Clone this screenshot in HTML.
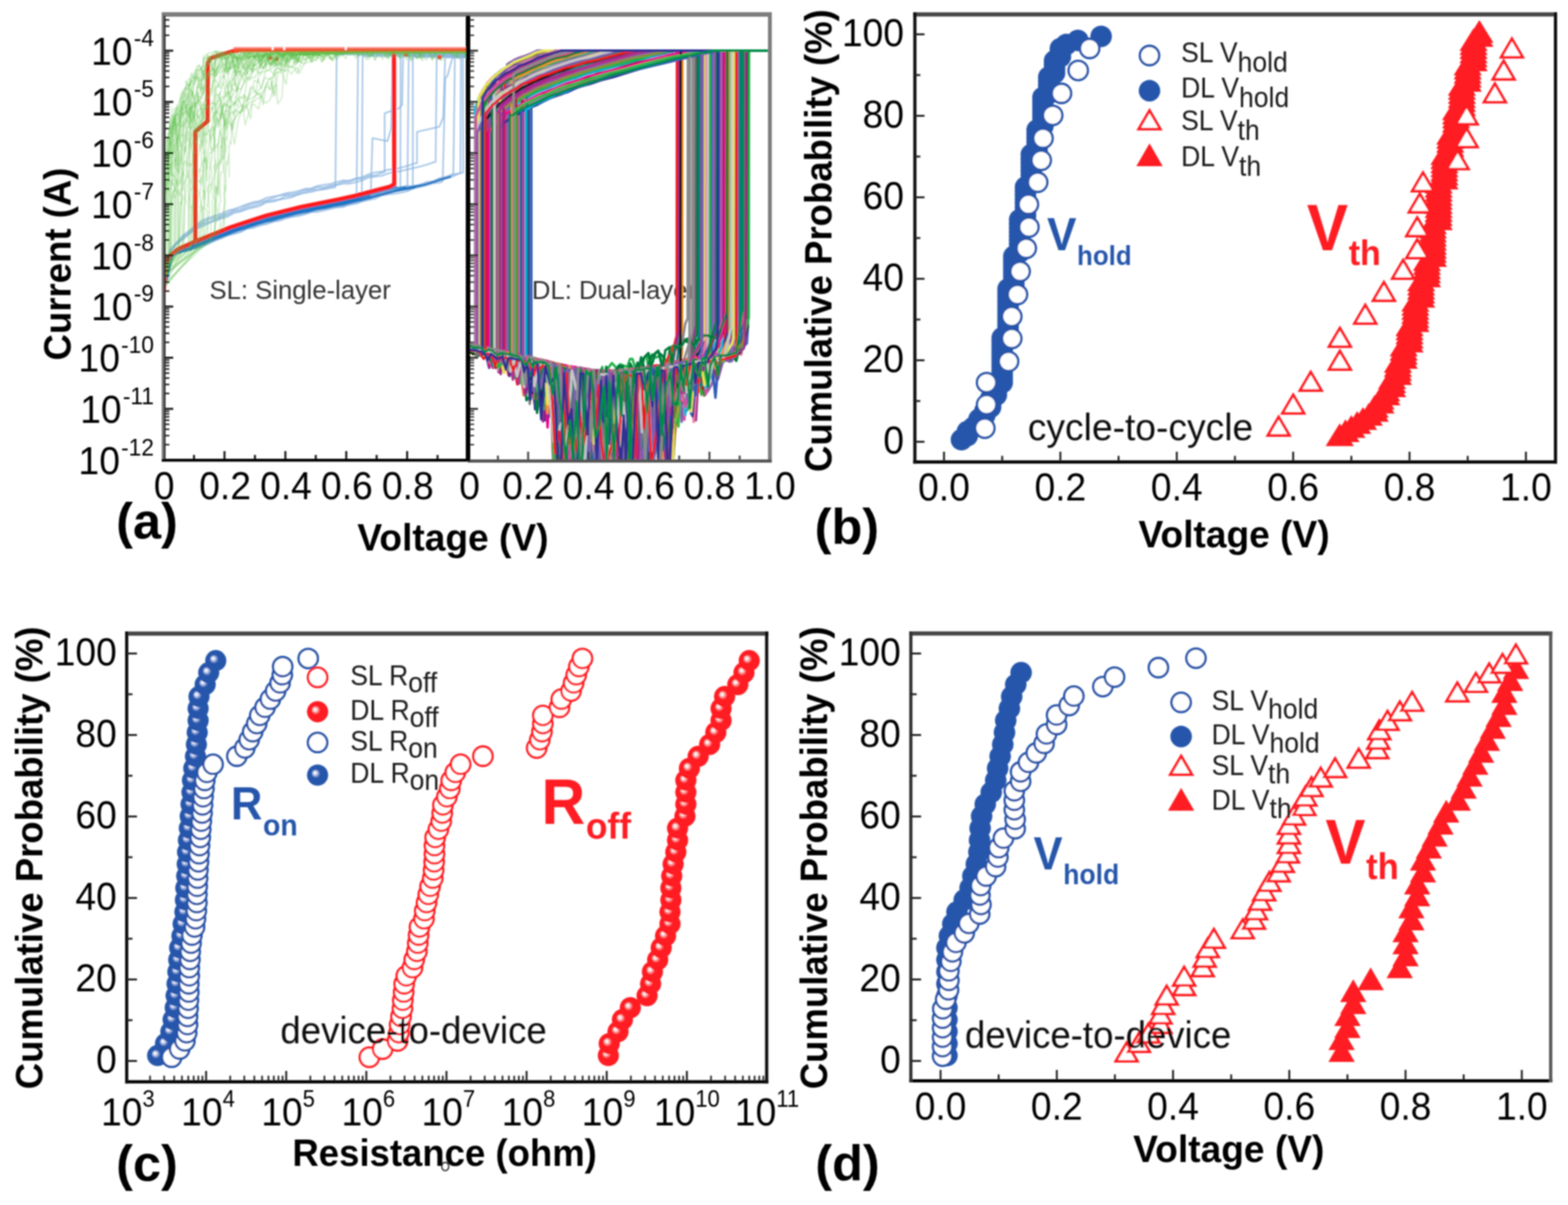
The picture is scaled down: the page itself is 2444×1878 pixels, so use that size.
<!DOCTYPE html>
<html lang="en"><head><meta charset="utf-8"><title>Figure: SL vs DL switching statistics</title>
<style>
html,body{margin:0;padding:0;background:#fff;}
body{width:2444px;height:1878px;overflow:hidden;}
svg{display:block;font-family:"Liberation Sans", Arial, sans-serif;}
</style></head><body>
<svg xmlns="http://www.w3.org/2000/svg" width="2444" height="1878" viewBox="0 0 2444 1878">
<defs>
<radialGradient id="gr" cx="0.5" cy="0.5" r="0.5" fx="0.36" fy="0.38">
<stop offset="0" stop-color="#fff"/><stop offset="0.14" stop-color="#ffe4e4"/><stop offset="0.42" stop-color="#ff1e24"/><stop offset="1" stop-color="#ff1e24"/></radialGradient>
<radialGradient id="gb" cx="0.5" cy="0.5" r="0.5" fx="0.36" fy="0.38">
<stop offset="0" stop-color="#fff"/><stop offset="0.14" stop-color="#e0e4fa"/><stop offset="0.42" stop-color="#2756ab"/><stop offset="1" stop-color="#2756ab"/></radialGradient>
<filter id="soft" x="-2%" y="-2%" width="104%" height="104%"><feGaussianBlur stdDeviation="0.9"/></filter>
</defs>
<rect width="2444" height="1878" fill="#fff"/>
<g filter="url(#soft)">
<g id="panel-a">
<text font-size="41.4" text-anchor="start" fill="#333" transform="translate(326.5 466) scale(0.967 1)">SL: Single-layer</text>
<text font-size="41.4" text-anchor="start" fill="#333" transform="translate(829 466) scale(0.967 1)">DL: Dual-layer</text>
<clipPath id="clipSL"><rect x="255" y="26" width="474" height="691"/></clipPath>
<clipPath id="clipDL"><rect x="730" y="26" width="470" height="692"/></clipPath>
<g clip-path="url(#clipSL)">
<path d="M255,452.9 L265,393.3 L275,380.8 L285,373.4 L295,364.5 L305,356.9 L315,353.1 L325,348.1 L335,343.9 L345,340.8 L355,337.5 L365,331.9 L375,329.8 L385,326 L395,323.4 L405,321 L415,315.4 L425,314.5 L435,311.2 L445,309.4 L455,307.4 L465,302.7 L475,300.7 L485,299.3 L495,296.2 L505,295.1 L515,293.3 L522.7,292 L524.8,84.7 L728,84.7" fill="none" stroke="#8db6e0" stroke-width="2.6" stroke-opacity="0.75" stroke-linejoin="round"/>
<path d="M255,455 L265,397.2 L275,390.8 L285,386 L295,382.2 L305,380.6 L315,375.1 L325,370.6 L335,367.1 L345,362.5 L355,361 L365,357.3 L375,352.5 L385,351.2 L395,347.5 L405,343.1 L415,338.9 L425,338.6 L435,335.4 L445,331.8 L455,331.6 L465,327.2 L475,324.5 L485,323.4 L495,322.4 L505,318.3 L515,317 L525,314.9 L535,314.5 L545,312.5 L555,308.6 L555.7,308.5 L558.1,85 L728,85" fill="none" stroke="#8db6e0" stroke-width="2.6" stroke-opacity="0.75" stroke-linejoin="round"/>
<path d="M255,454.5 L265,398.5 L275,389.5 L285,387.2 L295,381 L305,377.7 L315,375.7 L325,370.7 L335,365.8 L345,364 L355,358.3 L365,355.3 L375,351.5 L385,349 L395,345.5 L405,343.9 L415,338.4 L425,335.5 L435,333.7 L445,330.7 L455,329.8 L465,326 L475,323.4 L485,321.7 L495,319.6 L505,318.2 L515,316.6 L525,313.7 L535,311.9 L545,310.8 L555,308.7 L564,305.5 L565.2,87.5 L728,87.5" fill="none" stroke="#8db6e0" stroke-width="2.6" stroke-opacity="0.75" stroke-linejoin="round"/>
<path d="M255,456.8 L265,400.4 L275,393 L285,389.7 L295,387.7 L305,387.5 L315,384.8 L325,379.9 L335,374.3 L345,371.6 L355,366.7 L365,364.2 L375,361.4 L385,356.4 L395,353.1 L405,349.8 L415,349.1 L425,345.4 L435,344.2 L445,340.6 L455,338 L465,335.4 L475,333.2 L485,330.5 L495,327.9 L505,325.6 L515,323.7 L525,323.4 L535,321.2 L545,319 L555,315.4 L565,312.8 L575,310.2 L577.6,310.4 L580.6,215.2 L603.8,220.1 L609.8,200.9 L612.1,85.1 L728,85.1" fill="none" stroke="#8db6e0" stroke-width="2.6" stroke-opacity="0.75" stroke-linejoin="round"/>
<path d="M255,453.7 L265,392.1 L275,378 L285,369.5 L295,362.2 L305,352.7 L315,347.7 L325,342 L335,339.7 L345,336 L355,331.9 L365,327.3 L375,325.7 L385,320.2 L395,317.7 L405,314.5 L415,312.2 L425,308.6 L435,304.9 L445,303.4 L455,302.8 L465,300.2 L475,295.9 L485,295.3 L495,291.8 L505,292 L515,289.6 L525,287.6 L535,283.1 L545,283.4 L555,278.9 L565,278.4 L575,274.1 L585,273.4 L595,269.5 L599.6,268.3 L599.6,176.4 L620.8,169 L626.8,164 L628.3,86.2 L728,86.2" fill="none" stroke="#8db6e0" stroke-width="2.6" stroke-opacity="0.75" stroke-linejoin="round"/>
<path d="M255,454.8 L265,399.6 L275,391.1 L285,388.4 L295,384.2 L305,383.9 L315,380.7 L325,374.6 L335,370.8 L345,368.5 L355,362.3 L365,359.9 L375,355.3 L385,352.1 L395,350.3 L405,347.4 L415,343.3 L425,340 L435,337.7 L445,334.6 L455,332.4 L465,330.7 L475,329.1 L485,326.7 L495,325.7 L505,323.8 L515,322.1 L525,319 L535,317.4 L545,315.7 L555,311.4 L565,309.1 L575,307.3 L585,304 L595,302.5 L605,298.6 L615,296.9 L624,294.8 L624.4,85.4 L728,85.4" fill="none" stroke="#8db6e0" stroke-width="2.6" stroke-opacity="0.75" stroke-linejoin="round"/>
<path d="M255,455.4 L265,397.7 L275,392.6 L285,387.4 L295,382.5 L305,380.3 L315,375 L325,372 L335,368.8 L345,363.6 L355,360.4 L365,357.2 L375,352.8 L385,350.3 L395,348.3 L405,344.5 L415,340.5 L425,337.9 L435,334.9 L445,332.3 L455,330.6 L465,328.8 L475,327.2 L485,325.2 L495,323 L505,319.7 L515,317.4 L525,314.4 L535,314.1 L545,312.1 L555,309.9 L565,307.7 L575,302.7 L585,301.7 L595,297.8 L605,296.9 L615,295.2 L625,292.4 L635,289.4 L637.1,85.5 L728,85.5" fill="none" stroke="#8db6e0" stroke-width="2.6" stroke-opacity="0.75" stroke-linejoin="round"/>
<path d="M255,455.8 L265,400.4 L275,393.5 L285,387.9 L295,386.6 L305,384.1 L315,378.6 L325,374.7 L335,372.1 L345,366.7 L355,363.5 L365,361.6 L375,358 L385,352.5 L395,351.2 L405,346.4 L415,343.4 L425,342.7 L435,340 L445,337.8 L455,333.7 L465,330.4 L475,328.2 L485,327 L495,325.7 L505,322.8 L515,322.3 L525,318.5 L535,317.4 L545,314.6 L555,312.8 L565,309 L575,308.3 L585,304.1 L595,303.4 L605,299.8 L615,297.9 L625,295.8 L635,292 L643.5,291 L643.4,88.9 L728,88.9" fill="none" stroke="#8db6e0" stroke-width="2.6" stroke-opacity="0.75" stroke-linejoin="round"/>
<path d="M255,452.2 L265,391.5 L275,380.1 L285,371.6 L295,363.2 L305,355.6 L315,349.9 L325,346.3 L335,342.9 L345,338.2 L355,334.5 L365,329.3 L375,328.7 L385,323.3 L395,321.4 L405,317.7 L415,314.1 L425,312 L435,310.8 L445,305.7 L455,305.2 L465,303.4 L475,299.1 L485,296.8 L495,295.7 L505,294.1 L515,290.7 L525,288.6 L535,286.2 L545,286.2 L555,283.8 L565,281.1 L575,276.6 L585,275.2 L595,274 L605,270.2 L615,268.3 L625,266.6 L635,263.9 L645,261.7 L655,259.4 L665,256.8 L675,253.3 L679,252.2 L680.7,87.5 L728,87.5" fill="none" stroke="#8db6e0" stroke-width="2.6" stroke-opacity="0.75" stroke-linejoin="round"/>
<path d="M255,456.3 L265,398.1 L275,393.4 L285,387.1 L295,383.2 L305,381.8 L315,378.9 L325,373.3 L335,369.5 L345,364.7 L355,360.5 L365,357.8 L375,354.6 L385,350.9 L395,348 L405,345.3 L415,340.8 L425,338.7 L435,338 L445,335.1 L455,331.9 L465,329.4 L475,328 L485,324.4 L495,322 L505,321 L515,319.2 L525,316.7 L535,314.8 L545,313.5 L555,310.2 L565,308.9 L575,305.9 L585,303.9 L595,300.1 L605,298.2 L615,295.3 L625,292.1 L635,289.9 L645,290.3 L655,288 L665,283.8 L675,282.6 L685,278 L695,275.7 L705,273 L706.6,271.2 L709,89.1 L728,89.1" fill="none" stroke="#8db6e0" stroke-width="2.6" stroke-opacity="0.75" stroke-linejoin="round"/>
<path d="M255,456.7 L265,400.4 L275,393.7 L285,389.4 L295,385.3 L305,383.8 L315,380.5 L325,374.1 L335,372.6 L345,367.4 L355,363.7 L365,360.9 L375,357.4 L385,354.6 L395,351.3 L405,347.2 L415,344.3 L425,340.7 L435,339 L445,337.3 L455,332.2 L465,332.2 L475,330.1 L485,327.5 L495,326.1 L505,321.9 L515,319.8 L525,317.4 L535,315.2 L545,313.2 L555,311.7 L565,311 L575,306.2 L585,304.4 L595,302.6 L605,298.2 L615,297.9 L625,293.3 L635,293.7 L645,291.2 L655,287.6 L665,285.5 L675,282.6 L685,278.3 L695,275.7 L705,271.7 L715,270.5 L717.6,268.7 L718.4,87 L728,87" fill="none" stroke="#8db6e0" stroke-width="2.6" stroke-opacity="0.75" stroke-linejoin="round"/>
<path d="M255,456.7 L265,399.9 L275,392 L285,390.7 L295,386.2 L305,382.7 L315,382.3 L325,376.2 L335,372.8 L345,367.9 L355,364.5 L365,361.6 L375,357 L385,353.6 L395,352.3 L405,347.6 L415,345.9 L425,343.9 L435,339.2 L445,337.6 L455,336.3 L465,331.8 L475,330.4 L485,328.2 L495,326.8 L505,323.2 L515,322.9 L525,321.2 L535,319 L545,316.2 L555,314.7 L565,312.3 L575,308.9 L585,306.6 L595,302.6 L605,301.5 L615,297.4 L625,294.8 L635,295.4 L645,292.5 L655,289 L665,287.6 L675,285 L685,281.6 L695,277.7 L705,275.3 L715,270.8 L722,268.7 L721.5,86.7 L728,86.7" fill="none" stroke="#8db6e0" stroke-width="2.6" stroke-opacity="0.75" stroke-linejoin="round"/>
<path d="M255,451.8 L265,389.2 L275,378.5 L285,367.1 L295,359.6 L305,351.1 L315,343.6 L325,339.6 L335,336.5 L345,333 L355,328.3 L365,325.7 L375,322 L385,318.2 L395,315.1 L405,313.2 L415,308.3 L425,306.5 L435,304.8 L445,301.4 L455,299.9 L465,297.8 L475,294.4 L485,293.5 L495,289.8 L505,288.1 L515,286.8 L525,283.7 L535,281.3 L545,281.2 L555,278 L565,276 L575,271.5 L585,268.8 L595,267.4 L605,264.6 L615,263.4 L625,261.2 L635,258.6 L645,255 L650,254.4 L650,205.4 L684.8,197.6 L690.8,183 L693.8,89.4 L728,89.4" fill="none" stroke="#8db6e0" stroke-width="2.6" stroke-opacity="0.75" stroke-linejoin="round"/>
<path d="M255,456.6 L265,399.9 L275,394.4 L285,390 L295,389 L305,387 L315,383.3 L325,379.9 L335,375.4 L345,370.7 L355,366.9 L365,364.4 L375,361.4 L385,356.4 L395,355.1 L405,351.8 L415,349.1 L425,346 L435,342.1 L445,339.3 L455,337.8 L465,336.8 L475,334.1 L485,330.8 L495,330.2 L505,328 L515,325.8 L525,322.9 L535,322.6 L545,318.9 L555,317.4 L565,313.9 L575,311.5 L585,309.6 L595,304.9 L605,303 L615,301.9 L625,300.2 L635,298 L645,293.6 L655,291.5 L665,289.1 L675,285.7 L685,284.8 L690,282.5 L694,122.1 L697.6,117.8 L703.6,95.4 L706,89.1 L728,89.1" fill="none" stroke="#8db6e0" stroke-width="2.6" stroke-opacity="0.75" stroke-linejoin="round"/>
<path d="M255,454.9 L269,396 L283,390.2 L297,384.4 L311,379.3 L325,372.7 L339,366.6 L353,362.5 L367,356.8 L381,352.6 L395,347.6 L409,342.8 L423,340.2 L437,335.2 L451,332.2 L465,328 L479,326.2 L493,323.3 L507,320.9 L521,317.7 L535,315 L549,311.6 L563,308.6 L577,304.2" fill="none" stroke="#1f75c4" stroke-width="2.6" stroke-opacity="0.8" stroke-linejoin="round"/>
<path d="M255,455 L269,394.8 L283,387.3 L297,382.7 L311,375.7 L325,371.4 L339,364.1 L353,360.4 L367,354.8 L381,350.2 L395,344.8 L409,340.4 L423,337.2 L437,334.2 L451,329 L465,326.7 L479,322.9 L493,321 L507,317.6 L521,315.5 L535,311.4 L549,309.6 L563,305.5 L577,300.9" fill="none" stroke="#1f75c4" stroke-width="2.6" stroke-opacity="0.8" stroke-linejoin="round"/>
<path d="M255,455.3 L269,396 L283,386.9 L297,382.3 L311,375.4 L325,371.2 L339,364.9 L353,359.2 L367,354.2 L381,348.9 L395,344.6 L409,341.3 L423,337.1 L437,333.4 L451,330.3 L465,327.3 L479,323.9 L493,321 L507,318.1 L521,315 L535,312.7 L549,309.7 L563,305.3 L577,301.1 L591,297.8" fill="none" stroke="#1f75c4" stroke-width="2.6" stroke-opacity="0.8" stroke-linejoin="round"/>
<path d="M255,454.5 L269,394.9 L283,386.5 L297,382.4 L311,376.1 L325,369.8 L339,365.4 L353,359.8 L367,353 L381,348.7 L395,345.6 L409,340.6 L423,335.5 L437,333.2 L451,329.2 L465,325.7 L479,322.5 L493,319.1 L507,316.7 L521,314.3 L535,312.3 L549,309.3 L563,305.5 L577,301.2 L591,297.7 L605,293.9 L619,290" fill="none" stroke="#1f75c4" stroke-width="2.6" stroke-opacity="0.8" stroke-linejoin="round"/>
<path d="M255,456.2 L269,396.9 L283,391 L297,387.9 L311,381 L325,376.5 L339,370.3 L353,364.6 L367,359.7 L381,355.7 L395,350 L409,347.2 L423,343.4 L437,339 L451,335 L465,332.4 L479,328.8 L493,325.2 L507,323 L521,319.7 L535,316.6 L549,314 L563,311.2 L577,307.6 L591,304.3 L605,300.2 L619,297.2 L633,293.8 L647,291.4 L661,288.4 L675,283.5 L689,279.8 L703,275.5" fill="none" stroke="#1f75c4" stroke-width="2.6" stroke-opacity="0.8" stroke-linejoin="round"/>
<path d="M255,455.2 L269,396.2 L283,388.6 L297,384.1 L311,378.4 L325,373.7 L339,367.3 L353,360.9 L367,355.9 L381,351.5 L395,348.2 L409,342.6 L423,338 L437,335.3 L451,332.4 L465,329.2 L479,325.6 L493,323.3 L507,318.9 L521,318 L535,314.9 L549,311.8 L563,307.1 L577,303 L591,299.6 L605,295.6 L619,292.9 L633,291.2" fill="none" stroke="#1f75c4" stroke-width="2.6" stroke-opacity="0.8" stroke-linejoin="round"/>
<path d="M255,455.3 L269,398.9 L283,392.4 L297,389.4 L311,382.2 L325,377.6 L339,370.6 L353,366.6 L367,360 L381,356.5 L395,350.8 L409,346.2 L423,344.3 L437,339.3 L451,335.8 L465,333 L479,330.3 L493,326.5 L507,324.8 L521,321.2 L535,319.3 L549,315.6 L563,312 L577,308.8 L591,304.7 L605,300.9 L619,297.6 L633,295.1 L647,292.4" fill="none" stroke="#1f75c4" stroke-width="2.6" stroke-opacity="0.8" stroke-linejoin="round"/>
<path d="M255,455.5 L269,396.9 L283,392.9 L297,388.1 L311,382.9 L325,377 L339,370.3 L353,365.7 L367,361 L381,355.9 L395,351.8 L409,347.3 L423,342.1 L437,338.9 L451,336.5 L465,331.7 L479,328.8 L493,325.4 L507,323.9 L521,320.5 L535,317.4 L549,313.8 L563,312 L577,307.9 L591,303.5 L605,300.7 L619,295.9 L633,293 L647,289.8 L661,288 L675,283.7 L689,278.8 L703,275.4" fill="none" stroke="#1f75c4" stroke-width="2.6" stroke-opacity="0.8" stroke-linejoin="round"/>
<path d="M255,456.2 L269,397.7 L283,390.9 L297,385.1 L311,379.7 L325,374.5 L339,368.1 L353,362.6 L367,358.7 L381,352.5 L395,348.8 L409,345.2 L423,339.7 L437,337.7 L451,333.4 L465,329.6 L479,327.5 L493,323.6 L507,322.1 L521,318.9 L535,314.8 L549,311.7 L563,309.2" fill="none" stroke="#1f75c4" stroke-width="2.6" stroke-opacity="0.8" stroke-linejoin="round"/>
<path d="M255,454.5 L269,395.6 L283,389.5 L297,385.1 L311,377.7 L325,371.9 L339,366.2 L353,362.3 L367,357.3 L381,351.6 L395,348 L409,342 L423,339.4 L437,335.2 L451,331.6 L465,328.2 L479,325.1 L493,322 L507,320 L521,317.3 L535,313.3 L549,311.6 L563,307.7 L577,303" fill="none" stroke="#1f75c4" stroke-width="2.6" stroke-opacity="0.8" stroke-linejoin="round"/>
<path d="M255,455.8 L269,398.9 L283,392.2 L297,388.7 L311,383.2 L325,376.9 L339,371.5 L353,366 L367,359.9 L381,356.2 L395,350.5 L409,346.6 L423,343.7 L437,340.2 L451,335.7 L465,331.5 L479,330.2 L493,326.5 L507,322.8 L521,320.7 L535,318.8 L549,314.7 L563,312.3 L577,307 L591,303.7 L605,299.6 L619,297.2 L633,293.3 L647,291.5 L661,288 L675,284.2 L689,279.2 L703,275.1" fill="none" stroke="#1f75c4" stroke-width="2.6" stroke-opacity="0.8" stroke-linejoin="round"/>
<path d="M255,455.9 L269,395.8 L283,386.6 L297,381.3 L311,375.7 L325,370.6 L339,363.4 L353,359 L367,352.9 L381,349.3 L395,345.1 L409,339.6 L423,336.3 L437,333.1 L451,328.7 L465,324.9 L479,322.9 L493,319 L507,316.7 L521,314.3 L535,310.8 L549,307.8 L563,304.7 L577,301.2 L591,297.1 L605,294.5" fill="none" stroke="#1f75c4" stroke-width="2.6" stroke-opacity="0.8" stroke-linejoin="round"/>
<path d="M255,456.5 L258,413 L263.7,399.3 L277.4,388.3 L290,382.7 L304.5,376.2 L304.5,205 L323.5,189 L324,98 L328,91 L345,85 L362,80 L375,78" fill="none" stroke="#ff1e1e" stroke-width="6.5" stroke-linejoin="round"/>
<path d="M364,75.5 L728,75.5" fill="none" stroke="#ff8f8f" stroke-width="5" stroke-opacity="0.85" stroke-linejoin="round"/>
<path d="M364,78.5 L728,78.5" fill="none" stroke="#f0562f" stroke-width="5.5" stroke-linejoin="round"/>
<path d="M614,80 L614.5,287 L607.8,291 L550,306 L524.5,311.5 L469.6,322.5 L414.7,336.2 L359.8,354 L304.5,376.2" fill="none" stroke="#ff1e1e" stroke-width="6.5" stroke-linejoin="round"/>
<circle cx="421" cy="90" r="3.5" fill="#ff3a30"/>
<circle cx="431" cy="92" r="3.5" fill="#ff3a30"/>
<circle cx="633" cy="85" r="3.5" fill="#ff3a30"/>
<circle cx="685" cy="89" r="3.5" fill="#ff3a30"/>
<path d="M728,79.7 L724.8,81 L719.5,78.6 L712.6,88.1 L708.7,78.8 L702.2,83 L697.6,81.7 L690.7,79.3 L683.3,78.6 L679.9,80.3 L672.7,82.2 L667.9,79.3 L661.9,78.7 L655.9,78.9 L651.2,81.3 L647.2,81.8 L643.2,79.1 L636.9,80 L633.4,83.2 L627.1,81.9 L620.3,81.6 L616.9,79.1 L612.4,89.5 L607,81 L600.1,79.7 L596.8,80 L590.5,82.3 L584.6,93.2 L580.6,78.9 L575.1,80.8 L568.3,82.4 L560.5,88.4 L555.1,79.9 L551.2,83.6 L545.2,78.7 L541.3,82.1 L538.2,83.3 L531.7,82.8 L526.5,81.6 L521.1,79.5 L513.7,84.2 L510.1,84 L505.3,81.4 L502.2,79.4 L495.4,81.2 L488.5,80.5 L481.6,80.1 L475.3,82.2 L471.6,79.4 L464.8,83.1 L459.9,84.9 L453.6,90.5 L446.2,83.1 L442.2,83.6 L437.4,85.1 L430.5,79.3 L424.3,83.4 L417.1,84.6 L413.6,79.7 L406.3,95.4 L398.5,81.3 L391.2,113.6 L387.5,88.9 L381.1,92.7 L375,94.7 L371.7,86 L367.9,119.7 L362.8,89.6 L356.1,115.2 L348.6,82.2 L343.7,87.5 L338,92.1 L332.9,112.6 L327.1,91.2 L322.3,85.3 L320.3,85.9 L316.6,88.9 L317,96.6 L315.4,111.2 L310.2,101 L307.2,105.7 L305.7,108.5 L302.5,129.3 L299,149.3 L296.2,122.6 L294,123.6 L289.8,137.5 L290.9,177.3 L288.3,148.7 L284.5,142.6 L280.7,152.9 L281,176.7 L277.5,167.3 L275.4,168.3 L276.8,178.2 L273.2,179.3 L270.5,202.8 L270.1,185.6 L267.7,215.7 L265.3,200.9 L264.2,195.1 L263.7,200 L264.2,211.8 L261.3,242.5 L261.8,214.8 L259.2,220.3 L260.4,224.7 L258.8,244.6 L259.9,235.6 L258.2,242.2 L256.8,251.9 L256.7,250.7 L257.1,259.1 L256.1,265.8 L256.5,268.6 L255.7,273.5 L255.6,279.1 L258.1,281.4 L256.6,292.4 L258.4,293.8 L254.6,297.8 L256.7,303.6 L256,428 L256,422.9" fill="none" stroke="#5cbf4a" stroke-width="1.7" stroke-opacity="0.33" stroke-linejoin="round"/>
<path d="M728,93.7 L723.3,79.7 L718.6,81.7 L714.5,81.8 L707.1,83.4 L703.6,81.2 L697.5,82.2 L690,82.9 L684.6,79.3 L678.3,79.2 L673.7,79.7 L668.9,83.1 L661.7,82.1 L657.4,80.9 L650.9,91.1 L645.2,79.9 L638.6,81.7 L634.6,85.1 L630.3,82 L622.7,80.5 L616.2,81 L610.4,81.7 L607.1,85.1 L601.1,80.2 L594.3,78.8 L589.4,81.8 L585.6,79.7 L580,80.1 L572.3,80.7 L565.5,78.9 L558.1,83 L554.2,79.1 L550.8,81.7 L546.5,79.4 L541.5,78.7 L538,83.7 L531.9,81 L524.2,83 L520.2,83.3 L514.5,81.1 L509.3,84.2 L502.4,81.9 L498,86 L494.2,81.6 L490.2,85.7 L484.2,80.5 L477.5,79.2 L470.8,82 L464.5,86.7 L456.7,82.6 L449.6,80.7 L444.4,86.6 L438.2,81.8 L430.9,102.4 L423.6,86.9 L420.2,92.8 L415.2,82.7 L409.8,89.6 L406.2,101.2 L402.3,82.9 L394.8,82.7 L388.8,83.9 L385,83.1 L379,94.8 L371,88.6 L365.5,86.2 L359.4,109.5 L353.7,88.5 L347.8,120.3 L344.4,82.4 L338.2,88.1 L331.6,101.6 L328.3,89.1 L320.6,89.5 L316.8,91.3 L316.6,93.3 L317.2,103.7 L314.1,104.2 L307.8,102.5 L305.4,124.6 L300.6,118.7 L299.4,125.5 L296.9,128.1 L294.3,133.8 L289.3,125.4 L290.6,134.5 L285.4,140.3 L284.4,154.4 L282.1,145.7 L282.1,153.6 L280.6,154.5 L277,167.6 L276.3,169 L272.3,209.9 L270.2,182.4 L269.1,178.5 L265.6,182.3 L264.4,203.8 L265.1,205.7 L264.8,202.4 L262.2,210.7 L262.3,215.2 L263,214.3 L260.7,219.2 L259.2,243.7 L259.2,243.9 L261.4,234.6 L258,280 L257.5,242.7 L257.4,259.8 L256.1,271.7 L256.8,272.7 L258.4,263.9 L257.7,282.6 L257.9,277 L258.3,281.2 L257.5,285.3 L258.1,288.8 L256.5,303.3 L258.2,305.9 L257.5,422.3 L256,434.4" fill="none" stroke="#5cbf4a" stroke-width="1.7" stroke-opacity="0.33" stroke-linejoin="round"/>
<path d="M728,80.3 L723.6,80.8 L717.3,79.4 L710.1,88.2 L702.1,80.3 L695.7,83 L688.7,87.7 L681.7,78.8 L677,82 L669.7,83.3 L662.2,79 L656.1,81.2 L651.6,79 L645.2,81.2 L639.5,79.2 L633.8,93.1 L626,82.7 L620,79 L615.1,83.2 L607.7,83.1 L600,80.2 L593.5,78.7 L590,83.3 L584.9,79.7 L580.2,86.8 L576,79 L570.6,82.4 L567.4,79.2 L563.9,82.7 L556.7,82.9 L548.9,80.7 L542.3,79.1 L537.6,82.3 L534.3,79.1 L527.9,84.4 L523.5,84.1 L517.9,82.8 L510.3,83.7 L505.7,79 L500.1,84.9 L494.6,85.6 L487.2,80.3 L480.4,83.7 L472.6,79.7 L464.9,90.5 L457,86.6 L451.8,82.4 L446.9,83.6 L443.8,81.5 L438.9,85.5 L432.7,83.7 L425.5,84.7 L419.1,82 L413.3,97.1 L409.5,80.1 L404.8,92 L400.1,101.4 L394.3,103.2 L389.5,82.5 L383.8,81.2 L378.5,88.5 L372,101.7 L367.6,118.5 L364.2,86.3 L358.7,86.4 L351,91.4 L347.5,91 L342.5,87.4 L335.9,79.1 L328,87.8 L324.9,100.7 L321.9,89.9 L317.5,90.1 L318.9,92.8 L315.6,104.5 L311.8,110.5 L308.8,108.9 L304.3,109 L301.3,117.1 L298,113.9 L296.8,122 L293.3,160.5 L293.6,130.6 L290.6,133.8 L287.1,141.8 L284.2,154.5 L283.4,162.7 L282.5,151.3 L278.6,174.2 L278.7,180.7 L274.5,210.6 L272.3,168.6 L270,193.9 L270.3,198.1 L265.8,184.3 L264.4,208.8 L265.6,227.2 L265.2,225.4 L263.3,208.3 L261.8,206.9 L261,220.2 L262.4,218.4 L262.5,219.4 L262.3,250.2 L261.8,242.4 L259.5,245.8 L260.3,258.8 L259.4,264.6 L257.3,274.8 L257.8,262.5 L258.8,265.1 L259.9,282 L257,281.2 L259.1,288.3 L259.3,283.4 L259.1,304.1 L257.6,295.9 L255.6,312.5 L256,446.7 L256,438.7" fill="none" stroke="#5cbf4a" stroke-width="1.7" stroke-opacity="0.33" stroke-linejoin="round"/>
<path d="M728,80.1 L721.4,79.1 L713.6,80.1 L706.1,82.1 L701.3,83.4 L697.1,79.1 L694,81.7 L689.6,82.5 L682.8,81.6 L677.8,80.2 L670.6,83 L664,81.7 L657.8,83.2 L650.3,79.6 L643.2,80.4 L639.9,81.8 L636.1,83.3 L628.6,80.6 L623.5,82.9 L618.8,82.3 L614.1,79.2 L609.8,78.5 L602,90 L596.6,79.5 L589.4,80.9 L584.7,78.8 L579.3,80.7 L572.2,83.5 L568.9,80.4 L561.1,80.2 L558,81.3 L551.6,83.6 L545.9,78.8 L540.7,79.2 L537.5,83 L533.9,81.8 L526.8,79.7 L521.9,83.7 L514.6,79.7 L508.3,80.1 L502.7,79 L496.7,81.5 L491,80.5 L483.1,90.1 L478,86.7 L472.7,87.1 L465.8,79.3 L458.4,84 L454.4,81.4 L450,95.9 L446.4,85.2 L440.5,88.1 L435.7,84.3 L427.9,78.8 L423.7,80.3 L415.7,87 L411.9,86.3 L404.6,92 L398.6,78.7 L394.5,89.4 L387.3,105.1 L382.5,86.2 L377.5,80.9 L373.1,90.8 L366.9,89 L358.9,85.8 L351.6,87.7 L346.1,87.3 L339.2,93.2 L333,86.2 L327.7,95.3 L324.9,85.8 L324.5,90.2 L319.8,94.4 L320.2,98.7 L317.7,123.2 L312.7,105.2 L309.1,109.4 L306.8,111.6 L302.1,116.7 L301.5,125.6 L298.2,126.1 L295.8,132.1 L293.7,134.8 L290.2,139.1 L290,140 L287.3,149.8 L284.8,178.8 L283.3,162.8 L280.4,176.7 L277.1,167.9 L276.3,163.2 L273.3,173.7 L272.4,182.3 L269.4,194 L266.1,206.3 L265.1,192.7 L267.1,207.8 L266.2,206.6 L264.5,248 L264.1,213.7 L264.6,237.5 L263.2,251.8 L264.1,232.6 L261.4,278.2 L263,238.7 L260.4,260.9 L262.5,251.3 L259.7,254.8 L261.8,264.5 L260.1,269.1 L259.6,272.8 L258.2,278.4 L259.4,283.4 L258.9,288.8 L258.8,299.3 L259.3,299.1 L256.8,302.3 L256,436.6 L256,432.8" fill="none" stroke="#5cbf4a" stroke-width="1.7" stroke-opacity="0.33" stroke-linejoin="round"/>
<path d="M728,88.4 L721.1,78.7 L715.8,80.4 L712.3,80.9 L707.6,79.5 L704,82.7 L697.7,78.8 L693.2,79 L689.9,92.6 L682.1,92.3 L676.4,80.9 L669.1,82.1 L662.6,81.3 L656.2,83.3 L649.4,91.8 L644.7,79 L638.3,80.5 L630.5,82.3 L626.1,81.3 L618.7,78.6 L613.6,80.1 L609.4,78.9 L604.2,82.5 L600.8,81 L597.7,81.9 L589.9,80.5 L583.8,78.5 L577.4,79.1 L573.2,80.4 L569,81.4 L563.8,79.1 L559.4,81.3 L552.4,82.3 L546.5,83.6 L541.5,81.5 L536.1,80.1 L532.4,80.2 L528.3,82.7 L522.3,79.3 L515.2,84.4 L510.7,83.2 L506,79.4 L498.2,82.3 L494.6,85.9 L489.6,80.8 L483.4,83.7 L478.2,86.8 L473.9,82.1 L467.4,86.1 L461.7,100 L454.3,86.4 L447.1,84.3 L439.3,82.8 L435.5,82.8 L430.4,83 L425.7,88.6 L420.9,105.7 L416,84.1 L412.2,101 L408.8,89.2 L405.2,80.1 L398.1,88.7 L390.8,85.6 L386.6,81.5 L383.2,82.5 L379.3,89.9 L374.8,85.5 L368.9,91.2 L363.1,83.6 L358.9,86.3 L355.4,90.5 L351.9,85.3 L344.8,83.4 L339.2,80.1 L332.8,81 L323.4,83.3 L322.8,88.8 L323.2,94.2 L321.2,108.4 L316.1,111 L311,114.7 L310.2,119.7 L306.2,122.3 L303,119.8 L298.7,118.7 L298.2,126.4 L296,128.1 L293.9,139.7 L288.9,137.5 L287.3,142.7 L286.9,146.2 L284.7,173.3 L281.1,162.6 L281.7,173.5 L276.3,177.6 L274.9,169 L272.5,196.2 L271.2,178.1 L269.2,187.2 L265.4,198.5 L266.8,194.2 L265.6,206.9 L265.8,208 L263.8,204.1 L265,218.7 L265.4,221.5 L263.2,228.7 L263.9,239.8 L261.6,234.8 L259.7,255 L262.8,283.6 L260.3,250.1 L261.7,259.8 L259.7,259.2 L261.3,268.5 L258.1,280.8 L258.8,276.1 L259.6,288 L260.3,287.3 L258.2,294.3 L260.2,301 L260.2,301.3 L257.5,411.2 L256,443.1" fill="none" stroke="#5cbf4a" stroke-width="1.7" stroke-opacity="0.33" stroke-linejoin="round"/>
<path d="M728,82.3 L724.8,85.1 L721.6,81.2 L718.1,81.8 L711.3,79.4 L706,81.4 L700.5,80.4 L694,80.6 L688.6,80.7 L682.7,79.3 L675,81.6 L670,80.3 L664.1,80.3 L656.3,80.8 L649.7,82.5 L641.8,79.9 L634,82.9 L626.9,80.2 L621.3,82.6 L617.5,81.6 L611.3,79.8 L605.3,80.5 L600.3,81.5 L593.1,79.9 L587.8,83 L581.7,79.7 L577,78.6 L570.9,83.1 L564.6,82.9 L558.2,80.3 L554.5,82.1 L548.3,78.8 L542.1,82.7 L535.2,79.3 L530.5,79.7 L525.9,79.1 L520.8,89.6 L513.9,91.7 L509.6,87 L502,81.8 L497.2,83.2 L490.2,79.2 L485.4,86.7 L480.2,78.9 L476.7,95 L468.9,84 L463.3,83.6 L456.3,90.3 L451.6,81.2 L444.5,82.6 L436.8,79.8 L433.7,82.4 L427.6,99.6 L421.8,101.4 L414.1,79.1 L408.3,87.9 L403.6,85.3 L398.9,84.7 L391.7,98.9 L385.2,108.4 L379.4,79.1 L372.8,87.6 L369.5,80.6 L366.3,119.2 L360.3,80.4 L354,90.3 L349.6,90.7 L346.3,91.9 L341.1,88.7 L337.6,81.4 L333.7,120.2 L328.9,94.2 L328.2,95.4 L324,92.1 L324.9,102.7 L318.8,103.6 L318.3,106.7 L314.1,120.6 L310.6,136.6 L308.1,115.2 L301.7,120.5 L302.8,124.2 L298.9,129.1 L294.8,135.1 L293.4,145.4 L292,154.7 L290,158 L286,157.6 L284,157.5 L283.9,162 L281.3,183.5 L280.1,177.3 L275.3,228.2 L274.2,180.5 L269.9,188.9 L269.1,245.8 L266.9,196.4 L269.6,199.7 L268.2,234.8 L267.1,220.9 L265.9,215.2 L264.3,226.1 L266.7,224.5 L265.3,229.4 L262.5,240.4 L262.3,242.5 L262.6,245.2 L262.1,253.3 L263,271.5 L263.5,259.7 L261.9,268.8 L263.4,287.8 L262.8,280.3 L260.2,286.1 L261.5,298.1 L262.8,293.1 L259.3,298.7 L259.9,303.4 L258,409.9 L256,437.9" fill="none" stroke="#5cbf4a" stroke-width="1.7" stroke-opacity="0.33" stroke-linejoin="round"/>
<path d="M728,80.4 L724.4,79.5 L719.1,78.7 L713.2,80.8 L709,82.1 L701.2,83 L694.6,81.7 L689.3,79.8 L685.1,79.3 L679,83 L674.5,78.6 L669.3,80.2 L665.3,81.8 L660.5,81.5 L653.4,80.8 L648,80 L641.5,79.3 L636.7,82.8 L632.6,82.6 L626.5,83 L619.2,79 L614,83.4 L609.8,81.8 L605.6,91.9 L602,80.5 L598.2,80.3 L594.8,83.3 L589.9,79.1 L586.2,82.1 L583.1,81.3 L578.2,82.8 L573.5,80.4 L567.6,83.1 L563.5,82 L557.2,83.5 L551.1,80 L545.9,80.8 L539.4,79 L532,82.5 L524.8,84.5 L518,94.6 L510.8,84.3 L504.5,94 L499.8,84.4 L493.2,84.5 L489.1,82.3 L481.2,82.6 L474.7,80.8 L467.7,82.8 L462,84.5 L454.7,79.5 L447.6,86.2 L442.2,80.9 L436,102.2 L430.7,88.2 L426.8,98.8 L421.3,84.5 L414.5,84.7 L408.2,87.1 L401,79.9 L396.8,78.7 L392.1,78.8 L387.6,88.7 L382.8,79.9 L378.7,80.1 L372.6,84.5 L365.7,113.9 L359.9,79.2 L356,110.3 L350.3,91.8 L344.9,80.2 L337.5,111.3 L334.3,85 L330.7,85.2 L328.1,89.5 L325.1,92.8 L323.3,98.2 L319.7,102.2 L318.8,121.3 L313.2,105.8 L309.8,112.8 L307.1,115.4 L305.9,126.4 L300.1,132 L300.9,129.9 L296.4,143.5 L295.3,163 L292.7,150.8 L291.6,145.9 L287.5,168.3 L286.8,158.7 L283.8,157.8 L281.2,198.3 L281,178.1 L277.4,180.7 L276.1,178 L273.6,181 L271.1,206.9 L269.5,195.1 L267.5,212.9 L267.9,206.7 L269.3,209.9 L266.4,214.8 L265,264.3 L264.4,221.7 L264.6,242 L263.9,270.6 L263.1,241.3 L263.8,251.5 L263.6,251.6 L262.9,251.1 L264,262.3 L263.1,266.7 L263.9,283.1 L263.5,276.5 L260.3,288.5 L261.4,286.6 L263.3,293.9 L261.7,296.1 L261.4,306.2 L261.4,409.1 L256,431.9" fill="none" stroke="#5cbf4a" stroke-width="1.7" stroke-opacity="0.33" stroke-linejoin="round"/>
<path d="M728,79.7 L721.4,79 L713.9,79.7 L706.2,79.8 L701.5,81.1 L697,81.1 L692,78.5 L688,82.7 L684.5,78.8 L676.8,82.3 L670.1,79.1 L666.9,79.6 L662.1,83.3 L655.9,92.5 L651,82.3 L643,80.3 L639.8,82.5 L634.2,80.4 L627.5,82.6 L620.1,80.2 L614.3,83.2 L606.7,81.8 L599.2,80.8 L594.6,82.7 L589.2,80.4 L581.8,83.1 L575.7,88.5 L571.6,79.4 L568.2,78.6 L563,80.2 L559.6,82.7 L553,82.5 L545.6,81 L538.1,79.7 L531.8,82.8 L524.9,81.3 L518.1,78.6 L510.4,83.5 L503.8,81.8 L498.9,80.1 L491.4,84.2 L485.8,80.9 L480,84.2 L472.7,84.6 L465,78.7 L461.4,96.4 L455.5,87 L449,100.2 L443.9,83.5 L438.4,103.2 L433.5,85.8 L429.3,96.3 L421.5,79.5 L416.8,95 L409.6,107 L404.2,80.4 L400.3,79.7 L394.6,82.3 L386.7,82.7 L379.6,109 L375.6,97.6 L372.6,93 L365.4,84.7 L358.3,103 L353,81.3 L345.7,85.3 L341.2,91 L336.9,79.6 L332.1,91.3 L331.8,91.6 L330.2,93.5 L327.4,97.9 L322.7,102.5 L320.4,106.2 L316.5,123.6 L313.3,126.5 L309,124.9 L305.5,118.6 L303.2,132.2 L302,128.2 L300.5,152.2 L297.7,138.5 L296,141 L293.9,151 L288.8,201.5 L289.3,162 L285.5,156.6 L283.8,174.3 L282.3,193.5 L276.8,177.1 L277.8,180.3 L272.9,196.9 L269.9,182.1 L268.7,196.9 L269.5,197.5 L270,209.8 L270.9,220.3 L268.4,219.5 L267.1,229.1 L265.9,245.4 L266.1,237 L267,243.8 L267,262 L263.9,254.6 L266.3,265.3 L262.9,272.7 L263.1,271.4 L263.3,267.4 L262.5,274.1 L263,283 L263.2,283 L263.4,287.1 L262,293.6 L264.6,302 L263.7,306.3 L262.3,400.1 L256,428" fill="none" stroke="#5cbf4a" stroke-width="1.7" stroke-opacity="0.33" stroke-linejoin="round"/>
<path d="M728,83.4 L720.8,81.8 L714.3,81.5 L711.2,82.7 L706.9,79.1 L701.8,82.3 L694.6,81.4 L686.9,80.4 L681.8,85.5 L674.1,82.1 L670.9,79.2 L664.4,94.2 L657.7,82.9 L649.8,80.2 L645.3,83.1 L641,81.4 L636.8,80.2 L630.3,79.2 L622.6,83 L617.1,79.8 L611.9,84.8 L604.6,83 L601.4,79.7 L597.5,81.7 L591.1,78.5 L587,83.2 L580.7,81.5 L574.2,93.2 L570.3,79.7 L564.7,83.5 L557.5,79.4 L551.9,81.2 L545.8,81.9 L537.9,80.5 L533,84.2 L528.1,78.8 L523.4,81.6 L518.1,82.9 L514.1,82.1 L506.8,79.7 L500.9,79.2 L496.5,79.3 L490.8,85.7 L487.1,80.1 L484.1,84.6 L479.3,82 L474.8,86.6 L467.2,81.5 L461.7,79.6 L454.1,85.7 L450.4,80.9 L446.4,80.6 L441.8,86.4 L438.2,84.9 L431.1,78.8 L423.2,100.5 L418.9,95.5 L412.1,86.4 L407.4,88.5 L403.9,84.5 L398.4,89.2 L390.5,80.3 L385,87.3 L380,82.5 L372.1,86.3 L364.8,82.5 L359.8,98.2 L354,114.6 L350.2,80.3 L345.5,82.1 L341.4,79.9 L336.7,86.3 L333.9,88.5 L334.5,92.4 L333.7,110.9 L327.7,101 L322.2,131.9 L319.2,109.6 L315.2,112.8 L311.2,125.5 L310.1,120.4 L307.7,130.5 L304,155.7 L302.9,151.7 L298.2,141.7 L299.5,143.5 L297.1,149.2 L294.8,184.6 L289.1,163.2 L289.3,165.7 L284.8,184.5 L284.9,175.3 L280.9,179.3 L280.6,179.8 L277.6,193.9 L273.2,190.4 L273.5,195 L273.4,258.8 L270.6,208.5 L270.6,207.2 L270.5,230.8 L269.3,222.5 L271.8,229.9 L270.7,231.6 L267.8,245.8 L268.7,274.4 L266.2,264.6 L266.1,254.6 L269.1,254 L265.7,274.5 L265.8,268 L264.5,272 L264.5,280.1 L266.3,284.7 L264.3,302.9 L265.8,304 L264.5,304 L266,307.7 L263.8,394.7 L256,424.2" fill="none" stroke="#5cbf4a" stroke-width="1.7" stroke-opacity="0.33" stroke-linejoin="round"/>
<path d="M728,81.1 L721.2,83.2 L715.3,81.9 L709.5,79 L706,78.8 L702.8,81 L699.6,80.8 L694.1,81.5 L687.5,78.9 L679.7,81.1 L675.1,81.2 L667.2,80.3 L661.5,81.6 L655,82.3 L651.8,80.8 L646.9,79.1 L639.8,83.4 L635,82.4 L630.4,80.6 L627.2,81.7 L622.3,81.2 L614.5,82.3 L608.1,79 L600.3,82.8 L595,78.9 L588.3,81.6 L581,80.9 L576.6,80.5 L573.1,79.3 L565.7,83.1 L560.1,81.3 L555.1,91.2 L549.3,82.5 L542.5,81.8 L538.1,82 L532.2,88.2 L527,79.4 L520.1,85 L514.7,80.2 L506.7,83.1 L502.6,80.3 L496.8,78.9 L490,84.6 L485.4,79.1 L481.8,86.5 L478,80 L473.8,85.6 L466.8,85.7 L462,85.7 L457.6,91.9 L452.3,87 L448.4,84 L444.5,84.8 L441.4,85.9 L438.4,88.1 L434.9,81.5 L427.4,83.2 L420.1,87.1 L416.9,87.1 L410.3,79.9 L404.3,80.6 L399.4,83.2 L394.3,88.7 L387.3,88.2 L380,92 L376.7,90.3 L373.6,104.8 L369.6,89.1 L362.2,89.9 L355.6,91.9 L350.9,113.2 L345.3,86.2 L339.7,87.9 L337.6,87.6 L335.7,92.4 L333.8,98.5 L328.3,110.9 L324.8,118 L323.4,123.5 L318.2,122.5 L316.4,112.1 L313.1,143 L311.1,127 L307.9,138.7 L303.7,166 L299.8,149.2 L299.8,150.8 L295,199.3 L296.4,163.9 L290.7,162.8 L290.6,165.4 L288.5,168 L283.4,171.5 L281.4,176.1 L281.4,181.4 L278.1,197 L274.9,194.6 L275.2,198.1 L272.8,207.3 L275.1,223.2 L274.4,218.9 L271.7,236.5 L272.6,224.6 L272.7,223.9 L268.8,235.8 L270.7,238 L269.5,250.2 L267.5,258.2 L268.4,288.9 L268.4,268.7 L267.5,271.4 L269.3,284.7 L266.5,280 L266.8,280.2 L266.4,289.6 L267.9,300.1 L268.7,305.1 L268.1,306.7 L266,318.6 L265.3,393.4 L256,423.6" fill="none" stroke="#5cbf4a" stroke-width="1.7" stroke-opacity="0.33" stroke-linejoin="round"/>
<path d="M728,79.6 L722.2,81.2 L715,81.3 L707.2,81.2 L702.5,80.9 L695,83.2 L688.2,78.5 L680.8,81.8 L675,83.4 L669.7,83.2 L664.8,81.2 L659.3,79.5 L651.9,79.2 L644.7,81.4 L639.6,80.6 L635.5,78.8 L632.1,82 L624.2,82.3 L620.8,83 L615.5,81.3 L611.6,83.1 L604.5,78.9 L597.2,80 L591.8,80.3 L586.5,81.7 L581.4,81.1 L575.9,78.8 L571.9,80.9 L566.2,81 L561,81.9 L554.3,82.3 L551,79.8 L547.9,81.9 L541.1,84.1 L536.7,79.3 L530.6,79.8 L525.5,83.3 L520.2,79.5 L515.1,82.1 L509.1,82 L505.4,80.3 L500.9,81.7 L496.3,81.1 L492,85.2 L484.5,79.2 L480.9,80.7 L473.5,86.9 L470.4,83.3 L465.4,79 L460.4,78.8 L455,82.6 L447.3,81.6 L442.5,81 L436.5,81.1 L428.8,83.8 L421.3,84.3 L414.9,93 L408.6,99.3 L401.1,87.4 L397.1,88.2 L389.7,82.8 L381.8,84 L376.8,90 L371.3,101.6 L364.3,81.7 L358.8,83.4 L353.6,92.1 L349.2,87.5 L344.4,86.7 L344.9,89.6 L340.2,101.1 L337.7,119.4 L335.2,109.4 L331.2,104.2 L328.8,118.3 L321.3,114.4 L318.8,114.5 L317,124.2 L313.8,122.6 L313.3,140 L307.8,133.8 L308,158.9 L304.8,167.8 L300.7,142.4 L297.4,154.2 L298.2,188.6 L293.9,169.6 L292.9,159.4 L290.1,175.2 L284.1,179.4 L281.4,189 L281.2,199 L279.7,211.3 L276.7,219.2 L279.1,201 L275,217.6 L277.8,231.4 L275.3,235 L276.7,221 L272.9,250.7 L274.3,266.6 L273.1,235.6 L273.5,244.3 L271.2,251 L270.1,258.3 L273.5,263.2 L272.3,282.2 L269.3,271.2 L272.5,275.6 L269.2,281.8 L269.3,284.9 L271.7,294.2 L270.1,300.9 L269.4,303.1 L268.4,308.7 L266.7,395.5 L256,420.1" fill="none" stroke="#5cbf4a" stroke-width="1.7" stroke-opacity="0.33" stroke-linejoin="round"/>
<path d="M728,81.9 L725,80.9 L721,80 L716.2,82.9 L711.6,82.9 L704.3,82.6 L697.3,81.1 L690.1,79 L683.9,81.5 L676.5,79.8 L669.6,82.4 L666.5,83.4 L662.4,79.7 L655.9,81.3 L652.8,82.3 L649.4,79.2 L645.8,79.9 L642.4,94.4 L635,82.6 L631,80.2 L626.9,81.2 L621.4,83.2 L615.1,82.1 L611.2,79.2 L605.6,79.7 L601,81.1 L598,82.3 L591.2,79 L587.3,80.2 L581.1,82.2 L577.8,82 L571.1,79.1 L566.7,80.8 L563.1,78.7 L555.4,81.1 L551.4,79.8 L543.7,79.8 L539.4,91.1 L531.4,82.4 L526.5,78.6 L520,80.8 L515.8,80.5 L509.6,81.9 L504.5,82.3 L496.6,80.2 L492.3,85.3 L489.2,83.6 L486,97.6 L479,83.4 L475.8,91.2 L469.5,91.9 L464.3,96.4 L460.1,79.9 L456.4,84.7 L449,102.2 L441.2,90.9 L437.8,86.7 L433.2,81.9 L426.3,81.8 L423.1,88 L419,84.4 L413.1,83.4 L405.4,105.3 L402,86 L397.7,89.3 L393.2,79.5 L390.2,82.8 L384.2,89.6 L376.3,90.4 L369.5,90 L363.5,84.7 L357.8,85.2 L352.7,99 L348.7,83.1 L345.5,93 L345.8,93.1 L339.9,105.1 L339,105.6 L334.5,113.8 L329,116.1 L326.2,111.6 L320.5,123.9 L317.5,126.1 L317.7,142.5 L314.6,130.4 L312.4,171.1 L308.5,146.8 L307.2,157.4 L302.2,167.5 L301.3,164 L299.9,168.4 L294.6,179.8 L291.1,174.4 L288.7,172 L286.5,175.3 L286.1,212.1 L282.8,210.6 L280.1,185.6 L280.3,199.6 L278.3,249.4 L278.2,259.4 L278.5,269.2 L278,211.6 L275.4,227.8 L275.2,238.3 L275.3,239.5 L274.8,252.3 L273.8,245.9 L272.6,251.9 L273.7,255.2 L271.2,260.1 L271,266.4 L273.5,283.9 L270.4,287.2 L272.4,291.6 L272.5,298.5 L272.9,294.2 L270.6,298.2 L270.5,304.2 L271.2,318.5 L270.5,395.8 L256,437.6" fill="none" stroke="#5cbf4a" stroke-width="1.7" stroke-opacity="0.33" stroke-linejoin="round"/>
<path d="M728,82.4 L722,81.7 L714.8,79.8 L710.4,80 L704.6,78.8 L701.5,81.3 L693.9,81.5 L690.5,82.2 L683.7,79 L679.5,82.5 L672.8,82.4 L667.6,82.8 L660.6,80.4 L653.2,82.8 L649.5,83.5 L642.1,79.7 L635.9,80 L630.8,81.3 L623.1,81.4 L617.5,79.2 L611,81.9 L606.4,80.7 L598.7,81.8 L591.6,78.8 L585.9,82.6 L577.9,83.2 L571.8,79.2 L568.4,81.6 L560.7,81.3 L555,80 L547.3,82.1 L543.9,80.3 L539.3,84.1 L535.3,84.4 L527.7,81.3 L520.1,80.8 L512.8,79.7 L507.8,80.7 L500.5,89 L494.7,82.4 L489.4,84.4 L483.4,84 L480.3,85.4 L475.1,86.5 L469.8,83 L466.5,81.9 L461.1,78.8 L455.3,85.1 L447.9,97.4 L443.2,86 L436.1,93.1 L430.4,88 L422.5,81.8 L415.6,84 L410.6,88.5 L407.5,83.4 L402.4,94.5 L394.5,88.6 L387.1,90 L382.1,82.3 L375.3,89.3 L368.1,90.8 L360.4,88.2 L354.2,79.6 L351.4,86.4 L347.9,87.9 L346.5,94.1 L343.1,103.8 L341.6,110.6 L335,118.7 L333.5,107.6 L326.2,110.6 L323.8,116.1 L320.5,121.6 L318.6,134.7 L317.1,143.7 L315.2,152.8 L309.4,150.9 L307,143.8 L303.8,149.4 L303,205.5 L300,157.8 L297,184.2 L296.1,165.9 L292.8,173.6 L290.8,186.3 L286.4,198.1 L285.9,192.7 L280.7,199.7 L280,194.6 L278.8,210.2 L281.2,228.2 L280.6,208.5 L276.8,216.3 L277,221.1 L278.9,270.1 L278,238.9 L275.3,247.2 L274.3,251.2 L274.3,249.4 L274.8,254.2 L274.5,264.5 L276.1,264.1 L275.2,272.9 L274.1,307.1 L273,285.2 L273.3,293.8 L271.8,294.6 L271.2,308.9 L272.8,304.7 L274.4,310.6 L274.4,395.7 L256,437.5" fill="none" stroke="#5cbf4a" stroke-width="1.7" stroke-opacity="0.33" stroke-linejoin="round"/>
<path d="M728,83.3 L724.6,78.6 L717.3,82.3 L711.1,82 L706.7,79.5 L702.1,82.8 L696.6,83 L690.2,79.7 L686.5,81.7 L679.3,81.2 L675.6,80.2 L668.3,78.6 L660.4,81.1 L656.9,82.3 L650,83.4 L643,81.8 L636.9,78.8 L633.1,78.9 L629.7,81.7 L626.5,83.5 L622.3,79.9 L618.5,79.4 L613.4,82.4 L609.9,82.2 L602.4,80.8 L597.9,79.1 L590.3,79.2 L584.5,78.7 L580,78.9 L576.4,88.8 L572.3,80 L567.5,82.2 L561,79.1 L555,83 L550.4,81.5 L546.7,86.4 L538.9,80.3 L531.5,83.4 L524.7,80.9 L517.7,91.5 L512,83.7 L504.5,84.4 L496.8,80.9 L492,79.8 L485.2,79.9 L479.3,80.2 L475.3,86.1 L470.7,79.8 L466.1,96.4 L462,87.1 L455.1,81.9 L449.4,81.4 L446.3,81.9 L438.5,87.9 L435.1,88 L427.3,79.6 L421.5,84.5 L416.5,83.9 L409.1,92.8 L402.3,88.1 L394.7,104.3 L388,82.4 L380.8,81.7 L373.6,81.5 L366.7,84.6 L360.6,83.2 L353.7,84.7 L353.4,92 L351.7,112 L349.4,97.6 L346.4,101.3 L338.8,104.4 L334.3,125.8 L333.8,111.6 L329.9,140.9 L325,136.3 L322.6,139.7 L320.9,132.5 L317.3,147.7 L316.1,135.7 L309.8,145.9 L308.9,156.3 L304.7,168.7 L303.7,159.8 L301.6,161.9 L297.7,169.2 L294.7,167.1 L292,178.7 L290.6,193 L285.5,189.2 L284,193.1 L284,216.4 L284.4,195.7 L283.9,208 L281.4,217.9 L282.4,246 L281.3,256.2 L279.7,234.2 L279,240 L278.7,258 L277.8,247.6 L276.4,254.4 L276.3,258.6 L278.5,273.3 L277.4,277.7 L275.4,289.9 L275.1,279.8 L274.1,285.1 L274.2,292.1 L274,294.4 L276.3,299.7 L273.9,305.6 L273.3,314.4 L272.4,390 L256,427.8" fill="none" stroke="#5cbf4a" stroke-width="1.7" stroke-opacity="0.33" stroke-linejoin="round"/>
<path d="M728,81.8 L723.4,80 L718.8,80.6 L710.9,79.5 L704.1,83 L700.6,81.7 L697.1,83 L693.7,83 L685.8,80.8 L678.8,81.2 L674.3,94.1 L669.9,80.6 L666,80.5 L660.5,79.9 L655.1,79.9 L650.2,82.2 L645,78.9 L640.5,83.4 L636.7,82 L632.1,88.1 L626.1,82.6 L621.2,82.8 L616.7,83.4 L609.1,80.6 L605,82.3 L601,78.7 L593.4,81 L587.1,81.5 L580.6,80.2 L575.5,82.5 L571.6,83.4 L567.3,80 L562.9,81 L555.1,80 L550.8,79.6 L546.9,81.3 L539.8,79.8 L534.8,79 L531.7,81.2 L528.3,88.8 L520.9,80.3 L514.1,78.7 L509.3,80.3 L502.6,83.8 L495.9,85.2 L489.8,81.3 L484.6,95.2 L477.1,85.3 L472.4,79.6 L466,81.2 L458.2,85.5 L452.4,82.9 L447.3,87.7 L440.8,80.1 L435.5,88.4 L427.9,95.1 L422.8,98.9 L414.8,88.1 L408.4,80 L404.4,86.4 L396.6,93.2 L393.2,81 L388.6,92.4 L381.4,80.5 L374.9,88.7 L371,94.8 L365.7,90.1 L359.7,84.6 L359.4,94.1 L355.5,98.3 L354.3,98.6 L348.9,101.8 L346.1,103.6 L338,108.1 L336,111.5 L331,116.8 L327.3,122.7 L326.2,135.8 L324,133 L318.9,133 L316.7,147.2 L315.6,143.3 L314,149.7 L307.9,159.7 L304.4,160 L303.5,184.1 L298.5,175 L297.5,167.1 L295.3,175.2 L292.9,190.4 L288.6,185.3 L285.5,187.3 L287.6,239.1 L286.3,206.4 L284.5,233.9 L282.5,227.7 L284.2,221.6 L284,226.4 L280.9,253.1 L280.2,264.9 L281.2,259.7 L282.2,246.3 L281.3,262.7 L279.9,256.4 L281.2,284.2 L277.8,290.5 L280.8,273.6 L279.6,282.6 L276.8,282.3 L279.7,304 L276.9,296.5 L278.3,310.8 L278.6,316.5 L278.1,313.6 L277.6,391.6 L256,429.6" fill="none" stroke="#5cbf4a" stroke-width="1.7" stroke-opacity="0.33" stroke-linejoin="round"/>
<path d="M728,83.1 L724.2,80.2 L717.8,81.5 L714.1,80 L707.8,80.3 L703.7,80.3 L697.4,81.4 L693.4,79.5 L687.9,80.7 L684,82.7 L677.2,81.5 L672.5,80.8 L668.4,80.4 L663.5,81.1 L655.8,82.1 L651,83.5 L643.1,81.4 L637.4,81.9 L629.7,82.3 L623,81.5 L618.7,80 L612.3,80.3 L607.8,83.1 L604.5,80.1 L599.9,85.5 L596.1,92.6 L592.4,79.9 L584.7,81.9 L578.2,82.1 L574.2,81.2 L571,78.7 L566.8,80.7 L563.7,83.3 L560,78.7 L555.6,82.2 L551,79.1 L547.9,81.9 L542.7,83.7 L535.9,79.7 L530.4,80.5 L522.8,82.8 L519.3,78.6 L515,81.4 L509.5,82.3 L504.7,83.5 L500.2,78.9 L493.9,80.9 L487,79.5 L480.9,85.2 L474,82.4 L468.9,82 L463.6,98.5 L457.1,82.6 L450.9,96.5 L446.9,90.8 L442.8,100.9 L438.8,83.6 L432.2,88.3 L424.8,95.1 L418.3,85.2 L415,108.1 L411.4,83.9 L404.8,102.2 L401.4,82.8 L397.4,88.4 L390.7,80.1 L387.5,81.6 L382.7,113.9 L377.2,89.9 L367.4,95.6 L367.8,89.5 L364.2,94.2 L360.4,105.3 L356.2,104.5 L351,111.9 L346.9,105.1 L342.5,109 L337.2,116.3 L334.2,120 L332.1,125.3 L332.1,140.5 L328.1,145.4 L324.4,139.2 L321.1,166.2 L316.9,160.9 L313.6,201.8 L313.9,168.1 L307.1,175.8 L304.9,222.4 L302.8,171.4 L298.3,191.1 L294.6,176.2 L294.6,183.7 L290.5,220.1 L292.7,218.9 L292.1,196.4 L289.8,209.2 L289.6,236.8 L288,230.3 L287.8,228.5 L288.2,240.5 L287.4,245.4 L287.8,255.6 L286.6,251.2 L285.7,288.6 L282.8,262.2 L282.7,262.1 L284.9,270.8 L284.2,278.6 L284.4,295.8 L284.7,292.5 L282,293.9 L280.8,302.8 L284.2,305.6 L283.6,311.8 L281.3,315.8 L278.8,383 L256,416.7" fill="none" stroke="#5cbf4a" stroke-width="1.7" stroke-opacity="0.33" stroke-linejoin="round"/>
<path d="M728,78.8 L721.2,81.2 L717.7,83.2 L709.7,82.5 L704.8,79.4 L701.4,82.4 L695.3,79.4 L689.1,81.7 L683.4,79.1 L679.4,82.4 L671.9,81.7 L665.2,82.6 L658.9,80.9 L652.4,79.9 L648.3,81.5 L642.9,79.5 L638.9,81.2 L631.5,82.6 L623.5,81.6 L616.4,83.3 L613.2,80.2 L605.7,82.1 L602,82.2 L596.2,78.9 L591.7,81 L587.1,82.9 L583.2,82.1 L579.4,82.2 L573.4,82.5 L565.4,81.6 L558.9,82.7 L554.1,81.6 L546.5,78.6 L539.8,82.1 L534.5,83.7 L530.1,78.5 L525.9,80.2 L520.5,80.7 L516.7,85.2 L510.4,80.3 L502.5,83.9 L496,86.2 L489.2,88.6 L482.4,81.3 L478.1,86.6 L470.5,83.3 L464.1,84 L460,90.1 L454.3,79.1 L450.9,87.9 L445.3,97.3 L438.7,84.9 L434.6,85.1 L426.7,80.3 L421.2,86.5 L414.5,83.8 L411.1,87.9 L404,89.5 L399.7,87.1 L393.9,87.1 L389.1,87.1 L385.7,115.5 L379.7,101.6 L373.3,117.4 L369.9,90.7 L365.1,104.4 L364.2,94.3 L359.1,98.1 L357,99.5 L351.8,105.5 L348.9,110.1 L343.2,112.1 L340.7,133.6 L336.3,124.2 L332.1,128.1 L331.7,129.4 L328.4,143.4 L323.4,155.2 L322.5,144.6 L318.2,157.9 L315.3,175.2 L311.1,155.3 L309,157.5 L307.4,182 L300.9,172.6 L300.8,176.1 L295.9,200.1 L295.9,188.5 L293.5,193.4 L290.8,198.4 L289.7,236.5 L289.7,204.1 L288.5,213 L286.9,218.7 L289.8,225.3 L286.4,237.2 L286.7,237.6 L284.4,248.3 L285.3,257.2 L286,255.1 L286.3,273.6 L286,267.5 L284.5,274.5 L282.5,274.9 L281.9,286.3 L282.6,291.2 L283.7,296.6 L283.2,297.4 L281.1,306.2 L283.6,318.7 L281,315.8 L279.9,391.9 L256,418.8" fill="none" stroke="#5cbf4a" stroke-width="1.7" stroke-opacity="0.33" stroke-linejoin="round"/>
<path d="M728,83 L721.8,79.3 L717.7,82.2 L712.9,79.9 L707.2,82.5 L703,79 L699.7,79.5 L696.2,82.1 L692.8,82.7 L688.2,82.5 L684.2,78.6 L680.3,81.9 L677,79.2 L670.1,81.4 L665.4,79 L659.1,83.3 L651.6,83.1 L644.3,83.1 L638.9,81.5 L631,81.4 L624.6,82.6 L617.2,80.9 L609.6,83 L604.7,82.3 L599.5,81.7 L592.4,88.4 L586.3,81 L579.9,79.3 L573.9,81.4 L568.9,82.9 L561.2,80.4 L556.9,83 L553.5,79.1 L548.4,80.2 L545,83.1 L539.3,81 L531.9,81.5 L525.1,92.9 L520.2,79.2 L514.9,79.1 L507.5,80.6 L503.1,84.2 L495.3,84.1 L489.7,82.4 L484.9,85.3 L480.5,85.2 L472.7,79.6 L468.1,79.4 L461,84.9 L453.2,80.9 L449.1,85.6 L444.6,81.4 L437.7,83.8 L433.4,86.3 L425.4,103.6 L419.7,79.5 L415.2,82.6 L408.7,86.4 L405.7,88.2 L398.2,87.3 L394.3,112.2 L386.3,88.1 L380.4,85.7 L375.5,90.3 L373.6,93.4 L370.3,105.8 L366.4,102.5 L361.5,107.9 L356.8,105 L349.4,120.5 L345.7,119.2 L342.6,132.3 L342.9,131.5 L340.1,135.1 L336.2,136.2 L333.4,143.2 L329.3,148.7 L323.9,152.4 L322.3,152.5 L318.9,157.4 L315,163.7 L312.8,171.3 L308.1,204.4 L303.6,183.8 L302,181.5 L299,188.7 L299,195.6 L298.1,199.4 L297.7,230.1 L293.9,205 L294.9,212.8 L294.2,236.9 L293.8,238.8 L291.4,239.6 L291.2,239.7 L293.3,259.2 L289.5,251.4 L291,252.7 L290.9,261.7 L290.6,273.6 L288.2,285 L288.9,280.3 L288.2,281.8 L286.8,285.8 L287.2,294 L288.6,300 L287.2,306.6 L287.6,314.7 L287.3,325 L286.6,384.5 L256,447.3" fill="none" stroke="#5cbf4a" stroke-width="1.7" stroke-opacity="0.33" stroke-linejoin="round"/>
<path d="M728,82.6 L721.9,78.8 L714.5,80.2 L707.1,82.2 L702.4,81.9 L695.1,79.2 L689.4,81.8 L684.2,81.4 L678.1,82.1 L673.3,80 L666,81.5 L659.6,79.4 L653.3,89.5 L649.4,91 L645.6,81.3 L637.8,78.5 L630.2,79.6 L625.7,79 L618.2,82.1 L612.7,82.5 L609.1,79.9 L602,81.7 L598.5,81.7 L591.3,80 L584.2,79.4 L581.2,82.4 L574.6,81.1 L570.9,93.2 L565.9,83.4 L559.5,78.6 L552,81.7 L546.7,80.6 L541.2,83.9 L536.4,78.9 L529.9,84.1 L524,87.5 L518.6,82.6 L515.5,79.1 L509.9,83.7 L506.9,79 L501.5,96.6 L496,80 L491.9,80.3 L486.8,82.7 L483.6,85.3 L479.9,82.2 L472.4,81.1 L469.2,80.8 L462.9,94.7 L457.7,86.8 L450.6,85.3 L446.2,95.6 L443,88 L437.5,87.3 L432.7,84.1 L428.7,81.9 L421.3,82.5 L416.3,83.2 L411.4,88.6 L406.7,87.9 L400.4,81.8 L396.8,91.4 L391.6,87.2 L387.4,91.5 L380.3,86.6 L379,104.9 L376.9,96.1 L373.9,107.1 L366.5,100.5 L363.4,103.3 L357.1,106 L353.9,135.4 L349.4,117.9 L347.7,127.1 L343.4,137.8 L338.8,132.4 L337.6,134.2 L336.3,150.3 L331.6,169.4 L327.7,170.7 L324.5,178.8 L322,156.5 L318.6,182.8 L315.3,174.1 L309.6,183.9 L305.2,167.5 L301.5,189.1 L301.2,189.1 L298.8,200.9 L296.7,197.3 L296.3,205.8 L297.8,211.6 L294.3,227 L294.4,232.3 L295.2,258 L294.5,235.4 L295.3,242.2 L291.9,244.8 L290.5,251.9 L293,278.9 L292.8,267.6 L292.1,264.9 L292.3,273 L290.7,273.9 L289.4,285.5 L288.6,295.9 L289.2,313.3 L288.3,304.5 L287.6,312 L290.1,313.1 L287.7,320.8 L285.6,378.8 L256,421.8" fill="none" stroke="#5cbf4a" stroke-width="1.7" stroke-opacity="0.33" stroke-linejoin="round"/>
<path d="M728,80.2 L723,83.3 L718.3,82 L713.9,80.1 L706.3,78.7 L702.6,83.5 L694.9,78.8 L688.1,80.9 L684.2,80.5 L679.8,80.6 L674.3,80 L670,82.6 L663.6,81.6 L659.9,79.2 L652,82.2 L646.7,80.6 L642.2,80.5 L638.3,83.1 L631.2,82.2 L626.3,78.5 L618.3,82.1 L613.7,79.2 L606.1,79.8 L601.9,79.1 L596.8,80.6 L593,79.2 L585.8,83.1 L582.2,82.9 L574.6,78.8 L569.9,78.9 L566.5,80.6 L559.7,83 L556.7,81.4 L550.4,80.3 L546.2,83.9 L539.1,80.9 L532.3,80.7 L527.8,82.4 L521.1,82.8 L515.6,83.4 L507.7,87.2 L504.3,93.7 L501.3,85.1 L496.9,86.6 L493.8,85.7 L490,86.3 L483.4,83.9 L478,80 L474.6,82.6 L468.8,78.9 L465.6,92.7 L458.5,84.8 L451.2,88.7 L445.3,100.1 L440.9,82.8 L437.3,82.5 L431.4,79 L424.9,80.3 L417.9,79.3 L410,88.2 L406.3,79.2 L401,89.1 L396.6,88.8 L392.2,88.5 L388.9,89.8 L385.3,94 L382.3,97.6 L374,111.7 L369.7,112.5 L365.5,110.6 L362.4,113 L358,128.9 L352.5,150 L348.7,128.2 L345.7,137.2 L344.8,141.3 L341.6,148.6 L337,146.4 L334,148.3 L332,157.5 L325.3,165.7 L323.4,166.8 L318.7,163.1 L316.3,220.8 L312.9,189.7 L308.4,180.5 L307.2,190.1 L306,210.3 L301.6,196.4 L302.8,201.5 L299.5,211.1 L301.8,212.9 L301.1,220.9 L297.4,227.8 L300.3,242.4 L300,256.5 L295.7,256 L298,258 L296.4,254.3 L295.5,261.7 L294.1,276 L296.4,280.3 L294.7,280.8 L293.3,286.4 L292.5,294.7 L294.6,311 L293.2,307.7 L294.8,310.2 L292.7,316.2 L293.8,327.8 L293.5,378.5 L256,419" fill="none" stroke="#5cbf4a" stroke-width="1.7" stroke-opacity="0.33" stroke-linejoin="round"/>
<path d="M728,81.8 L720.7,79.3 L715.6,92.2 L709.2,81.1 L704.3,81.8 L700.8,79.4 L693.3,79.4 L690,80.3 L686.9,81.9 L678.9,82.7 L671.4,79.4 L663.8,81.9 L656.5,87.7 L652,81.1 L647.7,81.9 L642.3,79.7 L634.9,79.5 L631.1,83 L624.8,80.7 L620.9,82 L615.6,82.4 L608.2,82.6 L604.7,82.3 L597.6,81.3 L594.1,80.7 L591,80.6 L587,82.3 L579.1,80.9 L574.5,81.4 L567.3,83 L563.8,80.9 L557.1,81.3 L549.2,81.2 L543.7,79.7 L539.7,83.6 L534.5,84.5 L527.7,84.4 L520.8,79.8 L515.6,92.6 L510.7,83.1 L506.9,82.1 L500.9,81.7 L496,83.6 L492.6,84.1 L485,79.8 L481.9,78.9 L475.8,78.7 L471.2,80.6 L463.6,85.2 L458.9,81.3 L453.2,79.3 L449.6,86.7 L445.8,91.4 L440.5,84.2 L437,90.4 L431.4,88.8 L427.4,80.4 L420.1,89.2 L416.5,80.8 L410.9,81.3 L406.2,105.1 L401.9,94.9 L398.3,90.4 L395.9,89.9 L392.7,94.3 L387.9,97.3 L384.2,100.8 L378.1,120 L370.6,105.4 L365.8,133.7 L364.4,115.6 L361,137.5 L357.1,125.9 L354.5,145.2 L351.8,145.2 L344.8,180.1 L343.1,143.7 L337.8,177.3 L334.8,161.6 L332.1,159.3 L326.4,165 L321.8,166.4 L318.7,168.9 L316.6,178.6 L310.4,207.1 L311.2,189.1 L309.2,193.8 L308.9,198.6 L308.1,209.6 L306.6,221.3 L305.2,213.4 L304,239.2 L305.1,239.5 L304.4,231.3 L301.8,239.5 L301.1,245.9 L299.5,258.5 L298.5,281 L301.6,262.9 L299.1,268.7 L299.2,286 L297.3,281.7 L297,297.8 L299.2,292.7 L297.3,301 L296.4,310.8 L296.3,324 L298.3,321.5 L297.9,327.2 L297.9,385.5 L256,423.6" fill="none" stroke="#5cbf4a" stroke-width="1.7" stroke-opacity="0.33" stroke-linejoin="round"/>
<path d="M728,80.5 L720.4,78.7 L713.8,82.9 L705.8,81 L701.8,80.4 L696.9,82.1 L690.7,83 L685.6,79.3 L679,83.3 L674.3,80 L667.8,80.1 L661.8,81 L654.1,83.4 L646.6,80.6 L642.5,80.5 L637.4,78.6 L631,81.6 L624,79.6 L617.1,82.4 L611.5,83.2 L605,81.6 L599.7,82.8 L595.2,78.6 L588.1,82.1 L581.1,80.3 L575.7,80.3 L571.4,78.9 L566,79.7 L560.7,80.5 L557,83.1 L551.7,82.7 L547.3,79.8 L542.6,79.9 L535.1,84 L528.1,79.5 L521.5,91.6 L518,94.5 L510.5,84 L503.1,80.7 L496.8,82.6 L490.9,84.8 L484.4,91.2 L480.4,83.7 L477,83.3 L471.5,81.7 L467.3,86 L461.7,85.9 L458.3,80.6 L453.7,86.3 L448.4,79.3 L445.3,87.1 L438.9,85 L432.9,79.4 L429.4,104.2 L425.8,85.8 L417.9,88 L412.7,86.4 L405.5,95.3 L400.1,93.1 L394.1,100.3 L392.2,101.9 L386,101.7 L380.2,126.4 L375.4,115.3 L370.1,142.5 L368.1,134.5 L364.8,120.3 L361.3,125 L357.7,153.6 L354,132.1 L350.6,140.8 L348.1,153.4 L344.5,157.8 L339.5,147.6 L333.4,191.3 L331.6,167.5 L326.2,167.4 L322.1,170.4 L317.4,168.8 L315.4,185.2 L313.1,195 L309.6,195.3 L310.3,197.7 L311.1,214.1 L309.7,208.9 L305.7,230.1 L306.4,221.1 L304.7,221.3 L304.2,250.5 L305.5,243.4 L305.2,247.8 L304.7,258.6 L303.4,266 L303.3,264.5 L304.1,278.8 L303.6,275.1 L302.4,289.7 L299.8,288.4 L303.1,301.9 L300.8,301.6 L299.2,327.7 L302,314.6 L300.9,319.6 L299.3,336.3 L297,385.4 L256,431.3" fill="none" stroke="#5cbf4a" stroke-width="1.7" stroke-opacity="0.33" stroke-linejoin="round"/>
<path d="M728,83 L722.4,79.5 L716.5,78.6 L712.5,90.8 L705.1,82 L699.8,83.5 L695.9,78.8 L692.3,80.9 L686.4,79.1 L682.7,83.4 L676.7,78.6 L670.2,80.9 L666.9,82.9 L662.8,82.3 L658.5,94.5 L652,80.8 L644.1,81.8 L637.6,81.5 L632.9,79.4 L625.4,90.4 L620.5,82.9 L614.9,81.6 L611.3,83.1 L606.1,82.1 L601.9,82.2 L598.3,81.8 L595.2,81.6 L589.9,81.8 L586,79.9 L579.9,80.3 L574.1,80 L569.4,79.4 L565.3,80.3 L561.5,79 L554.6,81.7 L547.7,79.8 L542.5,83.6 L537.4,78.7 L534.1,84.2 L528.9,78.5 L524.1,81.7 L519.8,82.1 L512.4,84.1 L507.9,79.6 L500.9,83.3 L493.4,86.9 L489.2,84.3 L484.9,88.3 L478.2,85.1 L471.9,84.2 L464.3,85.4 L457.8,83.1 L451.3,84 L445.7,82.3 L440.1,87.1 L436.5,94.9 L432.5,102.4 L426.8,84.2 L422,103.6 L415.4,89.2 L410.1,89.2 L409,91 L401,97.8 L400.2,97.5 L392.8,108 L386.6,103.8 L384.3,121.6 L379.1,112.9 L371.4,111.2 L369.9,149.6 L367.4,129.7 L362.5,133.4 L359.4,166.1 L357.4,143 L352.9,149.9 L350.2,150.5 L344.1,152.4 L338.3,159.5 L337,163 L333.4,160.6 L325.9,185 L322.3,180.1 L318.9,186.8 L317.3,181.6 L314.9,230.6 L313.2,212.7 L313.3,204.3 L311.8,216.4 L311.9,234.4 L312.4,224.8 L310.7,225.8 L310.6,237 L308,243.9 L307.4,250.1 L307.2,265.5 L306.3,256.1 L307.6,266.3 L307.6,275.6 L305.7,280.4 L307.3,281 L304.8,301.5 L305.2,297.3 L306.2,303.4 L303.8,313.3 L305.9,315.2 L303.1,324 L305.4,328.3 L303.3,385 L256,417" fill="none" stroke="#5cbf4a" stroke-width="1.7" stroke-opacity="0.33" stroke-linejoin="round"/>
<path d="M728,81.1 L724.2,81.3 L717.6,82 L710.8,78.6 L705.2,78.6 L700.4,82.9 L695.9,81.9 L690.6,81.5 L686.5,82.5 L678.8,79 L672.8,79.8 L669.3,82.9 L662.6,81.8 L656.2,80.4 L653.2,79.4 L647,78.7 L642.2,80.5 L636.6,82.4 L630.1,78.6 L623.2,81.1 L616.7,79.6 L608.8,78.6 L605.4,80.6 L601.5,81.5 L596.7,81.8 L592.3,83.2 L588.5,81.1 L584.7,81.2 L578.3,88 L571.9,79.1 L568.6,80.2 L562,80.2 L555.2,83.6 L547.6,83.8 L541.1,83.6 L533.2,80 L529.6,83.7 L523.7,81.3 L515.8,83.4 L511.7,83.8 L504.2,82 L496.5,81 L489.2,86.2 L483.4,86 L477.9,80.1 L474.6,84.9 L471.4,81.5 L467.9,82.9 L464.4,80.9 L458.1,99.9 L451.6,79.7 L445.3,83.7 L439.2,88.2 L436.1,88.5 L428.9,85.2 L423.1,79.8 L418,95.7 L412.7,92.1 L410.3,96.2 L404.4,106.4 L397.2,100.2 L393.1,111.4 L389.7,106.3 L384.9,115.6 L379.2,113.9 L376.4,122 L373.8,128.7 L368.3,140.6 L364,141.4 L362.8,137.7 L356.2,145.3 L354.1,155.8 L349.9,198.4 L345.5,156.8 L339.6,171.4 L336.8,182.1 L332.2,204.9 L328.5,218.6 L322.6,183.8 L321.4,192.6 L319.7,212.2 L318.4,197.3 L317.7,212.3 L317,227.2 L313.9,218.6 L314.4,236.6 L314.7,239.2 L313.8,241.5 L314.2,250.6 L312.7,267.8 L309.7,262.5 L312.2,275.2 L311.8,285.2 L308.8,281.6 L307.4,281.3 L307,285.4 L307.2,294.8 L310.3,299.6 L308,308.3 L307.6,317.4 L307,318 L307.1,334.3 L307.8,331.3 L306.7,383.1 L256,430.4" fill="none" stroke="#5cbf4a" stroke-width="1.7" stroke-opacity="0.33" stroke-linejoin="round"/>
<path d="M728,82.9 L722.4,82.1 L717.5,82 L710,79.6 L703.5,79.4 L698.5,82.4 L691.5,80.2 L687.7,83.5 L680.6,80.1 L677.4,80.2 L670.7,82.1 L663.4,78.6 L659.7,79.7 L652.5,79.8 L647.3,80.7 L642.6,81 L635.9,81.5 L628.9,80.8 L621.2,80.3 L616.5,81 L610,83.2 L604.6,87.1 L598.1,81.2 L591.5,82.4 L588.5,80.9 L582.3,79.3 L574.5,79.7 L569.6,79.6 L565.5,80 L561.2,80.5 L557.1,87.5 L549.1,82.7 L544.1,80.7 L540.8,81.8 L535.9,80.9 L529.8,84.2 L522.2,86.7 L515.9,80.8 L509.5,84.5 L504.3,80.7 L497.2,82.9 L489.2,79.9 L482.1,81.5 L477.9,83.7 L472.6,79.5 L467,80.2 L460.9,82.4 L455.1,86.6 L448.8,81.5 L444.4,86.7 L439.1,95.5 L434.8,83.5 L425.2,97 L420.2,95.3 L416.3,94.1 L412.2,107.4 L407.1,100.7 L399.2,108.1 L395.1,106.9 L390.2,125.1 L386,120.6 L380.6,126.6 L377.5,135.3 L375.5,140 L370.1,136.9 L367,143.1 L365.2,145.1 L360,152.6 L353.7,164.2 L349,187.1 L344,158.5 L341.9,197.1 L336.2,174.2 L329.5,184.6 L327.2,190.8 L326.1,187.6 L323.3,197.2 L323,204.7 L323.1,210.2 L319.5,207.2 L318.2,229 L317.5,239.9 L319.3,235.3 L319.1,253.6 L318.6,245.8 L316.6,250 L315.1,255.1 L317,263.8 L314.3,288.1 L315,274.5 L312.5,280.5 L312,313 L311.7,303.6 L312.1,300.7 L311.7,308.7 L313.5,321.7 L311.3,320.9 L312.4,327.5 L311.4,335.8 L310,379 L256,434.3" fill="none" stroke="#5cbf4a" stroke-width="1.7" stroke-opacity="0.33" stroke-linejoin="round"/>
<path d="M728,83 L724.3,79.5 L721,81 L713.1,81.9 L707.2,88.2 L700.3,80 L696.5,78.7 L692.8,83.1 L685.9,81.7 L680.7,81.3 L676.6,79.5 L672,81.1 L668.1,82.1 L660.9,82.2 L653.2,82.3 L646.3,78.8 L642,81.3 L635.2,78.5 L627.8,82.2 L624.5,80.7 L620.9,82.4 L617.4,80.8 L612,82.2 L606.8,79.6 L603.2,83.3 L597.2,79.2 L592.6,80.9 L587.7,78.9 L581.7,80.8 L577.1,81.8 L573.6,81.1 L567.3,86.9 L561.3,83.5 L555.3,80 L552.1,79.5 L547.2,79.9 L541.6,81 L536.3,82.9 L529,84.6 L522.1,84.9 L514.9,84.4 L511,82.8 L503.1,78.6 L497.1,86 L492.4,90.9 L486.1,79.3 L482.5,80.5 L479.3,82.5 L475.2,85.1 L469.9,83.7 L465.1,82.6 L459,91.7 L452.7,80.9 L445.2,80.7 L440.2,88.6 L435.7,78.7 L431.9,87.1 L428.1,92.2 L423.8,99 L417.6,97.5 L413.1,100.3 L405.8,117 L399.5,106.5 L396,110.4 L388.7,116.6 L387.8,120.4 L382.7,126.1 L381.5,129.1 L376.2,136.5 L372.9,149.7 L366,162.7 L363.1,160.8 L358.8,150.2 L355.3,157.4 L348,163 L345,185.6 L339,173.5 L334.4,175 L331.7,191.2 L326.6,211.5 L328.4,202.1 L324.7,204.1 L322.7,207.6 L321.6,215.8 L322.4,222.2 L320.6,217.2 L322.5,261.7 L322.3,282 L319.8,243.6 L317.7,249.5 L317.2,257.3 L316.2,269.8 L316.4,284.5 L317,285.4 L316.8,283.8 L316.6,293.9 L316.8,298.2 L317.1,303.2 L314.4,314.7 L313.9,330.1 L315.1,322 L314.9,330.8 L314.4,343.4 L311.5,369.7 L256,418.3" fill="none" stroke="#5cbf4a" stroke-width="1.7" stroke-opacity="0.33" stroke-linejoin="round"/>
<path d="M728,81.1 L724.3,80.3 L717.8,78.7 L710.4,78.8 L705.8,80.5 L697.9,81.4 L691,83.4 L684.6,80.1 L680.7,82.6 L675.4,82.4 L669.4,80.1 L661.7,79.8 L654.3,83.2 L650.7,82.6 L643.1,80.7 L639.6,94.4 L636,83 L632.7,79.5 L625.2,81.7 L620.8,80 L616.5,80.5 L610.4,78.8 L606.8,79.4 L599.6,80.9 L594.4,80.5 L588.6,80.7 L584.9,94.1 L579,80 L573.8,79.4 L569.3,79.8 L563.5,78.6 L560.4,79.1 L553.7,83.2 L546.1,80.4 L539.2,81.8 L534.3,79 L529.7,83 L522.2,83.9 L518.8,83.3 L514.2,81.9 L509.3,84.3 L502.2,88.5 L497.1,86 L490.2,82.5 L482.6,84.8 L477.5,83.8 L471.7,80.4 L467.5,82.6 L463,85.4 L455.6,85.2 L449.4,80.3 L444.8,80.5 L441.2,88.1 L436.9,100.1 L429.5,91.8 L424.7,100.6 L419.8,100.2 L415.8,99.6 L410.7,104.9 L403.2,108 L397,121.3 L394.6,121 L389.9,119.7 L384.2,128.2 L383.7,135.3 L380,153.6 L373.2,151.5 L370,155.2 L367.2,148.6 L363.2,201.5 L356.8,163.9 L352.3,162.7 L346.5,167 L341.1,222.9 L335.6,231 L332.1,209.2 L331.8,195.8 L328.2,206.3 L329.2,222.7 L328.5,233.4 L327.1,209.5 L325.6,223.7 L324.4,237.5 L324.9,231 L322.9,263 L320.5,247 L322.7,249.7 L321.5,261.2 L321.2,261.8 L321,282.5 L320.1,310.1 L318,300.8 L316.5,297 L319.4,297 L317.9,304.7 L319.2,313.4 L317.8,326.5 L315.7,322.5 L316.3,345 L316.6,337.4 L314.6,376.8 L256,445.9" fill="none" stroke="#5cbf4a" stroke-width="1.7" stroke-opacity="0.33" stroke-linejoin="round"/>
<path d="M728,82.4 L722.4,83.5 L719,79.5 L711.2,80 L708,82.3 L701.8,79.6 L697.5,81.7 L689.8,82.7 L684.6,82.4 L680.9,83.2 L676.3,80.1 L670.7,79.4 L666.4,79.6 L660.9,81.7 L654.5,78.6 L648,81.1 L643.6,83.1 L639.9,81.6 L636.3,80.9 L631.5,79.6 L625.5,79 L622.2,90.5 L614.5,80.3 L610.8,80 L606.1,82.3 L601.8,81 L595.3,81.8 L591.6,82.8 L587.9,81.5 L582.1,79.6 L575.8,79.7 L571.2,80 L567.9,79.8 L561.8,82.3 L554.5,79 L547.8,79 L543.6,81.3 L536.8,80.7 L531.7,84 L528.2,78.7 L524.1,82.4 L517.9,83.1 L510.5,80.6 L503.9,82 L497.1,82 L492.2,79 L486.6,96.3 L480.7,84.4 L475.8,83.8 L468,87 L460.1,85 L455.3,84 L451.5,80.1 L447.3,88 L442,91.6 L436.6,108.6 L430.6,97.8 L426.9,117.6 L421.9,109.3 L413.9,110.8 L408.3,112.6 L403.2,112.7 L401.7,128.7 L396.1,125 L393.8,140 L390.9,138.2 L384.3,159 L380.7,147.5 L373.8,153.9 L370.2,166 L365.5,158.5 L359.5,167.8 L356.3,167.8 L350.8,161.6 L343.9,178 L339,199.6 L338.7,184.6 L336.9,193.7 L334.6,205.2 L333.3,198.5 L334.3,236.6 L330.6,230.1 L329.6,238.9 L329.5,236.1 L327.5,237.7 L326.9,262.4 L326.7,277.5 L326.6,261.2 L326.9,267.9 L325.6,277.9 L326.3,280.4 L324.4,291.9 L323.9,298.8 L325.2,300.1 L324.7,309.7 L322.9,321.2 L324,319.5 L321.8,326.5 L322.7,333.2 L323.3,342.4 L321,364.2 L256,416.2" fill="none" stroke="#5cbf4a" stroke-width="1.7" stroke-opacity="0.33" stroke-linejoin="round"/>
<path d="M728,93 L723.1,82 L715.7,81 L709.8,81.8 L702,79.2 L694.8,79.5 L687,94.4 L681.2,81.9 L674.5,82.4 L670.9,80.4 L667.7,82.1 L664.6,81.8 L659,80.1 L655.8,80.9 L651.9,81 L647.3,78.8 L641.8,94 L635.6,80.7 L631.4,80.5 L626.7,80.5 L623,79.9 L618,80.1 L613.6,80.5 L607.2,78.7 L602,82.6 L594.9,79.7 L589.8,81.5 L582.1,82.5 L575.6,82.9 L571.1,80.5 L565.3,83.2 L557.6,79.7 L549.7,80.2 L544.2,82.7 L540.8,82.8 L533.9,84 L527.5,83.5 L524.3,83.3 L517.1,82.8 L513.8,80.7 L509.2,81.2 L504,82.2 L499.9,80.2 L494.6,90.1 L491.4,79.7 L487.7,85.8 L483.7,85.9 L477.9,79.8 L470.8,85.1 L464.4,78.5 L457.3,87.4 L451.3,88.3 L448,89.4 L443.3,104.7 L437.5,96.9 L429.1,101.5 L423.7,106.6 L419.6,108.3 L413.8,110.8 L407.3,138.8 L402.3,122.8 L398.8,146.1 L395.9,136.5 L391.1,134.5 L386.3,154.5 L381.2,148.7 L378.7,170.3 L372.9,155.7 L367.7,158.7 L361.9,165.9 L357.3,165.9 L350.8,195.4 L347,175.4 L340.3,189.4 L338.6,183.1 L336.7,193.2 L334.9,199.4 L335.1,209.1 L332.8,210 L334.8,216.7 L332.9,228.5 L330.3,239.3 L330.6,241.1 L331.2,243.3 L328.5,259.6 L328.7,262.1 L330.4,267.2 L329.8,291.4 L328.1,300.4 L328.7,285.5 L325.1,290.9 L324.8,298.5 L325.6,319.6 L325.3,316.4 L326.9,331.4 L325.2,329.9 L325.8,334.4 L324.7,341.2 L323.7,367.3 L256,449" fill="none" stroke="#5cbf4a" stroke-width="1.7" stroke-opacity="0.33" stroke-linejoin="round"/>
<path d="M728,79.1 L722,83.4 L714.1,83 L707.2,81.2 L701,83.5 L696.3,83 L690.7,82.1 L685.9,79.8 L682,82 L676.2,81.4 L671.1,80.6 L664.8,79.8 L658.2,79.5 L655.1,83.3 L648.5,83.3 L644,79.3 L637.6,78.9 L633.7,79.2 L627.6,79 L622.7,92.1 L619.6,80.1 L616.4,81 L611.1,80.1 L603.8,91.2 L598.4,81.5 L591,83.2 L584.3,81.9 L577.2,79.2 L571.3,79.4 L566,82.4 L560.7,80.5 L553.6,81.5 L548.9,80.6 L541.8,78.7 L534.9,83.7 L528.6,81.7 L521.6,81.1 L518.5,80.2 L513.4,83 L506.7,85.4 L502.7,82.5 L494.9,79.3 L487.9,85 L480.3,81.2 L473.2,84.9 L469.4,97.5 L462.5,91.2 L457.5,91.4 L448.7,92.3 L443.6,111.8 L436.4,100.6 L433.4,102.9 L427.8,118.5 L418,124.2 L414.3,120.5 L412.5,122.4 L408.8,132.4 L403.8,140.2 L399.6,147.6 L393.2,158.5 L390.8,185 L382.9,160.9 L380.2,167.6 L375.4,175.9 L369.5,174.2 L360.9,203.4 L356.4,172.7 L349.9,172.6 L347.3,237.2 L345.9,214.2 L342.4,203.1 L343.3,202.3 L339.1,226.7 L339.6,247.5 L340.5,220.8 L340,249.9 L338.4,263.3 L335.7,249.4 L337.5,269.4 L337,256 L333.1,259.2 L335.2,267.9 L335,270.9 L332,282.3 L332.8,299.6 L331,304.4 L332.3,305.4 L331.9,309.6 L330.4,315.9 L331.2,324.6 L331.3,330.3 L331.3,338.7 L328.9,347.7 L328.3,376.3 L256,423.3" fill="none" stroke="#5cbf4a" stroke-width="1.7" stroke-opacity="0.33" stroke-linejoin="round"/>
<path d="M728,82.6 L724.3,89.3 L717.2,83.4 L712.1,80.1 L705.6,82.2 L698.9,81.9 L693.5,81.7 L689.7,83.2 L683.7,78.7 L676.1,82.9 L672.6,92.6 L668.9,81.5 L664.7,82.4 L658.3,79 L654.9,89.6 L649.2,78.9 L645.9,79.1 L642.1,81.2 L634.8,83.3 L630.4,83.5 L624.8,78.5 L620.2,82.5 L612.9,79.5 L605.3,81.4 L601.6,79.7 L594.7,79.9 L590.6,82.7 L586.4,81.4 L582.9,81.2 L578.6,81.5 L574.2,81.2 L566.3,81.3 L559.5,82.5 L554.3,79 L547.4,81 L542.3,79.2 L537.1,79.7 L532.8,80 L526.2,79.4 L522.9,81.5 L515.6,78.8 L507.9,83.2 L503.6,79.1 L498.9,80.1 L491.9,79.4 L485.1,79.3 L478.4,80.2 L470.6,90.5 L465.5,91.7 L460.8,100.9 L454.8,106.1 L445.1,99.8 L441.6,110.1 L432.5,106.1 L427.7,109.2 L422.8,140.4 L420,138.9 L416.6,127.8 L410.3,142.8 L406.6,145.5 L403.1,148.1 L397.1,141.3 L390.6,146.4 L386.9,154.2 L380.5,158.3 L374.4,175.9 L367.4,171.1 L364.1,179.6 L358.7,166.2 L349.9,213.3 L351.5,186.1 L348.4,194.9 L346.3,203.5 L344.7,231 L343.3,228.1 L345.9,229.4 L343.5,229.7 L343.9,252.2 L340.3,254.9 L339.7,261.9 L340.8,263.2 L340.9,305.3 L340.1,270.4 L339.4,277.5 L338.8,302.2 L336.3,289.4 L335.9,324.5 L335.1,307.2 L335,311.2 L334.6,338.4 L336.5,326.1 L334.6,333.3 L334.2,341.7 L335,351 L332.9,369.4 L256,442.1" fill="none" stroke="#5cbf4a" stroke-width="1.7" stroke-opacity="0.33" stroke-linejoin="round"/>
<path d="M728,81.1 L722.2,80.2 L718.1,82.7 L713.6,79.1 L706.8,81.9 L701.7,81.9 L694.1,78.9 L687.7,83.1 L680.8,78.6 L676,91.4 L669.6,83.5 L666.2,80.4 L663,83.2 L655.5,82.3 L650.5,83 L642.5,83.4 L637.4,89.6 L632.4,80.2 L628.7,81.6 L625.4,81.5 L620.7,81.1 L615.3,79.5 L607.3,79.2 L600.5,79.6 L594.2,81 L589.4,83.2 L582.3,80.1 L574.5,79.3 L566.5,81.6 L561.7,79.3 L557,79.9 L551.2,79.9 L547.2,78.5 L539.3,82.8 L534.9,82.5 L528.4,82.4 L524.3,78.5 L520.5,82.4 L514.8,82.5 L509.7,84.6 L503.7,83.3 L498.1,80.9 L491.4,78.8 L486.5,83.4 L482,84.7 L474.3,100 L468.1,95.6 L460.6,95 L456.5,101.6 L448.7,105.5 L441.3,100 L437.8,113.3 L430.6,112.5 L426.1,150.5 L422,120.7 L416.5,128.4 L413.1,138 L407.7,152.1 L403.5,145.1 L397.3,149.5 L392.3,153 L387.3,155.9 L383.1,167.7 L376.4,163.1 L370.4,169.5 L366.2,172.7 L357.7,177.9 L352.7,202.1 L352.7,183.3 L349.8,198.7 L350.7,238 L349,214.2 L345.6,216.2 L346.6,248.2 L345,228.1 L345.7,237.2 L342.9,258.3 L340.7,248.3 L341.6,260.1 L340.7,267.4 L340.1,278.9 L339.8,282.9 L338.6,302.9 L337.4,291.9 L337.6,297.8 L338,306 L337.2,316.7 L337.3,320 L338.6,330.3 L335.5,337 L338.4,343.8 L336.2,348.7 L334.2,361.2 L256,445.8" fill="none" stroke="#5cbf4a" stroke-width="1.7" stroke-opacity="0.33" stroke-linejoin="round"/>
<path d="M728,81.4 L720.1,83.2 L713.1,79.8 L709.3,82.3 L702,83.3 L694.5,80.1 L688.7,83 L682.3,82.4 L677.6,78.8 L670.8,80.1 L664.1,81.2 L659.2,80.2 L651.8,78.9 L648.7,80.4 L642.2,79.4 L637.4,82.1 L632.1,80.1 L628.4,79.6 L624.8,84.7 L618.5,80.1 L614.9,81.5 L608.3,81 L605,81.1 L601.3,81 L597.9,81.4 L592.2,82.6 L588.2,79.3 L582.1,82.6 L574.3,87.7 L569.4,79.4 L563.6,80 L558.1,82.2 L550.5,81.7 L545,78.6 L540.9,82.6 L534.3,83 L528.7,81.4 L521.8,79.1 L516.8,81.1 L512.5,81.1 L504.9,88.6 L499,80.3 L492.6,95 L485,88.9 L478.6,91.9 L470.5,95 L463.3,114.8 L459,105.6 L449.3,102.7 L445.8,131.4 L437.6,108.4 L433.1,113 L428.7,149.4 L423.2,126.9 L420.7,138.6 L414.6,134.1 L409.7,163.4 L406.8,150.4 L400.6,154.1 L394.7,158.8 L389.4,159.5 L380.7,172.4 L374.5,173.1 L370.9,179.2 L364,187.1 L360,196.5 L356,187.5 L353.6,219.6 L353.6,212.1 L351.3,217.9 L350.5,219.5 L352.7,229 L348.8,249.3 L347.6,235.7 L347.7,243.6 L345.8,252.1 L348,256.7 L347.8,268.6 L344,268.7 L343.9,277 L342.8,287.5 L343.6,302.4 L343.4,302.9 L344.3,313.5 L342.3,315.1 L340.9,331 L343.7,340.2 L340.2,336.9 L343.8,347.3 L341.5,358.5 L339.5,367.4 L256,427.9" fill="none" stroke="#5cbf4a" stroke-width="1.7" stroke-opacity="0.33" stroke-linejoin="round"/>
<path d="M728,81.3 L722.8,79.8 L715.9,80.5 L710.6,80.9 L703,83.2 L698.8,79.4 L693.3,81.2 L688.8,81.7 L684,81.3 L677.3,81.3 L672.4,83.2 L668.4,79.3 L661,79.6 L656.6,79.2 L649,79.2 L641.1,83.1 L637.9,83.5 L632.5,88.5 L626.9,79.5 L619.8,82 L614.8,82.6 L611,78.7 L605.6,81.5 L599,85.7 L592.9,81.7 L588.9,81.1 L583.4,78.9 L577.5,78.7 L570.2,81.8 L565.3,81.5 L559.6,86.9 L552.7,80.5 L545.4,82.7 L537.7,82.6 L534.4,80.1 L528.7,82.7 L524.5,82.7 L521.4,82.3 L514.9,85.3 L509.6,83.5 L502.3,96 L497.6,89.7 L487.8,95 L483.1,96.3 L474.3,98.3 L466.8,114.5 L462.5,104.8 L454.1,115.2 L449.2,108.2 L442.2,111.6 L439.4,152.6 L432.6,162 L431,131.7 L426,136.4 L421,155.9 L412.7,160.9 L407,146.9 L403.1,170.1 L396.5,163 L391.8,162.8 L382.1,194.6 L378.4,165.9 L371,189.9 L365.4,224.8 L363.6,214.2 L361.2,192.7 L359.8,224.7 L358.5,219.7 L359.3,221.5 L356.9,227.3 L357.5,275.7 L356.9,237.4 L354.3,257.3 L352.7,251.3 L352.8,266.1 L351.6,270.3 L352.4,292.6 L351.3,299.1 L349.7,288.7 L351.5,296.4 L349.3,301.8 L351.4,315.3 L351.1,318.1 L348.4,327.6 L348,341.3 L349,340.4 L346.9,348.4 L345.9,355.3 L345.5,356.6 L256,429.6" fill="none" stroke="#5cbf4a" stroke-width="1.7" stroke-opacity="0.33" stroke-linejoin="round"/>
<path d="M263,232.4 L264.5,401.5" fill="none" stroke="#5cbf4a" stroke-width="2" stroke-opacity="0.3" stroke-linejoin="round"/>
<path d="M268,167.4 L266.8,396.3" fill="none" stroke="#5cbf4a" stroke-width="2" stroke-opacity="0.3" stroke-linejoin="round"/>
<path d="M276,192.4 L277.8,389.9" fill="none" stroke="#5cbf4a" stroke-width="2" stroke-opacity="0.3" stroke-linejoin="round"/>
<path d="M284,218.2 L283.6,385.9" fill="none" stroke="#5cbf4a" stroke-width="2" stroke-opacity="0.3" stroke-linejoin="round"/>
<path d="M296,181.6 L294.7,380.5" fill="none" stroke="#5cbf4a" stroke-width="2" stroke-opacity="0.3" stroke-linejoin="round"/>
<path d="M300,160.3 L300.9,378.7" fill="none" stroke="#5cbf4a" stroke-width="2" stroke-opacity="0.3" stroke-linejoin="round"/>
<path d="M318,229.5 L318.3,371.3" fill="none" stroke="#5cbf4a" stroke-width="2" stroke-opacity="0.3" stroke-linejoin="round"/>
<path d="M335,124.6 L335,364.5" fill="none" stroke="#5cbf4a" stroke-width="2" stroke-opacity="0.3" stroke-linejoin="round"/>
<path d="M350,214.6 L349.6,358.4" fill="none" stroke="#5cbf4a" stroke-width="2" stroke-opacity="0.3" stroke-linejoin="round"/>
<path d="M366,78 L728,78" fill="none" stroke="#f2552c" stroke-width="5.5" stroke-opacity="0.7" stroke-linejoin="round"/>
<rect x="423.5" y="72" width="3" height="6" fill="#fff"/>
<rect x="441.5" y="72" width="3" height="6" fill="#fff"/>
<rect x="537.5" y="72" width="3" height="6" fill="#fff"/>
</g>
<g clip-path="url(#clipDL)" stroke-linejoin="round" fill="none" stroke-width="3.8">
<path d="M730,540.6 L736,545.1 L741.9,543.1 L745.5,543.9 L751.7,545.6 L756.9,546.5 L762,552.9 L767.3,548.6 L772.6,554.3 L776.4,551.1 L782.2,551.8 L787.5,557.9 L793.3,566.9 L798.9,555.5 L804.9,577 L809.5,557.8 L813.8,596.8 L820,560.1 L825.3,562 L832.2,562.9 L837.3,564.1 L842.8,565.4 L846.4,566.3 L850.3,567.2 L854.9,568.3 L861.1,642.6 L867.9,603.1 L873.4,572.8 L879.8,720 L884.6,705.8 L891.3,608.3 L896.3,577 L900.6,694.3 L905.9,578.5 L911.9,625.1 L916.1,580.1 L922.7,581.2 L928.8,614.7 L935.8,720 L940.3,582.1 L947.2,582 L954.1,589.5 L960.9,581.7 L964.4,720 L971,594.8 L975.1,581.4 L981.3,591.3 L985.6,580.4 L991.7,590.8 L998.2,582.4 L1004.4,577.4 L1010.6,596.9 L1015.1,575.7 L1021.9,574.6 L1028.2,576.6 L1032.7,572.8 L1036.6,643.2 L1040.9,576.4 L1046.5,670.6 L1050.5,571.4 L1056.1,601.6 L1062.8,566.8 L1067.8,569.3 L1072.8,564.8 L1078,563.7 L1082,563 L1088.9,561.9 L1094.7,574.7 L1100.5,580 L1106.3,559.1 L1119.9,527.3 L1121.5,511.6 L1122,79 L1199,79 L1036.3,79 L1010.3,83.9 L986.4,90.9 L964.4,96.3 L944.1,100.9 L925.5,105.2 L908.4,111 L892.6,115.7 L878.1,121.6 L864.8,125.1 L852.5,130.7 L841.2,135.8 L830.8,139.8 L821.3,143.9 L812.5,149.2 L804.4,154.8 L796.9,159.9 L790.1,163.9 L783.8,169.6 L778,173 L772.7,178.9 L767.8,183.9 L763.2,190.1 L762.5,190.7 L762.5,554.7" stroke="#22b14c"/>
<path d="M730,542.3 L736.2,542.6 L739.8,543.4 L743.3,544.1 L746.9,546.1 L751.2,546.4 L755.5,546.8 L760.7,558 L766.5,549.1 L771.3,550.2 L777,560.9 L781.3,552.7 L787.4,553.7 L792.8,554.9 L798.9,557.2 L804.7,557.5 L811.1,558.9 L816.8,569.9 L822.5,602.4 L826.7,565.4 L830.5,567.6 L834.8,564.2 L841,572.8 L847.4,573.4 L852.8,578.6 L859.5,590.3 L863.6,571.1 L870.2,720 L873.8,677.4 L880.6,575.2 L885.6,703.3 L890.1,663.8 L894.3,689.5 L900.5,578.3 L904.6,579 L910.1,580.9 L915.4,687.3 L921.7,690.4 L926.3,689.9 L930.5,720 L935.9,663.2 L941.1,582.8 L946.5,582.7 L952.1,720 L958.5,591.6 L964.4,598.4 L971.2,582.2 L976.2,720 L980.6,593.1 L986.3,677.7 L991.9,697.8 L997.4,579.3 L1001.7,578.6 L1008.6,602.1 L1012.7,576.8 L1018,619.9 L1023.4,575.1 L1027.8,665 L1032.5,573.6 L1036.1,720 L1042.5,687.5 L1047.9,570.5 L1054.3,598.1 L1059.7,581.4 L1066.5,600.9 L1072.2,574.3 L1076,564.8 L1080.4,564.5 L1085.3,573.6 L1090.8,601.5 L1095.7,561.5 L1100,607 L1103.8,560.3 L1108.7,561.1 L1112.5,560.8 L1117,558.1 L1132.8,562 L1133.9,542.3 L1134.4,79 L1199,79 L1069.5,79 L1040.8,84.8 L1014.5,92.3 L990.2,96.8 L967.9,102.3 L947.4,109.6 L928.5,114.5 L911.1,120 L895.1,123.9 L880.4,129.6 L866.9,135.1 L854.5,140.3 L843,144 L832.5,148.4 L822.8,153.6 L813.9,158.3 L805.7,162 L798.1,168 L796.8,168.2 L796.8,563.2" stroke="#ed1c24"/>
<path d="M730,537.5 L734,538.6 L739.6,539.5 L746,543.9 L752.6,542.3 L758.4,545.9 L762.4,562.9 L767.3,545.5 L772.1,546.5 L776.9,547.6 L783.6,549 L790.1,550.5 L794.6,556.1 L801,552.9 L806,554.2 L811.2,555.1 L815.9,573.9 L819.9,597.1 L825.3,595.1 L829,560.4 L832.7,608.9 L838.9,561.4 L845.9,563.1 L849.5,655.1 L856.3,614.5 L862.3,567 L867.7,617.6 L872.5,569.5 L879.5,607.3 L884.4,650.9 L887.9,572.5 L894,591.6 L899.5,606.4 L906.5,655.1 L912,720 L918.2,716.4 L923.6,720 L927.7,605.9 L932.8,654.8 L936.7,660.1 L942.3,597.8 L946.3,578.9 L950.6,720 L954.4,705.1 L959.4,603.8 L964.6,600.5 L969,578.5 L973.1,578.6 L979.3,720 L983.5,720 L988.9,581.6 L993.4,720 L999.9,720 L1003.5,574.5 L1008.7,667.4 L1015.5,617.2 L1019.4,712.8 L1025.2,578.8 L1030.1,604.5 L1036.4,720 L1040.8,585.9 L1045.6,595.3 L1051.7,576.3 L1058.4,571.4 L1062.9,563.7 L1069.2,591.8 L1073.5,592.3 L1079.4,560.4 L1085.6,559.4 L1106.8,552.9 L1108.7,534.3 L1109.2,79 L1199,79 L1059,79 L1031.2,84.6 L1005.6,90.5 L982.1,97.3 L960.4,101.4 L940.5,107.7 L922.2,113.2 L905.3,117.4 L889.8,121.7 L875.5,127.2 L862.4,132.1 L850.3,137.6 L839.2,140.7 L828.9,146.3 L819.5,150.1 L810.9,154.8 L802.9,160.9 L795.6,164.6 L788.9,168.8 L782.7,173.9 L776.9,178.3 L771.7,183.7 L766.9,189.1 L762.4,192.6 L758.3,197.8 L757.4,200 L757.4,542.3" stroke="#2e3192"/>
<path d="M730,540 L734.4,544.7 L740.2,542.2 L745,543.2 L750.6,544.4 L754.6,547.6 L761.6,546.8 L767,556.4 L771.8,553.7 L775.8,556 L781,551 L787.4,552.4 L793.1,553.6 L798.4,556 L803.8,566.6 L809.8,596.8 L814.4,558.3 L818.9,577.1 L823.4,595.7 L829,575.1 L833.1,576.2 L837.6,583 L843.9,565.1 L849.5,566.4 L853.8,567.5 L859.3,601.5 L864.9,570.1 L871.6,639.7 L877.6,584.6 L881.4,574 L885.3,574.6 L889.1,575.7 L895.8,720 L899.4,660.8 L905.3,720 L911.8,591.8 L918.7,582.9 L924.8,705.7 L931.2,664.1 L938.1,631.7 L943,720 L949.8,720 L956.5,610 L962,713.8 L967,581 L971.8,580.9 L977.8,666.1 L984.3,689.2 L988.7,615.2 L995.1,656.2 L999.4,640.5 L1006.4,599.2 L1010,620.7 L1015.2,575.1 L1019.1,605.5 L1025.3,648.9 L1029.8,668.9 L1033.4,572.1 L1037.6,695.8 L1043.4,579.4 L1050.4,573.3 L1054.6,591.7 L1061.6,566.4 L1065.3,565.7 L1071.7,564.4 L1075.9,563.6 L1082.2,562.4 L1087.4,587.9 L1091.8,560.8 L1098.6,575.5 L1104.5,585.7 L1108.1,566.9 L1114.4,569.4 L1129.1,538.9 L1130.2,532.5 L1130.7,79 L1199,79 L854,79 L842.6,81.9 L832.1,85.6 L822.4,90.8 L813.5,93 L805.3,97 L797.8,101.3 L790.9,104.7 L784.5,109.2 L778.7,113.1 L773.3,118.4 L768.3,122.7 L763.8,127.7 L759.6,132.5 L755.7,136.5 L752.2,143 L748.9,147.2 L745.9,153.3 L743.1,161.5 L740.6,168.7 L740.5,167.9 L740.5,541" stroke="#00b7e0"/>
<path d="M730,539.8 L736.2,543.8 L741.7,542.3 L746.5,543.3 L750.1,548.3 L756.7,545.5 L761.9,550.9 L767.5,547.8 L774,555.1 L778.3,550.2 L782.5,552.9 L789.1,552.6 L793.5,553.5 L800.1,555 L807,557.4 L812.1,589.4 L816.2,566.6 L822.8,581.6 L829.6,561.5 L835.6,571.3 L840.7,564.1 L844.7,580.5 L848.5,566 L854.5,567.4 L858.3,568.3 L864.5,569.8 L870.5,720 L875.2,720 L879.6,686 L884.6,713.8 L888.1,720 L893.3,667.7 L897.7,714.3 L904.3,627.4 L908.2,578.1 L914.6,579.9 L918.8,579.8 L924.7,686.3 L931.5,581.5 L936.3,720 L941.6,581.3 L946.4,653.7 L952.6,716.6 L956.9,597.2 L962.1,580.9 L966.5,580.8 L971,580.7 L976.7,703.7 L981.8,604.3 L986,702 L993,580.4 L998,577.7 L1002.3,577 L1005.9,586.9 L1009.7,575.8 L1015.5,577.7 L1022.4,580.1 L1028.6,653.4 L1033.3,571.9 L1039.3,639.7 L1043.9,652.6 L1049.8,571.1 L1056.6,620.7 L1063.6,565.8 L1069.9,587.2 L1074.4,604.3 L1079.1,588 L1083.9,594.8 L1089.9,561 L1096.9,559.8 L1103.3,561.3 L1110.2,562.6 L1113.8,567.8 L1119.4,561.4 L1123.4,557 L1129.6,554.6 L1135.3,553.7 L1142,553.3 L1159.8,520.3 L1162.5,500.4 L1163,79 L1199,79 L885.8,79 L871.8,84 L859,87.3 L847.2,91.8 L836.3,95.4 L826.3,100.5 L817.1,105 L808.6,109.2 L800.9,114.1 L793.7,116.8 L787.1,122.7 L781,127.4 L775.5,131.5 L770.3,136.3 L765.6,141.4 L761.3,146.8 L757.3,152.7 L753.6,157.7 L750.2,163.8 L749.3,165.3 L749.3,550.8" stroke="#ec008c"/>
<path d="M730,538.2 L735.9,539.5 L740.8,544 L747,543.2 L753.5,544.4 L757.5,544.4 L763.8,545.5 L769.4,546.7 L773.4,547.5 L780.3,549 L787.3,550.6 L791.7,552.3 L795.2,552.3 L800.9,557.3 L806.2,554.7 L810,555.6 L814.9,563.3 L818.7,578.1 L823.5,572.9 L827.6,587.3 L834.4,589.5 L840.4,630.7 L847.1,564.1 L853.5,570.7 L859.4,594.5 L866,569.5 L871.4,720 L875.6,668.5 L879.4,571.8 L885.6,574.7 L891.8,677.3 L896.9,574.7 L901.1,575.4 L906.4,576.2 L912.9,720 L919.2,592.9 L925.5,720 L931.4,654.4 L938.2,712.1 L944.1,585.2 L949.6,709.6 L955.1,640 L960.4,644.2 L967,579.2 L972.3,579.1 L976.1,612.8 L981.2,713 L988.2,638.6 L995.1,692.3 L1000.2,720 L1003.9,575.1 L1009.4,720 L1013.3,720 L1017.2,643.8 L1022,574.3 L1026.3,592.7 L1032,570.6 L1038.8,699.5 L1042.6,656 L1047.7,567.4 L1053.4,611.8 L1057.4,570.7 L1061.5,585.5 L1066.6,588.6 L1070.1,580.2 L1076,561.8 L1082.1,578.7 L1087,605.6 L1093.3,561 L1099.1,561.7 L1102.8,557.3 L1106.5,556.7 L1112.3,555.8 L1119,554.7 L1134.1,518.9 L1135.6,509.9 L1136.1,79 L1199,79 L957.8,79 L938.1,83.3 L919.9,87.9 L903.3,93.4 L887.9,98.1 L873.8,101.2 L860.8,105.8 L848.8,109.9 L837.8,114.2 L827.7,119.6 L818.4,123.4 L809.8,129 L802,133.1 L797.5,134.9 L797.5,561.9" stroke="#f7941d"/>
<path d="M730,546.5 L734.9,544.8 L740.7,546.3 L746.3,547.4 L752.5,548.9 L756.3,549.4 L759.9,550.2 L766.7,551.7 L770.4,557.6 L774.8,553.4 L780.8,554.7 L784.9,555.6 L788.8,556.5 L793.3,557.6 L799.3,562.9 L805.6,560.5 L811.2,561.4 L818,562.9 L822.8,564 L828.7,566 L835.5,566.8 L840.3,568 L846.6,609 L853.6,571.2 L859,572.5 L862.9,720 L868.1,575.2 L873.4,691.9 L879.2,611.4 L883.3,675.4 L888.4,597.6 L895.3,680.9 L901,625.1 L907.5,610.8 L912.2,582.7 L916,583.3 L922.7,584.4 L926.9,598.8 L932.8,591.5 L936.4,720 L941.1,585.3 L946.2,616.2 L952.4,718 L958.1,720 L963.9,687.7 L970.9,584.7 L977.6,592.5 L981.6,720 L987.1,720 L993,684.9 L999.9,581.3 L1004.8,689.6 L1010.5,671.7 L1014.6,710.5 L1018.2,609.8 L1022.4,716.9 L1026.4,579.3 L1032.7,720 L1036.3,575.3 L1040.3,709.5 L1047.1,715.1 L1053.4,571.9 L1057.2,634.3 L1062.4,570.1 L1067.1,569.1 L1072.5,568 L1077.6,596.9 L1081.2,566.4 L1087.7,565.3 L1092.4,564.5 L1096,586 L1099.6,575.4 L1105.6,562.4 L1112.3,561.4 L1118.6,590.9 L1123.5,560 L1127,559 L1147.2,519.6 L1150.4,503.4 L1150.9,79 L1199,79 L923.6,79 L906.7,82.5 L891,88.4 L876.7,92.5 L863.4,96.6 L851.3,100 L840.1,104.6 L829.8,109.3 L820.3,113.6 L811.6,116.7 L803.6,121.6 L796.2,124.8 L789.4,129.9 L783.1,135.3 L777.4,139.4 L772.1,143.7 L767.3,149.5 L762.8,153.2 L758.7,158.7 L754.9,163.9 L751.4,169 L748.2,176.2 L746.4,180 L746.4,547.9" stroke="#8c8c3c"/>
<path d="M730,540.8 L735.4,541.9 L739.2,542.8 L743,543.6 L749.3,547.8 L752.9,545.7 L759,547 L763.4,551 L769.4,563.5 L774.7,550.4 L778.9,551.3 L783.9,563.3 L789.9,553.7 L794.5,554.7 L800.9,570.3 L805.7,561.3 L811.5,558.5 L816.5,601.6 L821.3,560.7 L825.8,561.6 L831.7,576.7 L838.1,572.7 L841.8,628.7 L845.5,593 L852,567.9 L857.8,569.2 L864.5,719.2 L869.5,604.9 L873.4,573 L880.3,720 L884.2,595.7 L888.9,615 L893.5,583.3 L898.7,637.8 L905.6,581.2 L912.3,597.5 L918.3,599.5 L924.6,577.3 L929.8,580.6 L935.1,591.7 L938.7,571.9 L943.2,593.2 L948.1,573.4 L953.7,565.8 L960.6,573.2 L967,567.6 L971.1,569.6 L977.5,571.9 L982.1,559.4 L985.8,559.3 L990.2,573.8 L995.8,586.9 L1001.3,561.9 L1007.9,553.5 L1011.5,581.1 L1016.2,552.3 L1022.5,557.3 L1027.3,554.9 L1032.1,562 L1036.4,562.6 L1040.1,577.1 L1045.4,555.3 L1051.8,544.9 L1058.6,541.3 L1065,530.2 L1069.9,532.5 L1076.6,526.2 L1080.3,524.3 L1086,533.7 L1092.2,529.5 L1098.5,525 L1104.7,528.8 L1113.3,525.7 L1115.7,520.4 L1116.2,79 L1199,79 L1025.4,79 L1000.3,84.2 L977.2,90.3 L955.9,96 L936.3,100.2 L918.3,106.2 L901.8,111.1 L886.5,116.1 L872.5,121.6 L859.6,126.4 L847.8,130.4 L836.9,134.9 L826.8,140.2 L817.6,143.8 L809.1,148.5 L809.1,555.4" stroke="#22b14c"/>
<path d="M730,548.1 L736.5,549.9 L741.3,545.1 L748,549.6 L752.4,552.5 L757.3,550.4 L763.4,557.2 L768.3,551 L773.7,552.3 L778.6,554 L785.5,554.7 L790.5,555.8 L795.1,556.8 L800,557.9 L805.5,559.1 L809.8,560 L816.2,561.4 L821.5,567.3 L825.7,629.5 L832.2,565 L836.7,566.1 L842.8,567.6 L849.5,569.2 L855.6,570.6 L860.1,637 L866.9,573.3 L873.4,574.9 L877.1,575.8 L881.8,646.6 L887.1,577.6 L892.7,657.6 L898,693.5 L904.6,694.8 L910.3,581.3 L914.4,582 L919.4,669.8 L923.5,705 L927.5,655.8 L933.2,675.6 L939.6,584.3 L946.6,648.5 L951.8,720 L956.9,583.9 L960.7,720 L965.5,720 L971.9,702.3 L978.6,608.6 L982.3,583.1 L986.5,588.8 L991.9,720 L997.6,580.7 L1004.1,579.6 L1009.5,578.8 L1014.7,577.9 L1020.3,577 L1026.6,576 L1033.4,574.8 L1038.4,719.7 L1042.7,600.4 L1047.6,644.4 L1053.5,593.9 L1059.5,569.6 L1064.6,568.6 L1071.1,573.6 L1075.3,582.4 L1079.3,583.9 L1085.8,564.6 L1091.2,594.4 L1095.1,579.9 L1100.8,562.2 L1105.7,564.7 L1111.4,560.5 L1117,592.1 L1123,566.4 L1129.3,561.7 L1134.7,557.7 L1140,555.7 L1155.6,514.2 L1157,508.4 L1157.5,79 L1199,79 L893.6,79 L879,82.9 L865.6,86.2 L853.3,90.3 L841.9,96 L831.5,99.1 L821.9,102.7 L813,107.3 L804.9,111.3 L797.4,115.8 L790.5,119.9 L784.2,123.3 L781.9,125.1 L781.9,552.4" stroke="#808080"/>
<path d="M730,541.9 L734.7,542.3 L740.6,544 L744.4,546.8 L748.3,549.6 L753.9,546.4 L757.7,547.3 L762.4,553.5 L768.3,561.4 L772.9,550.5 L779.6,552 L783.8,562.2 L788.9,567 L793,554.9 L798.6,556.1 L803.7,558.2 L808.1,558.2 L811.8,560.9 L817,560.4 L821.6,576.6 L825.5,563 L829.7,563 L836.1,564.5 L842.8,566.1 L849.2,567.7 L854.5,568.9 L859.1,580.5 L863.4,571.1 L867.5,596.2 L872.2,586.5 L879.1,648.3 L883.9,575.7 L888.1,576.4 L892.1,577 L896.4,711.3 L901.3,621.5 L904.8,585.9 L911.1,587.4 L915.4,651.5 L919.4,720 L925.7,628.8 L931.1,720 L934.8,583 L939.2,627 L942.9,720 L947.9,650.1 L951.6,582.6 L958.6,656.3 L963.3,720 L969.2,632.3 L974.2,657.7 L978.6,700.6 L982.5,691.3 L989.3,580.6 L994.2,672.9 L998.6,592.5 L1004.8,649.4 L1009.9,720 L1014.2,624 L1021.1,690.2 L1026.9,681.5 L1033,720 L1038,720 L1043.3,680.4 L1049.2,636.2 L1055.9,568.9 L1059.9,610.4 L1064.2,567.2 L1067.7,567.2 L1072.2,565.6 L1076.2,564.8 L1082,563.7 L1087.1,582.5 L1091.3,562.3 L1110.6,514.3 L1113.3,505.3 L1113.8,79 L1199,79 L1031.1,79 L1005.6,84.8 L982,90 L960.4,95.5 L940.4,100 L922.1,105.8 L905.3,111 L889.7,116 L875.5,120.1 L862.3,125.7 L850.3,131.7 L839.1,136.5 L828.9,140.8 L819.5,145.5 L810.9,149.8 L805.7,153.3 L805.7,558.7" stroke="#9e1f1f"/>
<path d="M730,541 L734.4,540 L739.1,541.1 L743.7,548.7 L748.3,543 L753,547.9 L758.5,545.3 L762.9,546.2 L768.5,555.5 L772.5,548.3 L778.4,549.6 L782.4,550.4 L788.9,556.6 L793.2,568.7 L797.4,553.7 L801.2,554.6 L804.7,555.3 L808.6,556.2 L814.2,571.1 L819,558.5 L823.3,559.4 L828.1,560.5 L831.7,561.3 L836.1,562.4 L842,564.1 L846.3,564.8 L851.2,566 L856.3,567.2 L860.9,568.3 L865.1,578.8 L869.2,683.1 L873.3,571.3 L877.4,697.9 L881.2,619.2 L884.9,587.3 L891.2,574.7 L897.8,720 L904.8,617.6 L910.3,589.6 L915.1,599 L920.2,579.3 L926.5,649.9 L932.5,648 L936.3,581.5 L940.7,581.1 L946.3,595.3 L951.9,720 L958.6,635 L964.3,580.2 L969.9,591.1 L975,699.8 L979.5,672 L985.7,579 L991.1,578.1 L996.1,577.3 L1001.3,679.2 L1006.6,575.6 L1011.4,690.1 L1017.9,720 L1023.4,720 L1030.1,572 L1036.8,580.8 L1040.7,602.6 L1045.8,568.7 L1051.5,567.6 L1055.4,566.8 L1059.2,572.7 L1065.1,564.9 L1069.3,564 L1074,594.9 L1077.7,562.3 L1084.6,561.2 L1089.6,588.4 L1105.8,523.5 L1107.8,510.9 L1108.3,79 L1199,79 L1065.8,79 L1037.4,85.9 L1011.3,90.9 L987.3,97.3 L965.3,103 L944.9,107.2 L926.3,113.3 L909.1,118.9 L893.2,123.7 L878.7,127.4 L865.3,133.8 L853,138.4 L841.7,143.5 L831.2,146.4 L821.6,152.8 L812.8,156 L804.7,160.3 L802.4,161.6 L802.4,564.4" stroke="#00827f"/>
<path d="M730,540.5 L733.7,540.5 L738.1,538.9 L744.9,540.4 L749,546.8 L753.2,542.3 L759.2,544.1 L764,554.2 L770.4,549.3 L775.2,551.7 L782.2,559.3 L786.5,549.4 L793.3,565.6 L799.2,552.2 L805.9,553.6 L809.4,554.4 L815.8,555.8 L821.6,557.1 L828.3,558.6 L832.8,559.6 L836.6,560.5 L841.7,561.8 L845.8,562.7 L851.5,564.1 L857.3,565.5 L863.6,567 L868.4,570.6 L872.8,719.1 L877.5,652.2 L884.3,571.6 L888.2,611 L894.6,591.7 L898.5,667.9 L902.3,589.2 L907.8,720 L913.7,576.3 L918,577 L923.7,622.3 L927.9,690 L931.9,578.9 L938,638.8 L943.7,627.1 L949.7,618.9 L953.6,579.6 L958.1,578.4 L962.2,596.3 L966.2,680.3 L971.9,665.2 L978,578 L984.6,592 L990.1,576.3 L995,644.4 L999.1,574.9 L1005.3,573.9 L1011.8,672.2 L1017.4,572 L1024.3,570.9 L1030.5,704 L1036.7,568.6 L1042.2,568.7 L1048.3,720 L1052,565.6 L1058.2,565.4 L1063.7,563.2 L1069.8,600.7 L1076.3,613 L1082.9,559.5 L1086.8,558.9 L1090.8,558.2 L1097.3,557.2 L1104.1,562.8 L1108.1,561.7 L1114.5,558.6 L1120.8,553.4 L1124.8,552.8 L1128.9,552.1 L1134.2,561.4 L1149.6,527.5 L1153.2,521.1 L1153.7,79 L1199,79 L1089.2,79 L1059,85.2 L1031.2,91 L1005.6,96.7 L982.1,102.9 L960.4,108.7 L940.5,114.4 L922.1,120.1 L905.3,124.8 L889.8,129.4 L875.5,133.8 L862.4,139.5 L850.3,143.5 L839.2,149 L828.9,154.3 L819.5,158.9 L810.9,161.9 L802.9,167.9 L795.6,172 L788.8,176.3 L782.6,182.2 L776.9,185.8 L771.7,191.2 L766.9,195.3 L763.2,200.5 L763.2,549.2" stroke="#2e5cb8"/>
<path d="M730,541.4 L734.2,549.1 L739.1,544.5 L743.7,544.4 L750,545.7 L754.6,546.7 L759.2,547.7 L763.4,548.6 L767,549.4 L771.2,550.3 L776.9,551.7 L783,552.9 L788.2,554 L793.8,558.1 L797.7,561.4 L801.8,584 L807.4,558.2 L813,569.5 L816.5,578.9 L822,561.4 L826.4,600 L833.3,568.5 L840.3,565.7 L846.5,567.2 L851.8,575.8 L855.8,589.9 L862.5,571 L869.4,720 L874.2,573.8 L879.8,720 L885.7,680.2 L892.6,577.2 L896.1,640 L902.7,648.6 L906.5,592.1 L913,581.5 L919,582.6 L925.5,683.8 L929,594.8 L934.6,583.1 L938.9,720 L943,618.4 L949.5,582.8 L953.5,582.7 L958.8,596.1 L963.2,604.5 L967.9,696.2 L974,720 L979.3,677.5 L983.1,696.1 L987.8,680.2 L994.6,720 L1001.1,591.6 L1007.8,579.4 L1014.5,592.7 L1018.6,576 L1023.6,575.2 L1030.3,720 L1036.7,661.7 L1042.5,574.2 L1049.5,609.9 L1054.9,592.2 L1059.6,568.3 L1066.5,566.9 L1071,566 L1074.5,565.3 L1081.4,564 L1086.5,563.2 L1091.7,564.5 L1096.6,565.2 L1102.7,610.5 L1109.2,599.3 L1121,558 L1122.8,543.6 L1123.3,79 L1199,79 L1062.9,79 L1034.7,85.6 L1008.9,91.2 L985.1,96.2 L963.2,101.8 L943,106.2 L924.5,111.4 L907.4,116.9 L891.7,121.4 L877.3,128.1 L864,132.2 L851.8,137.6 L840.6,141.5 L830.2,146.6 L820.7,150.9 L812,156.3 L803.9,160.6 L798.1,163.6 L798.1,555.1" stroke="#8c64b4"/>
<path d="M730,545 L734.1,545.9 L738.3,547.5 L744,548 L750,551.2 L754,550.7 L758.7,551.1 L763.5,565.4 L769,569.1 L775.8,554.8 L782.7,567 L787.8,559.1 L792.1,563.1 L798.2,559.8 L802.2,562.7 L806.7,588.7 L810.4,569.2 L815.3,615.8 L821,603.5 L827.1,579.6 L832.1,605.1 L835.7,568.8 L839.2,577.6 L844.7,572.1 L850.5,573.2 L856.3,613.7 L860.4,574.1 L865.7,575.3 L869.5,597.2 L873.7,597.1 L880.2,578.8 L886.7,579.8 L893,593.1 L899,669.3 L902.6,584.3 L906.1,582.9 L913,694.1 L919.8,639.6 L924.1,653.4 L929.5,647.2 L933.3,720 L937.1,675.4 L941.6,586.5 L946.3,586.4 L951.1,610 L956,637.1 L962.7,669.1 L966.4,711.9 L971.2,622.7 L978.1,635.3 L985.1,665.8 L989.6,584.2 L996.5,583.1 L1001,687.9 L1007.4,627.9 L1012.9,589.8 L1019.5,579.4 L1026.3,578.3 L1031.5,577.8 L1038.4,720 L1044.1,574.9 L1049.8,601.8 L1053.3,575.1 L1058.5,590.8 L1064.6,624 L1068.8,570 L1072.4,569.3 L1077.7,579.5 L1083,567.3 L1086.5,567.3 L1090.4,566.1 L1095.8,570.6 L1102.5,601.7 L1108.7,565.7 L1116.2,556.3 L1119.5,541.2 L1120,79 L1199,79 L875.7,79 L862.6,82.3 L850.5,87 L839.3,90.1 L829.1,93.4 L819.7,98.1 L811,103 L803,105.5 L795.7,109.4 L788.9,114.6 L782.7,119.2 L777,122.2 L771.8,128.2 L766.9,132.8 L762.5,136.8 L758.4,142 L754.7,148 L754.7,552.5" stroke="#e6e65a"/>
<path d="M730,540.4 L733.9,541.2 L740,542.8 L746.6,544 L752.8,545.6 L757.7,549.6 L762.9,548.1 L767.6,552 L773.7,553.9 L779.2,551 L784.8,554 L790.8,553.6 L795.6,554.6 L800.9,562.6 L806.8,557.2 L811,561.3 L817.2,559.4 L821.5,573.8 L826.8,561.5 L831.1,581.7 L837.5,584.5 L843.9,565.5 L849.8,566.9 L853.5,581.3 L857.5,568.8 L862,603.1 L865.7,720 L871.1,615.6 L876,663.1 L879.9,720 L884.2,680.2 L889.8,628.5 L894.2,578.5 L899.3,577.3 L904.4,578.1 L910.4,595.2 L915,587.2 L921.7,580.9 L926.2,581.6 L931.7,720 L935.7,653.3 L942.5,652.1 L947.4,674.9 L952.3,688.3 L957.8,592.9 L964.8,646.1 L969.5,692.2 L976.4,674.6 L980.8,656.8 L984.4,581.6 L988,594.8 L993.4,720 L998.1,578.3 L1003.3,720 L1008.7,576.6 L1012.2,669.2 L1018.1,575.1 L1021.9,691.3 L1026.9,573.7 L1032.3,667.5 L1038.5,707.1 L1045,720 L1050.1,606.9 L1056.3,651.5 L1061.9,574.2 L1065.8,635.5 L1071.9,595.2 L1078.7,563.4 L1094.7,537.8 L1096.1,529.1 L1096.6,79 L1199,79 L983,79 L961.3,85.2 L941.3,88.8 L922.9,93.9 L905.9,98.4 L890.4,103.4 L876.1,109.5 L862.9,113.7 L850.8,117.9 L839.6,122.6 L829.3,128.3 L819.9,133.1 L811.2,138.2 L803.2,141.2 L795.9,147.3 L789.1,152.5 L782.9,156.6 L777.2,162.2 L771.9,166.8 L767.1,172.4 L762.6,177.6 L758.5,183.6 L754.7,189.1 L751.3,194.6 L748.1,201.8 L747.3,201.9 L747.3,550.8" stroke="#111111"/>
<path d="M730,540.2 L734.8,543 L739.4,542.2 L743.2,543.1 L748.7,544.2 L753.4,545.2 L758.2,547.2 L764.9,564.6 L769.4,556.3 L773.3,550.3 L778.2,562.1 L783.9,554.5 L788.5,552.9 L792.7,553.8 L798.4,563.7 L803.9,556.3 L807.4,557 L811.5,557.9 L817.6,559.3 L822.3,579.4 L827.1,578.5 L831,562.2 L837.8,567.5 L842,614.8 L848.9,584 L854.9,578.2 L859.3,585.2 L862.9,609.6 L869.3,571.4 L875.6,702.5 L881.6,580.4 L886.4,720 L890.5,575.7 L894.8,576.4 L899.3,687.7 L903.9,680.7 L909.8,681.6 L913.8,584.5 L917.9,686.9 L924,720 L929.5,581.9 L933.3,649.8 L940.2,720 L944.3,707.3 L949.2,581.6 L953.6,720 L958.8,597.1 L963.5,720 L968.9,720 L974.3,669 L979.1,712.8 L985.4,604.1 L990.8,579.3 L994.9,578.6 L998.5,702.5 L1003.6,677.8 L1007.2,576.6 L1011.8,607.7 L1017.4,695.9 L1023.1,685.1 L1028.6,573.2 L1033.5,715.2 L1038.9,677.8 L1043.4,570.3 L1048.6,599.4 L1054.6,575.6 L1059.5,591.3 L1063.3,566.3 L1070,574.1 L1074.8,576.1 L1081.6,562.7 L1085.9,562 L1091.7,561.1 L1097.9,560.1 L1101.6,559.5 L1105.8,559.3 L1110,558.2 L1115.7,561.4 L1119.5,556.7 L1125.3,555.7 L1129.5,557.7 L1133.6,554.4 L1137.4,555.7 L1143.8,552.6 L1151.1,506.1 L1154.1,492 L1154.6,79 L1199,79 L1111,79 L1079.1,86.7 L1049.6,93.6 L1022.6,100 L997.7,105.5 L974.8,111.8 L953.7,117.8 L934.3,124.1 L916.5,130.4 L900.1,135.5 L885,141.6 L871.1,146.9 L858.3,151 L846.5,156.8 L835.7,160.8 L825.8,166 L816.6,171 L808.9,176.7 L808.9,557.2" stroke="#d64fa0"/>
<path d="M730,538.6 L735.8,539.8 L742.5,541.3 L749,544.4 L754.5,544.3 L760.1,545.1 L766.7,563.5 L773.4,555.4 L779.3,550 L783.9,550.2 L790.2,551.6 L793.8,556.2 L799.2,559.6 L805.8,555.1 L811.3,561 L817.1,557.5 L820.7,574 L825.4,559.4 L829.7,560.3 L836.7,563.6 L842.3,615.5 L848.6,564.9 L852.4,565.8 L857.3,568.1 L864.1,683.9 L868,686.4 L873.1,598.8 L878.1,622.9 L882.9,653.3 L887.9,573.6 L891.5,580.2 L897.4,575.2 L901.8,575.9 L906.8,580.1 L911.4,720 L918,587.7 L923.6,584.7 L930,588.6 L934.1,580.3 L941,720 L945.3,580.1 L949.2,580.9 L953.3,579.9 L958.5,579.8 L964.4,658.6 L970.1,642.2 L973.9,584.6 L978.8,599.4 L983.5,595.3 L987.8,578.1 L994.2,720 L998.5,640.5 L1004.3,575.5 L1010.3,595.3 L1014.1,647 L1020.7,720 L1025.3,601.4 L1032,571 L1037.6,569.9 L1042.1,702.5 L1047.4,715.6 L1051.1,586.8 L1055.8,595 L1062.8,564.8 L1066.4,564.1 L1070.9,639.9 L1075.9,562.2 L1079.7,613.4 L1083.3,560.8 L1088.1,560.1 L1093.3,568.4 L1099.1,585.8 L1108.3,524.2 L1112.2,517.5 L1112.7,79 L1199,79 L871,79 L858.2,83.9 L846.5,86.3 L835.7,89.9 L825.7,93.7 L816.6,98.4 L808.2,103.1 L800.4,105.9 L793.3,111.4 L786.7,114.4 L780.7,120 L775.2,124.8 L770,128.8 L765.4,134.1 L761.4,137.4 L761.4,555.1" stroke="#39b54a"/>
<path d="M730,545.1 L735.9,547 L739.7,547.2 L743.4,548 L749.6,554.7 L755.9,551.4 L761.8,553.6 L766.3,570.5 L772.8,554.3 L776.5,555.1 L783.3,558.6 L790.2,558.1 L794,559 L800.2,562.2 L804.9,575.9 L809.7,562.4 L813.7,571 L819.5,564.6 L825.7,566 L830.1,566.9 L834.1,580.1 L837.9,568.8 L843,604.8 L849,578.4 L854.2,593.6 L860.2,574.2 L865.8,604.1 L871,640.4 L874.8,720 L879.2,651.8 L883.8,607.4 L887.4,703.3 L891.2,702.3 L895.9,695.6 L900.2,626 L905.2,582.9 L909.9,583.7 L914.3,596.8 L918,585 L924.6,615.8 L930.4,588.3 L936.5,586.8 L942.2,695.4 L947.5,611.4 L953.8,586.4 L960.5,614.9 L965.6,593.5 L970.5,707.5 L974.7,586 L981.6,585.7 L988.6,604.2 L994.3,695.7 L1001.1,693.2 L1007.9,712.2 L1011.4,719.1 L1015.7,586.6 L1020.6,684.9 L1025.3,582.3 L1029.3,581 L1035.3,598.6 L1039.8,720 L1045.5,604 L1049.1,604.1 L1053.1,596.5 L1057,572.5 L1061.7,630 L1067,570.5 L1073.9,579.8 L1078.3,600.5 L1084.6,655.2 L1089.8,566.3 L1095.3,572 L1099.2,570.8 L1105.4,574.3 L1112.1,565.5 L1117.5,579.2 L1121.4,565.8 L1128,561.6 L1134.4,560.4 L1138.4,558.4 L1143.3,558.5 L1160,530.1 L1163.4,520.1 L1163.9,79 L1199,79 L966.4,79 L946,83.6 L927.3,87.4 L910,92.2 L894.1,96.6 L879.5,101.2 L866,106.3 L853.6,110.5 L842.3,114.3 L831.8,119.6 L822.2,123.2 L813.3,128 L805.1,131.5 L797.6,136.8 L790.7,141.1 L784.4,146.8 L778.5,150.9 L773.2,155 L771.7,158.1 L771.7,549" stroke="#a0288c"/>
<path d="M730,538.9 L735.3,541.5 L740,537.6 L746.8,539.1 L751.7,541.4 L756.2,542.5 L761.5,556.9 L768.3,557.1 L775,546 L781.6,546.6 L786.9,550.9 L793.3,559 L797.9,555.1 L801.8,551 L805.4,551.8 L809.3,553.4 L812.9,564.1 L818.9,554.8 L823.1,555.7 L826.8,604.2 L830.3,577.9 L834.7,558.4 L838.2,587.8 L843.5,560.5 L850,580.5 L856.2,634.7 L860.6,594.6 L866.6,569.2 L870.9,656.6 L877.7,689.2 L882.6,613.2 L888.6,570.6 L895,583.5 L898.6,597 L905.6,592.2 L910.6,675.5 L914.9,574.8 L919.9,575.6 L926.4,720 L933,720 L938.8,642.4 L944.7,707.8 L948.6,720 L952.4,593.3 L956.4,697.7 L961.8,666.5 L967.7,576.5 L971.5,635.8 L976.9,579.1 L981.2,644.7 L987.4,575 L992.9,657.7 L997.7,661.1 L1004.7,651.7 L1008.9,720 L1013.6,570.9 L1017.7,661.7 L1023.6,641.4 L1028.9,587.1 L1032.4,579.2 L1038.6,633.3 L1045.2,596.4 L1049.5,567.8 L1054.4,563.3 L1059.4,585.5 L1064.4,561.4 L1069.3,560.4 L1074.5,559.3 L1080.9,567.2 L1085.1,557.4 L1091.2,560.7 L1095.4,555.8 L1099.3,555.1 L1104.1,555 L1107.7,574.8 L1113.6,569.4 L1117.7,552.2 L1124,551.2 L1129.1,550.4 L1135.3,549.3 L1141.5,553 L1147.9,556.8 L1153.8,546.1 L1164.1,534.8 L1165.3,515.1 L1165.8,79 L1199,79 L1088.3,79 L1058.1,85.4 L1030.4,92.2 L1004.8,97.6 L981.4,103.9 L959.8,109.8 L939.9,116.3 L921.6,120.9 L904.8,127.5 L889.3,131.5 L875.1,137.4 L862,142.3 L849.9,146.8 L838.8,152.3 L828.6,156.5 L819.2,161.5 L812.1,165.9 L812.1,562.1" stroke="#2e5cb8"/>
<path d="M730,539.9 L736.9,539.5 L742.6,545.8 L748.1,541.9 L752.1,542.8 L758.1,545.9 L763.1,545.2 L766.6,545.9 L771.1,546.9 L777.3,548.2 L781.9,549.2 L787.7,556.5 L791.8,552.5 L796.7,552.5 L802.8,557.3 L808,555 L811.7,563.5 L817.1,565.8 L822.4,558.2 L826.2,572.4 L831.1,599.3 L835.1,561 L841,581.3 L847.5,584.9 L854,565.6 L860.8,567.3 L865.5,568.3 L869.8,720 L874.9,677.4 L881.3,586.3 L886.3,705.7 L892.9,573.9 L897.1,613 L904,660.7 L909.6,720 L914.4,706 L918.7,582.8 L925,592 L929.2,579.7 L936,663.9 L941.4,579.6 L947.7,700.8 L952.8,579.4 L956.4,688.6 L960.9,579.5 L965.7,594.4 L972.6,582.9 L979.4,711.5 L986,675.6 L990.2,614.6 L996.3,576.2 L1000.1,695.4 L1006,673.5 L1011.1,588 L1014.9,573.2 L1018.7,720 L1022.5,583.2 L1027.9,575.7 L1033.6,694.5 L1039.9,667.9 L1045.5,595.1 L1051.9,596.9 L1057,609.2 L1061.6,570.2 L1065.7,563.7 L1070.9,596.2 L1074.8,561.9 L1080.4,560.8 L1085.5,565.8 L1091.4,562.7 L1096.3,616.7 L1103.1,560.7 L1109.5,556.1 L1116.4,555 L1122.5,554 L1127.9,553.1 L1133.7,557.5 L1137.2,551.6 L1142.7,550.6 L1148,549.7 L1151.6,549 L1155.2,552.9 L1162.7,509.5 L1163.8,491.2 L1164.3,79 L1199,79 L842.9,79 L832.4,83 L822.7,85.7 L813.8,90.1 L805.6,94.7 L798,99.4 L791.1,103.1 L784.7,107.6 L778.9,111.7 L773.5,115.8 L768.5,119.7 L763.9,124.6 L759.7,129 L755.8,134.8 L752.3,140.6 L749,145.7 L746.7,150.6 L746.7,542.2" stroke="#ef7f9f"/>
<path d="M730,542.7 L736,545.5 L742.4,545.4 L746.8,550.8 L752.1,551.9 L758.8,553.8 L765.8,550.4 L771.8,552.9 L777.3,580.2 L783.8,554.3 L788.3,558.4 L792,556.1 L796.7,557.2 L802.7,558.5 L806.4,559.3 L811.1,568.4 L815.9,588.2 L820.5,562.5 L827.3,570.8 L830.9,564.7 L836.8,566.1 L843.7,567.8 L848.8,569 L853.5,570.1 L858.2,605.5 L862.1,720 L868,585.8 L872.8,574.8 L877.8,678.4 L883.6,585.3 L890.1,681.8 L895.2,578.9 L900.2,579.7 L906.4,720 L910,617 L914.8,582.1 L920.2,582.9 L925.8,619.1 L929.5,663.1 L934.9,711.2 L938.9,646.6 L943.8,681.5 L948.8,588.7 L955.2,598.8 L960.5,669.8 L967.1,583.8 L971.8,720 L975.5,618.1 L981.6,708.4 L988.5,720 L994.9,661.8 L1001.8,599.7 L1005.6,680.8 L1010.2,657.8 L1016,712.6 L1021.1,576.9 L1028,580.9 L1033.8,691.5 L1040.8,663.7 L1047.1,712.9 L1051,578.9 L1055.2,609.9 L1060,601.4 L1064.4,568.6 L1069.7,567.6 L1073.9,607 L1087,555.3 L1090.6,542.4 L1091.1,79 L1199,79 L971.3,79 L950.5,83.5 L931.4,88.4 L913.8,93.2 L897.6,96.4 L882.7,100.8 L869,105.3 L856.4,108.9 L844.8,113 L834.1,118.6 L824.3,123 L815.2,126.2 L806.9,130.2 L799.3,134.3 L792.2,138.7 L785.8,144.3 L779.8,148.5 L774.3,153.3 L769.7,157.4 L769.7,551.9" stroke="#b0308f"/>
<path d="M730,536.3 L735,537.4 L739.5,540.4 L745.4,541.1 L750.2,544.6 L755.1,541.7 L759.9,542.7 L766,544 L773,545.5 L778,546.6 L782,547.5 L788.7,549 L795.5,560.9 L800.5,551.6 L807.2,555.8 L813.1,554.3 L819.1,557.3 L823.9,572.5 L830.9,558.3 L835.7,573.3 L839.3,560.3 L846,561.9 L851.4,563.2 L858.2,564.8 L863.4,720 L869.3,640.6 L873.6,568.5 L878.4,713.1 L882,570.4 L887.9,720 L891.7,651.5 L895.9,580.1 L900.2,653.7 L904.3,715.2 L911,720 L915.5,640.3 L922.2,720 L928.4,696.3 L933.3,578 L937.7,720 L944.7,613.6 L949.4,720 L954.5,647.6 L959.8,577.5 L965.9,623.7 L969.9,605 L974.4,657.9 L981.4,720 L987.9,575.8 L992.3,720 L998.6,679.8 L1005.3,611.3 L1010.9,572.1 L1015.4,698.6 L1021.1,680.8 L1025.9,633.6 L1032.8,573.7 L1038,604.3 L1045,622.2 L1049.6,565.1 L1053.7,617.7 L1060.1,563 L1066.5,573 L1072.3,599.3 L1078.3,559.4 L1084.7,558.3 L1095.7,510.9 L1099.6,503 L1100.1,79 L1199,79 L1094.9,79 L1064.2,87.1 L1036,94.1 L1010,101 L986.1,107.5 L964.1,112.3 L943.9,118.8 L925.3,125.2 L908.2,130.7 L892.4,136 L877.9,142.3 L864.6,147.5 L852.4,152.7 L841.1,158.2 L830.7,163.6 L821.1,168.5 L812.4,174.6 L804.3,178.1 L796.8,184.2 L790,189.7 L783.7,194.3 L782.2,196.1 L782.2,549.8" stroke="#8a8a8a"/>
<path d="M730,544.1 L734.7,546.8 L738.5,547 L743.6,547 L748.3,548 L752.3,548.9 L758.3,550.2 L765.1,551.6 L770.4,556.2 L775,554.3 L780.9,555 L786.1,568.9 L792.9,557.7 L799.6,562.2 L805.1,560.4 L811.8,561.8 L816.7,562.9 L822.2,564.1 L826.2,565 L829.9,565.8 L834.2,566.8 L839.5,582.3 L846.1,599.7 L851.4,571 L855.5,590.7 L859.3,598.4 L866.2,604.3 L871.8,575.9 L875.4,576.7 L879.9,693 L883.7,673.7 L889.5,583.1 L896.4,580.5 L902.2,581.4 L908.7,582.4 L914,720 L919.2,653.5 L923.6,650 L928.6,676.2 L934,637.9 L937.8,585.7 L944.2,585.6 L949.7,645.7 L955,585.3 L960.2,659.7 L966.2,585.1 L969.9,720 L975.8,584.9 L980.4,665.6 L984.4,674.8 L988.6,608.8 L992.4,599.1 L997,582.1 L1003.8,643.9 L1008.9,667.4 L1012.5,720 L1019.2,578.6 L1024,720 L1029.8,576.9 L1035.5,575.7 L1039.7,674.5 L1045.5,573.7 L1051,581.1 L1056.6,571.5 L1060.8,570.7 L1065,578.9 L1070.4,585 L1074.9,567.9 L1078.8,597.8 L1083.8,576.9 L1090.1,603.6 L1093.6,571.5 L1099.8,563.7 L1106.3,562.6 L1112.9,562.2 L1119.1,590.7 L1126,566.4 L1131.9,558.5 L1138.1,558.3 L1153.1,517.6 L1156.6,501.8 L1157.1,79 L1199,79 L1054.2,79 L1026.7,85.9 L1001.5,91.2 L978.3,97 L956.9,102.8 L937.3,106.9 L919.2,113.8 L902.6,117.6 L887.3,123.4 L873.2,129.3 L860.3,133.8 L848.3,137.6 L837.4,143.6 L827.3,147.2 L818,152.4 L809.5,156.8 L801.6,162 L794.4,167.4 L787.8,171.8 L786.8,172.4 L786.8,548.5" stroke="#7b5fb0"/>
<path d="M730,541.8 L734.8,544 L739.3,543.9 L743.2,550.6 L748.2,546.1 L753.8,547 L758.1,548.4 L763.3,549 L767.6,557.8 L772.2,559.7 L777.6,576.8 L782,563.8 L786.7,554.1 L791.4,577.7 L795.7,561.9 L799.5,561.5 L803.2,558.9 L809.8,591.4 L814.6,592.3 L819.9,562.3 L825.6,562.7 L829.1,563.4 L832.8,564.3 L838,565.6 L841.6,566.4 L845.9,608.9 L849.6,568.3 L853.9,597.1 L860.2,599.8 L866.9,690.4 L872,598.3 L878.9,694.9 L884.8,582.6 L891,637.4 L897.2,653.3 L900.9,720 L905.4,582.8 L911.3,580.6 L917.4,581.6 L920.9,633.4 L925.7,713.2 L930.5,583.6 L935.5,583.5 L939.4,694.9 L945.7,583.3 L952.6,720 L958.1,720 L963.7,585.2 L968.7,667.4 L974.2,631.2 L979.8,666.1 L984.5,605.4 L990.9,683.7 L995.9,593 L999.6,680.3 L1005.2,613.3 L1010.8,577.7 L1014.8,714.8 L1019.9,640.4 L1023.5,681.8 L1030.2,633.8 L1034.4,584 L1040.8,637.4 L1046.9,571.3 L1050.7,570.5 L1056.1,569.4 L1061.5,618.6 L1065.6,580.8 L1070.4,636 L1075.7,565.5 L1094.6,522.9 L1096.8,503.3 L1097.3,79 L1199,79 L839.5,79 L829.2,84 L819.8,86.7 L811.1,91 L803.1,95.2 L795.8,99.2 L789,104.9 L782.8,107.7 L777.1,112.8 L771.8,117.1 L767,123.3 L762.9,128.4 L762.9,544.2" stroke="#c8c8c8"/>
<path d="M730,542.3 L734.1,540.9 L739.7,540.1 L745.7,544.3 L752,550.7 L757.2,543.8 L761.7,545 L766.5,548 L770.6,573.5 L775.8,547.8 L781.1,549 L785.4,549.9 L791.2,562.5 L797.1,557.7 L802.5,565.7 L806.5,554.6 L810.8,555.5 L815.2,556.5 L819.3,581.7 L826.1,559.6 L831.2,597.3 L837.6,565.6 L842.7,562.8 L846.8,567.6 L852.4,565.1 L855.9,582.7 L860.2,576.4 L866.6,578.1 L870.7,665.9 L875.7,692.5 L882.3,572.1 L886.8,576.3 L893.3,720 L898.8,673.6 L905.8,575.9 L911,613.4 L916.9,675.1 L922.4,720 L928.4,579.5 L933.3,720 L938.8,702.1 L944.3,720 L949.6,579.4 L953.1,579.3 L957,720 L962.2,647.5 L966.3,579 L970.5,608 L975.7,720 L979.6,670.9 L985.4,720 L992.4,576.8 L999.1,667.3 L1005.9,578.8 L1012.7,653.5 L1017.6,701.9 L1021.6,720 L1025.6,701.6 L1032,595.8 L1036.9,575.2 L1043.7,674.6 L1050.4,566.7 L1054.9,565.8 L1058.6,565 L1065.6,615.6 L1076.2,531.5 L1079.8,524.8 L1080.3,79 L1199,79 L881.1,79 L867.5,83 L855,85.4 L843.5,89.4 L832.9,94.8 L823.2,97.9 L814.3,101 L806,105.8 L798.4,109.7 L791.5,114 L785.1,118.1 L779.2,122.8 L773.7,127 L769.1,131.2 L769.1,556.6" stroke="#8a8a8a"/>
<path d="M730,545.3 L736.5,545.3 L740.5,547.5 L744.1,546.9 L748.3,547.9 L754.7,550 L760.1,557.3 L763.9,551.2 L769.2,554.9 L775.6,565.2 L780.1,554.7 L785.3,559.6 L789.4,560.8 L794.6,570 L799.8,559.1 L806.2,599 L810.2,561.3 L816.2,565.8 L821.5,569.9 L826.9,565 L833.1,566.4 L839.8,568.1 L843.9,583.6 L848.7,570.2 L853.7,571.4 L858.5,572.6 L865.1,643 L868.8,575 L873.1,720 L877.7,675.7 L882,578 L888.4,661.6 L894.9,620.9 L900.1,668.2 L903.8,697.2 L907.8,661.4 L913.2,583 L918.9,620 L925,636.3 L928.7,586.5 L934.3,720 L938.6,716.3 L942.1,634.4 L947,707.4 L952.4,669.8 L958.7,585.1 L964.6,597.2 L968.4,606.9 L972.7,652.6 L979.2,638.7 L982.9,650.4 L988.7,718.3 L993.4,582.6 L997.2,643.6 L1003.6,712 L1009.8,579.9 L1016.1,578.9 L1019.9,683.8 L1025,664.9 L1031,576.5 L1035.7,720 L1041.6,574.9 L1047.3,573.2 L1053.1,572.1 L1058.8,570.9 L1064.5,608.4 L1068.7,597.7 L1073.7,568 L1077.5,569.9 L1082,566.4 L1088.2,612 L1092.6,591.6 L1109.5,552.8 L1110.7,541.7 L1111.2,79 L1199,79 L1106,79 L1074.4,86.6 L1045.3,94.2 L1018.6,100.6 L994,106.6 L971.4,112.8 L950.6,118.7 L931.5,125.1 L913.9,130.9 L897.7,135.1 L882.8,141.3 L869,147.7 L856.4,151.1 L844.8,156.8 L834.1,162.5 L824.3,167 L815.3,172.3 L811.4,174.2 L811.4,564.1" stroke="#ed1c24"/>
<path d="M730,540.1 L734,543.7 L740.7,542.4 L745.5,543.4 L752.2,544.9 L759,546.3 L764.9,547.6 L771.6,549.1 L777.2,550.3 L782.9,564.1 L787.6,555.3 L792.5,557.8 L797.4,554.7 L802.1,555.7 L807.1,558.2 L812.8,558.1 L816.7,584.4 L821.8,561.3 L827.9,561.4 L834.8,603.6 L841.5,580.8 L845.3,565.5 L849.1,579.4 L852.8,567.3 L856.8,568.3 L861.9,569.5 L867.5,668.9 L874.2,675.8 L880,573.9 L884.2,683.5 L887.9,646.3 L893.5,576 L899.4,617.7 L905.4,577.9 L911.3,578.9 L916.2,579.6 L922.5,583.2 L927.3,614.3 L933.5,581.8 L940.1,592.7 L944.3,645.6 L949.9,581.5 L955.2,598.4 L960.5,597.6 L966.1,718.4 L972.1,581 L978.9,580.9 L984.8,581.2 L989.1,579.4 L995.5,578.4 L1000.9,612.1 L1005.1,711 L1010,661.5 L1014.6,720 L1019.1,574.6 L1022.9,720 L1027.1,573.3 L1032.7,572.3 L1039.1,676 L1044.3,595.7 L1049.2,588.2 L1055.4,615.7 L1059.6,612.8 L1064,572.1 L1070.2,573.2 L1073.8,564.1 L1079,563.1 L1084,562.2 L1089.5,582.1 L1095.1,560.4 L1107.8,563 L1110.8,552.1 L1111.3,79 L1199,79 L1081.1,79 L1051.5,85.5 L1024.3,93.5 L999.3,99.4 L976.2,104.1 L955,112 L935.5,117.5 L917.6,123 L901.1,128.6 L885.9,133 L872,137.9 L859.1,144.2 L847.3,149.5 L836.4,152.7 L826.4,158.3 L817.2,163.7 L815.8,163.4 L815.8,560.7" stroke="#2e3192"/>
<path d="M730,542.6 L736.8,544.2 L742.4,554.3 L746.1,546 L751.3,547.3 L755.5,548.1 L759.2,557.6 L765.9,551.9 L772.2,568.7 L778.8,553.1 L784.6,554.6 L789.5,571.6 L793.9,556.4 L797.5,564 L801.4,564.4 L807.3,561.7 L813.1,589.4 L819.6,597.6 L824,589.2 L829.8,620.7 L834.3,589.3 L840.6,566.9 L844.5,603.1 L850.8,580.3 L854.9,570.3 L861.8,572 L867.3,642.7 L873.2,584.6 L877.6,693.2 L884.5,577.1 L890,720 L894.1,711.9 L900.6,614.6 L904.4,580.2 L910.3,720 L916.2,582.1 L921,582.9 L926,677 L930.1,606.8 L936.3,614.1 L943.1,663.1 L947.7,606.9 L952.8,624.4 L957.4,583.8 L963.9,712.4 L968.7,583.6 L972.8,583.5 L976.5,590.3 L983.4,582.8 L988.8,581.9 L993.1,591.6 L997.1,614.4 L1004,680.2 L1008.8,578.7 L1014.5,703.9 L1020.1,598.5 L1024,576.3 L1027.5,575.7 L1034.4,720 L1040.4,666.3 L1044.4,572.5 L1050.2,571.3 L1056.5,570 L1062.9,587 L1068.4,580.8 L1074.2,581.8 L1078.1,593.9 L1083.7,564.7 L1089.3,563.8 L1094.5,563 L1098.6,562.4 L1103.1,562.8 L1109.7,560.6 L1128,522.1 L1129.2,507.9 L1129.7,79 L1199,79 L880.3,79 L866.8,82.9 L854.3,87.8 L842.9,91.1 L832.4,95.1 L822.7,99.6 L813.8,104.2 L805.6,107.7 L798,113 L791.1,116.6 L784.7,121.7 L778.9,127.2 L773.5,132.1 L770.7,133.4 L770.7,551.8" stroke="#00b7e0"/>
<path d="M730,545.2 L735.5,546.1 L740.4,547.1 L746,548.3 L751.3,549.5 L755.5,552.5 L762.3,551.9 L768,573.2 L772.9,554.1 L777.6,557 L783.5,556.5 L788.5,557.5 L794.8,578.8 L801.3,560.4 L805,561.2 L811.1,577.6 L816.9,616.2 L823.7,565.3 L828.8,605.1 L834.1,632.2 L840.6,569.2 L844.9,573.4 L850,622.1 L854.3,592.7 L860.7,574.1 L866.7,575.5 L871,707.6 L875.4,577.6 L881.3,578.9 L886.8,695.8 L892.7,715.2 L898.7,673.4 L905.2,696.3 L908.8,587 L914.2,720 L920,585.1 L924.9,720 L928.5,586.4 L934.3,663.8 L941,720 L946.8,586.3 L950.7,594.6 L955.4,586.2 L959.2,586.1 L963.8,586 L970.5,720 L977.2,710.1 L983.9,585.5 L988.5,653.9 L994,594.2 L999.2,720 L1005.4,582.9 L1010.7,580.8 L1014.3,643.8 L1018.7,678.9 L1025.1,578.5 L1030.1,702.9 L1034.1,592.5 L1039.4,601 L1044.7,574.7 L1051.6,641 L1055.4,642.8 L1059.8,573.1 L1065,607.8 L1068.8,584.2 L1072.5,578.9 L1076.7,568.3 L1081.1,567.5 L1098.3,565.6 L1101.9,548 L1102.4,79 L1199,79 L1047.5,79 L1020.6,84.7 L995.8,91.3 L973.1,96.4 L952.1,100.4 L932.9,107.2 L915.2,111.6 L898.8,116.6 L883.8,121.2 L870,125.3 L857.3,131.4 L845.7,136.2 L834.9,140.7 L825,145.1 L815.9,149.8 L807.6,155.6 L799.9,160 L792.8,164.1 L786.3,169.9 L780.3,174.7 L774.8,179.4 L769.7,183.3 L767.2,185.6 L767.2,545.9" stroke="#ec008c"/>
<path d="M730,542.1 L735.8,537.2 L739.9,544.9 L744.4,540.3 L748.4,539.9 L753.2,541.2 L760,543.6 L764.9,544.4 L771.7,545 L777.2,546.1 L781.9,547.2 L788.5,555.7 L792.7,549.5 L798.4,554 L804.8,569.6 L809.5,559.2 L816.1,554.7 L820.7,561.8 L826.2,592.1 L831.7,558.9 L838.2,582.3 L845.1,562.2 L849.7,562.5 L854.5,594.6 L860.6,621.6 L866.2,666.4 L871.3,658.3 L875.9,681.3 L882.7,570.2 L887.9,689.9 L892.4,667.6 L898.6,647.5 L902.3,720 L906.9,720 L913.4,710.4 L917,579.1 L923.3,684.8 L929.7,720 L935.7,656.4 L940.9,577.8 L947.7,692.7 L953.8,600.9 L960,577.1 L964.5,577.1 L968.7,577 L974.3,582.8 L980.6,591.3 L984.8,720 L988.4,575.4 L993.4,574.6 L997.6,588.2 L1001.5,680.9 L1007,720 L1013.5,575.5 L1019.6,570.4 L1024.6,582.9 L1029,598.5 L1033.7,683 L1038.7,693.8 L1042.8,661.4 L1048.6,720 L1061.9,556.6 L1063.2,548.4 L1063.7,79 L1199,79 L930.5,79 L913,84.2 L896.9,87.8 L882,91.7 L868.4,96.1 L855.8,101.3 L844.2,104.2 L833.6,108.4 L823.8,112.2 L814.8,117.5 L806.5,121.2 L798.9,125.4 L791.9,131.6 L785.5,134.8 L779.5,140.1 L774.1,144.3 L769.1,148.7 L766.1,153.6 L766.1,544.5" stroke="#f7941d"/>
<path d="M730,544.3 L736.2,545.6 L742.3,550.9 L747.7,548.1 L752.9,550.9 L759.7,550.8 L764.4,567 L769,552.7 L773.5,560.4 L779,554.8 L785,556.4 L789,557 L794,561.9 L800.8,580.4 L807.6,561.1 L814.3,562.6 L820.5,565.5 L824.2,564.8 L830.2,566.1 L836.7,567.7 L842.2,575.3 L848.8,613.1 L855.8,572.3 L862.5,573.9 L868.6,590.3 L875.5,714.1 L881.4,653 L885.4,622.4 L890.9,672 L896.6,580.7 L902.9,602.1 L909.4,582.8 L913.3,595 L917.2,592.5 L922,645.6 L925.8,667.5 L929.4,720 L933.6,586 L938.2,686.8 L942.7,720 L949.6,585.7 L955.2,585.6 L961,648.1 L964.8,715 L970.5,701.3 L976.7,720 L981.7,589.6 L987.8,658.3 L992.8,593.2 L996.4,582.4 L1002.1,670.7 L1006.1,720 L1010.2,580.2 L1016.8,683.6 L1022.8,632.8 L1028.1,681.3 L1034.9,587 L1041.8,592.3 L1048.2,573.4 L1053.7,580.1 L1058.8,634.1 L1063.3,570.4 L1068.7,569.3 L1075.3,568.6 L1078.8,567.3 L1085.2,566.3 L1089.6,567.9 L1094.5,613.4 L1100.6,578.4 L1104.5,576.3 L1108.9,562.4 L1113.4,561.7 L1132.8,554.7 L1136.1,548.3 L1136.6,79 L1199,79 L1099,79 L1068,86.2 L1039.5,91.7 L1013.2,98.5 L989.1,104.6 L966.9,110.8 L946.4,116.3 L927.6,121.5 L910.3,127.1 L894.4,131 L879.7,137.4 L866.3,142.7 L853.9,146.6 L842.5,151.1 L832,155.7 L822.3,161.7 L813.5,166.8 L805.3,170 L803.6,170.6 L803.6,557.3" stroke="#8c8c3c"/>
<path d="M730,542.8 L733.8,540.3 L740.5,548.3 L745.5,542.8 L750.1,543.8 L755.1,544.9 L760.3,547.8 L764.5,547 L771.1,555.5 L774.7,549.1 L780.2,561.7 L784.4,569 L789.6,552.4 L793.4,553.2 L797,554 L802,561.2 L807.1,556.3 L812,557.3 L818.7,565.8 L823.1,559.8 L829,561.1 L834,571.2 L840.6,563.8 L844.7,564.8 L851.1,590.9 L856.4,590.3 L860.7,568.7 L865.9,608.2 L871.1,712.5 L875.4,572.2 L882.3,645.7 L889.2,574.8 L895.9,720 L901.4,576.7 L905.7,680 L912.4,592.6 L917.1,720 L923.5,584.3 L927.7,580.9 L934.7,701 L940.9,581.1 L947.9,703.8 L953.9,580.8 L958.4,641.6 L964.8,606.4 L969.1,644.6 L974.8,720 L981,580.1 L985,657.8 L988.6,583.4 L993.5,652.7 L998.1,647.8 L1003.3,576.6 L1008.2,637 L1012.6,575.1 L1017.7,629.1 L1024.1,626.3 L1030.5,572.2 L1035.2,720 L1041.7,580.4 L1046.7,568.9 L1051,568.1 L1057.2,566.8 L1060.8,566.1 L1080.2,560.6 L1082.3,555.4 L1082.8,79 L1199,79 L896.3,79 L881.5,82.9 L867.9,86.1 L855.4,90.8 L843.8,95.4 L833.2,98.6 L823.5,101.7 L814.5,106.9 L806.3,109.8 L798.7,115.5 L791.7,118.5 L785.2,123 L779.3,126.5 L773.9,131.8 L768.9,137.3 L764.3,141.2 L760.1,145.8 L756.2,152 L752.6,156.1 L749.3,161.9 L746.2,167.5 L743.8,174.1 L743.8,551.5" stroke="#8a8a8a"/>
<path d="M730,548.7 L735.6,546 L741.6,542.7 L746.6,543.8 L751.8,549.2 L756.9,546 L762.6,550.1 L768.6,548.5 L774,549.7 L780.3,551.8 L786.6,573.1 L792,568.6 L797.7,561.1 L803.9,556.2 L808.1,557.2 L814.6,558.6 L820.8,560.3 L826,561.1 L830.7,562.1 L837.3,563.7 L841.2,564.7 L845.7,565.7 L850.9,567.5 L855.3,590 L861.5,577.3 L866.1,668.8 L871.2,645.3 L875.5,572.9 L882.3,574.3 L888.7,619.3 L893.1,576.1 L896.7,614.4 L900.8,641.5 L905.1,578 L911.3,579 L915.5,633.2 L921.6,676.3 L926,720 L930.2,720 L934.6,601.8 L940,591 L945.4,636 L949.8,581.6 L955.4,720 L959,645 L963.4,581.3 L969.8,581.2 L973.4,707.8 L977.9,581 L982.9,669.3 L987.4,720 L993.1,694.5 L999.2,720 L1003.5,664.6 L1009.4,576.3 L1014.3,623.1 L1021,647.3 L1026.9,594.6 L1031.4,603.3 L1037.3,571.5 L1042.9,583.3 L1049.4,569.1 L1056.1,571.8 L1061,566.8 L1066.4,565.7 L1070.5,574.6 L1075.5,576.4 L1079.7,630.2 L1084.2,562.3 L1091,561.2 L1097.3,560.2 L1101.4,560.2 L1105.7,558.9 L1111.4,558 L1117.5,570.5 L1121.2,569.1 L1124.8,561.4 L1129.2,556.7 L1143.8,538.7 L1147.2,522.4 L1147.7,79 L1199,79 L997.3,79 L974.4,84.3 L953.3,88.8 L934,94.6 L916.2,98.7 L899.8,103.2 L884.7,107.8 L870.8,113.4 L858.1,116.4 L846.3,121 L835.5,125.6 L825.6,131.3 L816.5,136.3 L808.1,140.4 L800.3,145.8 L793.2,149.6 L786.6,153.8 L780.6,158 L775.1,163.3 L772,166 L772,553.4" stroke="#808080"/>
<path d="M730,536 L734.6,537 L740.9,538.7 L746.3,541 L751,540.5 L755.6,541.5 L760.4,549.3 L764.1,543.3 L770,545.3 L775.3,552 L781.7,555.9 L787.3,566.2 L793.4,552.5 L798.6,556.6 L802.6,562.6 L808.9,553.5 L813.9,554.2 L819.8,555.5 L825.8,584 L830.7,576.6 L834.6,558.9 L839.2,560 L845.2,601.3 L850.1,584.6 L854,577.9 L859.7,564.9 L864.6,566.1 L869.8,567.3 L874.5,666.3 L879.5,589.2 L886.1,683.5 L892.8,720 L899,656.8 L902.6,720 L908.2,720 L913.9,704.3 L920.2,653.9 L924.3,576.9 L928.7,642.2 L935.6,720 L941.3,656.6 L946.2,612 L951.6,577.5 L955.5,656.3 L960.9,720 L965.5,577.1 L971.7,667.9 L977.1,596.1 L983.8,659 L990.3,575.1 L997.2,720 L1001.5,628.4 L1008.3,585.7 L1015.1,580.1 L1019.1,690.7 L1022.8,720 L1027.3,720 L1033.7,720 L1039.4,566.9 L1045,626.3 L1051.3,567.7 L1057.5,566.2 L1062.6,594.7 L1068.5,566.3 L1073.4,560.1 L1077.1,559.4 L1083.4,558.2 L1090.2,557.2 L1094,568.5 L1098.2,555.9 L1102.4,555.2 L1106.5,554.5 L1113.5,555.9 L1118.9,552.6 L1122.9,558.5 L1128.1,552.8 L1131.7,550.5 L1137.1,549.5 L1142.4,552.7 L1157.7,528.5 L1159.9,516.3 L1160.4,79 L1199,79 L1042.7,79 L1016.2,85.5 L991.8,90.5 L969.4,95.8 L948.7,101.8 L929.7,106.8 L912.3,110.4 L896.2,116.3 L881.4,120.7 L867.8,127.1 L855.3,130.9 L843.8,135.4 L833.2,141.1 L823.4,145.8 L814.5,149.4 L806.2,155.3 L798.6,159.9 L791.6,164.6 L785.2,169.7 L779.3,174.4 L773.9,179.8 L768.9,184.3 L764.3,190.6 L760,195.3 L759.3,196 L759.3,542.7" stroke="#9e1f1f"/>
<path d="M730,538.7 L734.4,539.2 L739.1,542 L743.4,543.8 L747.3,541.1 L752.3,544.4 L757.1,545.1 L762.2,544.3 L766.1,545.9 L772.5,546.5 L778.5,556.5 L785.1,556.7 L790.4,570 L795.3,554.6 L802.1,553 L807.8,554.2 L814.2,555.6 L818.6,556.6 L823.2,557.6 L829.2,578.9 L833.5,560 L838.1,566.1 L842,581.8 L848.8,571.3 L855.7,582.8 L860.3,566.4 L866.7,611.5 L871.5,576.3 L876.7,674.4 L881.9,571.4 L886.9,683 L893.3,641.9 L897.7,655.1 L902.9,695.2 L908.1,720 L913.2,582.6 L918.7,582.2 L923,593.2 L929.1,585.1 L935.2,579 L940.3,663.4 L947.2,637.3 L951.7,578.7 L955.9,720 L960.4,596.8 L964.5,578.4 L970.3,578.3 L974.6,715.6 L979.5,595.6 L984.5,607.3 L990.7,671.3 L994.8,711.5 L1000.6,574.8 L1006.6,573.9 L1012.2,620.5 L1015.8,720 L1022.6,663.6 L1027.4,570.5 L1031.4,720 L1037.8,720 L1043.2,568 L1054.3,569 L1057.1,549.8 L1057.6,79 L1199,79 L851.9,79 L840.6,82.8 L830.3,86.5 L820.8,89.6 L812,94.5 L804,97.9 L796.6,101 L789.7,105.9 L783.5,108.8 L777.7,112.7 L772.4,116.7 L770,119.8 L770,555.9" stroke="#00827f"/>
<path d="M730,542.8 L736.6,544.2 L740.8,545.1 L746.5,546.3 L750.9,547.3 L757.8,549.2 L764.8,553.9 L771.8,551.8 L778.5,553.3 L784,555.6 L789.4,571.7 L794.5,556.8 L800.8,566.6 L805,559.1 L809.4,577.3 L813.5,562.4 L817.9,573.9 L824.8,583.6 L830.8,574.9 L835.3,565.8 L841.7,623.2 L845.3,568.2 L850.2,569.4 L855.2,570.6 L860.5,571.9 L865.2,720 L869.8,706.9 L875,575.4 L881.9,663.7 L888.4,577.9 L893.7,694 L899.8,579.7 L905.3,580.6 L910.5,604.5 L914.1,582 L918,720 L924.8,639.8 L929.1,590 L932.8,720 L939.1,584.4 L944.7,584.3 L948.8,584.2 L954.8,641.5 L961.1,610 L965,583.9 L971.6,720 L977.6,583.6 L981.4,716.9 L986.2,682.4 L989.8,582 L994.2,581.3 L999.4,641.9 L1005.2,596 L1009.4,720 L1015.3,577.9 L1021.6,694.2 L1028.4,580.3 L1033.4,574.9 L1037.4,574.1 L1041,636.8 L1045.9,579.9 L1051,571.4 L1055,570.6 L1061,569.4 L1066.6,576.4 L1075.6,560.8 L1079.1,550.6 L1079.6,79 L1199,79 L1074.4,79 L1045.4,86.2 L1018.7,91.2 L994.1,98.7 L971.5,103.7 L950.6,109.9 L931.5,115.4 L913.9,121 L897.7,126 L882.8,131.5 L869.1,136.3 L856.4,140.6 L844.8,146.1 L834.2,150.8 L824.3,156.5 L815.3,160.1 L810.1,163.9 L810.1,556.8" stroke="#8a8a8a"/>
<path d="M730,536.8 L734.5,537.8 L741,542.1 L746.9,542.9 L750.8,543.9 L754.6,542.8 L759.8,549.6 L766.5,544.7 L773.3,546.1 L778.7,547.3 L783,548.2 L790,551.6 L795.9,551.1 L802.2,552.5 L806.7,583.2 L813.1,590.2 L819.6,584.7 L825.5,564.3 L831.4,596 L836.1,597.2 L839.7,560.9 L843.6,579 L847.2,562.7 L850.8,563.6 L854.9,605.3 L861.2,594.7 L865.2,607.4 L869.7,683.9 L873.7,599.8 L877.6,626.3 L882.6,571 L888.5,692.6 L894,572.8 L899.9,586.9 L905.7,720 L910.4,720 L917.3,582.2 L922.9,718.3 L929.4,707.9 L933.2,578.5 L937.1,638.9 L942.5,651.7 L947.5,671.2 L951.5,578.2 L956.8,578.1 L961.7,711.8 L967.7,720 L973.5,577.7 L977.7,577.6 L982,720 L986.5,618.9 L990.6,684 L995.4,575.1 L999.1,720 L1002.7,716.7 L1006.7,592.8 L1013.3,620.4 L1017.1,572.1 L1021.8,637.4 L1028.1,570.4 L1032.3,702.2 L1037.8,577.4 L1044.3,720 L1047.9,588.5 L1052.5,565.1 L1057.1,564.2 L1060.7,563.4 L1067.1,640.2 L1070.6,574.3 L1074.3,560.7 L1079.6,560.2 L1084.6,558.9 L1090.3,557.9 L1094.4,559 L1099.7,556.4 L1103.5,555.8 L1109.1,554.9 L1114.3,578.8 L1119.8,553.2 L1126.3,554.7 L1129.9,551.6 L1144.2,511.5 L1145.6,497.3 L1146.1,79 L1199,79 L987.4,79 L965.3,84 L945,88.6 L926.3,93.6 L909.1,99.3 L893.3,102.3 L878.8,108.6 L865.4,112.4 L853,116.2 L841.7,122 L831.3,125.2 L821.7,129.9 L812.8,133.4 L804.7,137.9 L797.3,142.5 L790.4,146.9 L784.1,152.5 L778.2,155.6 L772.9,161.8 L768,166.8 L764.6,169.4 L764.6,547.6" stroke="#8c64b4"/>
<path d="M730,537.1 L736.6,540.3 L742.9,540.3 L748.6,542.1 L755.1,542.5 L760.8,543.7 L767.8,545.2 L772.8,553.9 L776.8,552.9 L782,549.5 L786.3,551.5 L791.6,559.4 L796.4,554.7 L800.5,559.9 L806.4,553.7 L811.5,555.4 L815.4,555.7 L819.8,564.4 L824.4,557.6 L831.1,559.1 L836.5,560.4 L841.6,561.6 L846.1,562.7 L850.5,566.5 L856.3,565.2 L861,582.1 L865,588.1 L869.2,711.7 L875.3,702.2 L881.3,720 L887.7,648 L894.6,573.2 L899.1,680.1 L904.2,574.7 L909.1,575.5 L914.2,576.3 L920.5,720 L924.1,577.9 L929.6,720 L933.4,674.2 L938.7,578.7 L942.6,584.5 L946.7,713 L951.1,608.5 L957.5,578.3 L962.8,639.6 L969.4,578.1 L973.9,578 L978.5,581.2 L983.8,577.3 L989.9,720 L996.8,575.2 L1003.4,695.7 L1010.2,575.8 L1013.8,572.5 L1020.4,571.4 L1024.4,570.8 L1031.4,569.6 L1036.1,679.9 L1039.6,578.8 L1045,720 L1049.5,571.7 L1055,568.4 L1059.1,607.8 L1064.8,562.9 L1069.8,561.9 L1073.9,576.6 L1077.8,581.7 L1083.6,607.5 L1087.8,579.7 L1094.1,557.9 L1098.1,587.6 L1102.9,565.6 L1107.9,560.1 L1113.1,560.4 L1117.6,582.3 L1122.3,554.9 L1129.2,556.8 L1135.3,550.9 L1150.2,529.2 L1152.3,519.3 L1152.8,79 L1199,79 L861.8,79 L849.8,82.2 L838.7,87.7 L828.5,91.1 L819.1,94.7 L810.5,100 L802.6,103.7 L795.3,108.2 L788.6,111.6 L786.6,113.7 L786.6,549.8" stroke="#e6e65a"/>
<path d="M730,539 L734,542.4 L738.1,540.7 L743,541.8 L749.5,543.2 L756.2,545.2 L761.2,548.9 L765.8,546.7 L770.2,556 L774.2,552.4 L778.6,550.5 L783.4,550.5 L790.3,552.1 L796.9,577 L801.6,554.5 L806.3,555.6 L810.8,556.6 L814.3,567.4 L818.2,575.8 L823.7,566 L828.3,572.1 L832,561.3 L836.7,573 L843.5,631.8 L847.4,583.7 L852.2,567.8 L857.3,567.3 L863.9,710.2 L869.7,570.3 L876.4,681.3 L882,597.2 L886.3,573.8 L891.8,599.1 L895.4,575.3 L901.6,576.2 L905.2,653.1 L910.3,620.4 L916.2,645.2 L921.3,671.9 L925,580 L930.2,597.6 L935.3,720 L940.6,701 L946.8,580.5 L952.7,698.6 L956.4,685.2 L961.8,580.2 L965.5,674.3 L970.9,580 L975.3,620.7 L979,579.8 L984.4,720 L991.3,638.3 L995.7,577.5 L1002.6,586.8 L1008.9,575.2 L1015.7,718.1 L1021.9,702.1 L1028.2,662.4 L1033.9,592.9 L1040.3,571.2 L1044.7,575.7 L1051.1,577 L1055.1,566.8 L1060.5,565.7 L1066.4,585.6 L1070.7,566.1 L1075.8,593.4 L1079.7,636.9 L1083.3,561.3 L1088.1,577.3 L1094.5,562.9 L1098.4,558.8 L1104.3,557.9 L1110,557 L1114.9,556.2 L1121.3,555.6 L1127.3,555.9 L1131.2,553.6 L1137.1,563.4 L1141,551.9 L1145.7,551 L1151.4,551.2 L1155,549.4 L1163.1,518.6 L1165.5,510.2 L1166,79 L1199,79 L932.5,79 L914.8,82.9 L898.6,87.8 L883.6,91.1 L869.8,96.9 L857.1,101.1 L845.5,104.1 L834.7,108.3 L824.9,112.6 L815.8,118.7 L807.4,122.7 L799.7,127.2 L798.6,128 L798.6,556.7" stroke="#111111"/>
<path d="M730,539.3 L736.6,540.7 L741.4,541.7 L745.3,543.2 L749.6,543.9 L756,544.9 L760.8,556 L765.7,550.1 L772.4,548.4 L779.1,549.9 L784.5,552.2 L789.8,563.1 L795.4,553.5 L802.3,555 L808.3,577.4 L812.2,557.2 L816.3,565.1 L820.7,559 L824.4,559.8 L831.1,561.3 L838,563 L843.8,604.8 L850.5,566 L857.2,571.1 L862.6,634.8 L867.8,570.1 L872.5,574.6 L876.6,613.9 L881.5,672.1 L886,574 L892.6,594.2 L899.3,592.5 L903.1,576.8 L909.4,577.8 L914.3,678.1 L920.5,612.3 L927.3,720 L932.7,581 L938.7,580.9 L942.2,633.4 L947.8,653.8 L952.3,580.6 L958.5,580.5 L963.9,720 L970.9,703.2 L975.2,652.3 L980.5,580 L984.5,704.7 L989.2,713.3 L994.7,607.5 L1000.8,576.7 L1005.5,577.3 L1009.5,638.9 L1015.4,574.4 L1019.2,585.4 L1023.7,685.5 L1027.9,614.8 L1031.5,720 L1037.6,645.4 L1042.6,636.9 L1046.1,568.8 L1050.9,569.4 L1056.6,566.8 L1062.5,574.8 L1067.5,582.8 L1072.6,567.6 L1076.9,562.7 L1082.7,639.6 L1087.9,561.4 L1093.6,559.9 L1100.2,558.8 L1106.5,572.4 L1113.3,556.7 L1117.6,556.1 L1123.4,555.1 L1128,554.4 L1143.1,509.8 L1145.1,497.8 L1145.6,79 L1199,79 L935,79 L917.1,83.7 L900.7,86.7 L885.5,91.6 L871.6,95.1 L858.8,100.9 L847,103.7 L836.1,107.8 L826.1,113.4 L817,116.3 L808.5,120.3 L803.2,123.4 L803.2,554.2" stroke="#d64fa0"/>
<path d="M730,546.8 L733.7,546.3 L737.7,545.6 L742.8,546.9 L749,554.5 L753,548.9 L756.9,550.2 L761.3,551.3 L768,552.1 L771.7,552.9 L776.7,556 L783.5,569 L790.1,560 L794.9,558 L800.4,559.2 L805.3,565.2 L811.6,564.1 L817,565.5 L822.2,569.3 L825.8,564.8 L830.8,580.5 L835,568.4 L840.1,570.3 L846.4,574.1 L852.1,571 L857.8,572.4 L862.1,668.2 L867.5,720 L873.6,581.8 L878.6,577.4 L882.6,578.1 L888.7,579.1 L894.2,659.9 L898.2,586 L903,581.4 L908.4,720 L914.5,663.3 L919.1,640 L924.6,608.8 L930.3,692.4 L934.5,720 L939.5,635.5 L944.6,694.9 L949.3,616.6 L956.2,720 L962.5,658.4 L966.6,613.5 L972.6,651.7 L978,604.1 L982.8,720 L988.7,668.3 L993.6,719.2 L999.1,658.4 L1005.9,600.4 L1012.4,643.9 L1019.1,578.5 L1025.6,610.7 L1031.6,720 L1035.4,720 L1041.9,601.2 L1046.5,689 L1052.7,610.5 L1058.7,571 L1064.6,639.6 L1070.5,580.5 L1077.2,567.3 L1081.3,641.7 L1087.6,565.5 L1094,567.9 L1099.8,563.6 L1105.8,563.3 L1112,561.6 L1116.7,583.2 L1121,548.2 L1124.3,542 L1124.8,79 L1199,79 L920.2,79 L903.5,83.4 L888.2,88 L874,91.8 L861,96.4 L849,100.3 L838,106.2 L827.9,110.2 L818.6,113.4 L810,119.5 L802.1,123.1 L794.8,128.3 L788.1,132.2 L782,136.7 L776.3,142 L771.1,146.3 L766.4,152 L762,158.1 L757.9,163.5 L754.2,169.1 L751.3,172.7 L751.3,545.4" stroke="#39b54a"/>
<path d="M730,544.2 L735.9,545.5 L741,546.6 L745.7,547.6 L751.3,549.5 L756.8,550 L761.4,552.3 L767,552.2 L773.7,553.7 L780.5,582.8 L786,557.7 L791.6,557.6 L798,575.5 L801.6,559.8 L806.7,586 L810.4,572.6 L814.4,562.6 L818.6,563.5 L825.3,565 L831,566.3 L837.7,567.9 L841.6,568.8 L848,570.3 L853.3,619.1 L860.2,584.3 L864.8,720 L871,720 L877.3,577.4 L882.1,718.7 L886.1,691.2 L891.2,708.9 L894.9,580.4 L899,581.1 L905,582 L911,632.7 L915.4,594.8 L922.2,606.6 L928.5,720 L932.8,586 L939.6,605.3 L943.7,587.2 L948.5,585.6 L952.6,720 L957.8,686 L964,585.3 L967.8,598.6 L971.9,613.1 L976.7,594.1 L981.3,612.2 L986.3,644.6 L992.1,583.1 L996.8,582.3 L1002.4,587.9 L1007.2,581.5 L1014,691.8 L1017.5,720 L1023.6,659.4 L1028.4,604.5 L1032.5,604.4 L1039.5,575.1 L1046.4,695.5 L1051,580.4 L1056.8,571.7 L1062,571.5 L1067.6,569.5 L1073.1,568.4 L1079.9,579 L1084.2,566.3 L1091,572.4 L1111.2,503 L1114,494.8 L1114.5,79 L1199,79 L1056.6,79 L1029,85.7 L1003.6,92.6 L980.2,98.1 L958.7,103 L938.9,109.6 L920.7,113.9 L904,119.7 L888.5,124.8 L874.4,130.3 L861.3,135.4 L849.3,140.4 L838.3,144.4 L828.1,149.8 L818.8,154.4 L810.2,160.4 L802.3,165.2 L795,168.6 L788.6,174.9 L788.6,558" stroke="#a0288c"/>
<path d="M730,536.1 L736.9,540 L741.2,541 L746.9,549 L751.4,540.7 L757.5,543.9 L761.4,542.9 L765.1,543.6 L770.8,551 L776.7,546.2 L782.5,547.4 L788,548.6 L794.2,550 L798.4,550.9 L802.2,577 L808.8,553.2 L814.1,591.6 L820.5,555.8 L825.4,584.3 L829,575.4 L834.1,558.9 L837.8,559.7 L844.7,561.8 L851,578.7 L856.5,564.2 L861.6,581.9 L865.4,702.3 L871.3,571.1 L875.6,568.8 L879.1,583.5 L885.3,641.3 L890.9,636.8 L894.4,640.9 L900.3,573.1 L905.3,640.7 L910.7,657.8 L917.5,639 L924.4,577 L930.5,637.5 L935.4,653.1 L940.9,577.6 L945.1,584.6 L950,577.5 L956.7,592.1 L962.3,628.9 L966.4,720 L970.4,645.2 L975.6,577 L982.5,713.6 L986.8,596.4 L993.3,720 L997,720 L1001.6,720 L1006.9,572.6 L1013.1,573.5 L1020,593.4 L1024.8,569.7 L1029.3,675.9 L1032.9,720 L1039.5,647.8 L1044.6,676.4 L1050.5,564.8 L1054.2,564 L1060.3,562.8 L1064,576.9 L1068.9,561.1 L1073.9,580.9 L1079.3,559 L1084.9,558.1 L1089.9,557.3 L1096.3,556.6 L1102.4,564.6 L1106.6,554.6 L1110.6,591.5 L1114.1,558.4 L1118.2,552.8 L1125.2,556.2 L1130.1,556.8 L1133.8,554.5 L1152.5,534.2 L1155.8,523.2 L1156.3,79 L1199,79 L1112.3,79 L1080.2,85.8 L1050.7,94.3 L1023.5,100.6 L998.6,107 L975.6,113.3 L954.4,120.4 L935,125.3 L917.1,130.9 L900.6,136.1 L885.5,143.3 L871.6,147.2 L858.7,152.3 L846.9,158 L836.1,164 L828.2,166.9 L828.2,565.8" stroke="#2e5cb8"/>
<path d="M730,543.1 L736.2,544.4 L740.9,548.2 L744.4,546.6 L748.5,547.1 L755,550.4 L760.6,549.7 L766.6,551 L772.4,552.3 L776.5,553.1 L782.4,567.5 L788.9,573.9 L793.8,564.8 L798.3,557.9 L805.2,572.8 L809.7,560.4 L814.1,561.4 L818,562.2 L823.8,563.5 L828.4,609 L834.2,565.9 L838.4,586.7 L842.9,568.4 L847.4,569.1 L853.3,570.5 L859.9,572.1 L866.5,720 L871.2,720 L877.8,708.8 L883.2,638.5 L890.1,578.5 L896.1,579.5 L901.9,574.4 L907.6,600.6 L911.5,579.1 L915.8,599.8 L922.1,584.3 L926.3,579.3 L931.7,603.3 L937.8,591.5 L944.4,579.2 L950.3,588.5 L956.4,577.1 L959.9,578 L965.7,569.4 L969.8,586.6 L976.6,591.3 L982.4,566.8 L987,576 L993.1,587.6 L999.3,556.8 L1004.2,573.3 L1008.8,574.7 L1015.2,555 L1019.3,552.4 L1025.1,548.2 L1031.8,553.9 L1036.1,559.5 L1040.5,563.9 L1044.3,544.2 L1048.1,539.6 L1053.1,536.8 L1059.9,535.6 L1064.2,532.8 L1071,531.3 L1075.5,538.2 L1080.1,535.9 L1090.7,569.4 L1091.7,558.1 L1092.2,79 L1199,79 L1019.8,79 L995.2,85.4 L972.5,89.6 L951.6,95.6 L932.3,99.7 L914.7,104.7 L898.4,109.6 L883.4,116.1 L869.7,119.9 L857,124.6 L845.3,128.9 L834.6,134.3 L824.8,138.4 L815.7,144.1 L807.3,148.8 L799.7,152.5 L795.5,154.6 L795.5,554.2" stroke="#007a3d"/>
<path d="M730,545.4 L734.4,548.5 L739,547.7 L744.3,546.9 L750.2,548.8 L755.3,549.3 L760.4,550.4 L766.8,552.7 L770.3,560.5 L774.9,553.5 L781.6,555 L788.3,556.4 L795,557.9 L800.6,559.1 L807.2,560.6 L812.3,596.2 L817.1,579.7 L821.9,563.8 L828.6,565.3 L835.2,591.5 L838.8,604.3 L842.4,568.6 L849,591.6 L854.9,571.6 L861.1,606.7 L864.9,636.5 L871,575.4 L874.7,704.5 L881.5,637.3 L886.9,589.3 L893.9,579.8 L899.1,592 L902.8,691.4 L909.4,582.3 L915.1,674.4 L919.8,584 L923.3,584.5 L929.8,720 L936.5,628.1 L943.3,700.7 L948.1,585.2 L953.4,602.1 L957.9,720 L963.8,697.8 L969.8,646.6 L974.5,584.7 L981.2,720 L985,720 L988.9,583.2 L994.7,714.4 L999.4,681.6 L1003.8,652.7 L1008,720 L1014.6,707.9 L1018.8,720 L1025.3,618.5 L1030.6,626.4 L1036.1,584 L1041.7,612.4 L1046.8,661.7 L1052.8,572.1 L1058.3,570.9 L1062.1,581.1 L1068.2,580.8 L1074.5,567.7 L1080,566.6 L1086.1,575.5 L1091.7,566.8 L1097.5,587.9 L1101.1,563.2 L1104.9,562.6 L1111.8,561.5 L1118.2,560.5 L1123.5,560 L1143.7,514.7 L1144.7,497 L1145.2,79 L1199,79 L1021.8,79 L997,84.3 L974.1,90 L953.1,94.7 L933.8,101.1 L916,106.3 L899.6,111.7 L884.5,116.7 L870.7,121.3 L857.9,125 L846.2,130.4 L835.4,135 L825.5,140.3 L816.4,143.5 L812.6,145.7 L812.6,564.3" stroke="#b0308f"/>
<path d="M730,543.7 L735.5,545.6 L739.2,545.7 L745.1,554.8 L751.3,548.3 L755.7,549.6 L761.9,561.9 L766.6,551.6 L771,560.4 L777,570.7 L781.4,554.8 L787.2,560.4 L793,557.3 L798.6,584.7 L802.5,559.4 L806.4,580.8 L810,561.1 L815.3,562.2 L820.5,623.9 L825.9,617.6 L830.3,565.6 L836.6,567.1 L842.9,615.1 L849,611.2 L855.3,588 L861.7,573.1 L865.4,609.5 L872.1,673.8 L876.7,576.7 L883.3,638.6 L889.4,579 L893.5,595.2 L898.6,591.1 L903,603.5 L906.5,720 L912.1,674.4 L917.8,609.6 L924.7,601.4 L928.7,585.3 L932.2,716.3 L937.8,608.4 L941.8,683.8 L945.9,679.1 L951.5,585.1 L955.6,627.1 L961,720 L967.9,645.9 L972.8,720 L977.4,591.2 L983.9,583.9 L989.9,698.3 L996.6,581.8 L1000.6,601.5 L1005.6,654.9 L1009.6,579.8 L1016,580.6 L1019.9,580.3 L1024,577.4 L1030.4,684.7 L1035.5,720 L1041.8,574.1 L1045.9,654 L1050.9,644.7 L1057.8,571.5 L1064.5,603.3 L1069.5,577.6 L1073.9,567.7 L1079.9,566.5 L1083.4,565.9 L1088.4,582.9 L1092.2,564.5 L1098.1,616.4 L1102.6,564.5 L1107.2,571.9 L1112.2,563 L1119,560.3 L1124.2,559.4 L1129.7,560.7 L1133.8,557.8 L1138.9,556.9 L1142.4,556.3 L1147.7,562.4 L1151.2,546.4 L1151.7,79 L1199,79 L974.1,79 L953.1,82.7 L933.7,88.2 L915.9,92.4 L899.6,96 L884.5,101.5 L870.7,105 L857.9,109.7 L846.2,114.7 L835.4,119.2 L825.5,122.1 L816.3,126.5 L812.2,129.6 L812.2,565.5" stroke="#007a3d"/>
<path d="M730,546.8 L736,543 L742.3,542.6 L746.6,544.4 L752.6,544.8 L759.1,548.8 L764.8,550.1 L769.5,553.5 L776.4,549.9 L780.5,550.8 L787.5,561.5 L793.2,562.7 L797.5,554.6 L804.4,572.8 L809.8,557.3 L813.4,558.1 L818.3,559.5 L822.4,575.3 L828.4,568.7 L832.1,562.2 L837.2,567.8 L840.8,573.5 L845.4,565.4 L850.8,638.8 L856.4,601.5 L860.9,569.1 L866.9,713 L873.8,584.7 L877.8,573.2 L881.8,633.6 L888.7,655.2 L894.9,576.1 L900.2,576.9 L905.9,687.7 L912.2,578.9 L917.5,579.7 L921.9,581.3 L925.9,688.1 L932.9,581.7 L939.1,581.5 L943.7,587.6 L948.4,581.3 L955.2,589.8 L960.8,711.8 L965.6,626.7 L969.2,713 L972.8,720 L977.7,720 L982.3,580.3 L988.5,579.4 L995.1,711.7 L1001.2,592.5 L1007.8,703.9 L1012.3,701.7 L1017.4,574.7 L1021,574.2 L1024.6,604 L1029.8,720 L1034.9,571.7 L1040.9,644.8 L1047.9,712.4 L1052,568.3 L1057.2,567.3 L1062.5,657.4 L1068.6,587.2 L1072.3,584.1 L1078,610.7 L1083.3,598.1 L1098.4,521.5 L1099.9,507.1 L1100.4,79 L1199,79 L975.5,79 L954.4,83.2 L934.9,88.7 L917,92.2 L900.6,98.4 L885.4,102.1 L871.5,107.4 L858.7,111.2 L846.9,115.7 L836.1,121.1 L826.1,123.9 L816.9,129.9 L808.5,133 L800.7,138.1 L793.5,142.4 L787,147.1 L780.9,152.4 L775.4,157.8 L770.2,162.6 L765.5,167.9 L761.2,173.1 L759.9,174 L759.9,553.1" stroke="#7b5fb0"/>
<path d="M730,540.9 L735.7,541.5 L740.3,542.4 L745.2,544.9 L749,545 L754,549.6 L759.8,548.1 L763.5,556.7 L768.4,549.4 L773.8,549.6 L779.5,550.8 L785.4,552.1 L791.2,555.5 L796.3,574.5 L803.2,578.5 L807.6,575.6 L811.6,557.9 L815.9,562 L822.3,560.2 L827.4,573.4 L831.7,568.1 L835.4,573.3 L839.8,564.3 L846.1,565.8 L851.4,575.9 L857.7,568.6 L861.5,569.5 L867.2,626.7 L873.6,572.4 L877.6,720 L883.2,706.5 L887.9,592.3 L893.5,609.4 L898.8,645.5 L905.1,581.3 L911.3,673.3 L915.6,720 L919.2,580.2 L923.5,696.2 L928.6,590.4 L933.4,614.7 L938.6,702.9 L945.6,686.2 L952,622.8 L957.1,592.3 L962.2,701 L966.7,581.2 L972.6,582.9 L977.4,641.4 L983.3,580.4 L986.9,579.8 L993.2,621.3 L998.6,604.1 L1003,577.2 L1008.6,720 L1014.6,596.8 L1018.8,597.6 L1025.1,600.7 L1031.9,720 L1036.8,638.8 L1040.7,704.3 L1045,644.1 L1048.8,669.2 L1054.3,573.1 L1060.6,572 L1067.1,565.5 L1073.7,566.9 L1078.8,563.2 L1083.9,571.7 L1089.1,595.2 L1094.7,560.6 L1100.6,566.6 L1107.4,558.5 L1111.9,557.8 L1117.1,557 L1120.8,556.4 L1126.8,555.9 L1145.8,518.6 L1148.2,510.4 L1148.7,79 L1199,79 L926.6,79 L909.4,82.9 L893.6,86.5 L879,91.6 L865.6,94.7 L853.2,99.4 L841.9,102.7 L831.4,107.7 L821.8,111.1 L813,115.8 L804.9,120.3 L797.4,125.5 L790.5,128.6 L784.2,133.4 L778.3,137.8 L773,142.1 L769.8,145.4 L769.8,556.3" stroke="#c8c8c8"/>
<path d="M730,537.4 L735.7,540.5 L739.9,539.7 L745.3,543.5 L751.1,541.9 L756.3,543.9 L759.8,544.3 L764.5,545.5 L769.8,560.4 L773.6,546.8 L779.3,548 L784,554.4 L789.5,559.3 L793.3,551.1 L798,552.3 L802.7,553.1 L807.5,554.2 L814.2,561.1 L818.7,593.4 L823.2,591.3 L827.2,573.9 L833.9,560.1 L837.8,566.8 L844.1,562.5 L850.4,565 L857.1,629.4 L860.6,583.2 L864.8,567.5 L871.2,569 L877.7,680.1 L883.7,696 L890.6,641.5 L897.5,574 L902.7,574.8 L908.8,589.9 L913.2,720 L919.5,712 L925.4,578.4 L930.7,634 L935.3,579 L939.8,580.1 L945.6,652.4 L951.3,689.1 L957.3,623.8 L963.3,578.5 L970.1,720 L974.3,583 L978.6,578.2 L984.1,720 L990.5,582.1 L995,720 L999.3,720 L1003.7,574.4 L1007.7,582.6 L1013,668.6 L1018.4,619.7 L1024.3,571.1 L1030.7,656.4 L1034.4,720 L1038,568.5 L1042.3,643.9 L1047.4,571.8 L1053,584.3 L1059.3,625 L1063.8,576.4 L1070.6,632 L1076.9,594.9 L1080.9,589.7 L1085,559.3 L1089.7,558.6 L1094.5,557.8 L1100.7,568.4 L1107,568.8 L1112.1,555 L1117.9,554.1 L1122.8,553.3 L1128.4,552.6 L1134.4,554.7 L1139.8,550.4 L1144.9,551.1 L1151.3,548.4 L1156,547.6 L1163.7,508.4 L1167,495.4 L1167.5,79 L1199,79 L939.5,79 L921.3,82.2 L904.5,87.1 L889,92.2 L874.8,95.4 L861.7,99.9 L849.7,104.1 L838.6,106.9 L828.4,111.3 L819.1,116.5 L810.5,119.7 L802.5,123.9 L795.2,128 L788.5,132.6 L786,135.4 L786,553.9" stroke="#22b14c"/>
<path d="M730,540 L736.4,541.8 L742.1,544.8 L748.4,544.2 L755.1,545.3 L760.8,548.5 L766.3,553.7 L773.3,555.3 L777.3,552.2 L783.1,551.4 L788.3,565.7 L792.8,585 L798,555.3 L803,556.3 L806.6,565.8 L812.3,579 L816.7,568.3 L821.6,559.9 L825.2,560.7 L830.5,573.2 L835.2,563.9 L838.7,563.9 L843.3,636.8 L850.2,566.6 L855.2,587.5 L859.7,576 L865.2,589.1 L871.6,571.7 L875.1,624.2 L880.3,638.5 L887,589.9 L891.7,585.9 L898.6,602.8 L903.7,598.3 L910.6,646.3 L916.9,720 L921.3,702.5 L927.1,657.2 L930.7,673.8 L935.2,720 L941.5,581.5 L948,581.3 L952.3,720 L957.8,592.2 L962.8,592 L967.1,618.4 L971.6,592.2 L977.7,586.4 L982.7,583.4 L988.4,697.7 L992.2,701.8 L998.3,655.1 L1004.9,704.7 L1010.4,705.1 L1014.7,712.4 L1018.6,661.3 L1024.3,576.3 L1031,662.7 L1034.8,571.8 L1051.1,537.4 L1054.7,523.3 L1055.2,79 L1199,79 L858.1,79 L846.3,83.2 L835.5,86.8 L825.6,90.2 L816.4,94.6 L808,98.5 L800.3,102.4 L793.2,107 L786.6,111.4 L780.6,114.4 L777.7,117.5 L777.7,552.4" stroke="#ed1c24"/>
<path d="M730,546.8 L733.7,542.4 L738.4,544.7 L744.2,545.4 L750.4,546.2 L756.8,550.5 L762.5,573.2 L767.9,549.8 L772.2,550.7 L777.9,556.2 L784.7,553.4 L791,554.8 L795.3,565.2 L801.9,557.2 L807.7,558.5 L811.7,559.3 L818.7,560.9 L825.6,562.4 L829.3,563.2 L834.1,637.8 L838.2,570 L844.1,591.4 L850.5,568.3 L854.6,586.1 L858.7,570.3 L862.9,649.3 L866.5,572.1 L871.5,672.3 L878.1,673.6 L882.5,653.1 L886.2,661.9 L893.2,577.5 L898.7,578.4 L904.2,693.2 L907.8,628.7 L911.7,580.5 L917.3,665.1 L922,582.1 L926.2,678.1 L930,655.9 L936.9,627.4 L940.4,583.2 L945.6,601.9 L950.3,583.8 L956.2,582.9 L960.9,709.3 L964.5,592.8 L970.6,582.6 L975.5,705.6 L979.2,626.8 L985.5,643 L992,580.5 L997.6,720 L1004.2,658.5 L1010.8,599.8 L1015.6,659.2 L1019.1,576.1 L1025.2,575.1 L1030.4,718.5 L1037.1,572.9 L1041.1,698.7 L1047.4,698.1 L1052.8,569.8 L1057.2,569.7 L1061.7,568 L1068.6,566.6 L1073.2,616.4 L1079.5,564.5 L1083.6,588.8 L1090.2,565.8 L1096.6,571.8 L1102.9,579.9 L1107.7,566 L1128.6,548 L1132,535.2 L1132.5,79 L1199,79 L1103.6,79 L1072.2,87 L1043.3,94.4 L1016.8,101 L992.3,107.9 L969.9,114 L949.2,118.5 L930.1,126.3 L912.6,131.9 L896.5,136.6 L881.7,141.9 L868.1,149 L855.5,153.4 L844,158.1 L833.4,164.2 L824,168.3 L824,567.1" stroke="#2e3192"/>
<path d="M730,539.1 L734.3,537.1 L741.2,546.8 L746.8,539.8 L753.5,543.4 L760.2,542.7 L766.2,545.3 L769.8,544.7 L773.9,545.6 L779.5,546.8 L785.1,548 L791.3,564.7 L796.8,550.6 L803.8,552.1 L809.7,553.4 L815.8,577.1 L819.7,555.6 L825.1,556.8 L829.4,563.1 L834,571.5 L838.3,581.5 L842.5,560.9 L848.9,566.7 L853.6,598.3 L858.5,564.8 L864.8,612.4 L871.4,651.1 L875.9,649.4 L881.3,720 L886.7,686.3 L890.4,720 L894.8,626.1 L899.4,607 L905.6,646.1 L909.5,601.5 L916.2,705 L920.6,621 L926.2,666.6 L932.9,585.4 L939.6,701.5 L946.1,619.3 L949.8,577.5 L954.2,655.5 L958.8,606.7 L964,577.2 L968.1,688.9 L971.7,577.1 L977.5,689.8 L982.2,585.2 L987.6,589.3 L992.4,671.4 L997.4,640 L1003.7,720 L1009.2,700 L1013.9,571.5 L1020.3,679.8 L1025,569.7 L1031.6,585.5 L1036.9,567.5 L1042.4,720 L1047.3,565.5 L1051.5,575.4 L1056.1,563.7 L1060.4,562.8 L1065.3,561.9 L1069.8,576.2 L1076.4,559.6 L1083.3,599.4 L1089.3,557.4 L1095.4,578.9 L1101.6,560.6 L1105.8,584.1 L1117.6,500.1 L1119.6,492 L1120.1,79 L1199,79 L1066.7,79 L1038.2,85.9 L1012.1,90.8 L988,97.4 L965.9,103.7 L945.5,107.4 L926.8,112.9 L909.6,118.5 L893.7,124 L879.1,129.2 L865.7,133.6 L853.3,140 L842,143.6 L831.5,148.7 L821.9,154.7 L813.1,158.2 L804.9,163.2 L797.4,167.7 L790.6,173.8 L784.2,177 L778.4,183.4 L773.1,188.1 L773.1,549.2" stroke="#00b7e0"/>
<path d="M730,536 L734.8,537 L740.7,540.9 L746.6,539.6 L753,540.9 L759.3,542.3 L763.2,571.2 L767.7,544.1 L771.3,544.9 L777.5,551 L784.3,547.7 L790,551.3 L796.6,562.1 L801.3,572.7 L805.4,567.1 L809.6,560.2 L813.4,566.9 L819.2,555.4 L825.7,556.8 L832.6,568.8 L838.8,574.8 L842.3,563.7 L848.4,562.2 L853.5,666.1 L859.6,564.9 L864.8,672.9 L870.3,567.4 L873.9,570.4 L879.3,569.6 L883.5,586.7 L888.5,635.1 L893.8,595.8 L898.6,658.1 L904.3,710.2 L910.6,630.8 L914.9,575.3 L919.5,720 L925.1,597.1 L931.5,577.7 L937.7,672.3 L943.6,720 L949.5,701.7 L956.1,699.4 L962.6,618.8 L966.9,658 L972.8,578.8 L977.3,620.3 L984.2,710.9 L988.5,575.4 L995,640.3 L1000.6,718.6 L1007.5,709.5 L1012.9,571.5 L1017.2,642.3 L1023.2,569.8 L1027.4,589.6 L1031.4,574.6 L1036.3,568.3 L1040.3,566.7 L1046.3,630.9 L1050.2,564.7 L1054.8,563.8 L1059.7,575.8 L1064,595.5 L1068.9,567.1 L1074.6,559.8 L1079.1,586.8 L1083.3,558.2 L1088,558 L1094.4,556.4 L1102.7,517.4 L1104.8,508.8 L1105.3,79 L1199,79 L1027.9,79 L1002.6,85.3 L979.3,90.9 L957.9,94.7 L938.1,101.7 L920,105.2 L903.3,110.2 L888,116.8 L873.8,121.1 L860.8,124.7 L848.9,130.7 L837.9,135.9 L827.7,139.6 L818.4,144.6 L816,146.7 L816,566.3" stroke="#ec008c"/>
<path d="M730,538.1 L734.8,539.5 L741,542.5 L747.6,541.8 L753.9,547.9 L760.5,554.5 L766.3,545.9 L772.6,547.2 L777.1,565 L781.8,552.5 L788.1,573.1 L791.6,560.1 L797.1,552.6 L803.5,554 L810,555.4 L813.7,590.8 L817.3,557 L822.8,576.1 L826.9,559.2 L830.5,569.2 L834.6,562.6 L839.3,562.1 L844.5,563.9 L850.4,572 L854.4,582.1 L859,572.1 L862.8,698.6 L869.4,702.7 L876.4,638.3 L880.1,674 L884,692.1 L889.5,672 L896.1,574.4 L901,609.8 L905,575.8 L910,663.6 L916.2,577.6 L922.2,633 L927.9,593.6 L932.8,579.8 L939.7,720 L944.5,720 L951,579.4 L955.1,720 L962,720 L968.7,580.4 L974.6,578.9 L979.7,597.2 L985.3,578 L992.1,720 L997.8,685.4 L1003.6,575.1 L1008.9,643.4 L1015.1,604.6 L1018.9,572.6 L1023.4,626.3 L1027.7,643.8 L1032.9,668.3 L1038.4,569.1 L1043.7,720 L1047.5,706.8 L1054,566 L1058.6,580.6 L1062.6,571.8 L1081.5,512 L1084.5,492.5 L1085,79 L1199,79 L921.1,79 L904.3,84 L888.9,87.6 L874.7,92.6 L861.6,95.5 L849.6,101.1 L838.5,104.8 L828.4,110.4 L819,113.1 L810.4,118.4 L802.5,123 L795.2,126.7 L788.5,131.1 L782.3,136.4 L777.6,140.4 L777.6,546.8" stroke="#8a8a8a"/>
<path d="M730,538.3 L735.1,539.3 L738.7,542.4 L745.5,548.3 L751.8,542.9 L756.1,544.5 L762.1,546.9 L769.1,568.3 L775,547.9 L779.2,548.8 L783,549.6 L790,551.2 L795.6,552.4 L801.3,553.7 L805.7,555.9 L811,555.8 L815.1,556.7 L821.8,558.2 L828,567.5 L832.5,560.6 L838,570.4 L844.6,567.6 L849.8,592.7 L853.6,565.6 L857.4,566.6 L862.3,567.7 L868.2,581.4 L874.2,570.6 L878.8,659.1 L884.7,572.7 L890.8,594 L894.5,574.3 L898.2,720 L903.6,575.8 L910.5,576.9 L915.9,655.8 L920.9,682.4 L926,579.3 L930.1,580 L934.6,641.2 L941.5,670.2 L947.6,720 L951.6,720 L956.3,701 L962.2,720 L967.8,579.2 L972.4,579.1 L977.7,579 L982,602.6 L987.3,654.1 L991.9,670.5 L996.9,688.1 L1002.1,575.5 L1007.2,574.6 L1014.1,573.5 L1018.1,720 L1023.4,680.2 L1027.6,637 L1033.8,702.7 L1039.2,569.1 L1043.7,720 L1047.2,664 L1054.1,576 L1058,565.4 L1064.9,564 L1068.4,595.7 L1085.3,514.4 L1088.1,500.4 L1088.6,79 L1199,79 L855.6,79 L844.1,82.3 L833.5,86.3 L823.7,90.6 L814.7,94.8 L806.4,97.6 L798.8,102.1 L791.8,105.9 L785.4,111.8 L779.5,114.3 L774,119.4 L769,123.8 L764.4,128.5 L760.1,134.8 L756.2,139.6 L752.6,144.1 L749.3,149.6 L746.3,157.1 L744,162.6 L744,541.5" stroke="#8c8c3c"/>
<path d="M730,540.1 L735.6,536.6 L742.5,538.1 L748.5,541.6 L753.6,540.4 L760.2,542.7 L766.4,547.8 L772.9,548.4 L776.6,552.8 L782.9,546.8 L788.3,548 L793.7,549.2 L800.5,551.7 L806.7,552 L812.5,553.3 L816.5,554.2 L820.3,612.5 L826.2,556.3 L829.8,557.1 L836.5,565.3 L840.3,566.5 L845.6,580.9 L850.8,595.3 L855.7,649.9 L859.2,564.2 L863.1,584.4 L867,720 L873.5,567.6 L878.7,568.8 L882.3,569.5 L888.6,642.6 L892.2,710.6 L895.7,636 L899.9,720 L905.7,708.1 L912.2,574.3 L917.4,649.1 L921.1,652.7 L924.9,576.3 L929.1,577 L934.6,577.1 L941.3,658.8 L947.9,606.8 L951.6,651.2 L956.8,666.9 L962,576.5 L967.4,677.8 L973.4,576.3 L977,576.2 L983.5,600.6 L987.5,574.9 L992.7,594.4 L998.2,720 L1002.4,635.7 L1007.9,635.5 L1013.2,687.5 L1019.3,569.9 L1023,609.6 L1029.7,568.2 L1036.3,583.9 L1043,652.7 L1047.1,564.7 L1054.1,572.6 L1059.4,562.3 L1063.3,612.5 L1070.1,575.7 L1074.7,559.2 L1081.8,523.5 L1085.1,505.6 L1085.6,79 L1199,79 L844.4,79 L833.7,83.5 L823.9,87 L814.9,90.9 L806.6,95.5 L799,100.7 L792,104.3 L785.6,109.4 L782.1,111.7 L782.1,558.4" stroke="#92278f"/>
<path d="M730,543.5 L736.1,546.8 L742.3,555.5 L747.3,547.3 L751.8,552.4 L758.1,553.6 L764.7,551 L768.5,551.9 L772.3,552.7 L778.8,560.3 L782.5,556.5 L786.7,555.8 L792.4,557.1 L796.7,565.3 L803.3,574.3 L809.2,596.1 L815.9,563.1 L820.4,582.9 L825.7,565.7 L829.9,565.3 L833.5,566.2 L839.8,615.1 L844.9,577.2 L851.1,611.1 L855.8,571.5 L862.7,624.9 L868,720 L872,720 L877.4,687.7 L883.7,577.9 L887.8,578.6 L893.7,706.1 L898.5,580.3 L903.4,581.1 L907.8,581.8 L914,675.5 L920.5,720 L926.7,684.9 L930.8,585.3 L935.1,720 L941.4,585.1 L948.4,662.5 L952.9,584.9 L956.8,599.5 L961,584.7 L967.5,619.6 L974,720 L978.4,664.6 L984.5,607.9 L988,601.4 L994.5,582 L998,581.4 L1002,580.8 L1007.2,720 L1012.3,579.2 L1017.5,648 L1023.7,577.3 L1030.5,578.9 L1036.4,575 L1042.5,720 L1046.2,720 L1052.1,646.4 L1058.1,580.2 L1061.9,569.9 L1068.5,577.5 L1074.1,567.5 L1078.8,611.9 L1096.5,540.1 L1098.1,529 L1098.6,79 L1199,79 L1083.5,79 L1053.8,86 L1026.4,91.6 L1001.2,99.1 L978,106.1 L956.6,110.9 L937,117 L919,122 L902.4,128.6 L887.1,132.5 L873,139.5 L860.1,144.1 L848.2,149.7 L837.2,154.5 L827.2,159 L820.1,162 L820.1,558.7" stroke="#808080"/>
<path d="M730,545.5 L734.4,545.5 L740.5,546.8 L744.1,547.6 L748.1,550.7 L751.8,549.3 L758.8,554.2 L763.7,551.8 L767.4,552.6 L773.1,573.3 L778.5,557.9 L782.7,577.4 L787.8,562.1 L792.1,560.1 L797.6,559.2 L801.6,560.1 L806.5,569.1 L810.5,563.4 L816.7,574.7 L820.8,588.3 L827,570.1 L830.6,571.5 L834.4,567.4 L840.6,568.9 L844.8,569.9 L849.6,571 L856.3,579.7 L863.2,649.5 L868.8,713.5 L874.2,576.9 L879.3,642.6 L886.2,579.3 L889.8,628.1 L895,685.8 L899.1,668.4 L905.2,640.7 L911.6,682.4 L918.4,699 L923.1,720 L928,612.7 L931.5,663.1 L938.4,720 L943.7,602.3 L950.5,585.9 L955.3,585.8 L961,716.7 L965.8,585.6 L971.1,664.2 L977.2,709.5 L983,585.5 L988.8,700.4 L992.9,583.3 L998.5,660.1 L1003.6,581.6 L1008,609.8 L1013.2,656 L1018.8,579.1 L1022.4,647.5 L1029.2,588.3 L1036.1,630.8 L1039.7,581.3 L1045.3,574.3 L1050.6,581.8 L1057.2,579.5 L1061.3,572.6 L1065.8,584.9 L1070.4,581.1 L1076,568.8 L1081.4,567.1 L1086.5,566.3 L1090.2,565.7 L1096.5,564.7 L1102.1,563.8 L1108.6,564.1 L1112.4,562.2 L1117.7,592.1 L1127.2,545.2 L1128.4,539.6 L1128.9,79 L1199,79 L998.7,79 L975.7,84 L954.6,89.3 L935.1,94.4 L917.2,98.9 L900.7,103.2 L885.6,109 L871.6,113.4 L858.8,116.4 L847,121.8 L836.2,126 L826.2,131.4 L817,136 L812.9,137.1 L812.9,560.9" stroke="#9e1f1f"/>
<path d="M730,541.4 L733.6,542.2 L739.6,544.6 L743.3,547.9 L749.7,545.7 L753.7,547 L759.5,548.4 L766.1,557.9 L770.5,550.2 L775.1,562.1 L779.4,552.1 L785.5,560 L791.4,555.4 L795.1,555.5 L801.4,570.7 L805.7,558.8 L810.5,558.9 L814.7,559.8 L821.2,561.3 L827.8,562.7 L834.1,564.2 L840.1,573.9 L845.2,619.9 L851.4,568.3 L855.2,583.9 L860.3,570.5 L864.2,583.5 L869.6,572.7 L875.3,650 L880.7,720 L886.3,603.7 L892.9,592.3 L897.5,584.2 L903.9,641.1 L909.1,579.9 L915.9,581 L920,701.4 L924.8,582.4 L929.4,655.3 L935.5,705.9 L941.8,583 L945.9,720 L950.8,582.8 L955.6,720 L961.3,623.4 L967.1,692.6 L971.1,582.4 L975.9,720 L982.7,581.8 L987.4,705.2 L992.4,718.6 L996.5,598.5 L1002.7,720 L1007.1,720 L1010.7,577.3 L1014.8,646.5 L1018.7,592.1 L1024.6,720 L1028.4,574.5 L1032.5,573.7 L1036.3,585.7 L1040.7,698.4 L1047.4,660.5 L1054.3,569.4 L1061.1,568 L1067.7,578 L1086.2,541 L1088.7,525.6 L1089.2,79 L1199,79 L1044.7,79 L1018,85.2 L993.5,90.9 L970.9,97.3 L950.2,101.4 L931.1,106.6 L913.5,112.7 L897.3,117 L882.4,123.4 L868.7,127.5 L856.1,132.8 L844.6,137.4 L833.9,142.1 L824.1,148.2 L821.4,148.6 L821.4,561.9" stroke="#00827f"/>
<path d="M730,539.4 L735,540.5 L740.9,541.8 L746.4,548.5 L751.3,544.1 L756.6,545.5 L762.5,555.8 L768.4,566.8 L775,549.1 L781.2,550.4 L786.8,557.7 L791,557.6 L795.4,559.8 L802.1,555.1 L807.7,556.3 L811.9,587.5 L817.5,558.4 L821.6,559.3 L827.9,560.7 L832.8,561.9 L836.7,604.1 L840.6,595.2 L845.1,568.2 L850.8,566.2 L857.6,567.8 L864.4,677.2 L868,570.3 L872.2,571.3 L878.6,690.7 L884.9,616.4 L891.5,579.6 L897.4,596.7 L902.2,720 L905.7,642.5 L911.4,708.6 L917.8,643.5 L923,580.1 L928.7,710 L934.7,676.8 L941,636.8 L947.8,684.6 L953.7,720 L960.4,580.6 L965.6,580.5 L971.5,595.3 L976.6,720 L983.3,579.7 L989.1,578.7 L995.1,582.8 L999.4,619.8 L1004,625.2 L1009.2,699.1 L1015.4,720 L1021,573.6 L1025.9,720 L1032.7,635.8 L1037.2,720 L1043.1,697.1 L1047.7,633 L1053.1,567.6 L1057.4,572.3 L1062.3,567.6 L1067.4,564.7 L1072.9,591.8 L1076.9,572.6 L1083.8,561.6 L1088.8,585.8 L1107.6,562.8 L1109.5,547.5 L1110,79 L1199,79 L950.8,79 L931.7,82.9 L914,88 L897.8,92.2 L882.9,97.2 L869.2,102.1 L856.6,105.2 L844.9,110.8 L834.2,113.4 L824.4,117.9 L815.4,123 L807,127.6 L799.4,131.3 L792.4,135.4 L792.4,557.2" stroke="#2e5cb8"/>
<path d="M730,541.2 L735.4,542.4 L740.6,543.5 L746,549.4 L751.1,545.8 L755.7,550.2 L762.3,548.2 L767.7,549.4 L772.7,550.4 L778.3,551.6 L784.5,553 L789.2,554 L793.4,562.5 L799.4,566.5 L804.3,564.3 L808,558.2 L813,559.3 L816.5,560.1 L823.3,561.6 L828.4,562.7 L834.2,564 L838.2,604.6 L843,605.9 L849,569.6 L854,590.2 L860.6,570.4 L864.7,571.4 L870.6,720 L876.2,574.1 L883.1,655.2 L888.4,638.5 L894.7,720 L899.4,578.1 L905.5,720 L910.6,643.7 L914.3,720 L920.5,675.5 L926.6,720 L930.9,583 L937.3,655.5 L943.5,658.6 L947.8,692.9 L952.4,720 L958.6,720 L964.2,582.3 L969.5,717.1 L973.4,582.2 L978,623.6 L983.8,581.4 L988.3,720 L994.5,580.6 L1000,589.4 L1006.2,577.8 L1009.9,671.8 L1015.7,618 L1022.6,677 L1029.3,574.1 L1035.6,720 L1041.1,571.8 L1047.1,570.6 L1053.7,612.7 L1058.9,568.2 L1063,633.3 L1067.9,586.5 L1073.1,588.4 L1077.5,636.6 L1082.5,573.2 L1088.3,562.7 L1093.1,564.3 L1096.8,561.3 L1110,522.4 L1111.9,507.8 L1112.4,79 L1199,79 L837,79 L827,83.7 L817.7,87.4 L809.2,90 L801.4,93.6 L794.2,97.8 L790.4,100.6 L790.4,560.8" stroke="#8c64b4"/>
<path d="M730,543.7 L734.6,551.4 L740.5,546 L745.6,548.9 L750.2,549.8 L755.8,549.3 L762.1,559.4 L768.7,552.1 L772.3,552.8 L779.1,555.7 L785.7,581.6 L791.2,557 L796.9,573.6 L800.6,559 L807.5,564 L813.5,582.5 L817.8,562.8 L824.1,587.1 L829.5,565.4 L835.4,580 L839.2,598.7 L846.2,569.4 L850.7,570.5 L857.6,572.6 L862.5,720 L866.2,710.8 L871.7,720 L875.4,576.4 L879.2,590.3 L885.3,612.8 L890.7,720 L894.4,579.8 L899.1,650.8 L906,590.4 L909.8,720 L916.2,679.2 L921.8,621.7 L927.5,603.1 L931.4,585.5 L937.6,668.1 L942.1,610.6 L948.2,585.1 L951.7,610.6 L958.4,584.9 L961.9,720 L968.4,679.8 L974,584.6 L980.3,647.1 L984.1,640.2 L989.7,612.8 L996.2,617.5 L1001.3,603.4 L1007,664 L1013.9,659.9 L1018,672.6 L1024.4,651 L1030.4,576.4 L1037.2,590.1 L1042.6,695.3 L1046.3,573.2 L1050.3,572.5 L1054.6,590.3 L1059.4,570.6 L1064,575.4 L1069.8,568.6 L1075.4,594.9 L1081.2,568.2 L1096.4,541.6 L1098.9,525.4 L1099.4,79 L1199,79 L846.8,79 L835.9,81.8 L826,86.8 L816.8,90.4 L808.4,93.9 L800.6,97.3 L793.5,102.2 L786.9,105.8 L780.8,110.8 L775.3,114.7 L770.2,119.1 L765.5,124.3 L761.1,129.3 L757.1,132.9 L753.5,140.1 L750.1,144.9 L747,150.4 L745.9,153.9 L745.9,540.8" stroke="#e6e65a"/>
<path d="M730,537.1 L736.3,538.4 L741.5,539.6 L746,548 L752.7,542 L759.4,549.6 L765.6,544.8 L770.8,562.9 L777.3,547.3 L780.9,548.1 L784.6,555.1 L788.2,550.6 L792.6,550.7 L797.5,560.7 L803.2,553 L808.4,554.1 L814.1,555.4 L819.2,556.5 L825.8,558 L832.4,593.6 L836.1,600.3 L840.8,561.5 L846.6,602 L851,588.3 L856.3,590.9 L861.7,583.9 L866.8,620.6 L873.7,569.4 L879.5,570.8 L885.3,581.2 L892,574.3 L897.3,634.5 L901,574.2 L905.9,592.4 L911.5,586.5 L917.7,576.9 L922.8,640 L929.4,578.8 L934,663.9 L939.1,579.2 L943.2,684.3 L946.8,578.5 L952.4,578.4 L958.7,578.3 L964.1,679.5 L969.7,717.5 L976.3,657.5 L980.8,653 L987,659.4 L993.3,663.7 L999.3,574.8 L1005.9,604.3 L1011,672.6 L1014.6,572.3 L1019.3,632.1 L1023.7,570.9 L1030.3,569.8 L1034.1,569.1 L1038.8,584.7 L1043.8,587.4 L1048.9,720 L1055.3,599.9 L1059.1,564.1 L1062.8,563.3 L1067.6,562.4 L1071.9,562.7 L1078.9,574.8 L1083.8,559.3 L1102.9,526.2 L1106,509.2 L1106.5,79 L1199,79 L1074.2,79 L1045.2,85.6 L1018.5,92.3 L993.9,97.1 L971.3,103.8 L950.5,110.5 L931.4,114.3 L913.8,121.5 L897.6,125.8 L882.7,131.6 L869,136.9 L856.4,140.7 L844.8,147.3 L834.1,151.4 L824.3,156.4 L815.2,161.2 L806.9,165.8 L799.3,171.9 L796.2,172.3 L796.2,554.3" stroke="#111111"/>
<path d="M730,535.9 L733.6,536.7 L737.5,537.7 L741.3,543.8 L745.1,542.6 L749.2,540.1 L755.8,541.5 L762.2,546.3 L765.8,543.7 L771.5,544.9 L776.7,549.1 L782.2,551.1 L785.8,549.4 L791.8,549.3 L798.5,565.1 L802.3,551.8 L808.8,554.7 L814.6,555.1 L818.8,598.1 L825.5,556.7 L831.2,558 L837.4,559.5 L844,561.1 L850.4,562.6 L854.3,635.7 L859.4,564.8 L864.3,648.4 L868.8,567.1 L872.6,567.9 L878.7,569.4 L882.9,650.5 L887.5,570.9 L891.3,571.5 L897.4,640.1 L903.3,573.5 L908.8,631.6 L915.8,575.5 L921.6,576.4 L926,577.1 L930.9,605.5 L934.7,594.2 L938.5,616.5 L943.5,647.1 L949.2,676.5 L953.5,720 L958.4,627.6 L964.9,577 L968.8,577 L973.5,597.9 L977.3,603.1 L982,697.6 L986.4,575.7 L992.1,586.7 L997.8,720 L1002.9,573.1 L1008.7,614.2 L1015,720 L1018.9,710.9 L1022.7,588.1 L1029,720 L1032.8,635.5 L1038.6,567 L1044.1,565.9 L1047.9,706.9 L1054.5,563.8 L1058.9,563 L1063.1,562.1 L1066.7,654.3 L1072.7,560.2 L1077.4,559.2 L1083.3,581.8 L1087.4,557.5 L1091,557 L1095.9,569 L1100.5,614.3 L1105.1,571.6 L1109.6,554 L1114.9,574.7 L1120.1,554.3 L1124.8,552.1 L1129.1,552.7 L1133.6,554.4 L1156.2,503.6 L1159.1,487.8 L1159.6,79 L1199,79 L911.1,79 L895.1,83.2 L880.4,86.5 L866.9,90.3 L854.5,95.3 L843,97.5 L832.5,102.8 L822.8,105.6 L813.9,109.9 L805.7,114.2 L798.1,118.7 L791.2,122.7 L784.8,126 L778.9,130.6 L773.5,134.6 L768.5,140.1 L764,144.8 L759.7,149.1 L755.9,154.6 L752.3,158.6 L749,165.8 L746,171.1 L743.2,176.9 L741,184.1 L741,543.9" stroke="#d64fa0"/>
<path d="M730,551.5 L735.3,545.4 L739.2,550 L744.7,547.4 L749.1,548.3 L755.2,552.2 L760.9,552.8 L766.5,556.5 L770.4,552.9 L777.2,572.8 L783.9,556.4 L790.4,558.1 L795.6,566.4 L800.2,559.6 L806.4,564.5 L812.5,562.2 L818.2,568.4 L822.5,564.4 L828.1,565.6 L834.1,567 L837.7,569.7 L841.5,592.3 L846.4,569.9 L851.9,571.7 L856.7,583.2 L861.8,641.3 L868.4,590 L874.9,704.2 L879.1,577.8 L883.7,680.6 L889,579.5 L895.8,641.7 L901.8,620 L906.9,669.6 L911.6,612.2 L916.7,720 L922.8,720 L928,585.7 L933.5,720 L937.5,585.9 L941.5,585.8 L945.2,604.2 L951.8,685.4 L957.5,585.5 L962.9,720 L968.6,720 L972.6,640.2 L979.5,608.4 L984.7,720 L991,584.6 L996.9,582.3 L1000.6,720 L1005.5,623 L1012.3,720 L1018.6,639.3 L1023.1,578.1 L1029.7,591 L1035.2,611.8 L1041.4,577.9 L1047.9,573.4 L1053.2,651.3 L1057.5,664.9 L1062.4,571.9 L1068.3,569.4 L1072.3,594 L1079.2,567.2 L1084.7,566.3 L1089.6,565.5 L1094.8,575.6 L1100.3,569.2 L1106.6,580.8 L1110.6,574 L1116.6,561.6 L1137.6,517.6 L1140.7,506.2 L1141.2,79 L1199,79 L905.7,79 L890.2,83.4 L875.9,87.7 L862.7,90.5 L850.6,93.6 L839.4,97.9 L829.2,102.4 L819.8,106.4 L811.1,110.4 L803.1,114.6 L795.8,118.9 L789,121.9 L782.8,126.6 L777.1,132.1 L771.8,136.4 L767,141.2 L762.5,144.6 L758.4,150.4 L754.7,156.6 L751.2,161.9 L748,166.4 L745.1,173.2 L742.4,180 L741.4,182.9 L741.4,542.8" stroke="#39b54a"/>
<path d="M730,543.7 L735.2,545.1 L738.8,544.2 L745.2,552.5 L749.3,551.4 L754.2,547.5 L760.2,548.8 L766.7,550.2 L771.1,566.7 L777.2,561.5 L783.4,553.8 L790.2,555.3 L795.9,556.5 L800.6,557.6 L807,559 L810.7,559.8 L815,560.7 L819.4,561.7 L825.4,564.7 L830,579.6 L835.5,594.1 L841.8,568.2 L846.3,656.8 L851.8,600.7 L857.8,570.7 L862.3,716.8 L867,578.8 L870.7,687.5 L877.7,604.1 L882.2,632.5 L889,685.1 L895.4,578.5 L900.1,613.5 L905.2,720 L910.3,658.8 L917.2,720 L922.2,582.8 L925.7,666.7 L931.1,718.7 L934.7,584 L941.7,720 L946.4,629 L951.1,603.1 L956.8,622.2 L960.6,633.6 L964.8,606.9 L970.2,602.9 L976,583.1 L982.1,588.6 L986.9,685.1 L993.8,580.8 L997.3,602 L1003,720 L1008.4,647.3 L1015.3,631.8 L1020,576.6 L1026.2,605.9 L1032.7,642.4 L1037.7,574.4 L1042.5,650.9 L1047.9,571.5 L1054.8,531.4 L1058.5,512.8 L1059,79 L1199,79 L886.6,79 L872.6,83.6 L859.7,85.7 L847.8,89.5 L836.9,94.7 L826.9,97.8 L817.6,102.1 L809.1,106 L801.3,110.3 L794.1,114.6 L787.5,118.3 L781.4,122.5 L775.8,127.6 L770.6,131.2 L765.9,135.9 L763.9,137.8 L763.9,553.5" stroke="#a0288c"/>
<path d="M730,542.5 L736,545 L742.7,545.3 L746.7,546.4 L753.3,548.8 L758.4,548.6 L762.8,549.6 L767.2,550.8 L771.5,562.6 L776.1,553.8 L781.3,556 L786.1,554.6 L793,576 L799.8,557.7 L805.4,558.9 L810.6,560 L817.5,587.6 L823,562.8 L827.5,570.5 L832.5,564.9 L839.3,566.5 L843.6,596.6 L847.1,568.4 L851.1,597.1 L857.9,571 L864.7,720 L868.4,720 L874.7,639.4 L878.9,671.4 L882.9,591.6 L888.7,720 L893,578.4 L898.1,650.9 L903.4,694.1 L909.4,695.1 L915.9,667.6 L921.3,720 L925.7,673.5 L930.4,584.3 L934.1,584.2 L939,596.8 L945.3,630.9 L949.3,720 L953.7,583.8 L959.3,682.5 L963.7,606.2 L969.8,583.5 L976.8,720 L981.4,590.7 L986.1,720 L991.5,581.5 L996,580.7 L1000.4,720 L1006,597.4 L1011.9,720 L1018.4,577.2 L1025.1,638.4 L1028.8,605.2 L1033.1,574.7 L1039.9,720 L1044.8,715.7 L1051.1,619.4 L1057.5,582.8 L1063.7,581.5 L1068.3,571.9 L1089.2,556.5 L1093,546.3 L1093.5,79 L1199,79 L866.2,79 L853.8,83.5 L842.4,86 L831.9,91.3 L822.3,93.3 L813.4,98.4 L805.3,101.6 L797.7,105.6 L790.8,109.4 L784.5,114 L778.6,118.5 L773.2,122.6 L768.3,126.7 L765.8,131 L765.8,553.2" stroke="#2e5cb8"/>
<path d="M730,544.8 L736.5,547.4 L740.1,549 L743.7,547.7 L747.9,548.6 L753.4,549.8 L759.3,551.3 L763.9,554.3 L768.9,553.4 L775.6,554.6 L779.3,555.4 L784.6,556.6 L789.1,557.6 L793.3,568.6 L797.8,577.3 L802.4,561 L807.8,576.9 L812.5,594.7 L817.7,583.8 L823.2,565.1 L828.3,566.2 L831.9,601.5 L835.5,567.9 L839.9,568.9 L846.4,570.5 L850.6,613.1 L856.7,573 L863.6,710.6 L870.3,592.6 L875.5,660.5 L880.6,578.7 L884.7,581.6 L889.6,668.4 L893.4,720 L897.9,581.4 L903.4,607.9 L907.7,631.3 L913.8,720 L918.3,584.7 L924.4,720 L930.6,599.5 L937.4,670.3 L943,711.3 L949.1,649.9 L954.1,603 L959.5,591.3 L963.4,609.1 L967.6,585.8 L972.3,585.7 L976.7,720 L983.2,720 L989.7,669.1 L995,583.2 L999.2,596.5 L1003.2,720 L1007.7,692 L1011.2,592.1 L1015.5,720 L1020.6,720 L1025.5,720 L1030.7,577.4 L1034.6,720 L1040.1,575.6 L1045.9,574.4 L1050.1,573.6 L1055.7,617.4 L1061.7,597.5 L1067.3,581.2 L1070.9,576 L1074.9,568.6 L1081.2,657.7 L1087.9,566.3 L1097.9,543.9 L1100.9,526 L1101.4,79 L1199,79 L868.3,79 L855.7,82.8 L844.2,86.1 L833.6,90.9 L823.8,93.8 L814.8,98.3 L806.5,102.6 L798.9,106.3 L791.9,110.6 L785.4,115.6 L779.5,119.5 L775.5,121.7 L775.5,548.4" stroke="#ef7f9f"/>
<path d="M730,535.4 L736.1,536.7 L742.2,538 L747.3,539.1 L753.2,540.4 L756.9,542.5 L763.6,548.4 L768.4,543.7 L772.4,561.4 L777,545.5 L782.2,565.6 L787.9,549.1 L793.9,550.9 L800.7,552.3 L804.3,558.8 L809,560.2 L814.7,553.8 L818.2,554.6 L824.3,555.9 L830.6,557.3 L835,565.1 L839.7,576.1 L844.5,560.7 L849.4,561.8 L856.2,563.5 L861.5,576.4 L865.4,580.4 L870,688.9 L877,720 L882.6,720 L886.3,720 L890.6,677.3 L894.6,580.1 L898.6,655.1 L903,572.9 L907,573.5 L912.2,575.3 L917.6,626.9 L924.1,608.3 L929.4,720 L934.8,689.4 L940.3,654.9 L944.1,576.9 L950.5,576.8 L954.2,720 L958.8,720 L962.4,576.5 L967.9,616.4 L974.6,591.7 L980.9,576 L985.8,660 L992.8,592.8 L999.1,584.7 L1003.3,720 L1009.2,571.5 L1012.9,570.9 L1017,570.3 L1023.9,578.5 L1030.9,568 L1036.3,623.8 L1041.6,585.1 L1045.6,614.5 L1049.3,564.3 L1054.8,563.2 L1061.5,561.9 L1067,560.8 L1073.9,559.4 L1077.4,574.1 L1081.7,558 L1088.5,556.8 L1094.3,555.9 L1098.7,555.2 L1104.1,554.3 L1107.7,553.8 L1111.6,576.9 L1117.7,552.1 L1135.9,550 L1138.7,539.2 L1139.2,79 L1199,79 L909,79 L893.1,83.7 L878.6,87.1 L865.2,90.9 L852.9,96.1 L841.6,99.8 L831.2,103.2 L821.6,106.7 L812.8,111.8 L804.6,115.6 L797.2,118.6 L790.3,124.7 L784,128.5 L778.2,131.6 L772.8,137.6 L767.9,141.2 L763.4,146 L762.1,148.7 L762.1,551.4" stroke="#b0308f"/>
<path d="M730,544.6 L736.2,545.9 L742,550.9 L748.4,552.2 L753.6,550.2 L760,554.7 L764.8,552.1 L768.9,553 L774,554.1 L777.6,557.4 L783.6,556.2 L788.6,557.3 L794.4,569 L799.2,561.2 L803.5,579.1 L808,561.5 L814.5,564.6 L819.1,570.3 L825.6,567.1 L831,603 L835.7,603.3 L841.4,569.1 L847.9,570.7 L853.5,572 L859.4,574.4 L864.5,574.7 L868.8,695.8 L874.2,719.2 L880.3,619.5 L884.4,717.9 L890.6,580.1 L896.8,717.4 L902.3,581.9 L905.9,582.5 L912.7,583.6 L916.4,584.2 L921.7,673.2 L928.6,612.8 L932.5,586.3 L937.6,603.7 L944.1,670.6 L949.9,690.8 L955.2,596.1 L960.9,674.4 L967,620.3 L973.3,720 L978.4,585.4 L983.2,682.4 L988.3,702.4 L995.2,680.6 L1001.7,686.2 L1008.5,592.1 L1014.4,606.4 L1020,720 L1024.4,619.7 L1029.4,577.5 L1036,576.2 L1042.2,574.9 L1047.8,573.8 L1053,575.3 L1059.2,571.5 L1063.5,627.9 L1069.8,569.4 L1073.4,568.7 L1078.7,567.6 L1083.4,527.8 L1086.2,520.2 L1086.7,79 L1199,79 L940.9,79 L922.5,84.4 L905.6,88.8 L890.1,92.2 L875.8,96.7 L862.6,100.7 L850.5,106.8 L839.4,111.3 L829.1,115.8 L819.7,120.2 L811,124 L803.1,129.4 L795.7,133.3 L789,138.3 L782.8,142.6 L777.1,147 L774.2,150.9 L774.2,546.3" stroke="#007a3d"/>
<path d="M730,545.1 L736.4,546.4 L742,549.3 L746.9,549.2 L753.5,550.1 L757.6,551 L763.7,552.3 L768.8,553.4 L774.7,554.7 L780.2,555.9 L786.4,566.9 L791,565.6 L795.9,559.3 L799.6,561.6 L803.1,568 L809.7,577.1 L815.4,563.6 L819.3,564.5 L823.4,565.4 L829.5,577.4 L833.2,594.7 L839,617.6 L844.7,570.4 L848.8,591.1 L853.7,581.5 L860.2,578.4 L864.4,585.6 L870.1,720 L874.8,700.9 L881.6,645.1 L886.9,600.8 L893.5,581 L898.5,581.8 L904.6,720 L911,583.8 L914.9,584.4 L921.3,585.5 L926.2,615.5 L931.3,589.9 L938.1,606.5 L944.5,720 L951.3,681 L958,720 L963.2,596.5 L967.1,700.5 L970.9,720 L976,681 L981.2,720 L986,612.2 L989.6,665.5 L995.3,585.4 L999.8,694.7 L1006.3,612.5 L1012.6,673.8 L1016.4,659.2 L1021.5,579.2 L1025.9,578.5 L1032.9,707.2 L1037.2,608.5 L1041.2,576.4 L1046.6,587.9 L1052.2,584.7 L1059,572 L1063.8,571.1 L1067.9,647.2 L1074.7,568.9 L1081.6,578.5 L1085.6,584.5 L1092.4,569.3 L1098.1,593.2 L1102,576 L1107.5,563.4 L1112,562.7 L1118,561.8 L1121.7,561.2 L1140.9,562.9 L1142.3,550.5 L1142.8,79 L1199,79 L1032.5,79 L1006.8,84 L983.2,89.5 L961.5,96.1 L941.4,100.1 L923,105.6 L906.1,110.5 L890.5,115.9 L876.2,120.9 L863,125.8 L850.9,131.4 L839.7,134.3 L829.4,139.6 L820,143.8 L811.3,148.6 L803.3,153.8 L795.9,157.7 L789.2,162.8 L788.4,164 L788.4,552" stroke="#7b5fb0"/>
<path d="M730,538.7 L736.7,548.1 L743.5,541.9 L747.4,542.8 L753.9,547.6 L759.1,545.2 L764.6,550.2 L771.3,560.2 L775,548.4 L781.8,550.3 L788.2,551.3 L792,558.1 L796.9,586.7 L803.6,572.4 L807.6,564 L812.6,569.2 L818.2,563.1 L823.1,561.6 L827.3,559.9 L833.9,561.4 L840.7,563 L845.5,564.2 L849.5,565.1 L855.5,566.6 L860.2,613.9 L866.7,660.7 L873,570.8 L879.3,574.9 L883.1,656.4 L888,573.7 L893.4,719.3 L899.4,619.1 L904,648.5 L909.5,654.8 L913.6,693.8 L917.5,653 L922.7,651 L928.6,580.2 L933.3,720 L937.1,720 L941.3,601.8 L945.6,582.7 L950.7,580 L954.3,647.2 L959.3,720 L963.1,666.8 L969.9,720 L974.8,579.5 L980.1,579.4 L984.8,578.7 L990.4,584.4 L996.8,576.8 L1000.3,576.2 L1006,720 L1010.1,598 L1014,619.2 L1018,638.7 L1023.2,633.3 L1028,571.8 L1034.1,720 L1039.6,653.5 L1044.5,568.5 L1050.1,628.4 L1055.6,596.4 L1059.2,565.6 L1064.5,598.4 L1071,619.5 L1074.9,595.8 L1079.2,605.1 L1102,550.3 L1103.3,537 L1103.8,79 L1199,79 L943.8,79 L925.2,83.8 L908.1,88.5 L892.4,93.1 L877.9,97.1 L864.6,101.6 L852.3,106.1 L841,111.1 L830.7,115.4 L821.1,119.8 L812.3,123.6 L804.2,129.1 L796.8,133 L790,139 L783.7,142.8 L777.9,147.9 L772.6,152.5 L767.7,158 L763.2,163.1 L759,168.1 L755.2,174 L751.7,180.3 L748.5,187.1 L745.5,195 L744.2,197.5 L744.2,551.7" stroke="#c8c8c8"/>
<path d="M730,544.6 L735.8,551.3 L741.5,547.1 L747.1,548.3 L751.8,550.7 L756.3,557.2 L759.8,558.6 L766.2,553.3 L771.7,557.2 L776,570.4 L781.8,568.4 L787.5,557.7 L794.3,558.6 L800.2,562.5 L806.6,563.8 L811.5,562.4 L816,563.3 L821.7,564.6 L828.1,580.3 L832.2,566.9 L837.8,568.3 L842.7,569.5 L847.1,637.9 L853.6,572.1 L857.4,573 L861,579.9 L867.3,720 L873.9,577 L880,637.9 L886,579.4 L891.8,580.3 L897.1,581.2 L903.9,707.2 L908.3,629.6 L912.5,720 L919.1,584.7 L925.6,601.6 L929.9,586.4 L935.9,586.3 L941.4,626 L945.2,621.5 L948.9,610.4 L954.7,586.2 L959.2,703.4 L963.1,585.8 L967.8,595.6 L974.2,615.8 L978.4,700.9 L984.1,679.9 L988.6,643 L994.6,720 L1000.3,690.8 L1004.1,612.9 L1008.8,580.8 L1012.6,644.6 L1017.4,579.4 L1021.7,685.5 L1025.6,578.1 L1029.8,577.5 L1035.1,631.8 L1039,625.4 L1045.1,574.4 L1050.5,573.3 L1055.2,582.4 L1060.9,571.2 L1064.6,570.5 L1069.4,569.5 L1073.1,637.3 L1077.4,571.7 L1081.6,567.2 L1087.9,566.2 L1093.1,615.4 L1098.2,564.5 L1104.2,565.3 L1106.4,554.1 L1106.9,79 L1199,79 L1049.7,79 L1022.7,84 L997.8,91.6 L974.9,97.3 L953.8,102.9 L934.4,106.9 L916.5,111.8 L900.1,118.1 L885,122.6 L871.1,127.9 L858.3,132.4 L846.6,137.7 L835.8,143 L825.8,146.7 L816.6,151.2 L808.2,156.9 L803.2,159.6 L803.2,560" stroke="#22b14c"/>
<path d="M730,535.5 L736.8,539.1 L743.5,538.5 L748.5,539.5 L754.8,540.9 L760.6,559.7 L767.4,543.6 L774.2,547.1 L780.6,557.2 L784.5,554.1 L791.2,556.5 L795.1,549.6 L799.8,573 L805.1,560.3 L809.4,552.8 L816.4,571.3 L822.7,555.7 L827.5,572.9 L833.2,558.1 L837,560.5 L843.4,560.5 L847.5,561.5 L852.5,579.2 L857.4,563.9 L861,564.8 L864.7,720 L869.3,566.8 L873.5,567.8 L879.7,570.8 L884.6,570.1 L889.3,583.8 L895.4,575.7 L899.6,720 L905.1,583.1 L912.1,645.2 L915.8,686.7 L920.4,665 L926.8,576.8 L931.1,720 L935.1,577.2 L940.6,657.6 L946.7,692.5 L952,576.9 L957.4,648 L962.1,576.7 L968.1,685.8 L971.7,720 L977.7,576.4 L982.4,575.9 L988.4,663.9 L995.3,573.9 L1000.4,573.1 L1004.9,655.4 L1011.9,594.8 L1015.4,696.3 L1019.2,570.1 L1024.2,569.3 L1027.8,639.3 L1034.2,568.6 L1038.6,610.7 L1042.3,565.9 L1046.5,565 L1050.9,643.1 L1055.4,563.2 L1059.7,562.4 L1064.8,619 L1070.5,560.2 L1076,568.8 L1079.5,558.4 L1086.4,566.3 L1091,565.3 L1097.3,565.7 L1101.6,555.3 L1107.9,553.9 L1129.3,530.4 L1130.8,520.9 L1131.3,79 L1199,79 L901.9,79 L886.7,83.5 L872.6,86.6 L859.7,90.1 L847.9,94.9 L836.9,98.3 L826.9,102 L817.7,106.7 L809.1,110.9 L801.3,115.4 L794.1,117.9 L787.5,122.7 L786.9,124.3 L786.9,559.8" stroke="#ed1c24"/>
<path d="M730,550.1 L735,548.8 L739.8,548.2 L745.8,547.7 L750.2,551.9 L755.1,549.8 L758.8,550.5 L765.7,552 L770.3,553 L774.9,555.5 L779,554.9 L785.7,556.4 L790.8,557.5 L794.3,585.9 L799.9,560.3 L804.7,560.6 L811.5,562 L815.7,579.8 L820.6,568.2 L825.6,591.5 L830.5,566.3 L835.2,573.7 L839.5,568.4 L844.8,580.2 L851,571.2 L857.6,572.7 L861.9,590.4 L868.2,699 L874.8,661.1 L881.7,720 L888.7,670.8 L892.4,688 L898.4,720 L904.7,582.1 L910.4,583 L915.3,583.8 L920.3,589.6 L926.4,680.6 L932.3,619.9 L938.1,720 L941.9,616.2 L947.4,693.2 L953,607.7 L958.1,585.6 L964.3,720 L969.7,630.5 L975,720 L982,584.8 L985.9,720 L991.3,590.8 L995.7,582.6 L1002.2,581.6 L1008.4,697.8 L1013.7,579.7 L1019.1,578.9 L1024.4,605 L1030.7,708.6 L1036.9,575.8 L1043.6,574.4 L1048.8,681.6 L1055.6,572.6 L1062.3,571.2 L1068.1,585.6 L1073.2,568.8 L1079.5,648.9 L1086,567.4 L1091,565.4 L1097.9,564.3 L1104.5,563.2 L1110.1,562.3 L1114.7,572 L1120.5,560.7 L1132.9,522.6 L1134.5,517.6 L1135,79 L1199,79 L1118.7,79 L1086.1,86.2 L1056.1,93.2 L1028.5,99.9 L1003.1,105.5 L979.8,112.7 L958.3,119.4 L938.6,124.1 L920.4,130.6 L903.7,135 L888.3,140.4 L874.1,147.2 L861.1,150.8 L849.1,156.8 L838.1,160.7 L828,167.2 L818.6,170.9 L810,176.5 L802.1,181.5 L794.9,184.9 L788.2,189.7 L782,195.9 L776.4,199.5 L775.4,201.1 L775.4,552.8" stroke="#2e3192"/>
<path d="M730,539.8 L736.4,541.8 L742.7,542.4 L749.6,543.8 L755,545 L758.8,551.7 L765,558.3 L770.5,554.4 L774.8,552 L779.9,550.7 L784.3,555.4 L789.4,552.5 L793.2,553.3 L798.1,554.4 L802.4,558.3 L807.4,556.4 L814.3,558 L819.5,562.4 L823.8,560 L827.7,560.9 L832.8,594.5 L839,564.5 L843.7,564.7 L849.2,572.7 L853.1,566.9 L859.6,570 L866.1,570.1 L870.5,571.1 L875.1,720 L879.1,691.3 L883.6,574 L890.5,583.7 L895.6,575.9 L899.8,658.6 L904.4,698.6 L908.4,577.9 L914.9,616.1 L920,579.8 L925.6,720 L932,638.1 L936.5,709.7 L943,665.4 L948.4,581 L952.2,710.2 L956.2,691.9 L962.8,614.6 L968.2,615.5 L973.8,589.9 L978.1,713.5 L982.1,720 L986,671.3 L991.1,666.2 L995.3,585.4 L1000.4,673.6 L1006,576.2 L1012.3,631.7 L1018.3,574.3 L1022.8,697.9 L1028.3,579.7 L1033.2,612.7 L1038.2,570.8 L1043.6,688.3 L1049.8,568.4 L1056.6,567.1 L1061.7,566.1 L1068.1,646.6 L1074.1,563.6 L1079.2,562.6 L1085.1,561.6 L1089.2,572.3 L1094.2,561.2 L1099.7,604.2 L1104.1,558.5 L1108.7,573.2 L1115,556.8 L1122.1,552.8 L1125.7,534.3 L1126.2,79 L1199,79 L1102.4,79 L1071.1,86.5 L1042.3,94.1 L1015.9,100.2 L991.5,106.2 L969.1,113.4 L948.5,118.4 L929.5,124.9 L912,131.6 L896,136 L881.2,142.7 L867.6,146.9 L855.1,153.1 L843.6,157.7 L833,162.2 L823.3,169.1 L819.4,170.4 L819.4,560.9" stroke="#00b7e0"/>
<path d="M730,535.5 L734.4,541 L739.2,538.9 L743.9,538.5 L748.1,540.6 L754.5,540.8 L760.6,542.1 L764.8,543 L769,543.9 L773.7,544.9 L779.9,546.5 L784.4,547.2 L790.9,548.7 L797.8,550.2 L802.3,555.8 L808,552.4 L812.8,561.8 L818.3,562.9 L822.6,555.9 L826.9,560.9 L832.7,557.9 L839.5,631.1 L843.3,565.4 L847.7,561.5 L852.6,562.7 L858.9,636.2 L862.5,678.6 L867.3,622.3 L871.2,681.2 L877,628.8 L881.6,720 L886.7,606.5 L892.5,571.3 L898.6,572.3 L904.5,671.8 L911.2,577.2 L915.9,575 L921.8,597.2 L927.2,584.1 L930.8,698.2 L934.4,670.3 L939.3,591.6 L943.8,637.4 L949.8,663.5 L954.7,673.3 L959,576.7 L965.7,709.8 L972.5,576.4 L976,666.4 L979.8,718.1 L985.7,637.5 L990.6,695.4 L994.8,573.9 L1001.2,574.3 L1007,645.8 L1011.4,581.9 L1018.1,570.2 L1024.6,580.2 L1031.2,570.4 L1036.7,566.9 L1042.8,678.3 L1048.9,564.5 L1054.9,613.5 L1058.5,563.9 L1063.5,625.5 L1070.3,560.2 L1075.9,578.5 L1080.5,558.2 L1085.6,557.4 L1092.3,556.3 L1098.6,555.3 L1104.5,554.4 L1111.4,553.2 L1124,526.7 L1127.7,514.3 L1128.2,79 L1199,79 L1077.8,79 L1048.5,84.4 L1021.5,91.4 L996.7,97.8 L973.9,104.3 L952.9,109.5 L933.6,114.8 L915.8,119.1 L899.4,125.8 L884.4,129.4 L870.5,135.3 L857.8,140.9 L846.1,144.6 L835.3,149.5 L825.4,155.2 L816.3,160.4 L807.9,165.1 L800.1,169.3 L793,174.2 L786.5,180 L780.5,184 L775,189.2 L769.9,195.1 L765.2,200.3 L761,205.8 L761,547.1" stroke="#ec008c"/>
<path d="M730,536.8 L735.4,538.1 L741.8,539.4 L747.6,541.4 L754.4,542.1 L758.1,543.8 L764.7,544.3 L768.9,545.2 L773.4,546.2 L777.7,547.1 L782.7,565.3 L789.3,549.7 L794.9,550.9 L798.7,556.6 L803.4,552.8 L807.1,560.4 L811.1,558.5 L817.6,559.7 L821.6,562.6 L828.3,558.2 L832.6,559.2 L837.9,567.5 L841.9,561.5 L847.1,562.7 L853.4,643.9 L858.6,570.6 L863.3,585.3 L869.8,568.2 L874.4,618.8 L881.3,573.4 L887.5,571.8 L893.7,586 L900.1,603.3 L907,720 L910.6,590.8 L914.6,654.1 L918.2,576.7 L922.2,669.5 L926.3,714.5 L931,586 L937.2,578.5 L941.8,663.5 L946.6,578.3 L950.2,653.7 L956.7,578.1 L960.8,601 L967.3,577.9 L971.2,577.8 L977.8,577.7 L984.6,652.3 L989.9,595.2 L995.2,720 L999.3,588.7 L1004.7,621 L1011.4,640.7 L1016.1,662.4 L1021.2,663.5 L1026.9,571.3 L1031.3,720 L1037.3,685.7 L1041.7,567.3 L1045.3,576.4 L1049.5,565.7 L1055,588.2 L1059.3,563.8 L1063.2,563 L1069.6,561.7 L1075.3,563.3 L1079.1,618.1 L1084.5,558.9 L1090.9,588.6 L1096.7,557 L1103.5,555.9 L1108.7,555 L1115.4,574.2 L1133,532.5 L1137,525.7 L1137.5,79 L1199,79 L917,79 L900.5,83.8 L885.4,88.2 L871.5,92.3 L858.7,96.1 L846.9,102 L836,105.2 L826.1,110.3 L816.9,115.6 L808.4,118.4 L800.7,123.8 L797.7,126.7 L797.7,557.6" stroke="#f7941d"/>
<path d="M730,539.2 L736.1,540 L740.5,542.7 L744.2,551.1 L748,542.8 L751.9,543.3 L758.9,546.2 L763.9,564.1 L768.7,554.3 L774.3,550.2 L779.1,553 L784.2,550.3 L790.8,551.8 L797.3,561.7 L801.1,558.1 L807.1,556.6 L813.6,556.8 L817.6,585.9 L822,575 L828.2,560 L833.4,621.6 L840.2,562.9 L844.1,563.8 L849.5,576.6 L856.1,566.7 L862,692.5 L868.9,569.8 L873.3,570.8 L879,572.2 L884.9,580.3 L888.9,582 L894.9,574.8 L900.8,581.9 L905.1,637.9 L911.9,577.5 L918.4,649.3 L925,579.6 L928.7,594.2 L934.7,580.3 L938.6,660.2 L944.4,660.6 L949.4,672.5 L954.1,579.9 L960.6,593.9 L966.3,586.6 L971.3,667.2 L974.8,720 L978.8,720 L982.3,636.4 L989.2,577.9 L996.2,576.8 L1002.9,596.4 L1008.9,635.2 L1012.4,629.5 L1017.1,573.5 L1021.8,720 L1027.3,676.6 L1031.6,571.1 L1036.4,642 L1041.6,600 L1046.8,720 L1051.4,567.1 L1056.4,566.1 L1060.4,595.3 L1066.9,564 L1073.8,583 L1078.9,561.8 L1085.5,576.5 L1090.3,559.8 L1096.8,558.7 L1101.7,557.9 L1108.1,556.9 L1112.3,556.2 L1117.5,555.4 L1123.2,554.5 L1129.5,553.5 L1134.1,552.7 L1139.8,552.8 L1143.5,551 L1158.9,533 L1160.8,515.4 L1161.3,79 L1199,79 L1039.3,79 L1013.1,85.1 L988.9,89.5 L966.7,95.3 L946.3,101.2 L927.5,106.5 L910.2,111.4 L894.3,116.7 L879.7,121 L866.2,127.4 L853.8,131.5 L842.4,135.2 L831.9,140.4 L822.3,144.9 L813.4,149.7 L805.2,155.4 L797.7,159.8 L790.8,166.1 L784.5,169.2 L778.6,174.6 L777,177.5 L777,549.3" stroke="#8c8c3c"/>
<path d="M730,546.5 L735.2,540.2 L740.7,544.1 L745.2,541.9 L750.7,543.1 L755.3,546.5 L759.5,547.3 L764.8,546.2 L768.8,547 L773.2,548 L777.5,556.7 L781.4,549.7 L785.9,551.1 L789.5,551.5 L796,552.9 L800.2,560.3 L805,554.9 L811.7,556.4 L816.4,559.7 L821.1,568.4 L825.3,579 L831,576.8 L836.7,562 L842.4,563.4 L847.8,597.9 L852.2,593.2 L856.2,566.7 L860.3,611.7 L864,582.6 L869,631 L875.1,637.6 L880.1,668 L884.8,668.3 L890,648.8 L895.4,720 L901.2,576.8 L904.9,576.4 L911.3,684.5 L916.6,673.3 L923.4,579.4 L930,580.4 L934.4,720 L938.6,685 L942.4,580.2 L948.4,580.1 L953,667.1 L957.3,579.9 L963.8,611.9 L968.6,713.9 L973.9,579.6 L980,648.2 L986.8,608.9 L992.4,587.2 L999.2,576.4 L1003.2,575.7 L1007.9,575 L1014,574 L1019.4,614.2 L1022.9,689.2 L1027.5,571.8 L1031.9,571 L1037.7,660.8 L1042.8,592 L1048.4,592.1 L1052.6,566.9 L1057,569 L1063.2,564.8 L1067.9,570 L1074.3,570.9 L1080.2,561.4 L1085.1,575.4 L1088.8,582.3 L1094.7,559.1 L1098.7,558.4 L1102.6,587.2 L1124,512.3 L1126.2,506.3 L1126.7,79 L1199,79 L960.6,79 L940.7,84 L922.3,88.5 L905.4,91.7 L889.9,97.1 L875.6,100.3 L862.5,104 L850.4,107.7 L839.3,111.9 L829,117.3 L819.6,120.5 L810.9,125.8 L803,130.1 L795.6,134.1 L788.9,137.7 L784.7,140.9 L784.7,548.5" stroke="#92278f"/>
<path d="M730,539.2 L736.4,538.2 L740.9,540.5 L747.6,543.7 L752,541.9 L759,546.8 L765.2,545.5 L770.7,545.6 L776.6,546.9 L783.1,561.3 L787.5,570.2 L792.2,560.2 L796.4,551.2 L801.9,552.4 L806.4,553.4 L813.2,557 L819.1,556.2 L823.6,557.2 L830,560.8 L834.4,584.3 L840.1,579.4 L846.1,579 L852.5,565 L856.2,569.3 L860.7,623.7 L865.8,567.2 L870.9,714.1 L876.1,632.4 L880.5,583.9 L887.1,653 L892.6,624.7 L898.1,580.7 L901.7,574.1 L908.6,575.2 L914.6,682.4 L920.9,577.1 L925.1,577.8 L931.6,669.3 L937.4,669.5 L943.6,586.9 L947.6,578.3 L954.5,578.1 L960.4,708.7 L965.3,577.9 L969,577.8 L972.6,669.4 L976.7,623.1 L980.9,719.3 L986.1,588.5 L990.4,597 L997.2,578.5 L1001.3,610.7 L1005.2,574 L1011,572.7 L1017.2,605.6 L1022.8,676.8 L1026.8,637.3 L1033.1,569 L1038.1,720 L1043.8,566.8 L1048.2,566 L1053.2,565 L1058.8,563.8 L1068.1,504.6 L1071.7,496.2 L1072.2,79 L1199,79 L1000.6,79 L977.5,84.9 L956.2,88.2 L936.6,94.7 L918.6,97.7 L902,103.9 L886.7,107.3 L872.7,113.2 L859.8,117.2 L847.9,121.8 L837,126.8 L826.9,131 L817.7,134.2 L809.2,138.7 L801.4,144.2 L794.2,148.7 L787.5,153.3 L781.4,156.6 L775.8,161.2 L770.7,167.2 L768.1,170 L768.1,544.9" stroke="#8a8a8a"/>
<path d="M730,540.7 L735.3,541.2 L742.2,542.7 L748.7,546.4 L753.9,546.2 L759.6,546.5 L764.2,549.5 L768,548.3 L774.3,556.1 L781,551.1 L786.9,552.4 L791.7,553.4 L798.6,583.7 L804,571.4 L809.5,557.3 L815.5,591.8 L821.4,569 L825.2,563.2 L830,561.9 L836.4,563.4 L842.6,572.6 L846.7,565.9 L853.6,590.8 L860.5,612.2 L864.9,570.2 L870.6,616.4 L874.9,572.6 L881.7,604.7 L888.4,687.7 L895.2,720 L901.8,578.8 L906.8,584.8 L910.3,584 L915.5,579.5 L920.2,580.3 L926.1,581.2 L931.9,581.8 L937.4,611.6 L941,686.7 L944.6,606.7 L948.5,581.5 L952.4,581.4 L957.5,720 L961.4,612.5 L967.5,604.9 L971.4,581 L976.8,676.5 L983.1,580.4 L987.7,692.1 L993.5,593.9 L997.5,720 L1001.4,580.5 L1007.7,706.2 L1013.3,575.5 L1017.3,574.9 L1021,661.1 L1025.4,573.6 L1028.9,659.8 L1033.2,637 L1038.3,606.3 L1042.5,577.1 L1046.6,653.6 L1051.5,619 L1057.1,571.5 L1062.4,568.9 L1069,565.1 L1073.9,584.9 L1079.8,598 L1084.5,563.9 L1090.5,561.2 L1094.8,606.7 L1099.2,559.8 L1118.5,514.2 L1121.3,504.8 L1121.8,79 L1199,79 L1004.4,79 L981,83.7 L959.4,90 L939.5,94.4 L921.3,101.1 L904.5,104.9 L889,109.7 L874.8,114.9 L861.7,120.8 L849.7,125.4 L838.6,129 L828.5,134.3 L819.1,139.1 L810.5,143.9 L804.3,147.4 L804.3,558.5" stroke="#9e1f1f"/>
<path d="M730,538.1 L733.6,540 L738.1,539.8 L743.1,540.9 L747.2,541.8 L752.5,543 L757.1,543.9 L762.8,545.2 L767,570.8 L773.8,547.5 L780,550.2 L784,559.6 L789.5,564.9 L793.4,551.8 L800.2,553.3 L804.9,562.5 L809.3,555.3 L816.1,592.1 L820.2,557.7 L823.9,599.6 L830.7,604.3 L836.1,561.3 L839.8,622.3 L844.5,637.2 L850.1,609.3 L855.8,583.8 L862.1,677.5 L867.6,644.7 L872.9,672.8 L879.8,665.2 L884.5,692.9 L891.2,573.6 L896.4,574.5 L903.4,575.6 L907.8,583.4 L912.8,687.8 L918.8,578.1 L923.9,596.7 L929.9,625.1 L933.5,668.5 L939.3,579.7 L945.5,668.3 L950.3,592.4 L956.9,596.7 L960.7,588.8 L964.6,671.3 L970.9,636 L977,699.1 L981.1,629.9 L985.2,720 L988.8,707.6 L993.9,576.6 L998.8,684.2 L1003.5,678.9 L1010,694.4 L1016.3,648.3 L1021.2,572.3 L1025.2,691.3 L1029,670.3 L1035.4,573.3 L1042,600.7 L1045.9,581.4 L1049.6,568.2 L1056.1,565.6 L1061.6,564.5 L1068,563.3 L1071.6,564.4 L1075.4,561.8 L1081.4,606.2 L1085.2,560.9 L1090.8,601 L1095.7,598.7 L1102.3,573.3 L1105.8,556.7 L1109.7,557.2 L1113.3,555.5 L1118.2,554.8 L1122.5,554.1 L1127,554.4 L1131.6,552.6 L1135.6,551.9 L1151.5,500.9 L1154.5,482 L1155,79 L1199,79 L1007.3,79 L983.6,83.2 L961.8,89.3 L941.8,94.4 L923.3,99 L906.4,103.8 L890.8,109.6 L876.4,114.1 L863.2,118.4 L851.1,123.7 L839.9,126.8 L829.6,133.3 L820.1,136.2 L811.4,141.6 L803.4,145.8 L796.1,152.1 L789.3,155.4 L783,160.2 L777.3,166 L772,170.9 L767.2,175.4 L762.7,181.3 L758.6,187.8 L756.1,192 L756.1,544.6" stroke="#00827f"/>
<path d="M730,544.7 L736.1,546 L742.9,548.2 L748.1,548.6 L754.1,549.9 L758,550.7 L764.2,552 L768.2,552.9 L774.8,562.1 L780.9,556.2 L785.8,560.4 L789.7,557.6 L795,560.2 L799.1,559.6 L802.6,562 L807.8,561.5 L812.9,568.1 L817.6,563.7 L824.5,594 L829.7,566.4 L834.4,567.5 L838,568.4 L844.4,569.9 L849.2,571.1 L853.9,573.9 L860.2,622.3 L864.7,594.7 L870.2,576.1 L874.3,599.6 L879.4,650.6 L886,653.5 L892.4,580.4 L898.7,720 L905.1,619.7 L911,583.4 L916,720 L921.1,720 L926.3,720 L930,586.4 L934.9,720 L939.4,673.4 L944.9,683.7 L949.8,586 L956.5,586.8 L962.5,702.1 L968.4,720 L975.2,720 L980.4,585.4 L985.8,697.2 L992.6,583.4 L998.9,582.4 L1004.3,712.1 L1007.9,581 L1011.7,716 L1016.3,580.6 L1022.6,670.1 L1028.2,606.6 L1034.9,588.4 L1041.6,575.1 L1045.6,689.6 L1052.2,573 L1056.9,617.4 L1061,571.4 L1064.9,608.7 L1071.1,569.2 L1077.1,645.1 L1083.8,599.9 L1090.6,590.1 L1094.8,566.1 L1101.5,578.1 L1105.4,563.4 L1110.7,573.1 L1115.1,619.9 L1120.3,561 L1138.4,554.8 L1141.3,537.7 L1141.8,79 L1199,79 L977.8,79 L956.5,82.8 L936.9,87.4 L918.8,93.8 L902.2,98 L887,101.9 L872.9,106.6 L860,111.9 L848.1,114.9 L837.2,119.8 L827.1,123.4 L817.8,128.4 L809.3,134.3 L801.5,137.8 L794.3,142.3 L787.6,146.8 L781.5,152.2 L775.9,156.9 L771.3,161.3 L771.3,552.3" stroke="#2e5cb8"/>
<path d="M730,542 L736.1,543.8 L743,546.7 L750,553.8 L756.7,550 L763.2,548.5 L767.3,549.4 L771.7,552.4 L777.4,551.6 L782.5,565.3 L789.5,554.2 L795.4,555.5 L800.7,556.7 L807.3,561.8 L812.6,568.8 L819.1,560.8 L824.9,562 L830.5,563.7 L837.1,564.9 L843.7,566.4 L847.5,580 L853.4,568.8 L857.7,577.5 L863.1,571.1 L867.5,720 L873,578.2 L877.2,620.9 L882.4,720 L887.3,720 L891.3,612.6 L897.7,720 L904.5,579.1 L909.6,643.5 L913.1,623 L917.2,581.1 L924.1,657.9 L928.6,720 L935.1,673.3 L940.7,589 L944.3,582.9 L949.5,582.8 L953.9,661.2 L958.9,582.6 L963.2,582.5 L970.2,623.7 L976,714.5 L980.9,582 L987,582.2 L993.8,579.9 L999.9,604.7 L1004.4,586.5 L1008,577.7 L1014.9,577.4 L1020.8,720 L1026.4,574.7 L1031.5,573.8 L1037.6,600.5 L1041.4,571.9 L1048.4,720 L1054.2,569.3 L1059.8,623.6 L1065.4,593.8 L1069.9,580.5 L1075.7,565 L1081.6,563.9 L1085.3,576.5 L1092.1,562.2 L1098.5,584.8 L1102.6,560.5 L1106.4,565.4 L1113.2,558.8 L1120.2,557.7 L1125.4,565 L1132,555.8 L1136.6,558.6 L1148.2,518.9 L1149.4,499.5 L1149.9,79 L1199,79 L948.2,79 L929.3,82.8 L911.9,87.9 L895.8,92.4 L881.1,96.5 L867.5,101.2 L855,106.4 L843.5,111 L832.9,114.9 L823.2,120.6 L814.2,124.6 L806,128.5 L800.8,131.7 L800.8,554.7" stroke="#8c64b4"/>
<path d="M730,548.3 L736.4,544.2 L741.1,544.3 L747.3,547.4 L754.3,547.8 L760.4,550.1 L766.4,549.8 L773,551.2 L778.3,553.8 L784.2,553.6 L790.6,571.6 L794.9,557 L800.6,557.2 L805.7,558.3 L810.4,559.4 L814.2,560.2 L818.7,564.7 L823.4,565.3 L829.2,573.5 L834.1,564.7 L839.7,568.4 L845.8,567.5 L849.6,568.4 L853.5,629.9 L857.3,570.2 L863.4,654.1 L869.8,630.6 L875.9,574.7 L881.9,679.9 L886.8,582.8 L891,640.3 L896.1,578.3 L900.2,700.9 L904.1,682.6 L910.6,580.6 L916.4,607.3 L921.8,582.4 L926.1,691.3 L932.9,606.5 L939.4,583.5 L943.2,668 L950,583.3 L957,658.5 L961.2,594.2 L964.9,653.9 L968.7,716.2 L974.5,665.2 L981,582.5 L985.6,590.7 L992.5,646 L998.6,720 L1003.1,639.9 L1008.3,633.6 L1012.8,720 L1017.1,691.8 L1021.2,618.7 L1027.8,681.5 L1032.5,574.2 L1039.4,642 L1044,571.9 L1048.6,720 L1054.1,569.9 L1059.7,568.7 L1064.6,623.1 L1070.6,566.6 L1077.3,641.4 L1083.6,564.1 L1089.1,577.8 L1093.3,567.8 L1098.1,600.3 L1104.6,560.7 L1108.8,560.1 L1113.7,559.3 L1120.1,558.3 L1126.4,558.4 L1141.4,534.9 L1143.2,527.3 L1143.7,79 L1199,79 L952.8,79 L933.4,83.6 L915.7,88.8 L899.3,93.3 L884.3,97.8 L870.5,102.6 L857.7,107.4 L846,110.7 L835.2,115.4 L825.3,121 L816.2,125.1 L807.8,128.4 L800.1,134.3 L793,138.7 L786.5,142.5 L780.5,148.5 L779.5,147.8 L779.5,550.2" stroke="#e6e65a"/>
<path d="M730,544.2 L733.8,549 L737.7,551.9 L741.8,546.8 L745.4,548 L751.3,548.8 L755.5,551.7 L759.9,554.3 L765.1,551.8 L769.6,552.8 L776,558.1 L781,555.3 L786.7,559.3 L790.6,557.3 L795.4,558.4 L800.5,569.3 L805.1,560.5 L811.6,590.5 L817.8,571.1 L821.6,572.8 L826.5,569.3 L830.5,612.3 L835.5,567.3 L840.1,593.9 L844.6,627.4 L849.9,570.8 L854.7,572.4 L859.1,617.7 L865.7,641.6 L871.1,575.9 L877.6,600.9 L881.2,720 L887.4,720 L891.6,720 L897.4,580.8 L903.8,668.9 L910.6,582.9 L914.7,583.6 L919.1,720 L922.6,663.6 L928.9,585.9 L933.3,585.9 L940,585.8 L945.8,588.9 L952.6,585.6 L957.6,588.2 L964.5,654.6 L971.3,599.4 L976.5,662.5 L982.2,603.4 L988,705.7 L992.9,708.1 L997.3,634.2 L1002.7,581.4 L1007.6,697.8 L1011.8,720 L1017.4,685.5 L1023.8,650.7 L1029.3,662.1 L1036,575.8 L1042.3,717.4 L1058.8,582.7 L1060.7,564.5 L1061.2,79 L1199,79 L988.9,79 L966.7,85 L946.2,90.1 L927.4,95.5 L910.2,98.7 L894.3,103.7 L879.6,109.1 L866.2,113.5 L853.8,119 L842.4,123.4 L831.9,127.8 L822.2,133.1 L813.4,137.2 L805.2,143 L797.7,146.9 L790.8,152.4 L784.4,157.6 L778.6,161.3 L773.2,167.7 L768.3,171.7 L763.7,178.3 L759.5,183.8 L757.2,186.6 L757.2,542.4" stroke="#111111"/>
<path d="M730,536.7 L736.8,538.2 L741.8,539.7 L745.8,540.2 L750,541.9 L754.9,542.9 L761.7,565.5 L767.4,544.8 L773.3,546.1 L777,548 L781.9,556.2 L785.7,563.8 L789.5,553.5 L793.3,572.9 L797.1,551.2 L803.8,555.9 L810.7,554.3 L815.4,564.6 L821.1,556.5 L827.6,578.9 L832.2,569.4 L838.2,560.5 L845.2,601.4 L849.9,563.3 L856.5,570.7 L861.8,590.6 L868.3,691.5 L872.4,594.6 L876.9,590 L883.7,571.1 L888.2,720 L892.8,572.5 L899,609.5 L903.2,720 L907.5,574.9 L914,590.8 L920.6,577 L927.5,593.3 L933.5,585.4 L940.2,578.3 L944.8,578.2 L951.8,578.1 L956.2,720 L960.9,692.1 L965.2,701.1 L971.5,577.7 L975.7,626.1 L982.4,601 L988.8,576.1 L993.9,601.9 L998.7,720 L1003,595.2 L1007.4,654.2 L1011.1,583.1 L1016.1,571.7 L1021.7,665.4 L1028.6,720 L1034.9,642.3 L1039.7,567.6 L1043.3,582.1 L1047.8,629 L1051.8,566 L1056.8,564.7 L1063.3,613.5 L1068.6,634.4 L1075.6,582.4 L1082.6,572.9 L1086.1,563 L1090,558.9 L1095.6,557 L1102.4,568.9 L1106.2,555.3 L1110.7,558 L1115.4,553.8 L1120.4,518.9 L1123.6,504 L1124.1,79 L1199,79 L898.8,79 L883.8,82.7 L870,86.1 L857.3,90.6 L845.6,95.8 L834.9,98.8 L825,103.3 L815.9,107.7 L807.5,111.6 L799.8,116.3 L792.8,119.4 L786.2,123 L780.2,127.9 L774.7,131.8 L769.7,137.5 L765,141.4 L760.7,146.8 L756.8,152.2 L753.1,157.5 L749.8,162.5 L746.7,168.8 L743.9,176 L741.7,182.6 L741.7,544.8" stroke="#d64fa0"/>
<path d="M730,543.9 L736,545.2 L742.5,546.8 L748.1,547.8 L751.7,550.1 L758.1,557 L763.2,551.1 L769.6,560.6 L776,553.8 L781.7,555.1 L786.7,556.2 L793.3,557.6 L798,558.7 L804.5,560.1 L809.1,562.5 L813.5,598.5 L819.8,583.5 L826.4,585.1 L830.1,574.7 L834.3,566.7 L838,608.6 L841.8,568.5 L847.5,569.9 L852.2,589.6 L858,572.4 L862.9,720 L868.6,621.1 L874.7,634.4 L878.2,581.1 L884.9,578.5 L890.2,579.3 L895.9,693 L899.9,720 L905.9,658.9 L910.6,582.6 L917.2,583.6 L921.8,602.7 L927,665.2 L931.7,609.5 L937.2,720 L941,585.5 L945.7,588.1 L950.9,585.3 L955.9,594.3 L960.8,599.9 L967.8,720 L974.1,584.8 L978.7,685.4 L983.4,644.2 L988.7,583.3 L995.3,649.8 L1000.3,581.4 L1004.2,720 L1008.6,720 L1012.2,579.5 L1017,720 L1020.5,578.3 L1025.4,650.1 L1031.7,685.7 L1038,702.6 L1043,717.6 L1049,662.1 L1055.5,614.2 L1061.4,594.1 L1066.5,569.4 L1072.7,568.2 L1076.6,581.8 L1080.5,588.8 L1087.5,583.3 L1091.2,585.1 L1095.4,564.2 L1101.9,597.5 L1108.2,578 L1115,561.1 L1121.9,562.8 L1128.4,563.2 L1135,527.2 L1138.3,516.9 L1138.8,79 L1199,79 L1094.2,79 L1063.6,86.1 L1035.4,91.4 L1009.5,98.2 L985.6,104.6 L963.7,110.7 L943.5,115.5 L924.9,121.3 L907.8,126.9 L892.1,131.9 L877.6,135.7 L864.3,141.1 L852.1,147.2 L840.8,150.5 L830.5,156 L820.9,160.2 L812.2,165.1 L804.1,171 L803.8,170.1 L803.8,552.7" stroke="#39b54a"/>
<path d="M730,540.8 L735.8,542 L740.5,547 L745.8,545.7 L750.3,546.4 L755.7,546.8 L761.3,547.5 L766.1,563.2 L771.2,549.7 L777.3,552.2 L782.4,552.1 L788.9,553.5 L794.1,554.7 L799.8,555.9 L805.4,559 L810.2,584.9 L816.4,559.6 L822.2,601 L827.2,561.9 L833.9,563.5 L840.5,565.1 L845.4,601.3 L852.2,567.9 L856.3,597.4 L860.3,589.4 L866.8,610.7 L870.4,720 L874.3,573.2 L878.4,703.1 L882,577.9 L888.9,576.8 L894.3,576.9 L899.7,616 L904.1,720 L907.9,579 L912.5,587.8 L917.2,580.5 L923.4,581.5 L927,621.2 L932.1,583.3 L938,632.8 L943.3,720 L947.8,653.8 L951.7,704 L958,715.8 L963.5,581.9 L967.5,581.8 L971.8,581.7 L975.3,701.1 L982,647.1 L988.5,672.2 L995,716.5 L999.8,578.4 L1005.2,600.5 L1011,638.6 L1016.5,585.1 L1022.1,640.3 L1026.6,720 L1031.5,607.8 L1036.9,716.4 L1042.9,620.6 L1047.5,587.7 L1053.7,568.8 L1058.1,590.4 L1063.6,569.5 L1070.2,566.1 L1074.8,564.6 L1079.3,563.7 L1085.9,562.6 L1090.5,561.9 L1096.2,577.3 L1102.2,560 L1108.7,566.8 L1112.3,558.4 L1117.9,566.8 L1122.8,556.7 L1129,557.4 L1132.6,555.1 L1137.9,555.4 L1144.2,555.8 L1159.3,543.1 L1161.5,530.7 L1162,79 L1199,79 L1012.9,79 L988.8,83.6 L966.6,88.8 L946.1,94.7 L927.4,100.1 L910.1,105.7 L894.2,110.4 L879.5,113.7 L866.1,119.4 L853.7,123.1 L842.3,127.8 L831.8,132.7 L822.2,136.8 L813.3,142.8 L805.2,146.6 L797.7,151.1 L790.8,155.7 L784.4,161.1 L779.2,165.1 L779.2,556.6" stroke="#a0288c"/>
<path d="M730,541 L733.9,540.8 L738.9,541.9 L742.7,548 L746.9,545.5 L753,544.9 L759.8,546.4 L765,550.3 L771.4,548.9 L776.1,556.4 L782,560.3 L785.7,552 L792,553.4 L798.5,554.8 L805.2,584.8 L809.1,557.2 L815.1,558.5 L819,580.6 L824.5,583.8 L830,568.5 L835.9,563.2 L840.6,599.4 L845.9,565.6 L849.4,566.4 L854.6,567.7 L860.4,580.3 L867,712.6 L871.1,574.9 L876.3,664.3 L881.3,574 L887.6,614.7 L893.3,580.5 L900.1,630.1 L904.2,687.5 L908.6,586.2 L913.6,669.1 L917.8,641.2 L923.1,716.8 L929.3,720 L936.3,588.9 L941.9,581.5 L947.8,581.4 L952.7,605.8 L957.4,617 L961.3,581.1 L967.4,647.1 L972.9,580.9 L979.1,580.8 L983.5,679.7 L987.8,611.4 L994.4,641 L1000.2,669.7 L1004.5,576.9 L1009.8,720 L1016.8,574.9 L1020.5,720 L1025.7,585.6 L1031.5,572.5 L1035.4,684.2 L1042.1,719.9 L1047.4,598.2 L1052.5,600.9 L1059.2,584.8 L1064.6,565.8 L1070.5,564.7 L1075.7,563.6 L1079.9,598.9 L1084.5,615.8 L1090,561.2 L1096.3,560.2 L1117.2,510.1 L1120.8,504.3 L1121.3,79 L1199,79 L1116.1,79 L1083.7,86.9 L1053.9,93.6 L1026.5,100.1 L1001.3,106.4 L978.1,111.2 L956.7,116.4 L937.1,123.5 L919,127.9 L902.4,134.3 L887.1,139.5 L873.1,144.3 L860.1,148.4 L848.2,153.7 L837.3,158.9 L827.2,163.5 L817.9,168.2 L813,170.9 L813,561.3" stroke="#2e5cb8"/>
<path d="M730,542.7 L735.9,547.9 L742.6,549.4 L749,547.3 L755.9,545.9 L761,549.6 L765.2,548.3 L771.7,549.3 L776.3,555.8 L782.6,551.7 L789.4,553.2 L794.6,554.3 L799.2,567.5 L802.8,589.1 L807.9,559.8 L813.4,560.1 L817.3,559.3 L821.1,578.6 L825.1,569.7 L830.5,562.2 L837.3,575.7 L841.4,604.9 L845.8,605.4 L850.9,567.1 L855.6,573.9 L860,576.6 L864.3,592.9 L868.6,637.6 L873.4,720 L877.3,573.4 L880.9,574.2 L885.4,574.9 L890.8,639.5 L897.5,589.7 L902.6,575.5 L908.9,593.6 L914.1,585.4 L918.6,582.3 L925.2,578.5 L931.9,593.6 L936.8,576.2 L941.5,602.4 L945,571.6 L948.6,599.8 L952.7,586.5 L958.2,577 L962.3,574.6 L966.5,572.2 L970.2,570.1 L975.3,590.2 L982.1,588.3 L988.2,583.7 L993.7,565.1 L998.9,581.3 L1004,557.1 L1010.8,550.2 L1014.9,572.6 L1021.3,550.5 L1026.1,546.5 L1032.9,575.6 L1037,546 L1043.9,541.1 L1047.4,572 L1051.4,537.8 L1056.6,542.9 L1063.5,537.9 L1067.6,529.3 L1073.9,527.2 L1080.8,539.4 L1087.5,529.4 L1092.7,528 L1097.6,522.6 L1102.8,522.8 L1106.8,524.6 L1113.5,526.3 L1118.5,526.6 L1131.1,493.1 L1132.8,486.4 L1133.3,79 L1199,79 L912.8,79 L896.7,82.8 L881.9,88.2 L868.2,90.4 L855.7,94.8 L844.1,99.9 L833.5,104.6 L823.7,108.8 L814.7,113.2 L806.5,116.4 L798.9,121.9 L791.9,124.5 L785.4,129.8 L779.5,134.2 L774,138.4 L769,143.9 L764.4,149.2 L760.2,154.6 L756.3,159.1 L753.9,163.4 L753.9,551.2" stroke="#007a3d"/>
<path d="M730,548 L736,542.3 L742.6,543.9 L748.4,545.6 L753.3,546.1 L757,547.4 L762,550.3 L767.2,553 L773.1,553.7 L777.7,551.4 L783.6,557.9 L789,559 L793.3,554.8 L799.5,591.6 L805,557.3 L808.6,598.3 L813,561.4 L819.1,578.1 L824.7,567.9 L829,577.3 L835.4,564.1 L840.9,565.5 L845.6,596.2 L851,586.3 L854.6,572.8 L859.3,569.9 L865.2,656.6 L870,572.5 L875.9,573.9 L882,720 L887.9,607.9 L893,625.8 L897.8,666.3 L903.4,720 L908.4,579.4 L912.4,658.2 L917.5,580.8 L923.8,581.9 L928.1,595.2 L933.7,634.5 L940.5,582.6 L947.4,653.7 L953.5,582.4 L958,582.3 L962.5,720 L967.7,709.6 L973,582 L977.3,581.9 L984.3,650 L990.6,720 L997,602.3 L1003,598.3 L1008.6,577.3 L1014.9,618.2 L1021,626.4 L1027.8,574.2 L1034.3,573 L1040.2,576.5 L1045.5,645 L1050,576.8 L1055.6,569.3 L1059.8,610.9 L1066.4,613 L1071.2,571.1 L1090.8,536.4 L1093.9,530.2 L1094.4,79 L1199,79 L1014.9,79 L990.6,84 L968.2,90.3 L947.7,95.8 L928.8,100.2 L911.4,105.5 L895.4,112.1 L880.7,116.9 L867.1,121.8 L854.7,125.7 L843.2,131.4 L832.6,135.5 L822.9,141.5 L814,145.7 L805.8,151.4 L798.2,155 L791.3,160.3 L784.9,165.3 L779,171.7 L773.6,177 L772.7,177.4 L772.7,557.1" stroke="#b0308f"/>
<path d="M730,538.1 L735.6,542.2 L741.8,540.6 L747.7,541.9 L753.3,543.1 L758.9,547.3 L764.7,562 L769.7,558.5 L775.2,552 L780.2,548.9 L785,561.4 L789.9,564 L793.5,560.3 L797.5,552.7 L802.3,568 L808.6,555.1 L812.6,567.1 L816.6,575.2 L823.2,587.2 L827.5,582.5 L831.5,576.4 L837.1,643.6 L841.3,610.9 L845.9,563.6 L852.1,595.3 L857.5,566.4 L862.8,567.7 L868.5,720 L874.8,720 L880.4,669 L886.5,641.9 L892.4,619.2 L899.2,574.9 L905.7,575.9 L910,720 L914.7,577.4 L921.2,720 L925.1,720 L931,720 L936.8,720 L943,583.7 L947.4,720 L952.3,665 L956.9,586.1 L960.8,617.1 L965.2,579.1 L972,717.1 L976.8,578.9 L980.9,720 L984.6,647.3 L988.3,577.5 L994.5,645 L1001.4,720 L1008.2,574.3 L1011.9,573.7 L1016.1,670.9 L1020.7,599 L1027.3,571.3 L1032.4,701.7 L1037.9,651.4 L1041.5,653.5 L1045.6,684 L1050.8,637.7 L1055.6,565.7 L1059.6,573.2 L1064.5,563.9 L1068.2,563.2 L1073.8,598.5 L1080.2,560.8 L1084.4,560.1 L1089,578.5 L1094.5,558.5 L1098.9,567 L1113.8,508.8 L1116.3,501.6 L1116.8,79 L1199,79 L984.9,79 L963,82.8 L942.9,88.7 L924.4,93.5 L907.3,96.7 L891.6,102.3 L877.2,106 L864,110.2 L851.7,115.9 L840.5,120.3 L830.2,124.3 L820.7,127.6 L811.9,133.2 L803.9,137.8 L796.5,142 L789.7,146 L783.4,150.7 L777.6,154.2 L772.3,158.4 L767.4,164.2 L766.9,163.9 L766.9,556.5" stroke="#007a3d"/>
<path d="M730,539.8 L736.1,546.8 L742.8,541.3 L746.8,543 L751.4,544.4 L757.3,544.4 L762,557.6 L766.7,547.7 L773,565.4 L776.8,561 L781.2,550.5 L785.6,550.6 L791.8,551.9 L798.4,560.5 L803,557.4 L807.3,557.9 L810.9,556.1 L816.7,560.1 L823.4,602.1 L827.1,595.8 L832.4,611.4 L838.3,579.3 L841.9,605 L848.3,578 L852.4,565.7 L857.5,613.2 L861.7,567.9 L868.4,569.6 L874.5,720 L878.1,720 L884.7,573.1 L891.3,690.2 L896.6,575 L902,714.6 L908.5,672.9 L914.3,587.9 L918,720 L925,615.6 L931.8,593.2 L936.3,720 L941.1,583.9 L945.3,591 L949.7,579.9 L955.5,616.8 L961.8,583.6 L966,711.1 L970,720 L974.7,683.2 L981.4,579.1 L985.2,578.5 L988.8,577.9 L994.1,577.1 L1000.6,720 L1007.1,681.3 L1013.1,575.4 L1018.1,720 L1021.8,572.6 L1027.3,571.8 L1032.1,653.8 L1038.7,681.3 L1044.8,568.4 L1050.3,573 L1053.9,566.6 L1059.8,565.4 L1066.7,564 L1072.9,628.9 L1090.6,560.6 L1094.6,546.3 L1095.1,79 L1199,79 L965.6,79 L945.3,84.8 L926.6,89.6 L909.4,93.6 L893.5,98.2 L878.9,102.8 L865.5,107.4 L853.2,111.9 L841.8,117.3 L831.4,122 L821.8,125.7 L813,130.8 L804.8,136.2 L797.4,140.3 L790.5,145.2 L784.1,151.2 L778.3,154.5 L773,160 L768,165.1 L763.5,171.5 L759.3,175.8 L755.5,183.5 L752,189.5 L748.7,194.9 L745.7,202.9 L744.2,206.3 L744.2,548.9" stroke="#7b5fb0"/>
<path d="M730,543.3 L736.8,544.1 L741,548.1 L747.6,545.7 L751.1,546.6 L757.6,547.8 L763.8,549.2 L769.5,552.9 L775.3,551.7 L780.7,555.2 L784.7,557.4 L791.5,555.2 L795.5,578.9 L801,560.3 L805.7,586.4 L812.3,559.8 L817.1,603.1 L824.1,562.5 L828.6,563.4 L833,601.9 L839.3,565.9 L845,570.7 L850.8,568.7 L855.9,609.5 L862.8,688.6 L868.7,687.9 L873.1,662.9 L878.2,656 L882.6,699.8 L886.5,654.7 L891.4,577.5 L898.3,606.9 L903.7,595.9 L907.9,720 L911.6,720 L915.8,645 L920.5,582.2 L924.1,582.7 L930.2,720 L934.5,583.6 L939.3,583.5 L945.8,583.4 L950.5,720 L956.1,592.6 L959.8,584 L966.5,694.8 L971.5,626.9 L977,686.3 L982.6,589.8 L987.3,720 L991.4,599.4 L995.5,580.2 L1000.8,673.7 L1005.3,578.6 L1009.2,578 L1015.5,720 L1021.5,720 L1025.2,703.2 L1029.3,636.7 L1033,574.1 L1038.1,573.1 L1045.1,571.7 L1051.5,571.4 L1055.9,569.5 L1061,587.1 L1066.3,567.6 L1070.9,611.5 L1076.4,570.1 L1080.1,564.7 L1085.6,563.8 L1089.4,563.2 L1095.9,562.1 L1100.2,561.4 L1107,585.1 L1111.9,559.6 L1115.9,561.7 L1122.4,562.6 L1128,557.6 L1138,517.5 L1139.8,511.1 L1140.3,79 L1199,79 L957,79 L937.4,83.5 L919.3,89 L902.6,92.1 L887.3,96.5 L873.3,101.2 L860.3,105.8 L848.4,111.1 L837.4,114.8 L827.3,119.2 L818.1,124.2 L809.5,128.5 L801.7,134.5 L794.4,137.5 L787.8,143.5 L781.7,148.1 L776,153.2 L770.9,158 L770.8,158.6 L770.8,548.1" stroke="#c8c8c8"/>
<path d="M730,535.6 L736.8,537.1 L741.4,538 L745.3,538.9 L750.3,540 L755.4,545.8 L759.7,542 L765.7,543.8 L770.2,544.3 L773.8,545 L779.5,547 L786,547.7 L791.5,576.1 L796.2,549.9 L801.9,552.6 L806.6,566.7 L811.9,555.1 L818.3,599.3 L824.4,556.1 L829.3,557.2 L833.8,558.3 L838.6,573 L842.9,560.5 L848.7,561.9 L852.6,569.7 L858.8,564.3 L863.2,670 L868,585 L872.6,567.6 L878.2,655.8 L883.8,603.3 L890.1,643.7 L895.3,720 L901.4,572.8 L907,720 L912,616.9 L915.8,575.1 L921.8,687.5 L925.5,576.6 L929.2,712.3 L933.6,577.3 L939,720 L944.1,651.6 L948.7,720 L953.5,696.6 L957.7,576.8 L961.3,595.1 L964.9,577.8 L969.5,576.6 L974.4,576.5 L980.9,576.2 L987.2,720 L993.8,617.1 L1000.1,573.1 L1005.5,720 L1012.3,586 L1018,587.3 L1024.1,663.9 L1030.3,720 L1034.2,585.1 L1040.5,566.8 L1047.2,634.4 L1072.3,563 L1074.7,553.6 L1075.2,79 L1199,79 L891.9,79 L877.4,83 L864.1,86.4 L851.9,91.4 L840.7,95.9 L830.3,100.5 L820.8,104.8 L812,108.3 L804,113.1 L800.5,115.6 L800.5,558.6" stroke="#8a8a8a"/>
<path d="M730,544.7 L736.7,546.1 L740.4,546.9 L747.3,548.4 L753.8,559.4 L760.7,551.3 L767,554.6 L771.7,570 L778.1,555.1 L782.1,561 L788.1,557.2 L794.2,559.4 L800,577.9 L806.7,561.3 L811.8,562.4 L816.1,563.4 L822.2,565 L825.7,565.5 L832.4,584.9 L836.3,568 L840,575.4 L845.4,570.1 L851.3,571.6 L856.4,572.8 L860.8,626.1 L865.1,706.6 L871.4,672.2 L878.2,720 L883.7,581.1 L887.4,691.6 L892.2,663.9 L899,703.5 L903.7,642.7 L909.6,691.8 L916.5,656.3 L922.8,590.4 L929.3,673.3 L932.8,600.2 L936.9,685.7 L941.3,720 L946.6,720 L953.2,693.9 L958,668.1 L963.7,702.5 L970.1,601.8 L975.9,585.5 L980.9,585.3 L985.6,584.6 L990.3,713 L994.6,583.1 L999.6,582.3 L1003.8,667.6 L1009.6,592.9 L1014.9,720 L1019.3,700.6 L1026.1,652.6 L1030.6,599.3 L1036.9,576.1 L1040.7,720 L1044.8,720 L1049,637.8 L1053,572.9 L1059.1,586.4 L1065.2,570.4 L1070,599.8 L1076.1,568.2 L1083,567 L1088,597.8 L1093.5,565.3 L1099.5,564.3 L1104.5,563.5 L1111.4,562.4 L1114.9,561.9 L1119.9,567.8 L1126.1,560.1 L1130.7,559.3 L1145.6,554.9 L1147.5,545.2 L1148,79 L1199,79 L992.9,79 L970.3,83.1 L949.6,88.4 L930.6,93.5 L913,96.9 L896.9,102.1 L882,105.3 L868.4,110.6 L855.8,115.4 L844.3,118.5 L833.6,124 L823.8,128.1 L814.8,130.8 L806.6,136.8 L798.9,140.9 L791.9,144.9 L785.5,148.2 L779.6,153.4 L774.1,158.1 L769.1,163.1 L764.5,167.4 L760.2,172.4 L756.8,176.8 L756.8,554.2" stroke="#ed1c24"/>
<path d="M730,543.8 L737,545.3 L742.3,546.5 L748.9,547.9 L755.1,549.2 L760.2,561.5 L765,551.4 L770,554.9 L774.4,559.5 L778.3,558.3 L783.2,555.3 L788.3,576.1 L792.1,558.5 L797.4,558.4 L802.8,559.6 L806.7,560.5 L813.2,561.9 L817,579.6 L821.8,563.8 L826.4,623.2 L831.2,565.9 L837.6,567.4 L843.7,653.5 L850.2,570.5 L856.9,598.5 L863.6,589.2 L869.6,720 L874.8,720 L879.1,581.7 L885.8,661.4 L890.8,637.3 L894.9,720 L900,720 L904.6,581.5 L909.3,582.3 L915.4,677.4 L920.1,584 L924.4,603.5 L930.2,720 L936.6,593.5 L940.2,657.3 L945.5,585.3 L949.4,691.7 L956.2,585.1 L963.1,685.3 L968,720 L972.2,647.4 L975.8,720 L979.6,601.1 L986.3,720 L992.5,582.6 L998.4,581.6 L1004.7,606.8 L1010.7,579.7 L1017,632.9 L1021.1,578 L1025.8,713.6 L1031.2,576.4 L1035.4,578.9 L1040.3,720 L1044.3,720 L1050.7,572.5 L1055.7,571.5 L1060.4,589.1 L1065,569.6 L1068.9,568.8 L1073.8,567.8 L1079.7,566.7 L1084.2,596.9 L1088.4,565.3 L1094.1,564.3 L1100.2,566.9 L1116.9,542.7 L1118.6,523.2 L1119.1,79 L1199,79 L874.2,79 L861.1,82.8 L849.2,85.9 L838.1,89.9 L828,95.1 L818.7,99.2 L810.1,101.7 L802.2,107 L794.9,111.3 L788.2,113.9 L782.1,118.5 L776.4,122.9 L771.2,128 L766.4,132.5 L762,137.5 L758,142.4 L754.2,149.2 L752.2,152.2 L752.2,553.4" stroke="#2e3192"/>
<path d="M730,539.9 L733.9,539.3 L738.4,542.2 L744,541.4 L750.3,542.8 L756.3,548 L761.3,545.2 L767.6,546.5 L771.3,550.6 L777.1,553 L783.7,550 L789,551.2 L795.7,552.7 L801,553.8 L807.8,555.3 L813.2,561.3 L819.8,569.1 L825.1,559.1 L829.9,572.2 L835.8,563.7 L839.9,564.2 L846.1,564.1 L849.8,565.1 L855.1,570.8 L861,614.5 L867.3,572.3 L872.5,628.9 L876.8,648.4 L881.4,720 L888.4,656.7 L892.7,720 L898.4,625.7 L902.7,714.7 L907.1,720 L913.3,577.5 L917.9,584.3 L921.8,578.9 L927.6,681.1 L934.5,663 L941.4,602.1 L945.8,720 L950.3,596.5 L957,720 L963,579.5 L968.6,647.8 L972.1,579.4 L978.1,579.2 L982.5,720 L986.6,578.1 L991.3,577.4 L997.8,576.4 L1004.2,575.3 L1008.7,642.1 L1013.3,573.9 L1017.9,623.7 L1023.3,572.3 L1027.5,571.6 L1031.4,677.9 L1038.4,600.9 L1044.8,580.4 L1049.8,630.2 L1055.8,630.7 L1061,568.8 L1065.3,610.1 L1070.2,563.2 L1075.4,636.1 L1080.4,561.1 L1084.5,574.6 L1090.4,588.5 L1094.8,558.8 L1098.5,558.2 L1103.8,603.6 L1107.3,569.6 L1113.8,555.8 L1118.9,584.5 L1123.2,554.3 L1127.9,553.9 L1133.9,554 L1140.6,551.4 L1144.1,550.7 L1147.6,550.1 L1156.1,488.9 L1158.3,482.2 L1158.8,79 L1199,79 L1111.4,79 L1079.4,85.9 L1049.9,91.9 L1022.8,99.1 L997.9,105.6 L975,111.8 L953.9,116.8 L934.5,123.9 L916.6,129.4 L900.2,134.4 L885.1,139.4 L871.2,145.1 L858.4,149.2 L846.7,155 L835.8,159.9 L825.9,164.3 L816.7,168.1 L808.3,173.3 L800.5,178.2 L795.1,181 L795.1,552" stroke="#008c4a"/>
</g>
<rect x="252" y="19" width="951" height="7" fill="#7d7d7d"/>
<rect x="252" y="19" width="6" height="700" fill="#7d7d7d"/>
<rect x="255.5" y="24" width="2.5" height="693" fill="#222"/>
<rect x="1197" y="19" width="6" height="702" fill="#7d7d7d"/>
<rect x="252" y="715" width="478" height="4.5" fill="#000"/>
<rect x="729" y="716" width="474" height="5" fill="#555"/>
<rect x="726" y="24" width="7" height="695" fill="#000"/>
<line x1="258" y1="693" x2="264" y2="693" stroke="#222" stroke-width="2.4"/>
<line x1="258" y1="678.9" x2="264" y2="678.9" stroke="#222" stroke-width="2.4"/>
<line x1="258" y1="669" x2="264" y2="669" stroke="#222" stroke-width="2.4"/>
<line x1="258" y1="661.3" x2="264" y2="661.3" stroke="#222" stroke-width="2.4"/>
<line x1="258" y1="654.9" x2="264" y2="654.9" stroke="#222" stroke-width="2.4"/>
<line x1="258" y1="649.6" x2="264" y2="649.6" stroke="#222" stroke-width="2.4"/>
<line x1="258" y1="645" x2="264" y2="645" stroke="#222" stroke-width="2.4"/>
<line x1="258" y1="640.9" x2="264" y2="640.9" stroke="#222" stroke-width="2.4"/>
<line x1="258" y1="637.2" x2="270" y2="637.2" stroke="#111" stroke-width="3"/>
<line x1="258" y1="613.2" x2="264" y2="613.2" stroke="#222" stroke-width="2.4"/>
<line x1="258" y1="599.2" x2="264" y2="599.2" stroke="#222" stroke-width="2.4"/>
<line x1="258" y1="589.2" x2="264" y2="589.2" stroke="#222" stroke-width="2.4"/>
<line x1="258" y1="581.5" x2="264" y2="581.5" stroke="#222" stroke-width="2.4"/>
<line x1="258" y1="575.2" x2="264" y2="575.2" stroke="#222" stroke-width="2.4"/>
<line x1="258" y1="569.9" x2="264" y2="569.9" stroke="#222" stroke-width="2.4"/>
<line x1="258" y1="565.2" x2="264" y2="565.2" stroke="#222" stroke-width="2.4"/>
<line x1="258" y1="561.1" x2="264" y2="561.1" stroke="#222" stroke-width="2.4"/>
<line x1="258" y1="557.5" x2="270" y2="557.5" stroke="#111" stroke-width="3"/>
<line x1="258" y1="533.5" x2="264" y2="533.5" stroke="#222" stroke-width="2.4"/>
<line x1="258" y1="519.4" x2="264" y2="519.4" stroke="#222" stroke-width="2.4"/>
<line x1="258" y1="509.5" x2="264" y2="509.5" stroke="#222" stroke-width="2.4"/>
<line x1="258" y1="501.8" x2="264" y2="501.8" stroke="#222" stroke-width="2.4"/>
<line x1="258" y1="495.4" x2="264" y2="495.4" stroke="#222" stroke-width="2.4"/>
<line x1="258" y1="490.1" x2="264" y2="490.1" stroke="#222" stroke-width="2.4"/>
<line x1="258" y1="485.5" x2="264" y2="485.5" stroke="#222" stroke-width="2.4"/>
<line x1="258" y1="481.4" x2="264" y2="481.4" stroke="#222" stroke-width="2.4"/>
<line x1="258" y1="477.8" x2="270" y2="477.8" stroke="#111" stroke-width="3"/>
<line x1="258" y1="453.7" x2="264" y2="453.7" stroke="#222" stroke-width="2.4"/>
<line x1="258" y1="439.7" x2="264" y2="439.7" stroke="#222" stroke-width="2.4"/>
<line x1="258" y1="429.7" x2="264" y2="429.7" stroke="#222" stroke-width="2.4"/>
<line x1="258" y1="422" x2="264" y2="422" stroke="#222" stroke-width="2.4"/>
<line x1="258" y1="415.7" x2="264" y2="415.7" stroke="#222" stroke-width="2.4"/>
<line x1="258" y1="410.4" x2="264" y2="410.4" stroke="#222" stroke-width="2.4"/>
<line x1="258" y1="405.7" x2="264" y2="405.7" stroke="#222" stroke-width="2.4"/>
<line x1="258" y1="401.6" x2="264" y2="401.6" stroke="#222" stroke-width="2.4"/>
<line x1="258" y1="398" x2="270" y2="398" stroke="#111" stroke-width="3"/>
<line x1="258" y1="374" x2="264" y2="374" stroke="#222" stroke-width="2.4"/>
<line x1="258" y1="359.9" x2="264" y2="359.9" stroke="#222" stroke-width="2.4"/>
<line x1="258" y1="350" x2="264" y2="350" stroke="#222" stroke-width="2.4"/>
<line x1="258" y1="342.3" x2="264" y2="342.3" stroke="#222" stroke-width="2.4"/>
<line x1="258" y1="335.9" x2="264" y2="335.9" stroke="#222" stroke-width="2.4"/>
<line x1="258" y1="330.6" x2="264" y2="330.6" stroke="#222" stroke-width="2.4"/>
<line x1="258" y1="326" x2="264" y2="326" stroke="#222" stroke-width="2.4"/>
<line x1="258" y1="321.9" x2="264" y2="321.9" stroke="#222" stroke-width="2.4"/>
<line x1="258" y1="318.2" x2="270" y2="318.2" stroke="#111" stroke-width="3"/>
<line x1="258" y1="294.2" x2="264" y2="294.2" stroke="#222" stroke-width="2.4"/>
<line x1="258" y1="280.2" x2="264" y2="280.2" stroke="#222" stroke-width="2.4"/>
<line x1="258" y1="270.2" x2="264" y2="270.2" stroke="#222" stroke-width="2.4"/>
<line x1="258" y1="262.5" x2="264" y2="262.5" stroke="#222" stroke-width="2.4"/>
<line x1="258" y1="256.2" x2="264" y2="256.2" stroke="#222" stroke-width="2.4"/>
<line x1="258" y1="250.9" x2="264" y2="250.9" stroke="#222" stroke-width="2.4"/>
<line x1="258" y1="246.2" x2="264" y2="246.2" stroke="#222" stroke-width="2.4"/>
<line x1="258" y1="242.1" x2="264" y2="242.1" stroke="#222" stroke-width="2.4"/>
<line x1="258" y1="238.5" x2="270" y2="238.5" stroke="#111" stroke-width="3"/>
<line x1="258" y1="214.5" x2="264" y2="214.5" stroke="#222" stroke-width="2.4"/>
<line x1="258" y1="200.4" x2="264" y2="200.4" stroke="#222" stroke-width="2.4"/>
<line x1="258" y1="190.5" x2="264" y2="190.5" stroke="#222" stroke-width="2.4"/>
<line x1="258" y1="182.8" x2="264" y2="182.8" stroke="#222" stroke-width="2.4"/>
<line x1="258" y1="176.4" x2="264" y2="176.4" stroke="#222" stroke-width="2.4"/>
<line x1="258" y1="171.1" x2="264" y2="171.1" stroke="#222" stroke-width="2.4"/>
<line x1="258" y1="166.5" x2="264" y2="166.5" stroke="#222" stroke-width="2.4"/>
<line x1="258" y1="162.4" x2="264" y2="162.4" stroke="#222" stroke-width="2.4"/>
<line x1="258" y1="158.8" x2="270" y2="158.8" stroke="#111" stroke-width="3"/>
<line x1="258" y1="134.7" x2="264" y2="134.7" stroke="#222" stroke-width="2.4"/>
<line x1="258" y1="120.7" x2="264" y2="120.7" stroke="#222" stroke-width="2.4"/>
<line x1="258" y1="110.7" x2="264" y2="110.7" stroke="#222" stroke-width="2.4"/>
<line x1="258" y1="103" x2="264" y2="103" stroke="#222" stroke-width="2.4"/>
<line x1="258" y1="96.7" x2="264" y2="96.7" stroke="#222" stroke-width="2.4"/>
<line x1="258" y1="91.4" x2="264" y2="91.4" stroke="#222" stroke-width="2.4"/>
<line x1="258" y1="86.7" x2="264" y2="86.7" stroke="#222" stroke-width="2.4"/>
<line x1="258" y1="82.6" x2="264" y2="82.6" stroke="#222" stroke-width="2.4"/>
<line x1="258" y1="79" x2="270" y2="79" stroke="#111" stroke-width="3"/>
<line x1="258" y1="55" x2="264" y2="55" stroke="#222" stroke-width="2.4"/>
<line x1="258" y1="40.9" x2="264" y2="40.9" stroke="#222" stroke-width="2.4"/>
<line x1="258" y1="31" x2="264" y2="31" stroke="#222" stroke-width="2.4"/>
<line x1="733" y1="693" x2="739" y2="693" stroke="#333" stroke-width="2.2"/>
<line x1="733" y1="678.9" x2="739" y2="678.9" stroke="#333" stroke-width="2.2"/>
<line x1="733" y1="669" x2="739" y2="669" stroke="#333" stroke-width="2.2"/>
<line x1="733" y1="661.3" x2="739" y2="661.3" stroke="#333" stroke-width="2.2"/>
<line x1="733" y1="654.9" x2="739" y2="654.9" stroke="#333" stroke-width="2.2"/>
<line x1="733" y1="649.6" x2="739" y2="649.6" stroke="#333" stroke-width="2.2"/>
<line x1="733" y1="645" x2="739" y2="645" stroke="#333" stroke-width="2.2"/>
<line x1="733" y1="640.9" x2="739" y2="640.9" stroke="#333" stroke-width="2.2"/>
<line x1="733" y1="637.2" x2="745" y2="637.2" stroke="#222" stroke-width="2.8"/>
<line x1="733" y1="613.2" x2="739" y2="613.2" stroke="#333" stroke-width="2.2"/>
<line x1="733" y1="599.2" x2="739" y2="599.2" stroke="#333" stroke-width="2.2"/>
<line x1="733" y1="589.2" x2="739" y2="589.2" stroke="#333" stroke-width="2.2"/>
<line x1="733" y1="581.5" x2="739" y2="581.5" stroke="#333" stroke-width="2.2"/>
<line x1="733" y1="575.2" x2="739" y2="575.2" stroke="#333" stroke-width="2.2"/>
<line x1="733" y1="569.9" x2="739" y2="569.9" stroke="#333" stroke-width="2.2"/>
<line x1="733" y1="565.2" x2="739" y2="565.2" stroke="#333" stroke-width="2.2"/>
<line x1="733" y1="561.1" x2="739" y2="561.1" stroke="#333" stroke-width="2.2"/>
<line x1="733" y1="557.5" x2="745" y2="557.5" stroke="#222" stroke-width="2.8"/>
<line x1="733" y1="533.5" x2="739" y2="533.5" stroke="#333" stroke-width="2.2"/>
<line x1="733" y1="519.4" x2="739" y2="519.4" stroke="#333" stroke-width="2.2"/>
<line x1="733" y1="509.5" x2="739" y2="509.5" stroke="#333" stroke-width="2.2"/>
<line x1="733" y1="501.8" x2="739" y2="501.8" stroke="#333" stroke-width="2.2"/>
<line x1="733" y1="495.4" x2="739" y2="495.4" stroke="#333" stroke-width="2.2"/>
<line x1="733" y1="490.1" x2="739" y2="490.1" stroke="#333" stroke-width="2.2"/>
<line x1="733" y1="485.5" x2="739" y2="485.5" stroke="#333" stroke-width="2.2"/>
<line x1="733" y1="481.4" x2="739" y2="481.4" stroke="#333" stroke-width="2.2"/>
<line x1="733" y1="477.8" x2="745" y2="477.8" stroke="#222" stroke-width="2.8"/>
<line x1="733" y1="453.7" x2="739" y2="453.7" stroke="#333" stroke-width="2.2"/>
<line x1="733" y1="439.7" x2="739" y2="439.7" stroke="#333" stroke-width="2.2"/>
<line x1="733" y1="429.7" x2="739" y2="429.7" stroke="#333" stroke-width="2.2"/>
<line x1="733" y1="422" x2="739" y2="422" stroke="#333" stroke-width="2.2"/>
<line x1="733" y1="415.7" x2="739" y2="415.7" stroke="#333" stroke-width="2.2"/>
<line x1="733" y1="410.4" x2="739" y2="410.4" stroke="#333" stroke-width="2.2"/>
<line x1="733" y1="405.7" x2="739" y2="405.7" stroke="#333" stroke-width="2.2"/>
<line x1="733" y1="401.6" x2="739" y2="401.6" stroke="#333" stroke-width="2.2"/>
<line x1="733" y1="398" x2="745" y2="398" stroke="#222" stroke-width="2.8"/>
<line x1="733" y1="374" x2="739" y2="374" stroke="#333" stroke-width="2.2"/>
<line x1="733" y1="359.9" x2="739" y2="359.9" stroke="#333" stroke-width="2.2"/>
<line x1="733" y1="350" x2="739" y2="350" stroke="#333" stroke-width="2.2"/>
<line x1="733" y1="342.3" x2="739" y2="342.3" stroke="#333" stroke-width="2.2"/>
<line x1="733" y1="335.9" x2="739" y2="335.9" stroke="#333" stroke-width="2.2"/>
<line x1="733" y1="330.6" x2="739" y2="330.6" stroke="#333" stroke-width="2.2"/>
<line x1="733" y1="326" x2="739" y2="326" stroke="#333" stroke-width="2.2"/>
<line x1="733" y1="321.9" x2="739" y2="321.9" stroke="#333" stroke-width="2.2"/>
<line x1="733" y1="318.2" x2="745" y2="318.2" stroke="#222" stroke-width="2.8"/>
<line x1="733" y1="294.2" x2="739" y2="294.2" stroke="#333" stroke-width="2.2"/>
<line x1="733" y1="280.2" x2="739" y2="280.2" stroke="#333" stroke-width="2.2"/>
<line x1="733" y1="270.2" x2="739" y2="270.2" stroke="#333" stroke-width="2.2"/>
<line x1="733" y1="262.5" x2="739" y2="262.5" stroke="#333" stroke-width="2.2"/>
<line x1="733" y1="256.2" x2="739" y2="256.2" stroke="#333" stroke-width="2.2"/>
<line x1="733" y1="250.9" x2="739" y2="250.9" stroke="#333" stroke-width="2.2"/>
<line x1="733" y1="246.2" x2="739" y2="246.2" stroke="#333" stroke-width="2.2"/>
<line x1="733" y1="242.1" x2="739" y2="242.1" stroke="#333" stroke-width="2.2"/>
<line x1="733" y1="238.5" x2="745" y2="238.5" stroke="#222" stroke-width="2.8"/>
<line x1="733" y1="214.5" x2="739" y2="214.5" stroke="#333" stroke-width="2.2"/>
<line x1="733" y1="200.4" x2="739" y2="200.4" stroke="#333" stroke-width="2.2"/>
<line x1="733" y1="190.5" x2="739" y2="190.5" stroke="#333" stroke-width="2.2"/>
<line x1="733" y1="182.8" x2="739" y2="182.8" stroke="#333" stroke-width="2.2"/>
<line x1="733" y1="176.4" x2="739" y2="176.4" stroke="#333" stroke-width="2.2"/>
<line x1="733" y1="171.1" x2="739" y2="171.1" stroke="#333" stroke-width="2.2"/>
<line x1="733" y1="166.5" x2="739" y2="166.5" stroke="#333" stroke-width="2.2"/>
<line x1="733" y1="162.4" x2="739" y2="162.4" stroke="#333" stroke-width="2.2"/>
<line x1="733" y1="158.8" x2="745" y2="158.8" stroke="#222" stroke-width="2.8"/>
<line x1="733" y1="134.7" x2="739" y2="134.7" stroke="#333" stroke-width="2.2"/>
<line x1="733" y1="120.7" x2="739" y2="120.7" stroke="#333" stroke-width="2.2"/>
<line x1="733" y1="110.7" x2="739" y2="110.7" stroke="#333" stroke-width="2.2"/>
<line x1="733" y1="103" x2="739" y2="103" stroke="#333" stroke-width="2.2"/>
<line x1="733" y1="96.7" x2="739" y2="96.7" stroke="#333" stroke-width="2.2"/>
<line x1="733" y1="91.4" x2="739" y2="91.4" stroke="#333" stroke-width="2.2"/>
<line x1="733" y1="86.7" x2="739" y2="86.7" stroke="#333" stroke-width="2.2"/>
<line x1="733" y1="82.6" x2="739" y2="82.6" stroke="#333" stroke-width="2.2"/>
<line x1="733" y1="79" x2="745" y2="79" stroke="#222" stroke-width="2.8"/>
<line x1="733" y1="55" x2="739" y2="55" stroke="#333" stroke-width="2.2"/>
<line x1="733" y1="40.9" x2="739" y2="40.9" stroke="#333" stroke-width="2.2"/>
<line x1="733" y1="31" x2="739" y2="31" stroke="#333" stroke-width="2.2"/>
<text font-size="61.1" text-anchor="end" fill="#000" transform="translate(240 738.6) scale(0.95 1)">10<tspan dx="2" dy="-29" font-size="37.3">-12</tspan></text>
<text font-size="61.1" text-anchor="end" fill="#000" transform="translate(240 658.9) scale(0.95 1)">10<tspan dx="2" dy="-29" font-size="37.3">-11</tspan></text>
<text font-size="61.1" text-anchor="end" fill="#000" transform="translate(240 579.1) scale(0.95 1)">10<tspan dx="2" dy="-29" font-size="37.3">-10</tspan></text>
<text font-size="61.1" text-anchor="end" fill="#000" transform="translate(240 499.4) scale(0.95 1)">10<tspan dx="2" dy="-29" font-size="37.3">-9</tspan></text>
<text font-size="61.1" text-anchor="end" fill="#000" transform="translate(240 419.6) scale(0.95 1)">10<tspan dx="2" dy="-29" font-size="37.3">-8</tspan></text>
<text font-size="61.1" text-anchor="end" fill="#000" transform="translate(240 339.9) scale(0.95 1)">10<tspan dx="2" dy="-29" font-size="37.3">-7</tspan></text>
<text font-size="61.1" text-anchor="end" fill="#000" transform="translate(240 260.1) scale(0.95 1)">10<tspan dx="2" dy="-29" font-size="37.3">-6</tspan></text>
<text font-size="61.1" text-anchor="end" fill="#000" transform="translate(240 180.3) scale(0.95 1)">10<tspan dx="2" dy="-29" font-size="37.3">-5</tspan></text>
<text font-size="61.1" text-anchor="end" fill="#000" transform="translate(240 100.6) scale(0.95 1)">10<tspan dx="2" dy="-29" font-size="37.3">-4</tspan></text>
<text font-size="61.1" text-anchor="middle" fill="#000" transform="translate(256 778) scale(0.95 1)">0</text>
<line x1="302.4" y1="715" x2="302.4" y2="709" stroke="#111" stroke-width="3"/>
<line x1="349.9" y1="715" x2="349.9" y2="703" stroke="#111" stroke-width="3"/>
<text font-size="61.1" text-anchor="middle" fill="#000" transform="translate(350.9 778) scale(0.95 1)">0.2</text>
<line x1="397.4" y1="715" x2="397.4" y2="709" stroke="#111" stroke-width="3"/>
<line x1="444.8" y1="715" x2="444.8" y2="703" stroke="#111" stroke-width="3"/>
<text font-size="61.1" text-anchor="middle" fill="#000" transform="translate(445.8 778) scale(0.95 1)">0.4</text>
<line x1="492.2" y1="715" x2="492.2" y2="709" stroke="#111" stroke-width="3"/>
<line x1="539.7" y1="715" x2="539.7" y2="703" stroke="#111" stroke-width="3"/>
<text font-size="61.1" text-anchor="middle" fill="#000" transform="translate(540.7 778) scale(0.95 1)">0.6</text>
<line x1="587.1" y1="715" x2="587.1" y2="709" stroke="#111" stroke-width="3"/>
<line x1="634.6" y1="715" x2="634.6" y2="703" stroke="#111" stroke-width="3"/>
<text font-size="61.1" text-anchor="middle" fill="#000" transform="translate(635.6 778) scale(0.95 1)">0.8</text>
<line x1="682" y1="715" x2="682" y2="709" stroke="#111" stroke-width="3"/>
<text font-size="61.1" text-anchor="middle" fill="#000" transform="translate(732 778) scale(0.95 1)">0</text>
<line x1="776.1" y1="716" x2="776.1" y2="710" stroke="#444" stroke-width="3"/>
<line x1="823.2" y1="716" x2="823.2" y2="704" stroke="#444" stroke-width="3"/>
<text font-size="61.1" text-anchor="middle" fill="#000" transform="translate(823.2 778) scale(0.95 1)">0.2</text>
<line x1="870.3" y1="716" x2="870.3" y2="710" stroke="#444" stroke-width="3"/>
<line x1="917.4" y1="716" x2="917.4" y2="704" stroke="#444" stroke-width="3"/>
<text font-size="61.1" text-anchor="middle" fill="#000" transform="translate(917.4 778) scale(0.95 1)">0.4</text>
<line x1="964.5" y1="716" x2="964.5" y2="710" stroke="#444" stroke-width="3"/>
<line x1="1011.6" y1="716" x2="1011.6" y2="704" stroke="#444" stroke-width="3"/>
<text font-size="61.1" text-anchor="middle" fill="#000" transform="translate(1011.6 778) scale(0.95 1)">0.6</text>
<line x1="1058.7" y1="716" x2="1058.7" y2="710" stroke="#444" stroke-width="3"/>
<line x1="1105.8" y1="716" x2="1105.8" y2="704" stroke="#444" stroke-width="3"/>
<text font-size="61.1" text-anchor="middle" fill="#000" transform="translate(1105.8 778) scale(0.95 1)">0.8</text>
<line x1="1152.9" y1="716" x2="1152.9" y2="710" stroke="#444" stroke-width="3"/>
<text font-size="61.1" text-anchor="middle" fill="#000" transform="translate(1200 778) scale(0.95 1)">1.0</text>
<text font-size="59" text-anchor="middle" font-weight="bold" fill="#000" transform="translate(110 411.5) rotate(-90) scale(0.965 1)">Current (A)</text>
<text font-size="60" text-anchor="middle" font-weight="bold" fill="#000" transform="translate(706 857.5) scale(0.965 1)">Voltage (V)</text>
<text font-size="78.7" text-anchor="middle" font-weight="bold" fill="#000" transform="translate(229 838.5) scale(1.0 1)">(a)</text>
</g>
<g id="panel-b">
<polygon points="2088.2,659.8 2110.2,695.3 2066.2,695.3" fill="#ff1e24"/>
<polygon points="2097.2,653.5 2119.2,689 2075.2,689" fill="#ff1e24"/>
<polygon points="2106.3,647.1 2128.3,682.6 2084.3,682.6" fill="#ff1e24"/>
<polygon points="2115.4,640.8 2137.4,676.3 2093.4,676.3" fill="#ff1e24"/>
<polygon points="2124.4,634.4 2146.4,669.9 2102.4,669.9" fill="#ff1e24"/>
<polygon points="2133.5,628.1 2155.5,663.6 2111.5,663.6" fill="#ff1e24"/>
<polygon points="2142.6,621.7 2164.6,657.2 2120.6,657.2" fill="#ff1e24"/>
<polygon points="2142.6,615.4 2164.6,650.9 2120.6,650.9" fill="#ff1e24"/>
<polygon points="2151.7,609 2173.7,644.5 2129.7,644.5" fill="#ff1e24"/>
<polygon points="2151.7,602.7 2173.7,638.2 2129.7,638.2" fill="#ff1e24"/>
<polygon points="2160.7,596.3 2182.7,631.8 2138.7,631.8" fill="#ff1e24"/>
<polygon points="2160.7,590 2182.7,625.5 2138.7,625.5" fill="#ff1e24"/>
<polygon points="2169.8,583.6 2191.8,619.1 2147.8,619.1" fill="#ff1e24"/>
<polygon points="2169.8,577.3 2191.8,612.8 2147.8,612.8" fill="#ff1e24"/>
<polygon points="2169.8,570.9 2191.8,606.4 2147.8,606.4" fill="#ff1e24"/>
<polygon points="2178.9,564.6 2200.9,600.1 2156.9,600.1" fill="#ff1e24"/>
<polygon points="2178.9,558.2 2200.9,593.7 2156.9,593.7" fill="#ff1e24"/>
<polygon points="2178.9,551.9 2200.9,587.4 2156.9,587.4" fill="#ff1e24"/>
<polygon points="2178.9,545.5 2200.9,581 2156.9,581" fill="#ff1e24"/>
<polygon points="2187.9,539.2 2209.9,574.7 2165.9,574.7" fill="#ff1e24"/>
<polygon points="2187.9,532.8 2209.9,568.3 2165.9,568.3" fill="#ff1e24"/>
<polygon points="2187.9,526.5 2209.9,562 2165.9,562" fill="#ff1e24"/>
<polygon points="2187.9,520.1 2209.9,555.6 2165.9,555.6" fill="#ff1e24"/>
<polygon points="2197,513.8 2219,549.3 2175,549.3" fill="#ff1e24"/>
<polygon points="2197,507.4 2219,542.9 2175,542.9" fill="#ff1e24"/>
<polygon points="2197,501.1 2219,536.6 2175,536.6" fill="#ff1e24"/>
<polygon points="2197,494.7 2219,530.2 2175,530.2" fill="#ff1e24"/>
<polygon points="2197,488.4 2219,523.9 2175,523.9" fill="#ff1e24"/>
<polygon points="2206.1,482 2228.1,517.5 2184.1,517.5" fill="#ff1e24"/>
<polygon points="2206.1,475.7 2228.1,511.2 2184.1,511.2" fill="#ff1e24"/>
<polygon points="2206.1,469.3 2228.1,504.8 2184.1,504.8" fill="#ff1e24"/>
<polygon points="2206.1,463 2228.1,498.5 2184.1,498.5" fill="#ff1e24"/>
<polygon points="2206.1,456.6 2228.1,492.1 2184.1,492.1" fill="#ff1e24"/>
<polygon points="2206.1,450.3 2228.1,485.8 2184.1,485.8" fill="#ff1e24"/>
<polygon points="2215.1,443.9 2237.1,479.4 2193.1,479.4" fill="#ff1e24"/>
<polygon points="2215.1,437.6 2237.1,473.1 2193.1,473.1" fill="#ff1e24"/>
<polygon points="2215.1,431.2 2237.1,466.7 2193.1,466.7" fill="#ff1e24"/>
<polygon points="2215.1,424.9 2237.1,460.4 2193.1,460.4" fill="#ff1e24"/>
<polygon points="2215.1,418.5 2237.1,454 2193.1,454" fill="#ff1e24"/>
<polygon points="2224.2,412.2 2246.2,447.7 2202.2,447.7" fill="#ff1e24"/>
<polygon points="2224.2,405.8 2246.2,441.3 2202.2,441.3" fill="#ff1e24"/>
<polygon points="2224.2,399.5 2246.2,435 2202.2,435" fill="#ff1e24"/>
<polygon points="2224.2,393.1 2246.2,428.6 2202.2,428.6" fill="#ff1e24"/>
<polygon points="2224.2,386.8 2246.2,422.3 2202.2,422.3" fill="#ff1e24"/>
<polygon points="2233.3,380.4 2255.3,415.9 2211.3,415.9" fill="#ff1e24"/>
<polygon points="2233.3,374.1 2255.3,409.6 2211.3,409.6" fill="#ff1e24"/>
<polygon points="2233.3,367.7 2255.3,403.2 2211.3,403.2" fill="#ff1e24"/>
<polygon points="2233.3,361.4 2255.3,396.9 2211.3,396.9" fill="#ff1e24"/>
<polygon points="2233.3,355 2255.3,390.5 2211.3,390.5" fill="#ff1e24"/>
<polygon points="2233.3,348.7 2255.3,384.2 2211.3,384.2" fill="#ff1e24"/>
<polygon points="2233.3,342.3 2255.3,377.8 2211.3,377.8" fill="#ff1e24"/>
<polygon points="2233.3,336 2255.3,371.5 2211.3,371.5" fill="#ff1e24"/>
<polygon points="2233.3,329.6 2255.3,365.1 2211.3,365.1" fill="#ff1e24"/>
<polygon points="2242.4,323.3 2264.4,358.8 2220.4,358.8" fill="#ff1e24"/>
<polygon points="2242.4,316.9 2264.4,352.4 2220.4,352.4" fill="#ff1e24"/>
<polygon points="2242.4,310.6 2264.4,346.1 2220.4,346.1" fill="#ff1e24"/>
<polygon points="2242.4,304.2 2264.4,339.7 2220.4,339.7" fill="#ff1e24"/>
<polygon points="2242.4,297.9 2264.4,333.4 2220.4,333.4" fill="#ff1e24"/>
<polygon points="2242.4,291.5 2264.4,327 2220.4,327" fill="#ff1e24"/>
<polygon points="2242.4,285.2 2264.4,320.7 2220.4,320.7" fill="#ff1e24"/>
<polygon points="2242.4,278.8 2264.4,314.3 2220.4,314.3" fill="#ff1e24"/>
<polygon points="2242.4,272.5 2264.4,308 2220.4,308" fill="#ff1e24"/>
<polygon points="2242.4,266.1 2264.4,301.6 2220.4,301.6" fill="#ff1e24"/>
<polygon points="2251.4,259.8 2273.4,295.3 2229.4,295.3" fill="#ff1e24"/>
<polygon points="2251.4,253.4 2273.4,288.9 2229.4,288.9" fill="#ff1e24"/>
<polygon points="2251.4,247.1 2273.4,282.6 2229.4,282.6" fill="#ff1e24"/>
<polygon points="2251.4,240.7 2273.4,276.2 2229.4,276.2" fill="#ff1e24"/>
<polygon points="2251.4,234.4 2273.4,269.9 2229.4,269.9" fill="#ff1e24"/>
<polygon points="2251.4,228 2273.4,263.5 2229.4,263.5" fill="#ff1e24"/>
<polygon points="2251.4,221.7 2273.4,257.2 2229.4,257.2" fill="#ff1e24"/>
<polygon points="2260.5,215.3 2282.5,250.8 2238.5,250.8" fill="#ff1e24"/>
<polygon points="2260.5,209 2282.5,244.5 2238.5,244.5" fill="#ff1e24"/>
<polygon points="2260.5,202.6 2282.5,238.1 2238.5,238.1" fill="#ff1e24"/>
<polygon points="2260.5,196.3 2282.5,231.8 2238.5,231.8" fill="#ff1e24"/>
<polygon points="2260.5,189.9 2282.5,225.4 2238.5,225.4" fill="#ff1e24"/>
<polygon points="2269.6,183.6 2291.6,219.1 2247.6,219.1" fill="#ff1e24"/>
<polygon points="2269.6,177.2 2291.6,212.7 2247.6,212.7" fill="#ff1e24"/>
<polygon points="2269.6,170.9 2291.6,206.4 2247.6,206.4" fill="#ff1e24"/>
<polygon points="2269.6,164.5 2291.6,200 2247.6,200" fill="#ff1e24"/>
<polygon points="2269.6,158.2 2291.6,193.7 2247.6,193.7" fill="#ff1e24"/>
<polygon points="2269.6,151.8 2291.6,187.3 2247.6,187.3" fill="#ff1e24"/>
<polygon points="2278.6,145.5 2300.6,181 2256.6,181" fill="#ff1e24"/>
<polygon points="2278.6,139.1 2300.6,174.6 2256.6,174.6" fill="#ff1e24"/>
<polygon points="2278.6,132.8 2300.6,168.3 2256.6,168.3" fill="#ff1e24"/>
<polygon points="2278.6,126.4 2300.6,161.9 2256.6,161.9" fill="#ff1e24"/>
<polygon points="2278.6,120.1 2300.6,155.6 2256.6,155.6" fill="#ff1e24"/>
<polygon points="2278.6,113.7 2300.6,149.2 2256.6,149.2" fill="#ff1e24"/>
<polygon points="2287.7,107.4 2309.7,142.9 2265.7,142.9" fill="#ff1e24"/>
<polygon points="2287.7,101 2309.7,136.5 2265.7,136.5" fill="#ff1e24"/>
<polygon points="2287.7,94.7 2309.7,130.2 2265.7,130.2" fill="#ff1e24"/>
<polygon points="2287.7,88.3 2309.7,123.8 2265.7,123.8" fill="#ff1e24"/>
<polygon points="2287.7,82 2309.7,117.5 2265.7,117.5" fill="#ff1e24"/>
<polygon points="2296.8,75.6 2318.8,111.1 2274.8,111.1" fill="#ff1e24"/>
<polygon points="2296.8,69.3 2318.8,104.8 2274.8,104.8" fill="#ff1e24"/>
<polygon points="2296.8,62.9 2318.8,98.4 2274.8,98.4" fill="#ff1e24"/>
<polygon points="2296.8,56.6 2318.8,92.1 2274.8,92.1" fill="#ff1e24"/>
<polygon points="2296.8,50.2 2318.8,85.7 2274.8,85.7" fill="#ff1e24"/>
<polygon points="2296.8,43.9 2318.8,79.4 2274.8,79.4" fill="#ff1e24"/>
<polygon points="2305.8,37.5 2327.8,73 2283.8,73" fill="#ff1e24"/>
<polygon points="2305.8,31.2 2327.8,66.7 2283.8,66.7" fill="#ff1e24"/>
<circle cx="1498.6" cy="685.3" r="16.8" fill="#2756ab"/>
<circle cx="1507.7" cy="679" r="16.8" fill="#2756ab"/>
<circle cx="1507.7" cy="672.6" r="16.8" fill="#2756ab"/>
<circle cx="1516.8" cy="666.3" r="16.8" fill="#2756ab"/>
<circle cx="1525.8" cy="659.9" r="16.8" fill="#2756ab"/>
<circle cx="1525.8" cy="653.6" r="16.8" fill="#2756ab"/>
<circle cx="1534.9" cy="647.2" r="16.8" fill="#2756ab"/>
<circle cx="1534.9" cy="640.9" r="16.8" fill="#2756ab"/>
<circle cx="1544" cy="634.5" r="16.8" fill="#2756ab"/>
<circle cx="1544" cy="628.2" r="16.8" fill="#2756ab"/>
<circle cx="1544" cy="621.8" r="16.8" fill="#2756ab"/>
<circle cx="1553" cy="615.5" r="16.8" fill="#2756ab"/>
<circle cx="1553" cy="609.1" r="16.8" fill="#2756ab"/>
<circle cx="1553" cy="602.8" r="16.8" fill="#2756ab"/>
<circle cx="1562.1" cy="596.4" r="16.8" fill="#2756ab"/>
<circle cx="1562.1" cy="590.1" r="16.8" fill="#2756ab"/>
<circle cx="1562.1" cy="583.7" r="16.8" fill="#2756ab"/>
<circle cx="1562.1" cy="577.4" r="16.8" fill="#2756ab"/>
<circle cx="1562.1" cy="571" r="16.8" fill="#2756ab"/>
<circle cx="1562.1" cy="564.7" r="16.8" fill="#2756ab"/>
<circle cx="1562.1" cy="558.3" r="16.8" fill="#2756ab"/>
<circle cx="1562.1" cy="552" r="16.8" fill="#2756ab"/>
<circle cx="1562.1" cy="545.6" r="16.8" fill="#2756ab"/>
<circle cx="1562.1" cy="539.3" r="16.8" fill="#2756ab"/>
<circle cx="1562.1" cy="532.9" r="16.8" fill="#2756ab"/>
<circle cx="1562.1" cy="526.6" r="16.8" fill="#2756ab"/>
<circle cx="1571.2" cy="520.2" r="16.8" fill="#2756ab"/>
<circle cx="1571.2" cy="513.9" r="16.8" fill="#2756ab"/>
<circle cx="1571.2" cy="507.5" r="16.8" fill="#2756ab"/>
<circle cx="1571.2" cy="501.2" r="16.8" fill="#2756ab"/>
<circle cx="1571.2" cy="494.8" r="16.8" fill="#2756ab"/>
<circle cx="1571.2" cy="488.5" r="16.8" fill="#2756ab"/>
<circle cx="1571.2" cy="482.1" r="16.8" fill="#2756ab"/>
<circle cx="1571.2" cy="475.8" r="16.8" fill="#2756ab"/>
<circle cx="1571.2" cy="469.4" r="16.8" fill="#2756ab"/>
<circle cx="1571.2" cy="463.1" r="16.8" fill="#2756ab"/>
<circle cx="1571.2" cy="456.7" r="16.8" fill="#2756ab"/>
<circle cx="1571.2" cy="450.4" r="16.8" fill="#2756ab"/>
<circle cx="1580.2" cy="444" r="16.8" fill="#2756ab"/>
<circle cx="1580.2" cy="437.7" r="16.8" fill="#2756ab"/>
<circle cx="1580.2" cy="431.3" r="16.8" fill="#2756ab"/>
<circle cx="1580.2" cy="425" r="16.8" fill="#2756ab"/>
<circle cx="1580.2" cy="418.6" r="16.8" fill="#2756ab"/>
<circle cx="1580.2" cy="412.3" r="16.8" fill="#2756ab"/>
<circle cx="1580.2" cy="405.9" r="16.8" fill="#2756ab"/>
<circle cx="1580.2" cy="399.6" r="16.8" fill="#2756ab"/>
<circle cx="1589.3" cy="393.2" r="16.8" fill="#2756ab"/>
<circle cx="1589.3" cy="386.9" r="16.8" fill="#2756ab"/>
<circle cx="1589.3" cy="380.5" r="16.8" fill="#2756ab"/>
<circle cx="1589.3" cy="374.2" r="16.8" fill="#2756ab"/>
<circle cx="1589.3" cy="367.8" r="16.8" fill="#2756ab"/>
<circle cx="1589.3" cy="361.5" r="16.8" fill="#2756ab"/>
<circle cx="1589.3" cy="355.1" r="16.8" fill="#2756ab"/>
<circle cx="1589.3" cy="348.8" r="16.8" fill="#2756ab"/>
<circle cx="1589.3" cy="342.4" r="16.8" fill="#2756ab"/>
<circle cx="1598.4" cy="336.1" r="16.8" fill="#2756ab"/>
<circle cx="1598.4" cy="329.7" r="16.8" fill="#2756ab"/>
<circle cx="1598.4" cy="323.4" r="16.8" fill="#2756ab"/>
<circle cx="1598.4" cy="317" r="16.8" fill="#2756ab"/>
<circle cx="1598.4" cy="310.7" r="16.8" fill="#2756ab"/>
<circle cx="1598.4" cy="304.3" r="16.8" fill="#2756ab"/>
<circle cx="1598.4" cy="298" r="16.8" fill="#2756ab"/>
<circle cx="1598.4" cy="291.6" r="16.8" fill="#2756ab"/>
<circle cx="1607.5" cy="285.3" r="16.8" fill="#2756ab"/>
<circle cx="1607.5" cy="278.9" r="16.8" fill="#2756ab"/>
<circle cx="1607.5" cy="272.6" r="16.8" fill="#2756ab"/>
<circle cx="1607.5" cy="266.2" r="16.8" fill="#2756ab"/>
<circle cx="1607.5" cy="259.9" r="16.8" fill="#2756ab"/>
<circle cx="1607.5" cy="253.5" r="16.8" fill="#2756ab"/>
<circle cx="1607.5" cy="247.2" r="16.8" fill="#2756ab"/>
<circle cx="1607.5" cy="240.8" r="16.8" fill="#2756ab"/>
<circle cx="1616.5" cy="234.5" r="16.8" fill="#2756ab"/>
<circle cx="1616.5" cy="228.1" r="16.8" fill="#2756ab"/>
<circle cx="1616.5" cy="221.8" r="16.8" fill="#2756ab"/>
<circle cx="1616.5" cy="215.4" r="16.8" fill="#2756ab"/>
<circle cx="1616.5" cy="209.1" r="16.8" fill="#2756ab"/>
<circle cx="1616.5" cy="202.7" r="16.8" fill="#2756ab"/>
<circle cx="1625.6" cy="196.4" r="16.8" fill="#2756ab"/>
<circle cx="1625.6" cy="190" r="16.8" fill="#2756ab"/>
<circle cx="1625.6" cy="183.7" r="16.8" fill="#2756ab"/>
<circle cx="1625.6" cy="177.3" r="16.8" fill="#2756ab"/>
<circle cx="1625.6" cy="171" r="16.8" fill="#2756ab"/>
<circle cx="1625.6" cy="164.6" r="16.8" fill="#2756ab"/>
<circle cx="1625.6" cy="158.3" r="16.8" fill="#2756ab"/>
<circle cx="1625.6" cy="151.9" r="16.8" fill="#2756ab"/>
<circle cx="1634.7" cy="145.6" r="16.8" fill="#2756ab"/>
<circle cx="1634.7" cy="139.2" r="16.8" fill="#2756ab"/>
<circle cx="1634.7" cy="132.9" r="16.8" fill="#2756ab"/>
<circle cx="1634.7" cy="126.5" r="16.8" fill="#2756ab"/>
<circle cx="1634.7" cy="120.2" r="16.8" fill="#2756ab"/>
<circle cx="1643.7" cy="113.8" r="16.8" fill="#2756ab"/>
<circle cx="1643.7" cy="107.5" r="16.8" fill="#2756ab"/>
<circle cx="1643.7" cy="101.1" r="16.8" fill="#2756ab"/>
<circle cx="1643.7" cy="94.8" r="16.8" fill="#2756ab"/>
<circle cx="1652.8" cy="88.4" r="16.8" fill="#2756ab"/>
<circle cx="1652.8" cy="82.1" r="16.8" fill="#2756ab"/>
<circle cx="1652.8" cy="75.7" r="16.8" fill="#2756ab"/>
<circle cx="1661.9" cy="69.4" r="16.8" fill="#2756ab"/>
<circle cx="1680" cy="63" r="16.8" fill="#2756ab"/>
<circle cx="1716.3" cy="56.7" r="16.8" fill="#2756ab"/>
<polygon points="1993,650 2009.8,678.6 1976.2,678.6" fill="#fff" stroke="#ff1e24" stroke-width="4.2" stroke-linejoin="miter"/>
<polygon points="2015.7,615.5 2032.5,644.1 1998.9,644.1" fill="#fff" stroke="#ff1e24" stroke-width="4.2" stroke-linejoin="miter"/>
<polygon points="2043,580 2059.8,608.6 2026.2,608.6" fill="#fff" stroke="#ff1e24" stroke-width="4.2" stroke-linejoin="miter"/>
<polygon points="2088.4,547.1 2105.2,575.8 2071.6,575.8" fill="#fff" stroke="#ff1e24" stroke-width="4.2" stroke-linejoin="miter"/>
<polygon points="2088.4,511.4 2105.2,540.1 2071.6,540.1" fill="#fff" stroke="#ff1e24" stroke-width="4.2" stroke-linejoin="miter"/>
<polygon points="2128,475.4 2144.8,504.1 2111.2,504.1" fill="#fff" stroke="#ff1e24" stroke-width="4.2" stroke-linejoin="miter"/>
<polygon points="2157,439.9 2173.8,468.6 2140.2,468.6" fill="#fff" stroke="#ff1e24" stroke-width="4.2" stroke-linejoin="miter"/>
<polygon points="2187,405.4 2203.8,434.1 2170.2,434.1" fill="#fff" stroke="#ff1e24" stroke-width="4.2" stroke-linejoin="miter"/>
<polygon points="2209,373.4 2225.8,402.1 2192.2,402.1" fill="#fff" stroke="#ff1e24" stroke-width="4.2" stroke-linejoin="miter"/>
<polygon points="2209,339.1 2225.8,367.8 2192.2,367.8" fill="#fff" stroke="#ff1e24" stroke-width="4.2" stroke-linejoin="miter"/>
<polygon points="2213,302.1 2229.8,330.8 2196.2,330.8" fill="#fff" stroke="#ff1e24" stroke-width="4.2" stroke-linejoin="miter"/>
<polygon points="2218,269.1 2234.8,297.8 2201.2,297.8" fill="#fff" stroke="#ff1e24" stroke-width="4.2" stroke-linejoin="miter"/>
<polygon points="2272,234.8 2288.8,263.5 2255.2,263.5" fill="#fff" stroke="#ff1e24" stroke-width="4.2" stroke-linejoin="miter"/>
<polygon points="2286,200.4 2302.8,229.2 2269.2,229.2" fill="#fff" stroke="#ff1e24" stroke-width="4.2" stroke-linejoin="miter"/>
<polygon points="2286,164.8 2302.8,193.6 2269.2,193.6" fill="#fff" stroke="#ff1e24" stroke-width="4.2" stroke-linejoin="miter"/>
<polygon points="2330,130.4 2346.8,159.2 2313.2,159.2" fill="#fff" stroke="#ff1e24" stroke-width="4.2" stroke-linejoin="miter"/>
<polygon points="2343.7,94.9 2360.5,123.6 2326.9,123.6" fill="#fff" stroke="#ff1e24" stroke-width="4.2" stroke-linejoin="miter"/>
<polygon points="2356.6,60.5 2373.4,89.2 2339.8,89.2" fill="#fff" stroke="#ff1e24" stroke-width="4.2" stroke-linejoin="miter"/>
<circle cx="1535" cy="667.3" r="15" fill="#fff" stroke="#2756ab" stroke-width="3.8"/>
<circle cx="1537.8" cy="630.6" r="15" fill="#fff" stroke="#2756ab" stroke-width="3.8"/>
<circle cx="1537.8" cy="596.3" r="15" fill="#fff" stroke="#2756ab" stroke-width="3.8"/>
<circle cx="1572" cy="563.3" r="15" fill="#fff" stroke="#2756ab" stroke-width="3.8"/>
<circle cx="1577" cy="527.6" r="15" fill="#fff" stroke="#2756ab" stroke-width="3.8"/>
<circle cx="1577" cy="493.3" r="15" fill="#fff" stroke="#2756ab" stroke-width="3.8"/>
<circle cx="1585.9" cy="459" r="15" fill="#fff" stroke="#2756ab" stroke-width="3.8"/>
<circle cx="1590" cy="423" r="15" fill="#fff" stroke="#2756ab" stroke-width="3.8"/>
<circle cx="1599.6" cy="387" r="15" fill="#fff" stroke="#2756ab" stroke-width="3.8"/>
<circle cx="1603.7" cy="354" r="15" fill="#fff" stroke="#2756ab" stroke-width="3.8"/>
<circle cx="1602.9" cy="318.4" r="15" fill="#fff" stroke="#2756ab" stroke-width="3.8"/>
<circle cx="1617.4" cy="284" r="15" fill="#fff" stroke="#2756ab" stroke-width="3.8"/>
<circle cx="1622.9" cy="249.8" r="15" fill="#fff" stroke="#2756ab" stroke-width="3.8"/>
<circle cx="1625.7" cy="215.5" r="15" fill="#fff" stroke="#2756ab" stroke-width="3.8"/>
<circle cx="1640.8" cy="179.8" r="15" fill="#fff" stroke="#2756ab" stroke-width="3.8"/>
<circle cx="1654.5" cy="145.5" r="15" fill="#fff" stroke="#2756ab" stroke-width="3.8"/>
<circle cx="1680.6" cy="109.8" r="15" fill="#fff" stroke="#2756ab" stroke-width="3.8"/>
<circle cx="1698.4" cy="75.5" r="15" fill="#fff" stroke="#2756ab" stroke-width="3.8"/>
<circle cx="1791.7" cy="86.5" r="15" fill="#fff" stroke="#2756ab" stroke-width="3.8"/>
<circle cx="1791.7" cy="141.4" r="16.8" fill="#2756ab"/>
<polygon points="1791.7,172.4 1808.5,201.1 1774.9,201.1" fill="#fff" stroke="#ff1e24" stroke-width="4.2" stroke-linejoin="miter"/>
<polygon points="1791.7,223.5 1812.2,259 1771.2,259" fill="#ff1e24"/>
<text font-size="43.5" text-anchor="start" fill="#1a1a1a" transform="translate(1841 97.4) scale(0.95 1)">SL V<tspan dy="15">hold</tspan></text>
<text font-size="43.5" text-anchor="start" fill="#1a1a1a" transform="translate(1841 152.3) scale(0.95 1)">DL V<tspan dy="15">hold</tspan></text>
<text font-size="43.5" text-anchor="start" fill="#1a1a1a" transform="translate(1841 203) scale(0.95 1)">SL V<tspan dy="15">th</tspan></text>
<text font-size="43.5" text-anchor="start" fill="#1a1a1a" transform="translate(1841 259.4) scale(0.95 1)">DL V<tspan dy="15">th</tspan></text>
<text font-size="72.4" text-anchor="start" font-weight="bold" fill="#2756ab" transform="translate(1632 390) scale(0.95 1)">V<tspan dx="1" dy="23" font-size="42.4">hold</tspan></text>
<text font-size="101.4" text-anchor="start" font-weight="bold" fill="#ff1e24" transform="translate(2037 389.8) scale(0.95 1)">V<tspan dx="1" dy="23" font-size="55.9">th</tspan></text>
<text font-size="60" text-anchor="start" fill="#111" transform="translate(1602 685.5) scale(0.967 1)">cycle-to-cycle</text>
<rect x="1423.5" y="19.2" width="1003.5" height="6.5" fill="#444"/>
<rect x="1423.5" y="717.5" width="1003.5" height="5" fill="#000"/>
<rect x="1423.5" y="19.2" width="5" height="703.2" fill="#111"/>
<rect x="2422" y="19.2" width="5" height="703.2" fill="#111"/>
<line x1="1426" y1="688.5" x2="1441" y2="688.5" stroke="#222" stroke-width="3"/>
<text font-size="61.1" text-anchor="end" fill="#000" transform="translate(1409 707) scale(0.95 1)">0</text>
<line x1="1426" y1="625" x2="1434.5" y2="625" stroke="#222" stroke-width="3"/>
<line x1="1426" y1="561.5" x2="1441" y2="561.5" stroke="#222" stroke-width="3"/>
<text font-size="61.1" text-anchor="end" fill="#000" transform="translate(1409 580) scale(0.95 1)">20</text>
<line x1="1426" y1="498" x2="1434.5" y2="498" stroke="#222" stroke-width="3"/>
<line x1="1426" y1="434.5" x2="1441" y2="434.5" stroke="#222" stroke-width="3"/>
<text font-size="61.1" text-anchor="end" fill="#000" transform="translate(1409 453) scale(0.95 1)">40</text>
<line x1="1426" y1="371" x2="1434.5" y2="371" stroke="#222" stroke-width="3"/>
<line x1="1426" y1="307.5" x2="1441" y2="307.5" stroke="#222" stroke-width="3"/>
<text font-size="61.1" text-anchor="end" fill="#000" transform="translate(1409 326) scale(0.95 1)">60</text>
<line x1="1426" y1="244" x2="1434.5" y2="244" stroke="#222" stroke-width="3"/>
<line x1="1426" y1="180.5" x2="1441" y2="180.5" stroke="#222" stroke-width="3"/>
<text font-size="61.1" text-anchor="end" fill="#000" transform="translate(1409 199) scale(0.95 1)">80</text>
<line x1="1426" y1="117" x2="1434.5" y2="117" stroke="#222" stroke-width="3"/>
<line x1="1426" y1="53.5" x2="1441" y2="53.5" stroke="#222" stroke-width="3"/>
<text font-size="61.1" text-anchor="end" fill="#000" transform="translate(1409 72) scale(0.95 1)">100</text>
<line x1="1471.4" y1="719" x2="1471.4" y2="704" stroke="#222" stroke-width="3"/>
<text font-size="61.1" text-anchor="middle" fill="#000" transform="translate(1471.4 780) scale(0.95 1)">0.0</text>
<line x1="1562.1" y1="719" x2="1562.1" y2="710.5" stroke="#222" stroke-width="3"/>
<line x1="1652.8" y1="719" x2="1652.8" y2="704" stroke="#222" stroke-width="3"/>
<text font-size="61.1" text-anchor="middle" fill="#000" transform="translate(1652.8 780) scale(0.95 1)">0.2</text>
<line x1="1743.5" y1="719" x2="1743.5" y2="710.5" stroke="#222" stroke-width="3"/>
<line x1="1834.2" y1="719" x2="1834.2" y2="704" stroke="#222" stroke-width="3"/>
<text font-size="61.1" text-anchor="middle" fill="#000" transform="translate(1834.2 780) scale(0.95 1)">0.4</text>
<line x1="1924.9" y1="719" x2="1924.9" y2="710.5" stroke="#222" stroke-width="3"/>
<line x1="2015.6" y1="719" x2="2015.6" y2="704" stroke="#222" stroke-width="3"/>
<text font-size="61.1" text-anchor="middle" fill="#000" transform="translate(2015.6 780) scale(0.95 1)">0.6</text>
<line x1="2106.3" y1="719" x2="2106.3" y2="710.5" stroke="#222" stroke-width="3"/>
<line x1="2197" y1="719" x2="2197" y2="704" stroke="#222" stroke-width="3"/>
<text font-size="61.1" text-anchor="middle" fill="#000" transform="translate(2197 780) scale(0.95 1)">0.8</text>
<line x1="2287.7" y1="719" x2="2287.7" y2="710.5" stroke="#222" stroke-width="3"/>
<line x1="2378.4" y1="719" x2="2378.4" y2="704" stroke="#222" stroke-width="3"/>
<text font-size="61.1" text-anchor="middle" fill="#000" transform="translate(2378.4 780) scale(0.95 1)">1.0</text>
<text font-size="59" text-anchor="middle" font-weight="bold" fill="#000" transform="translate(1296 375) rotate(-90) scale(0.965 1)">Cumulative Probability (%)</text>
<text font-size="60" text-anchor="middle" font-weight="bold" fill="#000" transform="translate(1923.5 852.7) scale(0.965 1)">Voltage (V)</text>
<text font-size="78.7" text-anchor="middle" font-weight="bold" fill="#000" transform="translate(1320 847.5) scale(1.0 1)">(b)</text>
</g>
<g id="panel-c">
<circle cx="245.7" cy="1645.1" r="16.5" fill="url(#gb)"/>
<circle cx="258" cy="1626.4" r="16.5" fill="url(#gb)"/>
<circle cx="266.3" cy="1607.8" r="16.5" fill="url(#gb)"/>
<circle cx="269.8" cy="1589.1" r="16.5" fill="url(#gb)"/>
<circle cx="273.1" cy="1570.5" r="16.5" fill="url(#gb)"/>
<circle cx="274.5" cy="1551.8" r="16.5" fill="url(#gb)"/>
<circle cx="275.9" cy="1533.2" r="16.5" fill="url(#gb)"/>
<circle cx="277.2" cy="1514.5" r="16.5" fill="url(#gb)"/>
<circle cx="278.6" cy="1495.9" r="16.5" fill="url(#gb)"/>
<circle cx="280" cy="1477.2" r="16.5" fill="url(#gb)"/>
<circle cx="283.6" cy="1458.6" r="16.5" fill="url(#gb)"/>
<circle cx="285.5" cy="1439.9" r="16.5" fill="url(#gb)"/>
<circle cx="288.2" cy="1421.3" r="16.5" fill="url(#gb)"/>
<circle cx="289" cy="1402.6" r="16.5" fill="url(#gb)"/>
<circle cx="289.6" cy="1384" r="16.5" fill="url(#gb)"/>
<circle cx="291" cy="1365.3" r="16.5" fill="url(#gb)"/>
<circle cx="291.8" cy="1346.7" r="16.5" fill="url(#gb)"/>
<circle cx="292.3" cy="1328" r="16.5" fill="url(#gb)"/>
<circle cx="293.7" cy="1309.4" r="16.5" fill="url(#gb)"/>
<circle cx="295.1" cy="1290.7" r="16.5" fill="url(#gb)"/>
<circle cx="296.5" cy="1272.1" r="16.5" fill="url(#gb)"/>
<circle cx="297.8" cy="1253.4" r="16.5" fill="url(#gb)"/>
<circle cx="299.2" cy="1234.8" r="16.5" fill="url(#gb)"/>
<circle cx="300" cy="1216.1" r="16.5" fill="url(#gb)"/>
<circle cx="302" cy="1197.5" r="16.5" fill="url(#gb)"/>
<circle cx="304.7" cy="1178.8" r="16.5" fill="url(#gb)"/>
<circle cx="306.1" cy="1160.2" r="16.5" fill="url(#gb)"/>
<circle cx="307.4" cy="1141.5" r="16.5" fill="url(#gb)"/>
<circle cx="308.8" cy="1122.9" r="16.5" fill="url(#gb)"/>
<circle cx="308.8" cy="1104.2" r="16.5" fill="url(#gb)"/>
<circle cx="310.2" cy="1085.6" r="16.5" fill="url(#gb)"/>
<circle cx="319.8" cy="1066.9" r="16.5" fill="url(#gb)"/>
<circle cx="325.3" cy="1048.3" r="16.5" fill="url(#gb)"/>
<circle cx="336.3" cy="1029.6" r="16.5" fill="url(#gb)"/>
<circle cx="267.6" cy="1647.7" r="15" fill="#fff" stroke="#2756ab" stroke-width="3.8"/>
<circle cx="280" cy="1635" r="15" fill="#fff" stroke="#2756ab" stroke-width="3.8"/>
<circle cx="288.2" cy="1622.3" r="15" fill="#fff" stroke="#2756ab" stroke-width="3.8"/>
<circle cx="291" cy="1609.6" r="15" fill="#fff" stroke="#2756ab" stroke-width="3.8"/>
<circle cx="292.3" cy="1596.9" r="15" fill="#fff" stroke="#2756ab" stroke-width="3.8"/>
<circle cx="292.3" cy="1584.3" r="15" fill="#fff" stroke="#2756ab" stroke-width="3.8"/>
<circle cx="293.2" cy="1571.6" r="15" fill="#fff" stroke="#2756ab" stroke-width="3.8"/>
<circle cx="293.7" cy="1558.9" r="15" fill="#fff" stroke="#2756ab" stroke-width="3.8"/>
<circle cx="294.3" cy="1546.2" r="15" fill="#fff" stroke="#2756ab" stroke-width="3.8"/>
<circle cx="294.3" cy="1533.5" r="15" fill="#fff" stroke="#2756ab" stroke-width="3.8"/>
<circle cx="295" cy="1520.9" r="15" fill="#fff" stroke="#2756ab" stroke-width="3.8"/>
<circle cx="295" cy="1508.2" r="15" fill="#fff" stroke="#2756ab" stroke-width="3.8"/>
<circle cx="296" cy="1495.5" r="15" fill="#fff" stroke="#2756ab" stroke-width="3.8"/>
<circle cx="296.5" cy="1482.8" r="15" fill="#fff" stroke="#2756ab" stroke-width="3.8"/>
<circle cx="297.8" cy="1470.1" r="15" fill="#fff" stroke="#2756ab" stroke-width="3.8"/>
<circle cx="299.2" cy="1457.5" r="15" fill="#fff" stroke="#2756ab" stroke-width="3.8"/>
<circle cx="303.3" cy="1444.8" r="15" fill="#fff" stroke="#2756ab" stroke-width="3.8"/>
<circle cx="304.7" cy="1432.1" r="15" fill="#fff" stroke="#2756ab" stroke-width="3.8"/>
<circle cx="306" cy="1419.4" r="15" fill="#fff" stroke="#2756ab" stroke-width="3.8"/>
<circle cx="306.9" cy="1406.7" r="15" fill="#fff" stroke="#2756ab" stroke-width="3.8"/>
<circle cx="306.9" cy="1394.1" r="15" fill="#fff" stroke="#2756ab" stroke-width="3.8"/>
<circle cx="307.4" cy="1381.4" r="15" fill="#fff" stroke="#2756ab" stroke-width="3.8"/>
<circle cx="308" cy="1368.7" r="15" fill="#fff" stroke="#2756ab" stroke-width="3.8"/>
<circle cx="308.5" cy="1356" r="15" fill="#fff" stroke="#2756ab" stroke-width="3.8"/>
<circle cx="309.4" cy="1343.3" r="15" fill="#fff" stroke="#2756ab" stroke-width="3.8"/>
<circle cx="310.2" cy="1330.7" r="15" fill="#fff" stroke="#2756ab" stroke-width="3.8"/>
<circle cx="311" cy="1318" r="15" fill="#fff" stroke="#2756ab" stroke-width="3.8"/>
<circle cx="312.1" cy="1305.3" r="15" fill="#fff" stroke="#2756ab" stroke-width="3.8"/>
<circle cx="312.9" cy="1292.6" r="15" fill="#fff" stroke="#2756ab" stroke-width="3.8"/>
<circle cx="313.8" cy="1279.9" r="15" fill="#fff" stroke="#2756ab" stroke-width="3.8"/>
<circle cx="314.9" cy="1267.3" r="15" fill="#fff" stroke="#2756ab" stroke-width="3.8"/>
<circle cx="315.7" cy="1254.6" r="15" fill="#fff" stroke="#2756ab" stroke-width="3.8"/>
<circle cx="316.5" cy="1241.9" r="15" fill="#fff" stroke="#2756ab" stroke-width="3.8"/>
<circle cx="317.9" cy="1229.2" r="15" fill="#fff" stroke="#2756ab" stroke-width="3.8"/>
<circle cx="319.2" cy="1216.5" r="15" fill="#fff" stroke="#2756ab" stroke-width="3.8"/>
<circle cx="322.5" cy="1203.9" r="15" fill="#fff" stroke="#2756ab" stroke-width="3.8"/>
<circle cx="332.1" cy="1191.2" r="15" fill="#fff" stroke="#2756ab" stroke-width="3.8"/>
<circle cx="369.2" cy="1178.5" r="15" fill="#fff" stroke="#2756ab" stroke-width="3.8"/>
<circle cx="381.6" cy="1165.8" r="15" fill="#fff" stroke="#2756ab" stroke-width="3.8"/>
<circle cx="388.4" cy="1153.1" r="15" fill="#fff" stroke="#2756ab" stroke-width="3.8"/>
<circle cx="393.9" cy="1140.5" r="15" fill="#fff" stroke="#2756ab" stroke-width="3.8"/>
<circle cx="400.2" cy="1127.8" r="15" fill="#fff" stroke="#2756ab" stroke-width="3.8"/>
<circle cx="404.9" cy="1115.1" r="15" fill="#fff" stroke="#2756ab" stroke-width="3.8"/>
<circle cx="413.1" cy="1102.4" r="15" fill="#fff" stroke="#2756ab" stroke-width="3.8"/>
<circle cx="421.4" cy="1089.7" r="15" fill="#fff" stroke="#2756ab" stroke-width="3.8"/>
<circle cx="429.6" cy="1077.1" r="15" fill="#fff" stroke="#2756ab" stroke-width="3.8"/>
<circle cx="436.5" cy="1064.4" r="15" fill="#fff" stroke="#2756ab" stroke-width="3.8"/>
<circle cx="440" cy="1051.7" r="15" fill="#fff" stroke="#2756ab" stroke-width="3.8"/>
<circle cx="440.6" cy="1039" r="15" fill="#fff" stroke="#2756ab" stroke-width="3.8"/>
<circle cx="480.4" cy="1026.3" r="15" fill="#fff" stroke="#2756ab" stroke-width="3.8"/>
<circle cx="575.7" cy="1647.7" r="15" fill="#fff" stroke="#ff1e24" stroke-width="3.8"/>
<circle cx="596.3" cy="1635" r="15" fill="#fff" stroke="#ff1e24" stroke-width="3.8"/>
<circle cx="619.6" cy="1622.3" r="15" fill="#fff" stroke="#ff1e24" stroke-width="3.8"/>
<circle cx="621.8" cy="1609.6" r="15" fill="#fff" stroke="#ff1e24" stroke-width="3.8"/>
<circle cx="622.9" cy="1596.9" r="15" fill="#fff" stroke="#ff1e24" stroke-width="3.8"/>
<circle cx="625.1" cy="1584.3" r="15" fill="#fff" stroke="#ff1e24" stroke-width="3.8"/>
<circle cx="627.3" cy="1571.6" r="15" fill="#fff" stroke="#ff1e24" stroke-width="3.8"/>
<circle cx="627.8" cy="1558.9" r="15" fill="#fff" stroke="#ff1e24" stroke-width="3.8"/>
<circle cx="629.2" cy="1546.2" r="15" fill="#fff" stroke="#ff1e24" stroke-width="3.8"/>
<circle cx="630" cy="1533.5" r="15" fill="#fff" stroke="#ff1e24" stroke-width="3.8"/>
<circle cx="633.3" cy="1520.9" r="15" fill="#fff" stroke="#ff1e24" stroke-width="3.8"/>
<circle cx="642.9" cy="1508.2" r="15" fill="#fff" stroke="#ff1e24" stroke-width="3.8"/>
<circle cx="645.7" cy="1495.5" r="15" fill="#fff" stroke="#ff1e24" stroke-width="3.8"/>
<circle cx="649.8" cy="1482.8" r="15" fill="#fff" stroke="#ff1e24" stroke-width="3.8"/>
<circle cx="651.2" cy="1470.1" r="15" fill="#fff" stroke="#ff1e24" stroke-width="3.8"/>
<circle cx="652.5" cy="1457.5" r="15" fill="#fff" stroke="#ff1e24" stroke-width="3.8"/>
<circle cx="653.9" cy="1444.8" r="15" fill="#fff" stroke="#ff1e24" stroke-width="3.8"/>
<circle cx="660.8" cy="1432.1" r="15" fill="#fff" stroke="#ff1e24" stroke-width="3.8"/>
<circle cx="662.1" cy="1419.4" r="15" fill="#fff" stroke="#ff1e24" stroke-width="3.8"/>
<circle cx="664.9" cy="1406.7" r="15" fill="#fff" stroke="#ff1e24" stroke-width="3.8"/>
<circle cx="667.6" cy="1394.1" r="15" fill="#fff" stroke="#ff1e24" stroke-width="3.8"/>
<circle cx="670.4" cy="1381.4" r="15" fill="#fff" stroke="#ff1e24" stroke-width="3.8"/>
<circle cx="674.5" cy="1368.7" r="15" fill="#fff" stroke="#ff1e24" stroke-width="3.8"/>
<circle cx="675.9" cy="1356" r="15" fill="#fff" stroke="#ff1e24" stroke-width="3.8"/>
<circle cx="676.7" cy="1343.3" r="15" fill="#fff" stroke="#ff1e24" stroke-width="3.8"/>
<circle cx="677.2" cy="1330.7" r="15" fill="#fff" stroke="#ff1e24" stroke-width="3.8"/>
<circle cx="677.2" cy="1318" r="15" fill="#fff" stroke="#ff1e24" stroke-width="3.8"/>
<circle cx="678.3" cy="1305.3" r="15" fill="#fff" stroke="#ff1e24" stroke-width="3.8"/>
<circle cx="683.3" cy="1292.6" r="15" fill="#fff" stroke="#ff1e24" stroke-width="3.8"/>
<circle cx="687.7" cy="1279.9" r="15" fill="#fff" stroke="#ff1e24" stroke-width="3.8"/>
<circle cx="689.3" cy="1267.3" r="15" fill="#fff" stroke="#ff1e24" stroke-width="3.8"/>
<circle cx="690.4" cy="1254.6" r="15" fill="#fff" stroke="#ff1e24" stroke-width="3.8"/>
<circle cx="696.5" cy="1241.9" r="15" fill="#fff" stroke="#ff1e24" stroke-width="3.8"/>
<circle cx="701.1" cy="1229.2" r="15" fill="#fff" stroke="#ff1e24" stroke-width="3.8"/>
<circle cx="703.3" cy="1216.5" r="15" fill="#fff" stroke="#ff1e24" stroke-width="3.8"/>
<circle cx="709.6" cy="1203.9" r="15" fill="#fff" stroke="#ff1e24" stroke-width="3.8"/>
<circle cx="717.9" cy="1191.2" r="15" fill="#fff" stroke="#ff1e24" stroke-width="3.8"/>
<circle cx="752.7" cy="1178.5" r="15" fill="#fff" stroke="#ff1e24" stroke-width="3.8"/>
<circle cx="836.5" cy="1165.8" r="15" fill="#fff" stroke="#ff1e24" stroke-width="3.8"/>
<circle cx="841.4" cy="1153.1" r="15" fill="#fff" stroke="#ff1e24" stroke-width="3.8"/>
<circle cx="844.7" cy="1140.5" r="15" fill="#fff" stroke="#ff1e24" stroke-width="3.8"/>
<circle cx="846.1" cy="1127.8" r="15" fill="#fff" stroke="#ff1e24" stroke-width="3.8"/>
<circle cx="846.1" cy="1115.1" r="15" fill="#fff" stroke="#ff1e24" stroke-width="3.8"/>
<circle cx="872.1" cy="1102.4" r="15" fill="#fff" stroke="#ff1e24" stroke-width="3.8"/>
<circle cx="874.9" cy="1089.7" r="15" fill="#fff" stroke="#ff1e24" stroke-width="3.8"/>
<circle cx="890" cy="1077.1" r="15" fill="#fff" stroke="#ff1e24" stroke-width="3.8"/>
<circle cx="894.1" cy="1064.4" r="15" fill="#fff" stroke="#ff1e24" stroke-width="3.8"/>
<circle cx="898.2" cy="1051.7" r="15" fill="#fff" stroke="#ff1e24" stroke-width="3.8"/>
<circle cx="902.3" cy="1039" r="15" fill="#fff" stroke="#ff1e24" stroke-width="3.8"/>
<circle cx="907.8" cy="1026.3" r="15" fill="#fff" stroke="#ff1e24" stroke-width="3.8"/>
<circle cx="948.2" cy="1645.1" r="16.5" fill="url(#gr)"/>
<circle cx="949.6" cy="1626.4" r="16.5" fill="url(#gr)"/>
<circle cx="963.3" cy="1607.8" r="16.5" fill="url(#gr)"/>
<circle cx="970.2" cy="1589.1" r="16.5" fill="url(#gr)"/>
<circle cx="982.5" cy="1570.5" r="16.5" fill="url(#gr)"/>
<circle cx="1008.6" cy="1551.8" r="16.5" fill="url(#gr)"/>
<circle cx="1014.1" cy="1533.2" r="16.5" fill="url(#gr)"/>
<circle cx="1016.9" cy="1514.5" r="16.5" fill="url(#gr)"/>
<circle cx="1025.1" cy="1495.9" r="16.5" fill="url(#gr)"/>
<circle cx="1030.6" cy="1477.2" r="16.5" fill="url(#gr)"/>
<circle cx="1037.4" cy="1458.6" r="16.5" fill="url(#gr)"/>
<circle cx="1044.3" cy="1439.9" r="16.5" fill="url(#gr)"/>
<circle cx="1044.3" cy="1421.3" r="16.5" fill="url(#gr)"/>
<circle cx="1045.7" cy="1402.6" r="16.5" fill="url(#gr)"/>
<circle cx="1045.7" cy="1384" r="16.5" fill="url(#gr)"/>
<circle cx="1047" cy="1365.3" r="16.5" fill="url(#gr)"/>
<circle cx="1049.2" cy="1346.7" r="16.5" fill="url(#gr)"/>
<circle cx="1053.4" cy="1328" r="16.5" fill="url(#gr)"/>
<circle cx="1056.1" cy="1309.4" r="16.5" fill="url(#gr)"/>
<circle cx="1056.1" cy="1290.7" r="16.5" fill="url(#gr)"/>
<circle cx="1067.6" cy="1272.1" r="16.5" fill="url(#gr)"/>
<circle cx="1069" cy="1253.4" r="16.5" fill="url(#gr)"/>
<circle cx="1069" cy="1234.8" r="16.5" fill="url(#gr)"/>
<circle cx="1069" cy="1216.1" r="16.5" fill="url(#gr)"/>
<circle cx="1074.5" cy="1197.5" r="16.5" fill="url(#gr)"/>
<circle cx="1088.2" cy="1178.8" r="16.5" fill="url(#gr)"/>
<circle cx="1106.1" cy="1160.2" r="16.5" fill="url(#gr)"/>
<circle cx="1115.7" cy="1141.5" r="16.5" fill="url(#gr)"/>
<circle cx="1123.9" cy="1122.9" r="16.5" fill="url(#gr)"/>
<circle cx="1123.9" cy="1104.2" r="16.5" fill="url(#gr)"/>
<circle cx="1129.4" cy="1085.6" r="16.5" fill="url(#gr)"/>
<circle cx="1150" cy="1066.9" r="16.5" fill="url(#gr)"/>
<circle cx="1159.6" cy="1048.3" r="16.5" fill="url(#gr)"/>
<circle cx="1167.8" cy="1029.6" r="16.5" fill="url(#gr)"/>
<circle cx="495" cy="1055.7" r="15" fill="#fff" stroke="#ff1e24" stroke-width="3.8"/>
<circle cx="495" cy="1109.2" r="16.5" fill="url(#gr)"/>
<circle cx="495" cy="1157.2" r="15" fill="#fff" stroke="#2756ab" stroke-width="3.8"/>
<circle cx="495" cy="1208" r="16.5" fill="url(#gb)"/>
<text font-size="43.5" text-anchor="start" fill="#1a1a1a" transform="translate(546 1068) scale(0.95 1)">SL R<tspan dy="11">off</tspan></text>
<text font-size="43.5" text-anchor="start" fill="#1a1a1a" transform="translate(546 1121.6) scale(0.95 1)">DL R<tspan dy="11">off</tspan></text>
<text font-size="43.5" text-anchor="start" fill="#1a1a1a" transform="translate(546 1169.6) scale(0.95 1)">SL R<tspan dy="11">on</tspan></text>
<text font-size="43.5" text-anchor="start" fill="#1a1a1a" transform="translate(546 1220.4) scale(0.95 1)">DL R<tspan dy="11">on</tspan></text>
<text font-size="71.4" text-anchor="start" font-weight="bold" fill="#2756ab" transform="translate(360 1276.6) scale(0.95 1)">R<tspan dx="1" dy="25" font-size="46.6">on</tspan></text>
<text font-size="99.4" text-anchor="start" font-weight="bold" fill="#ff1e24" transform="translate(844 1283.5) scale(0.95 1)">R<tspan dx="1" dy="23.5" font-size="58">off</tspan></text>
<text font-size="59" text-anchor="start" fill="#111" transform="translate(437 1626) scale(0.967 1)">device-to-device</text>
<rect x="195" y="984.2" width="1002.5" height="6.5" fill="#444"/>
<rect x="195" y="1683.5" width="1002.5" height="5" fill="#000"/>
<rect x="195" y="984.2" width="5" height="704.2" fill="#111"/>
<rect x="1192.5" y="984.2" width="5" height="704.2" fill="#111"/>
<line x1="197.5" y1="1653.5" x2="213.5" y2="1653.5" stroke="#222" stroke-width="3"/>
<text font-size="61.1" text-anchor="end" fill="#000" transform="translate(182 1672) scale(0.95 1)">0</text>
<line x1="197.5" y1="1590" x2="206.5" y2="1590" stroke="#222" stroke-width="3"/>
<line x1="197.5" y1="1526.5" x2="213.5" y2="1526.5" stroke="#222" stroke-width="3"/>
<text font-size="61.1" text-anchor="end" fill="#000" transform="translate(182 1545) scale(0.95 1)">20</text>
<line x1="197.5" y1="1463" x2="206.5" y2="1463" stroke="#222" stroke-width="3"/>
<line x1="197.5" y1="1399.5" x2="213.5" y2="1399.5" stroke="#222" stroke-width="3"/>
<text font-size="61.1" text-anchor="end" fill="#000" transform="translate(182 1418) scale(0.95 1)">40</text>
<line x1="197.5" y1="1336" x2="206.5" y2="1336" stroke="#222" stroke-width="3"/>
<line x1="197.5" y1="1272.5" x2="213.5" y2="1272.5" stroke="#222" stroke-width="3"/>
<text font-size="61.1" text-anchor="end" fill="#000" transform="translate(182 1291) scale(0.95 1)">60</text>
<line x1="197.5" y1="1209" x2="206.5" y2="1209" stroke="#222" stroke-width="3"/>
<line x1="197.5" y1="1145.5" x2="213.5" y2="1145.5" stroke="#222" stroke-width="3"/>
<text font-size="61.1" text-anchor="end" fill="#000" transform="translate(182 1164) scale(0.95 1)">80</text>
<line x1="197.5" y1="1082" x2="206.5" y2="1082" stroke="#222" stroke-width="3"/>
<line x1="197.5" y1="1018.5" x2="213.5" y2="1018.5" stroke="#222" stroke-width="3"/>
<text font-size="61.1" text-anchor="end" fill="#000" transform="translate(182 1037) scale(0.95 1)">100</text>
<text font-size="61.1" text-anchor="middle" fill="#000" transform="translate(199.3 1753.5) scale(0.95 1)">10<tspan dy="-29" font-size="36.2">3</tspan></text>
<line x1="233.9" y1="1685" x2="233.9" y2="1676.5" stroke="#222" stroke-width="2.6"/>
<line x1="255.9" y1="1685" x2="255.9" y2="1676.5" stroke="#222" stroke-width="2.6"/>
<line x1="271.5" y1="1685" x2="271.5" y2="1676.5" stroke="#222" stroke-width="2.6"/>
<line x1="283.6" y1="1685" x2="283.6" y2="1676.5" stroke="#222" stroke-width="2.6"/>
<line x1="293.5" y1="1685" x2="293.5" y2="1676.5" stroke="#222" stroke-width="2.6"/>
<line x1="301.9" y1="1685" x2="301.9" y2="1676.5" stroke="#222" stroke-width="2.6"/>
<line x1="309.1" y1="1685" x2="309.1" y2="1676.5" stroke="#222" stroke-width="2.6"/>
<line x1="315.5" y1="1685" x2="315.5" y2="1676.5" stroke="#222" stroke-width="2.6"/>
<line x1="321.2" y1="1685" x2="321.2" y2="1669" stroke="#222" stroke-width="3"/>
<text font-size="61.1" text-anchor="middle" fill="#000" transform="translate(324.2 1753.5) scale(0.95 1)">10<tspan dy="-29" font-size="36.2">4</tspan></text>
<line x1="358.8" y1="1685" x2="358.8" y2="1676.5" stroke="#222" stroke-width="2.6"/>
<line x1="380.8" y1="1685" x2="380.8" y2="1676.5" stroke="#222" stroke-width="2.6"/>
<line x1="396.4" y1="1685" x2="396.4" y2="1676.5" stroke="#222" stroke-width="2.6"/>
<line x1="408.5" y1="1685" x2="408.5" y2="1676.5" stroke="#222" stroke-width="2.6"/>
<line x1="418.4" y1="1685" x2="418.4" y2="1676.5" stroke="#222" stroke-width="2.6"/>
<line x1="426.8" y1="1685" x2="426.8" y2="1676.5" stroke="#222" stroke-width="2.6"/>
<line x1="434" y1="1685" x2="434" y2="1676.5" stroke="#222" stroke-width="2.6"/>
<line x1="440.4" y1="1685" x2="440.4" y2="1676.5" stroke="#222" stroke-width="2.6"/>
<line x1="446.1" y1="1685" x2="446.1" y2="1669" stroke="#222" stroke-width="3"/>
<text font-size="61.1" text-anchor="middle" fill="#000" transform="translate(449.1 1753.5) scale(0.95 1)">10<tspan dy="-29" font-size="36.2">5</tspan></text>
<line x1="483.7" y1="1685" x2="483.7" y2="1676.5" stroke="#222" stroke-width="2.6"/>
<line x1="505.7" y1="1685" x2="505.7" y2="1676.5" stroke="#222" stroke-width="2.6"/>
<line x1="521.3" y1="1685" x2="521.3" y2="1676.5" stroke="#222" stroke-width="2.6"/>
<line x1="533.4" y1="1685" x2="533.4" y2="1676.5" stroke="#222" stroke-width="2.6"/>
<line x1="543.3" y1="1685" x2="543.3" y2="1676.5" stroke="#222" stroke-width="2.6"/>
<line x1="551.7" y1="1685" x2="551.7" y2="1676.5" stroke="#222" stroke-width="2.6"/>
<line x1="558.9" y1="1685" x2="558.9" y2="1676.5" stroke="#222" stroke-width="2.6"/>
<line x1="565.3" y1="1685" x2="565.3" y2="1676.5" stroke="#222" stroke-width="2.6"/>
<line x1="571" y1="1685" x2="571" y2="1669" stroke="#222" stroke-width="3"/>
<text font-size="61.1" text-anchor="middle" fill="#000" transform="translate(574 1753.5) scale(0.95 1)">10<tspan dy="-29" font-size="36.2">6</tspan></text>
<line x1="608.6" y1="1685" x2="608.6" y2="1676.5" stroke="#222" stroke-width="2.6"/>
<line x1="630.6" y1="1685" x2="630.6" y2="1676.5" stroke="#222" stroke-width="2.6"/>
<line x1="646.2" y1="1685" x2="646.2" y2="1676.5" stroke="#222" stroke-width="2.6"/>
<line x1="658.3" y1="1685" x2="658.3" y2="1676.5" stroke="#222" stroke-width="2.6"/>
<line x1="668.2" y1="1685" x2="668.2" y2="1676.5" stroke="#222" stroke-width="2.6"/>
<line x1="676.6" y1="1685" x2="676.6" y2="1676.5" stroke="#222" stroke-width="2.6"/>
<line x1="683.8" y1="1685" x2="683.8" y2="1676.5" stroke="#222" stroke-width="2.6"/>
<line x1="690.2" y1="1685" x2="690.2" y2="1676.5" stroke="#222" stroke-width="2.6"/>
<line x1="695.9" y1="1685" x2="695.9" y2="1669" stroke="#222" stroke-width="3"/>
<text font-size="61.1" text-anchor="middle" fill="#000" transform="translate(698.9 1753.5) scale(0.95 1)">10<tspan dy="-29" font-size="36.2">7</tspan></text>
<line x1="733.5" y1="1685" x2="733.5" y2="1676.5" stroke="#222" stroke-width="2.6"/>
<line x1="755.5" y1="1685" x2="755.5" y2="1676.5" stroke="#222" stroke-width="2.6"/>
<line x1="771.1" y1="1685" x2="771.1" y2="1676.5" stroke="#222" stroke-width="2.6"/>
<line x1="783.2" y1="1685" x2="783.2" y2="1676.5" stroke="#222" stroke-width="2.6"/>
<line x1="793.1" y1="1685" x2="793.1" y2="1676.5" stroke="#222" stroke-width="2.6"/>
<line x1="801.5" y1="1685" x2="801.5" y2="1676.5" stroke="#222" stroke-width="2.6"/>
<line x1="808.7" y1="1685" x2="808.7" y2="1676.5" stroke="#222" stroke-width="2.6"/>
<line x1="815.1" y1="1685" x2="815.1" y2="1676.5" stroke="#222" stroke-width="2.6"/>
<line x1="820.8" y1="1685" x2="820.8" y2="1669" stroke="#222" stroke-width="3"/>
<text font-size="61.1" text-anchor="middle" fill="#000" transform="translate(823.8 1753.5) scale(0.95 1)">10<tspan dy="-29" font-size="36.2">8</tspan></text>
<line x1="858.4" y1="1685" x2="858.4" y2="1676.5" stroke="#222" stroke-width="2.6"/>
<line x1="880.4" y1="1685" x2="880.4" y2="1676.5" stroke="#222" stroke-width="2.6"/>
<line x1="896" y1="1685" x2="896" y2="1676.5" stroke="#222" stroke-width="2.6"/>
<line x1="908.1" y1="1685" x2="908.1" y2="1676.5" stroke="#222" stroke-width="2.6"/>
<line x1="918" y1="1685" x2="918" y2="1676.5" stroke="#222" stroke-width="2.6"/>
<line x1="926.4" y1="1685" x2="926.4" y2="1676.5" stroke="#222" stroke-width="2.6"/>
<line x1="933.6" y1="1685" x2="933.6" y2="1676.5" stroke="#222" stroke-width="2.6"/>
<line x1="940" y1="1685" x2="940" y2="1676.5" stroke="#222" stroke-width="2.6"/>
<line x1="945.7" y1="1685" x2="945.7" y2="1669" stroke="#222" stroke-width="3"/>
<text font-size="61.1" text-anchor="middle" fill="#000" transform="translate(948.7 1753.5) scale(0.95 1)">10<tspan dy="-29" font-size="36.2">9</tspan></text>
<line x1="983.3" y1="1685" x2="983.3" y2="1676.5" stroke="#222" stroke-width="2.6"/>
<line x1="1005.3" y1="1685" x2="1005.3" y2="1676.5" stroke="#222" stroke-width="2.6"/>
<line x1="1020.9" y1="1685" x2="1020.9" y2="1676.5" stroke="#222" stroke-width="2.6"/>
<line x1="1033" y1="1685" x2="1033" y2="1676.5" stroke="#222" stroke-width="2.6"/>
<line x1="1042.9" y1="1685" x2="1042.9" y2="1676.5" stroke="#222" stroke-width="2.6"/>
<line x1="1051.3" y1="1685" x2="1051.3" y2="1676.5" stroke="#222" stroke-width="2.6"/>
<line x1="1058.5" y1="1685" x2="1058.5" y2="1676.5" stroke="#222" stroke-width="2.6"/>
<line x1="1064.9" y1="1685" x2="1064.9" y2="1676.5" stroke="#222" stroke-width="2.6"/>
<line x1="1070.6" y1="1685" x2="1070.6" y2="1669" stroke="#222" stroke-width="3"/>
<text font-size="61.1" text-anchor="middle" fill="#000" transform="translate(1070.6 1753.5) scale(0.95 1)">10<tspan dy="-29" font-size="36.2">10</tspan></text>
<line x1="1108.2" y1="1685" x2="1108.2" y2="1676.5" stroke="#222" stroke-width="2.6"/>
<line x1="1130.2" y1="1685" x2="1130.2" y2="1676.5" stroke="#222" stroke-width="2.6"/>
<line x1="1145.8" y1="1685" x2="1145.8" y2="1676.5" stroke="#222" stroke-width="2.6"/>
<line x1="1157.9" y1="1685" x2="1157.9" y2="1676.5" stroke="#222" stroke-width="2.6"/>
<line x1="1167.8" y1="1685" x2="1167.8" y2="1676.5" stroke="#222" stroke-width="2.6"/>
<line x1="1176.2" y1="1685" x2="1176.2" y2="1676.5" stroke="#222" stroke-width="2.6"/>
<line x1="1183.4" y1="1685" x2="1183.4" y2="1676.5" stroke="#222" stroke-width="2.6"/>
<line x1="1189.8" y1="1685" x2="1189.8" y2="1676.5" stroke="#222" stroke-width="2.6"/>
<text font-size="61.1" text-anchor="middle" fill="#000" transform="translate(1195.5 1753.5) scale(0.95 1)">10<tspan dy="-29" font-size="36.2">11</tspan></text>
<text font-size="59" text-anchor="middle" font-weight="bold" fill="#000" transform="translate(66 1337) rotate(-90) scale(0.965 1)">Cumulative Probability (%)</text>
<text font-size="59" text-anchor="middle" font-weight="bold" fill="#000" transform="translate(693 1817.3) scale(0.965 1)">Resistance (ohm)</text>
<text font-size="78.7" text-anchor="middle" font-weight="bold" fill="#000" transform="translate(229 1839.5) scale(1.0 1)">(c)</text>
<ellipse cx="694" cy="1818" rx="5.5" ry="6.5" fill="none" stroke="#222" stroke-width="2"/>
</g>
<g id="panel-d">
<polygon points="2091.1,1619.6 2111.6,1655.1 2070.6,1655.1" fill="#ff1e24"/>
<polygon points="2091.1,1600.9 2111.6,1636.4 2070.6,1636.4" fill="#ff1e24"/>
<polygon points="2100.2,1582.3 2120.7,1617.8 2079.7,1617.8" fill="#ff1e24"/>
<polygon points="2100.2,1563.6 2120.7,1599.1 2079.7,1599.1" fill="#ff1e24"/>
<polygon points="2109.3,1545 2129.8,1580.5 2088.8,1580.5" fill="#ff1e24"/>
<polygon points="2109.3,1526.3 2129.8,1561.8 2088.8,1561.8" fill="#ff1e24"/>
<polygon points="2136.4,1507.7 2156.9,1543.2 2115.9,1543.2" fill="#ff1e24"/>
<polygon points="2181.7,1489 2202.2,1524.5 2161.2,1524.5" fill="#ff1e24"/>
<polygon points="2190.8,1470.4 2211.3,1505.9 2170.3,1505.9" fill="#ff1e24"/>
<polygon points="2190.8,1451.7 2211.3,1487.2 2170.3,1487.2" fill="#ff1e24"/>
<polygon points="2190.8,1433.1 2211.3,1468.6 2170.3,1468.6" fill="#ff1e24"/>
<polygon points="2199.9,1414.4 2220.4,1449.9 2179.4,1449.9" fill="#ff1e24"/>
<polygon points="2199.9,1395.8 2220.4,1431.3 2179.4,1431.3" fill="#ff1e24"/>
<polygon points="2208.9,1377.1 2229.4,1412.6 2188.4,1412.6" fill="#ff1e24"/>
<polygon points="2208.9,1358.5 2229.4,1394 2188.4,1394" fill="#ff1e24"/>
<polygon points="2218,1339.8 2238.5,1375.3 2197.5,1375.3" fill="#ff1e24"/>
<polygon points="2218,1321.2 2238.5,1356.7 2197.5,1356.7" fill="#ff1e24"/>
<polygon points="2227,1302.5 2247.5,1338 2206.5,1338" fill="#ff1e24"/>
<polygon points="2236.1,1283.9 2256.6,1319.4 2215.6,1319.4" fill="#ff1e24"/>
<polygon points="2245.2,1265.2 2265.7,1300.7 2224.7,1300.7" fill="#ff1e24"/>
<polygon points="2254.2,1246.6 2274.7,1282.1 2233.7,1282.1" fill="#ff1e24"/>
<polygon points="2272.3,1227.9 2292.8,1263.4 2251.8,1263.4" fill="#ff1e24"/>
<polygon points="2281.4,1209.3 2301.9,1244.8 2260.9,1244.8" fill="#ff1e24"/>
<polygon points="2290.5,1190.6 2311,1226.1 2270,1226.1" fill="#ff1e24"/>
<polygon points="2299.5,1172 2320,1207.5 2279,1207.5" fill="#ff1e24"/>
<polygon points="2308.6,1153.3 2329.1,1188.8 2288.1,1188.8" fill="#ff1e24"/>
<polygon points="2317.6,1134.7 2338.1,1170.2 2297.1,1170.2" fill="#ff1e24"/>
<polygon points="2326.7,1116 2347.2,1151.5 2306.2,1151.5" fill="#ff1e24"/>
<polygon points="2335.8,1097.4 2356.3,1132.9 2315.3,1132.9" fill="#ff1e24"/>
<polygon points="2344.8,1078.7 2365.3,1114.2 2324.3,1114.2" fill="#ff1e24"/>
<polygon points="2344.8,1060.1 2365.3,1095.6 2324.3,1095.6" fill="#ff1e24"/>
<polygon points="2353.9,1041.4 2374.4,1076.9 2333.4,1076.9" fill="#ff1e24"/>
<polygon points="2362.9,1022.8 2383.4,1058.3 2342.4,1058.3" fill="#ff1e24"/>
<circle cx="1476" cy="1645.1" r="16.8" fill="#2756ab"/>
<circle cx="1476" cy="1626.4" r="16.8" fill="#2756ab"/>
<circle cx="1476" cy="1607.8" r="16.8" fill="#2756ab"/>
<circle cx="1476" cy="1589.1" r="16.8" fill="#2756ab"/>
<circle cx="1476" cy="1570.5" r="16.8" fill="#2756ab"/>
<circle cx="1476" cy="1551.8" r="16.8" fill="#2756ab"/>
<circle cx="1476" cy="1533.2" r="16.8" fill="#2756ab"/>
<circle cx="1476" cy="1514.5" r="16.8" fill="#2756ab"/>
<circle cx="1476" cy="1495.9" r="16.8" fill="#2756ab"/>
<circle cx="1476" cy="1477.2" r="16.8" fill="#2756ab"/>
<circle cx="1479.8" cy="1458.6" r="16.8" fill="#2756ab"/>
<circle cx="1485.1" cy="1439.9" r="16.8" fill="#2756ab"/>
<circle cx="1491.6" cy="1421.3" r="16.8" fill="#2756ab"/>
<circle cx="1502.9" cy="1402.6" r="16.8" fill="#2756ab"/>
<circle cx="1512.1" cy="1384" r="16.8" fill="#2756ab"/>
<circle cx="1516.4" cy="1365.3" r="16.8" fill="#2756ab"/>
<circle cx="1521.8" cy="1346.7" r="16.8" fill="#2756ab"/>
<circle cx="1525.8" cy="1328" r="16.8" fill="#2756ab"/>
<circle cx="1526.8" cy="1309.4" r="16.8" fill="#2756ab"/>
<circle cx="1527.7" cy="1290.7" r="16.8" fill="#2756ab"/>
<circle cx="1530" cy="1272.1" r="16.8" fill="#2756ab"/>
<circle cx="1535.7" cy="1253.4" r="16.8" fill="#2756ab"/>
<circle cx="1545" cy="1234.8" r="16.8" fill="#2756ab"/>
<circle cx="1552" cy="1216.1" r="16.8" fill="#2756ab"/>
<circle cx="1555" cy="1197.5" r="16.8" fill="#2756ab"/>
<circle cx="1558.9" cy="1178.8" r="16.8" fill="#2756ab"/>
<circle cx="1563" cy="1160.2" r="16.8" fill="#2756ab"/>
<circle cx="1565.7" cy="1141.5" r="16.8" fill="#2756ab"/>
<circle cx="1567.6" cy="1122.9" r="16.8" fill="#2756ab"/>
<circle cx="1573.3" cy="1104.2" r="16.8" fill="#2756ab"/>
<circle cx="1576.9" cy="1085.6" r="16.8" fill="#2756ab"/>
<circle cx="1583.2" cy="1066.9" r="16.8" fill="#2756ab"/>
<circle cx="1591.6" cy="1048.3" r="16.8" fill="#2756ab"/>
<polygon points="1756,1625.3 1772.8,1654 1739.2,1654" fill="#fff" stroke="#ff1e24" stroke-width="4.2" stroke-linejoin="miter"/>
<polygon points="1775.2,1610.5 1792,1639.2 1758.4,1639.2" fill="#fff" stroke="#ff1e24" stroke-width="4.2" stroke-linejoin="miter"/>
<polygon points="1790,1595.8 1806.8,1624.5 1773.2,1624.5" fill="#fff" stroke="#ff1e24" stroke-width="4.2" stroke-linejoin="miter"/>
<polygon points="1808.8,1581 1825.6,1609.7 1792,1609.7" fill="#fff" stroke="#ff1e24" stroke-width="4.2" stroke-linejoin="miter"/>
<polygon points="1808.8,1566.2 1825.6,1594.9 1792,1594.9" fill="#fff" stroke="#ff1e24" stroke-width="4.2" stroke-linejoin="miter"/>
<polygon points="1813,1551.5 1829.8,1580.2 1796.2,1580.2" fill="#fff" stroke="#ff1e24" stroke-width="4.2" stroke-linejoin="miter"/>
<polygon points="1818.5,1536.7 1835.3,1565.4 1801.7,1565.4" fill="#fff" stroke="#ff1e24" stroke-width="4.2" stroke-linejoin="miter"/>
<polygon points="1845.7,1521.9 1862.5,1550.6 1828.9,1550.6" fill="#fff" stroke="#ff1e24" stroke-width="4.2" stroke-linejoin="miter"/>
<polygon points="1845.7,1507.2 1862.5,1535.9 1828.9,1535.9" fill="#fff" stroke="#ff1e24" stroke-width="4.2" stroke-linejoin="miter"/>
<polygon points="1874.5,1492.4 1891.3,1521.1 1857.7,1521.1" fill="#fff" stroke="#ff1e24" stroke-width="4.2" stroke-linejoin="miter"/>
<polygon points="1877.7,1477.6 1894.5,1506.3 1860.9,1506.3" fill="#fff" stroke="#ff1e24" stroke-width="4.2" stroke-linejoin="miter"/>
<polygon points="1882.5,1462.8 1899.3,1491.5 1865.7,1491.5" fill="#fff" stroke="#ff1e24" stroke-width="4.2" stroke-linejoin="miter"/>
<polygon points="1892,1448.1 1908.8,1476.8 1875.2,1476.8" fill="#fff" stroke="#ff1e24" stroke-width="4.2" stroke-linejoin="miter"/>
<polygon points="1937,1433.3 1953.8,1462 1920.2,1462" fill="#fff" stroke="#ff1e24" stroke-width="4.2" stroke-linejoin="miter"/>
<polygon points="1954.5,1418.5 1971.3,1447.2 1937.7,1447.2" fill="#fff" stroke="#ff1e24" stroke-width="4.2" stroke-linejoin="miter"/>
<polygon points="1957.7,1403.8 1974.5,1432.5 1940.9,1432.5" fill="#fff" stroke="#ff1e24" stroke-width="4.2" stroke-linejoin="miter"/>
<polygon points="1964,1389 1980.8,1417.7 1947.2,1417.7" fill="#fff" stroke="#ff1e24" stroke-width="4.2" stroke-linejoin="miter"/>
<polygon points="1970.5,1374.2 1987.3,1402.9 1953.7,1402.9" fill="#fff" stroke="#ff1e24" stroke-width="4.2" stroke-linejoin="miter"/>
<polygon points="1978.6,1359.5 1995.4,1388.2 1961.8,1388.2" fill="#fff" stroke="#ff1e24" stroke-width="4.2" stroke-linejoin="miter"/>
<polygon points="1993,1344.7 2009.8,1373.4 1976.2,1373.4" fill="#fff" stroke="#ff1e24" stroke-width="4.2" stroke-linejoin="miter"/>
<polygon points="1999.4,1329.9 2016.2,1358.6 1982.6,1358.6" fill="#fff" stroke="#ff1e24" stroke-width="4.2" stroke-linejoin="miter"/>
<polygon points="2007.4,1315.1 2024.2,1343.8 1990.6,1343.8" fill="#fff" stroke="#ff1e24" stroke-width="4.2" stroke-linejoin="miter"/>
<polygon points="2009,1300.4 2025.8,1329.1 1992.2,1329.1" fill="#fff" stroke="#ff1e24" stroke-width="4.2" stroke-linejoin="miter"/>
<polygon points="2009,1285.6 2025.8,1314.3 1992.2,1314.3" fill="#fff" stroke="#ff1e24" stroke-width="4.2" stroke-linejoin="miter"/>
<polygon points="2009,1270.8 2025.8,1299.5 1992.2,1299.5" fill="#fff" stroke="#ff1e24" stroke-width="4.2" stroke-linejoin="miter"/>
<polygon points="2017,1256.1 2033.8,1284.8 2000.2,1284.8" fill="#fff" stroke="#ff1e24" stroke-width="4.2" stroke-linejoin="miter"/>
<polygon points="2033,1241.3 2049.8,1270 2016.2,1270" fill="#fff" stroke="#ff1e24" stroke-width="4.2" stroke-linejoin="miter"/>
<polygon points="2034.6,1226.5 2051.4,1255.2 2017.8,1255.2" fill="#fff" stroke="#ff1e24" stroke-width="4.2" stroke-linejoin="miter"/>
<polygon points="2044.2,1211.8 2061,1240.5 2027.4,1240.5" fill="#fff" stroke="#ff1e24" stroke-width="4.2" stroke-linejoin="miter"/>
<polygon points="2058.6,1197 2075.4,1225.7 2041.8,1225.7" fill="#fff" stroke="#ff1e24" stroke-width="4.2" stroke-linejoin="miter"/>
<polygon points="2081,1182.2 2097.8,1210.9 2064.2,1210.9" fill="#fff" stroke="#ff1e24" stroke-width="4.2" stroke-linejoin="miter"/>
<polygon points="2117.8,1167.4 2134.6,1196.1 2101,1196.1" fill="#fff" stroke="#ff1e24" stroke-width="4.2" stroke-linejoin="miter"/>
<polygon points="2146.7,1152.7 2163.5,1181.4 2129.9,1181.4" fill="#fff" stroke="#ff1e24" stroke-width="4.2" stroke-linejoin="miter"/>
<polygon points="2148.3,1137.9 2165.1,1166.6 2131.5,1166.6" fill="#fff" stroke="#ff1e24" stroke-width="4.2" stroke-linejoin="miter"/>
<polygon points="2149.9,1123.1 2166.7,1151.8 2133.1,1151.8" fill="#fff" stroke="#ff1e24" stroke-width="4.2" stroke-linejoin="miter"/>
<polygon points="2162.7,1108.4 2179.5,1137.1 2145.9,1137.1" fill="#fff" stroke="#ff1e24" stroke-width="4.2" stroke-linejoin="miter"/>
<polygon points="2181.9,1093.6 2198.7,1122.3 2165.1,1122.3" fill="#fff" stroke="#ff1e24" stroke-width="4.2" stroke-linejoin="miter"/>
<polygon points="2201,1078.8 2217.8,1107.5 2184.2,1107.5" fill="#fff" stroke="#ff1e24" stroke-width="4.2" stroke-linejoin="miter"/>
<polygon points="2271.5,1064.1 2288.3,1092.8 2254.7,1092.8" fill="#fff" stroke="#ff1e24" stroke-width="4.2" stroke-linejoin="miter"/>
<polygon points="2300.4,1049.3 2317.2,1078 2283.6,1078" fill="#fff" stroke="#ff1e24" stroke-width="4.2" stroke-linejoin="miter"/>
<polygon points="2321.2,1034.5 2338,1063.2 2304.4,1063.2" fill="#fff" stroke="#ff1e24" stroke-width="4.2" stroke-linejoin="miter"/>
<polygon points="2342,1019.7 2358.8,1048.4 2325.2,1048.4" fill="#fff" stroke="#ff1e24" stroke-width="4.2" stroke-linejoin="miter"/>
<polygon points="2362.8,1005 2379.6,1033.7 2346,1033.7" fill="#fff" stroke="#ff1e24" stroke-width="4.2" stroke-linejoin="miter"/>
<circle cx="1469.2" cy="1646.1" r="15" fill="#fff" stroke="#2756ab" stroke-width="3.8"/>
<circle cx="1469.2" cy="1631.3" r="15" fill="#fff" stroke="#2756ab" stroke-width="3.8"/>
<circle cx="1469.2" cy="1616.6" r="15" fill="#fff" stroke="#2756ab" stroke-width="3.8"/>
<circle cx="1469.2" cy="1601.8" r="15" fill="#fff" stroke="#2756ab" stroke-width="3.8"/>
<circle cx="1469.2" cy="1587" r="15" fill="#fff" stroke="#2756ab" stroke-width="3.8"/>
<circle cx="1469.5" cy="1572.3" r="15" fill="#fff" stroke="#2756ab" stroke-width="3.8"/>
<circle cx="1474" cy="1557.5" r="15" fill="#fff" stroke="#2756ab" stroke-width="3.8"/>
<circle cx="1478.5" cy="1542.7" r="15" fill="#fff" stroke="#2756ab" stroke-width="3.8"/>
<circle cx="1479" cy="1528" r="15" fill="#fff" stroke="#2756ab" stroke-width="3.8"/>
<circle cx="1479" cy="1513.2" r="15" fill="#fff" stroke="#2756ab" stroke-width="3.8"/>
<circle cx="1482" cy="1498.4" r="15" fill="#fff" stroke="#2756ab" stroke-width="3.8"/>
<circle cx="1484.5" cy="1483.6" r="15" fill="#fff" stroke="#2756ab" stroke-width="3.8"/>
<circle cx="1490" cy="1468.9" r="15" fill="#fff" stroke="#2756ab" stroke-width="3.8"/>
<circle cx="1503" cy="1454.1" r="15" fill="#fff" stroke="#2756ab" stroke-width="3.8"/>
<circle cx="1510" cy="1439.3" r="15" fill="#fff" stroke="#2756ab" stroke-width="3.8"/>
<circle cx="1527" cy="1424.6" r="15" fill="#fff" stroke="#2756ab" stroke-width="3.8"/>
<circle cx="1529" cy="1409.8" r="15" fill="#fff" stroke="#2756ab" stroke-width="3.8"/>
<circle cx="1527.4" cy="1395" r="15" fill="#fff" stroke="#2756ab" stroke-width="3.8"/>
<circle cx="1528.6" cy="1380.3" r="15" fill="#fff" stroke="#2756ab" stroke-width="3.8"/>
<circle cx="1537.1" cy="1365.5" r="15" fill="#fff" stroke="#2756ab" stroke-width="3.8"/>
<circle cx="1551.8" cy="1350.7" r="15" fill="#fff" stroke="#2756ab" stroke-width="3.8"/>
<circle cx="1555.4" cy="1335.9" r="15" fill="#fff" stroke="#2756ab" stroke-width="3.8"/>
<circle cx="1556.7" cy="1321.2" r="15" fill="#fff" stroke="#2756ab" stroke-width="3.8"/>
<circle cx="1564" cy="1306.4" r="15" fill="#fff" stroke="#2756ab" stroke-width="3.8"/>
<circle cx="1582.3" cy="1291.6" r="15" fill="#fff" stroke="#2756ab" stroke-width="3.8"/>
<circle cx="1582.3" cy="1276.9" r="15" fill="#fff" stroke="#2756ab" stroke-width="3.8"/>
<circle cx="1581" cy="1262.1" r="15" fill="#fff" stroke="#2756ab" stroke-width="3.8"/>
<circle cx="1581" cy="1247.3" r="15" fill="#fff" stroke="#2756ab" stroke-width="3.8"/>
<circle cx="1581" cy="1232.6" r="15" fill="#fff" stroke="#2756ab" stroke-width="3.8"/>
<circle cx="1590.8" cy="1217.8" r="15" fill="#fff" stroke="#2756ab" stroke-width="3.8"/>
<circle cx="1590.8" cy="1203" r="15" fill="#fff" stroke="#2756ab" stroke-width="3.8"/>
<circle cx="1603" cy="1188.2" r="15" fill="#fff" stroke="#2756ab" stroke-width="3.8"/>
<circle cx="1615.2" cy="1173.5" r="15" fill="#fff" stroke="#2756ab" stroke-width="3.8"/>
<circle cx="1627.4" cy="1158.7" r="15" fill="#fff" stroke="#2756ab" stroke-width="3.8"/>
<circle cx="1631.1" cy="1143.9" r="15" fill="#fff" stroke="#2756ab" stroke-width="3.8"/>
<circle cx="1646.9" cy="1129.2" r="15" fill="#fff" stroke="#2756ab" stroke-width="3.8"/>
<circle cx="1646.9" cy="1114.4" r="15" fill="#fff" stroke="#2756ab" stroke-width="3.8"/>
<circle cx="1666.5" cy="1099.6" r="15" fill="#fff" stroke="#2756ab" stroke-width="3.8"/>
<circle cx="1673.8" cy="1084.9" r="15" fill="#fff" stroke="#2756ab" stroke-width="3.8"/>
<circle cx="1718.9" cy="1070.1" r="15" fill="#fff" stroke="#2756ab" stroke-width="3.8"/>
<circle cx="1737.2" cy="1055.3" r="15" fill="#fff" stroke="#2756ab" stroke-width="3.8"/>
<circle cx="1805.6" cy="1040.5" r="15" fill="#fff" stroke="#2756ab" stroke-width="3.8"/>
<circle cx="1864.1" cy="1025.8" r="15" fill="#fff" stroke="#2756ab" stroke-width="3.8"/>
<circle cx="1841" cy="1094.7" r="15" fill="#fff" stroke="#2756ab" stroke-width="3.8"/>
<circle cx="1841" cy="1147.9" r="16.8" fill="#2756ab"/>
<polygon points="1841,1178.4 1857.8,1207.1 1824.2,1207.1" fill="#fff" stroke="#ff1e24" stroke-width="4.2" stroke-linejoin="miter"/>
<polygon points="1841,1228 1861.5,1263.5 1820.5,1263.5" fill="#ff1e24"/>
<text font-size="43.5" text-anchor="start" fill="#1a1a1a" transform="translate(1888.5 1106.9) scale(0.95 1)">SL V<tspan dy="13">hold</tspan></text>
<text font-size="43.5" text-anchor="start" fill="#1a1a1a" transform="translate(1888.5 1159.7) scale(0.95 1)">DL V<tspan dy="13">hold</tspan></text>
<text font-size="43.5" text-anchor="start" fill="#1a1a1a" transform="translate(1888.5 1207.8) scale(0.95 1)">SL V<tspan dy="13">th</tspan></text>
<text font-size="43.5" text-anchor="start" fill="#1a1a1a" transform="translate(1888.5 1262.2) scale(0.95 1)">DL V<tspan dy="13">th</tspan></text>
<text font-size="71.4" text-anchor="start" font-weight="bold" fill="#2756ab" transform="translate(1611 1355) scale(0.95 1)">V<tspan dx="1" dy="23" font-size="43.5">hold</tspan></text>
<text font-size="98.3" text-anchor="start" font-weight="bold" fill="#ff1e24" transform="translate(2066 1345.5) scale(0.95 1)">V<tspan dx="1" dy="24" font-size="56.9">th</tspan></text>
<text font-size="59" text-anchor="start" fill="#111" transform="translate(1504 1633) scale(0.967 1)">device-to-device</text>
<rect x="1417.2" y="984" width="1002.3" height="6.5" fill="#444"/>
<rect x="1417.2" y="1682" width="1002.3" height="5" fill="#000"/>
<rect x="1417.2" y="984" width="5" height="703" fill="#333"/>
<rect x="2414.5" y="984" width="5" height="703" fill="#555"/>
<line x1="1419.7" y1="1653.5" x2="1435.7" y2="1653.5" stroke="#222" stroke-width="3"/>
<text font-size="61.1" text-anchor="end" fill="#000" transform="translate(1404 1672) scale(0.95 1)">0</text>
<line x1="1419.7" y1="1590" x2="1428.7" y2="1590" stroke="#222" stroke-width="3"/>
<line x1="1419.7" y1="1526.5" x2="1435.7" y2="1526.5" stroke="#222" stroke-width="3"/>
<text font-size="61.1" text-anchor="end" fill="#000" transform="translate(1404 1545) scale(0.95 1)">20</text>
<line x1="1419.7" y1="1463" x2="1428.7" y2="1463" stroke="#222" stroke-width="3"/>
<line x1="1419.7" y1="1399.5" x2="1435.7" y2="1399.5" stroke="#222" stroke-width="3"/>
<text font-size="61.1" text-anchor="end" fill="#000" transform="translate(1404 1418) scale(0.95 1)">40</text>
<line x1="1419.7" y1="1336" x2="1428.7" y2="1336" stroke="#222" stroke-width="3"/>
<line x1="1419.7" y1="1272.5" x2="1435.7" y2="1272.5" stroke="#222" stroke-width="3"/>
<text font-size="61.1" text-anchor="end" fill="#000" transform="translate(1404 1291) scale(0.95 1)">60</text>
<line x1="1419.7" y1="1209" x2="1428.7" y2="1209" stroke="#222" stroke-width="3"/>
<line x1="1419.7" y1="1145.5" x2="1435.7" y2="1145.5" stroke="#222" stroke-width="3"/>
<text font-size="61.1" text-anchor="end" fill="#000" transform="translate(1404 1164) scale(0.95 1)">80</text>
<line x1="1419.7" y1="1082" x2="1428.7" y2="1082" stroke="#222" stroke-width="3"/>
<line x1="1419.7" y1="1018.5" x2="1435.7" y2="1018.5" stroke="#222" stroke-width="3"/>
<text font-size="61.1" text-anchor="end" fill="#000" transform="translate(1404 1037) scale(0.95 1)">100</text>
<line x1="1466" y1="1683.5" x2="1466" y2="1667.5" stroke="#222" stroke-width="3"/>
<text font-size="61.1" text-anchor="middle" fill="#000" transform="translate(1466 1745.4) scale(0.95 1)">0.0</text>
<line x1="1556.6" y1="1683.5" x2="1556.6" y2="1674.5" stroke="#222" stroke-width="3"/>
<line x1="1647.2" y1="1683.5" x2="1647.2" y2="1667.5" stroke="#222" stroke-width="3"/>
<text font-size="61.1" text-anchor="middle" fill="#000" transform="translate(1647.2 1745.4) scale(0.95 1)">0.2</text>
<line x1="1737.8" y1="1683.5" x2="1737.8" y2="1674.5" stroke="#222" stroke-width="3"/>
<line x1="1828.4" y1="1683.5" x2="1828.4" y2="1667.5" stroke="#222" stroke-width="3"/>
<text font-size="61.1" text-anchor="middle" fill="#000" transform="translate(1828.4 1745.4) scale(0.95 1)">0.4</text>
<line x1="1919" y1="1683.5" x2="1919" y2="1674.5" stroke="#222" stroke-width="3"/>
<line x1="2009.6" y1="1683.5" x2="2009.6" y2="1667.5" stroke="#222" stroke-width="3"/>
<text font-size="61.1" text-anchor="middle" fill="#000" transform="translate(2009.6 1745.4) scale(0.95 1)">0.6</text>
<line x1="2100.2" y1="1683.5" x2="2100.2" y2="1674.5" stroke="#222" stroke-width="3"/>
<line x1="2190.8" y1="1683.5" x2="2190.8" y2="1667.5" stroke="#222" stroke-width="3"/>
<text font-size="61.1" text-anchor="middle" fill="#000" transform="translate(2190.8 1745.4) scale(0.95 1)">0.8</text>
<line x1="2281.4" y1="1683.5" x2="2281.4" y2="1674.5" stroke="#222" stroke-width="3"/>
<line x1="2372" y1="1683.5" x2="2372" y2="1667.5" stroke="#222" stroke-width="3"/>
<text font-size="61.1" text-anchor="middle" fill="#000" transform="translate(2372 1745.4) scale(0.95 1)">1.0</text>
<text font-size="59" text-anchor="middle" font-weight="bold" fill="#000" transform="translate(1289 1337) rotate(-90) scale(0.965 1)">Cumulative Probability (%)</text>
<text font-size="60" text-anchor="middle" font-weight="bold" fill="#000" transform="translate(1915.3 1811) scale(0.965 1)">Voltage (V)</text>
<text font-size="78.7" text-anchor="middle" font-weight="bold" fill="#000" transform="translate(1321 1839.5) scale(1.0 1)">(d)</text>
</g>
</g>
</svg>
</body></html>
